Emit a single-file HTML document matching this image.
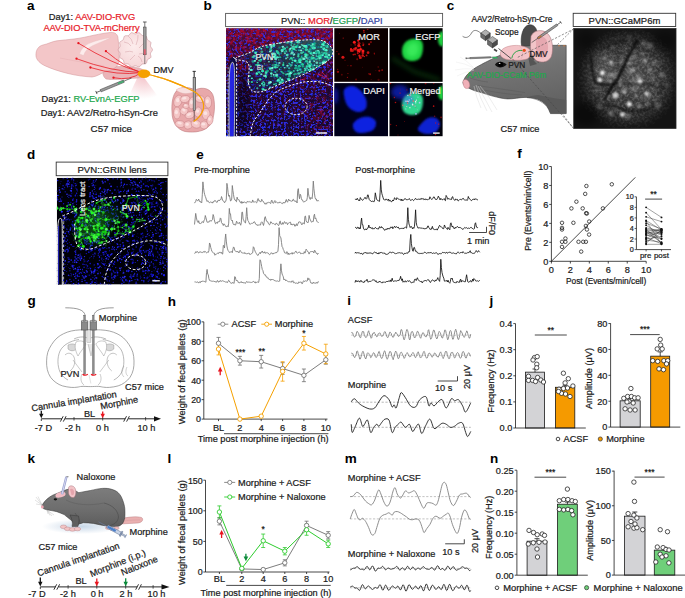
<!DOCTYPE html>
<html><head><meta charset="utf-8"><style>
html,body{margin:0;padding:0;background:#fff;}
svg{display:block;}
text{font-family:"Liberation Sans", sans-serif;}
</style></head><body>
<svg width="685" height="598" viewBox="0 0 685 598">
<defs>
<clipPath id="cb"><rect x="226.0" y="28.2" width="107.0" height="107.99999999999999"/></clipPath>
<filter id="fb_blue" x="226" y="28.2" width="107" height="108" filterUnits="userSpaceOnUse" color-interpolation-filters="sRGB"><feTurbulence type="fractalNoise" baseFrequency="0.45" numOctaves="2" seed="3" result="n"/><feColorMatrix in="n" type="matrix" values="0 0 0 0 0.16 0 0 0 0 0.2 0 0 0 0 1.0 0 7 0 0 -3.5" result="l0"/><feMerge result="m"><feMergeNode in="l0"/></feMerge><feGaussianBlur in="m" stdDeviation="0.35"/></filter>
<filter id="fb_red" x="226" y="28.2" width="107" height="108" filterUnits="userSpaceOnUse" color-interpolation-filters="sRGB"><feTurbulence type="fractalNoise" baseFrequency="0.3" numOctaves="2" seed="9" result="n"/><feColorMatrix in="n" type="matrix" values="0 0 0 0 0.7 0 0 0 0 0.03 0 0 0 0 0.14 3.0 0 0 0 -1.25" result="l0"/><feMerge result="m"><feMergeNode in="l0"/></feMerge><feGaussianBlur in="m" stdDeviation="0.5"/></filter>
<linearGradient id="gb_mask" x1="0" y1="0" x2="0" y2="1"><stop offset="0" stop-color="#fff" stop-opacity="1"/><stop offset="0.25" stop-color="#fff" stop-opacity="0.75"/><stop offset="0.55" stop-color="#fff" stop-opacity="0.25"/><stop offset="1" stop-color="#fff" stop-opacity="0.15"/></linearGradient>
<radialGradient id="gb_mask2" cx="0.5" cy="0.5" r="0.5"><stop offset="0" stop-color="#fff" stop-opacity="0.6"/><stop offset="1" stop-color="#fff" stop-opacity="0"/></radialGradient>
<mask id="mb_red" maskUnits="userSpaceOnUse" x="226.0" y="28.2" width="107.0" height="107.99999999999999"><rect x="226.0" y="28.2" width="107.0" height="107.99999999999999" fill="url(#gb_mask)"/><ellipse cx="322" cy="115" rx="30" ry="30" fill="url(#gb_mask2)"/></mask>
<linearGradient id="gb_red" x1="0" y1="0" x2="0" y2="1"><stop offset="0" stop-color="#a01040" stop-opacity="0.55"/><stop offset="0.3" stop-color="#801040" stop-opacity="0.25"/><stop offset="1" stop-color="#401060" stop-opacity="0.1"/></linearGradient>
<linearGradient id="gpvn" x1="0" y1="0.5" x2="1" y2="0.3"><stop offset="0" stop-color="#0a1850" stop-opacity="0.3"/><stop offset="0.5" stop-color="#0a4a50" stop-opacity="0.6"/><stop offset="1" stop-color="#108070" stop-opacity="0.7"/></linearGradient>
<filter id="bl1" x="-50%" y="-50%" width="200%" height="200%"><feGaussianBlur stdDeviation="1.2"/></filter>
<filter id="bl2" x="-50%" y="-50%" width="200%" height="200%"><feGaussianBlur stdDeviation="2.2"/></filter>
<filter id="bl05" x="-50%" y="-50%" width="200%" height="200%"><feGaussianBlur stdDeviation="0.5"/></filter>
<clipPath id="cmor"><rect x="334.3" y="28.2" width="53.7" height="53.6"/></clipPath>
<clipPath id="cegfp"><rect x="389.5" y="28.2" width="53.1" height="53.6"/></clipPath>
<clipPath id="cdapi"><rect x="334.3" y="83.1" width="53.7" height="53.1"/></clipPath>
<clipPath id="cmrg"><rect x="389.5" y="83.1" width="53.1" height="53.1"/></clipPath>
<clipPath id="cc"><rect x="573.7" y="28.4" width="102.3" height="100.2"/></clipPath>
<radialGradient id="gc1" cx="0.5" cy="0.5" r="0.5"><stop offset="0" stop-color="#3c3c3c"/><stop offset="0.5" stop-color="#333"/><stop offset="0.8" stop-color="#242424"/><stop offset="1" stop-color="#161616" stop-opacity="0"/></radialGradient>
<radialGradient id="gcm" cx="0.5" cy="0.5" r="0.5"><stop offset="0" stop-color="#fff"/><stop offset="0.6" stop-color="#fff"/><stop offset="1" stop-color="#fff" stop-opacity="0.15"/></radialGradient>
<mask id="mc1" maskUnits="userSpaceOnUse" x="573" y="28" width="104" height="101"><ellipse cx="628" cy="79" rx="52" ry="52" fill="url(#gcm)"/></mask>
<filter id="fc1" x="573.7" y="28.4" width="102.3" height="100.2" filterUnits="userSpaceOnUse" color-interpolation-filters="sRGB"><feTurbulence type="fractalNoise" baseFrequency="0.4" numOctaves="2" seed="7" result="n"/><feColorMatrix in="n" type="matrix" values="0 0 0 0 1 0 0 0 0 1 0 0 0 0 1 2.0 0 0 0 -0.75" result="l0"/><feMerge result="m"><feMergeNode in="l0"/></feMerge><feGaussianBlur in="m" stdDeviation="0.3"/></filter>
<filter id="bl15" x="-50%" y="-50%" width="200%" height="200%"><feGaussianBlur stdDeviation="1.5"/></filter>
<filter id="bl4" x="-50%" y="-50%" width="200%" height="200%"><feGaussianBlur stdDeviation="4"/></filter>
<filter id="bl4d" x="-50%" y="-50%" width="200%" height="200%"><feGaussianBlur stdDeviation="4"/></filter>
<clipPath id="cd"><rect x="56.8" y="177.8" width="111" height="106.8"/></clipPath>
<filter id="fd1" x="56.8" y="177.8" width="111" height="106.8" filterUnits="userSpaceOnUse" color-interpolation-filters="sRGB"><feTurbulence type="fractalNoise" baseFrequency="0.42" numOctaves="2" seed="12" result="n"/><feColorMatrix in="n" type="matrix" values="0 0 0 0 0.12 0 0 0 0 0.15 0 0 0 0 1.0 0 0 6 0 -3.2" result="l0"/><feMerge result="m"><feMergeNode in="l0"/></feMerge></filter>
<radialGradient id="gcone" cx="0.5" cy="0.2" r="0.7"><stop offset="0" stop-color="#f0b0b8" stop-opacity="0.7"/><stop offset="1" stop-color="#f0b0b8" stop-opacity="0"/></radialGradient>
<radialGradient id="gcb" cx="0.45" cy="0.4" r="0.6"><stop offset="0" stop-color="#fcecec"/><stop offset="1" stop-color="#f6d6d8"/></radialGradient>
<radialGradient id="gint" cx="0.45" cy="0.45" r="0.6"><stop offset="0" stop-color="#f2c0c0"/><stop offset="1" stop-color="#e09a9c"/></radialGradient>
<linearGradient id="ghead" x1="0" y1="0" x2="0.3" y2="1"><stop offset="0" stop-color="#858585"/><stop offset="0.5" stop-color="#727272"/><stop offset="1" stop-color="#636363"/></linearGradient>
<radialGradient id="gsh" cx="0.5" cy="0.5" r="0.5"><stop offset="0" stop-color="#c8d8e8"/><stop offset="1" stop-color="#c8d8e8" stop-opacity="0"/></radialGradient>
<linearGradient id="gbody" x1="0" y1="0" x2="0" y2="1"><stop offset="0" stop-color="#7c7c7c"/><stop offset="0.6" stop-color="#6c6c6c"/><stop offset="1" stop-color="#5c5c5c"/></linearGradient>
</defs>
<text x="27" y="10" font-size="13.5" fill="#000" font-weight="bold">a</text>
<text x="203.6" y="9.6" font-size="13.5" fill="#000" font-weight="bold">b</text>
<text x="446.8" y="9.6" font-size="13.5" fill="#000" font-weight="bold">c</text>
<text x="27" y="158.5" font-size="13.5" fill="#000" font-weight="bold">d</text>
<text x="196.3" y="158.7" font-size="13.5" fill="#000" font-weight="bold">e</text>
<text x="517.3" y="158.2" font-size="13.5" fill="#000" font-weight="bold">f</text>
<text x="27.5" y="305" font-size="13.5" fill="#000" font-weight="bold">g</text>
<text x="167.8" y="306" font-size="13.5" fill="#000" font-weight="bold">h</text>
<text x="347.3" y="305.2" font-size="13.5" fill="#000" font-weight="bold">i</text>
<text x="489.5" y="305.2" font-size="13.5" fill="#000" font-weight="bold">j</text>
<text x="27.6" y="462.7" font-size="13.5" fill="#000" font-weight="bold">k</text>
<text x="167.5" y="462.5" font-size="13.5" fill="#000" font-weight="bold">l</text>
<text x="344.8" y="462.7" font-size="13.5" fill="#000" font-weight="bold">m</text>
<text x="490" y="462.5" font-size="13.5" fill="#000" font-weight="bold">n</text>
<rect x="225.6" y="13.4" width="217" height="13.2" fill="#fff" stroke="#555" stroke-width="0.9"/>
<text x="331.8" y="23.6" font-size="9.4" text-anchor="middle" fill="#1a1a1a" stroke="#1a1a1a" stroke-width="0.22">PVN:: <tspan fill="#e8202a" stroke="#e8202a">MOR</tspan>/<tspan fill="#20a050" stroke="#20a050">EGFP</tspan>/<tspan fill="#3040a0" stroke="#3040a0">DAPI</tspan></text>
<g clip-path="url(#cb)">
<rect x="226" y="28.2" width="107" height="108" fill="#0e0626" stroke="none" stroke-width="0.8"/>
<rect x="226" y="28.2" width="107" height="108" fill="url(#gb_red)" stroke="none" stroke-width="0.8"/>
<rect x="226" y="28.2" width="107" height="108" fill="#000" stroke="none" stroke-width="0.8" filter="url(#fb_blue)" opacity="0.9"/>
<rect x="226" y="28.2" width="107" height="108" fill="#000" stroke="none" stroke-width="0.8" filter="url(#fb_red)" mask="url(#mb_red)"/>
<path d="M228.5,137 C228.45,130.83 228.15,111.17 228.2,100 C228.25,88.83 228.33,76.92 228.8,70 C229.27,63.08 230.05,60.58 231,58.5 C231.95,56.42 233.58,56.92 234.5,57.5 C235.42,58.08 236.08,56.58 236.5,62 C236.92,67.42 236.95,77.5 237,90 C237.05,102.5 236.83,129.17 236.8,137" fill="#0a0a40" stroke="none" stroke-width="0.8" opacity="0.9"/>
<path d="M229.6,137 C229.57,130.83 229.37,110.83 229.4,100 C229.43,89.17 229.47,78 229.8,72 C230.13,66 230.83,65.25 231.4,64 C231.97,62.75 232.77,62.67 233.2,64.5 C233.63,66.33 233.87,67.42 234,75 C234.13,82.58 234.03,99.67 234,110 C233.97,120.33 233.83,132.5 233.8,137" fill="#2a2aff" stroke="none" stroke-width="0.8" opacity="0.85"/>
<ellipse cx="243" cy="100" rx="7" ry="30" fill="#000010" opacity="0.45" filter="url(#bl2)"/>
<path d="M235.2,58.8 C235.2,57.08 243.92,55.23 248.3,53.2 C252.68,51.17 256.18,48.32 261.5,46.6 C266.82,44.88 273.03,44 280.2,42.9 C287.37,41.8 297.32,40.32 304.5,40 C311.68,39.68 318.62,39.28 323.3,41 C327.98,42.72 331.67,47.18 332.6,50.3 C333.53,53.42 332.02,56.57 328.9,59.7 C325.78,62.83 318.9,66.28 313.9,69.1 C308.9,71.92 304.52,74.1 298.9,76.6 C293.28,79.1 286.43,81.6 280.2,84.1 C273.97,86.6 266.18,90.52 261.5,91.6 C256.82,92.68 254.3,92.17 252.1,90.6 C249.9,89.03 248.93,86.72 248.3,82.2 C247.67,77.68 250.48,67.4 248.3,63.5 C246.12,59.6 235.2,60.52 235.2,58.8Z" fill="url(#gpvn)" stroke="none" stroke-width="0.8"/>
<ellipse cx="265.18" cy="90" rx="1.31" ry="1.09" fill="#30e8b0" opacity="0.65"/>
<ellipse cx="317.2" cy="65.84" rx="0.75" ry="0.62" fill="#10b090" opacity="0.78"/>
<ellipse cx="252.97" cy="51.41" rx="0.94" ry="0.79" fill="#10b090" opacity="0.79"/>
<ellipse cx="279.39" cy="82.97" rx="0.77" ry="0.64" fill="#20d0a0" opacity="0.88"/>
<ellipse cx="296.76" cy="46.53" rx="1.51" ry="1.26" fill="#10b090" opacity="0.88"/>
<ellipse cx="297.01" cy="62.59" rx="1.44" ry="1.2" fill="#10b090" opacity="0.65"/>
<ellipse cx="313.02" cy="44.17" rx="1.31" ry="1.09" fill="#80ffe0" opacity="0.94"/>
<ellipse cx="289.82" cy="49.48" rx="1.16" ry="0.97" fill="#40f0c0" opacity="0.86"/>
<ellipse cx="271.32" cy="50.65" rx="0.93" ry="0.78" fill="#50ffd0" opacity="0.93"/>
<ellipse cx="324.34" cy="48.29" rx="0.86" ry="0.72" fill="#80ffe0" opacity="0.94"/>
<ellipse cx="315.88" cy="59.16" rx="1.2" ry="1" fill="#20d0a0" opacity="0.66"/>
<ellipse cx="295.2" cy="60.58" rx="0.78" ry="0.65" fill="#80ffe0" opacity="0.64"/>
<ellipse cx="263.7" cy="85.38" rx="1.53" ry="1.28" fill="#40f0c0" opacity="0.67"/>
<ellipse cx="275.04" cy="61.84" rx="0.89" ry="0.74" fill="#20d0a0" opacity="0.8"/>
<ellipse cx="287.11" cy="47.19" rx="1.21" ry="1.01" fill="#10b090" opacity="0.86"/>
<ellipse cx="309.02" cy="66.27" rx="1.5" ry="1.25" fill="#40f0c0" opacity="0.76"/>
<ellipse cx="277.11" cy="50.95" rx="1.09" ry="0.91" fill="#30e8b0" opacity="0.68"/>
<ellipse cx="295.64" cy="65.58" rx="1.04" ry="0.87" fill="#40f0c0" opacity="0.86"/>
<ellipse cx="320.39" cy="55.54" rx="1.23" ry="1.03" fill="#80ffe0" opacity="0.81"/>
<ellipse cx="306.47" cy="57.86" rx="1.21" ry="1.01" fill="#80ffe0" opacity="0.77"/>
<ellipse cx="310.25" cy="53.36" rx="0.82" ry="0.68" fill="#50ffd0" opacity="0.99"/>
<ellipse cx="269.39" cy="82.74" rx="1.56" ry="1.3" fill="#80ffe0" opacity="0.76"/>
<ellipse cx="318.85" cy="58.5" rx="1.39" ry="1.16" fill="#10b090" opacity="0.63"/>
<ellipse cx="285.92" cy="74.47" rx="1.2" ry="1" fill="#20d0a0" opacity="0.84"/>
<ellipse cx="298.38" cy="55.92" rx="1.02" ry="0.85" fill="#50ffd0" opacity="0.63"/>
<ellipse cx="299.25" cy="62.03" rx="1.47" ry="1.23" fill="#20d0a0" opacity="0.77"/>
<ellipse cx="314.62" cy="44.29" rx="0.97" ry="0.81" fill="#20d0a0" opacity="0.73"/>
<ellipse cx="262.7" cy="89.11" rx="1.38" ry="1.15" fill="#20d0a0" opacity="0.93"/>
<ellipse cx="310.52" cy="64.38" rx="1.51" ry="1.26" fill="#20d0a0" opacity="0.97"/>
<ellipse cx="260.04" cy="79.39" rx="1.47" ry="1.22" fill="#40f0c0" opacity="0.87"/>
<ellipse cx="270.57" cy="82.16" rx="1.3" ry="1.08" fill="#80ffe0" opacity="0.97"/>
<ellipse cx="302.62" cy="45.59" rx="0.75" ry="0.62" fill="#50ffd0" opacity="0.8"/>
<ellipse cx="271.35" cy="58.88" rx="1.55" ry="1.29" fill="#80ffe0" opacity="0.61"/>
<ellipse cx="254.46" cy="55.95" rx="1.43" ry="1.19" fill="#80ffe0" opacity="0.69"/>
<ellipse cx="277.5" cy="57.35" rx="1.4" ry="1.17" fill="#50ffd0" opacity="0.9"/>
<ellipse cx="290.38" cy="64.63" rx="0.87" ry="0.72" fill="#20d0a0" opacity="0.86"/>
<ellipse cx="310.99" cy="69.95" rx="1.43" ry="1.19" fill="#50ffd0" opacity="0.76"/>
<ellipse cx="289.25" cy="73.8" rx="1.47" ry="1.23" fill="#10b090" opacity="0.74"/>
<ellipse cx="277.16" cy="70.82" rx="1.11" ry="0.93" fill="#10b090" opacity="0.68"/>
<ellipse cx="293.79" cy="74.26" rx="0.84" ry="0.7" fill="#10b090" opacity="0.7"/>
<ellipse cx="323.47" cy="49.46" rx="0.75" ry="0.63" fill="#80ffe0" opacity="0.93"/>
<ellipse cx="256.41" cy="55.03" rx="0.76" ry="0.63" fill="#20d0a0" opacity="0.73"/>
<ellipse cx="282.84" cy="46.83" rx="1.32" ry="1.1" fill="#80ffe0" opacity="0.88"/>
<ellipse cx="313.5" cy="55.7" rx="0.77" ry="0.64" fill="#80ffe0" opacity="0.72"/>
<ellipse cx="272.39" cy="53.67" rx="1.39" ry="1.16" fill="#80ffe0" opacity="0.88"/>
<ellipse cx="314.44" cy="65.2" rx="0.98" ry="0.82" fill="#80ffe0" opacity="0.96"/>
<ellipse cx="289.35" cy="63.54" rx="1.03" ry="0.86" fill="#20d0a0" opacity="0.85"/>
<ellipse cx="299.32" cy="47.57" rx="0.91" ry="0.75" fill="#80ffe0" opacity="0.87"/>
<ellipse cx="326.83" cy="56.9" rx="1.37" ry="1.14" fill="#30e8b0" opacity="0.78"/>
<ellipse cx="327.03" cy="60.16" rx="0.82" ry="0.68" fill="#10b090" opacity="0.87"/>
<ellipse cx="306.19" cy="55.9" rx="1.46" ry="1.21" fill="#30e8b0" opacity="0.84"/>
<ellipse cx="269.56" cy="68.02" rx="1.25" ry="1.04" fill="#30e8b0" opacity="0.62"/>
<ellipse cx="324.37" cy="42.13" rx="1.21" ry="1.01" fill="#20d0a0" opacity="0.95"/>
<ellipse cx="290.74" cy="65.94" rx="1.1" ry="0.91" fill="#10b090" opacity="0.95"/>
<ellipse cx="260.24" cy="56.47" rx="1.18" ry="0.98" fill="#10b090" opacity="0.85"/>
<ellipse cx="284.75" cy="48.68" rx="1.39" ry="1.15" fill="#50ffd0" opacity="0.74"/>
<ellipse cx="287.45" cy="42.5" rx="1.43" ry="1.19" fill="#30e8b0" opacity="0.67"/>
<ellipse cx="307.84" cy="62.21" rx="0.74" ry="0.62" fill="#50ffd0" opacity="0.72"/>
<ellipse cx="291.91" cy="65.03" rx="0.8" ry="0.67" fill="#80ffe0" opacity="0.75"/>
<ellipse cx="274.24" cy="44.63" rx="1.13" ry="0.94" fill="#40f0c0" opacity="0.78"/>
<ellipse cx="306.49" cy="45.9" rx="1.05" ry="0.87" fill="#50ffd0" opacity="0.87"/>
<ellipse cx="326.19" cy="50.23" rx="1.4" ry="1.17" fill="#50ffd0" opacity="0.99"/>
<ellipse cx="277.5" cy="81.32" rx="1.19" ry="0.99" fill="#10b090" opacity="0.98"/>
<ellipse cx="264.68" cy="84.01" rx="0.84" ry="0.7" fill="#50ffd0" opacity="0.95"/>
<ellipse cx="277.23" cy="76.3" rx="0.94" ry="0.78" fill="#80ffe0" opacity="0.75"/>
<ellipse cx="302.89" cy="48.35" rx="1.13" ry="0.94" fill="#30e8b0" opacity="0.8"/>
<ellipse cx="320.17" cy="57.81" rx="1.17" ry="0.98" fill="#30e8b0" opacity="0.7"/>
<ellipse cx="261.81" cy="51.66" rx="1.49" ry="1.24" fill="#30e8b0" opacity="0.68"/>
<ellipse cx="255.03" cy="60.62" rx="0.95" ry="0.79" fill="#30e8b0" opacity="0.97"/>
<ellipse cx="312.89" cy="47.68" rx="1.54" ry="1.28" fill="#80ffe0" opacity="0.85"/>
<ellipse cx="312.76" cy="45.96" rx="1.33" ry="1.11" fill="#80ffe0" opacity="0.7"/>
<ellipse cx="316.43" cy="55.94" rx="0.94" ry="0.78" fill="#40f0c0" opacity="0.9"/>
<ellipse cx="323.76" cy="45.21" rx="1.21" ry="1.01" fill="#80ffe0" opacity="0.76"/>
<ellipse cx="288.57" cy="79.02" rx="1.51" ry="1.26" fill="#40f0c0" opacity="0.83"/>
<ellipse cx="311.48" cy="44.02" rx="0.99" ry="0.83" fill="#10b090" opacity="0.82"/>
<ellipse cx="298.59" cy="42.29" rx="1.46" ry="1.22" fill="#80ffe0" opacity="0.68"/>
<ellipse cx="274.66" cy="64.68" rx="1.2" ry="1" fill="#20d0a0" opacity="0.74"/>
<ellipse cx="304.62" cy="59.12" rx="1.19" ry="1" fill="#30e8b0" opacity="0.65"/>
<ellipse cx="299.28" cy="66.14" rx="1.45" ry="1.21" fill="#30e8b0" opacity="0.9"/>
<ellipse cx="304.12" cy="45.91" rx="1.26" ry="1.05" fill="#50ffd0" opacity="0.71"/>
<ellipse cx="259.25" cy="60.43" rx="1.09" ry="0.91" fill="#50ffd0" opacity="0.76"/>
<ellipse cx="304.11" cy="58.07" rx="1" ry="0.83" fill="#40f0c0" opacity="0.76"/>
<ellipse cx="268.95" cy="61.76" rx="1" ry="0.83" fill="#80ffe0" opacity="0.81"/>
<ellipse cx="273.79" cy="53.62" rx="0.73" ry="0.61" fill="#30e8b0" opacity="0.86"/>
<ellipse cx="323.9" cy="43.2" rx="1.22" ry="1.02" fill="#20d0a0" opacity="0.98"/>
<ellipse cx="270.57" cy="68.28" rx="0.95" ry="0.79" fill="#40f0c0" opacity="0.94"/>
<ellipse cx="286.3" cy="51.38" rx="0.91" ry="0.76" fill="#50ffd0" opacity="0.62"/>
<ellipse cx="305.16" cy="46.31" rx="1.43" ry="1.19" fill="#80ffe0" opacity="0.89"/>
<ellipse cx="276.07" cy="64.91" rx="1.13" ry="0.94" fill="#30e8b0" opacity="0.93"/>
<ellipse cx="275.37" cy="56.26" rx="1.12" ry="0.93" fill="#30e8b0" opacity="0.9"/>
<ellipse cx="299.07" cy="50.42" rx="0.97" ry="0.81" fill="#30e8b0" opacity="0.72"/>
<ellipse cx="322.65" cy="55.1" rx="1.24" ry="1.03" fill="#50ffd0" opacity="0.94"/>
<ellipse cx="271.05" cy="48.63" rx="0.97" ry="0.81" fill="#80ffe0" opacity="0.88"/>
<ellipse cx="306.54" cy="68.19" rx="1.41" ry="1.18" fill="#40f0c0" opacity="0.64"/>
<ellipse cx="323.51" cy="48.5" rx="1.29" ry="1.08" fill="#50ffd0" opacity="0.76"/>
<ellipse cx="306.3" cy="47.35" rx="1.3" ry="1.08" fill="#30e8b0" opacity="0.94"/>
<ellipse cx="276.63" cy="62.93" rx="0.8" ry="0.67" fill="#30e8b0" opacity="0.71"/>
<ellipse cx="313.79" cy="60.9" rx="1" ry="0.83" fill="#40f0c0" opacity="0.6"/>
<ellipse cx="301.6" cy="45.88" rx="0.83" ry="0.69" fill="#10b090" opacity="0.81"/>
<ellipse cx="326.6" cy="53.27" rx="1.21" ry="1.01" fill="#50ffd0" opacity="0.61"/>
<ellipse cx="309.69" cy="59.76" rx="0.98" ry="0.82" fill="#30e8b0" opacity="0.67"/>
<ellipse cx="321.23" cy="55.68" rx="0.95" ry="0.8" fill="#20d0a0" opacity="0.83"/>
<ellipse cx="306.57" cy="61.33" rx="1.55" ry="1.29" fill="#20d0a0" opacity="0.91"/>
<ellipse cx="275.71" cy="55.03" rx="1.05" ry="0.88" fill="#10b090" opacity="0.81"/>
<ellipse cx="278.15" cy="52.91" rx="1.51" ry="1.25" fill="#30e8b0" opacity="0.85"/>
<ellipse cx="256.29" cy="58.41" rx="1.28" ry="1.06" fill="#20d0a0" opacity="0.63"/>
<ellipse cx="325.12" cy="56.81" rx="1.13" ry="0.94" fill="#50ffd0" opacity="0.81"/>
<ellipse cx="311.69" cy="46.64" rx="1.37" ry="1.14" fill="#10b090" opacity="0.8"/>
<ellipse cx="294.37" cy="74.81" rx="0.72" ry="0.6" fill="#40f0c0" opacity="0.73"/>
<ellipse cx="327.06" cy="47.06" rx="1.44" ry="1.2" fill="#40f0c0" opacity="0.65"/>
<ellipse cx="261.04" cy="59.65" rx="1.2" ry="1" fill="#30e8b0" opacity="0.97"/>
<ellipse cx="325.93" cy="54.07" rx="1.28" ry="1.07" fill="#30e8b0" opacity="0.78"/>
<ellipse cx="260.52" cy="60.98" rx="1.13" ry="0.94" fill="#10b090" opacity="0.93"/>
<ellipse cx="280.82" cy="67.47" rx="0.79" ry="0.65" fill="#10b090" opacity="0.76"/>
<ellipse cx="292.85" cy="54.34" rx="0.78" ry="0.65" fill="#20d0a0" opacity="0.82"/>
<ellipse cx="276.54" cy="76.21" rx="1.01" ry="0.84" fill="#40f0c0" opacity="0.96"/>
<ellipse cx="276.13" cy="75.44" rx="1.23" ry="1.02" fill="#30e8b0" opacity="0.69"/>
<ellipse cx="323.78" cy="53.14" rx="0.83" ry="0.7" fill="#40f0c0" opacity="0.9"/>
<ellipse cx="316.55" cy="51.53" rx="1.51" ry="1.26" fill="#50ffd0" opacity="0.66"/>
<ellipse cx="325.07" cy="53.17" rx="1.12" ry="0.93" fill="#10b090" opacity="0.64"/>
<ellipse cx="321.97" cy="52.29" rx="0.84" ry="0.7" fill="#40f0c0" opacity="0.67"/>
<ellipse cx="280.58" cy="82.43" rx="0.91" ry="0.76" fill="#40f0c0" opacity="0.72"/>
<ellipse cx="310.7" cy="68.67" rx="0.96" ry="0.8" fill="#40f0c0" opacity="0.99"/>
<ellipse cx="301.12" cy="50.31" rx="1.12" ry="0.93" fill="#80ffe0" opacity="0.97"/>
<ellipse cx="310.93" cy="52.71" rx="1.24" ry="1.03" fill="#40f0c0" opacity="0.66"/>
<ellipse cx="265.71" cy="75.04" rx="1.06" ry="0.89" fill="#40f0c0" opacity="0.96"/>
<ellipse cx="299.48" cy="60.33" rx="1.54" ry="1.28" fill="#30e8b0" opacity="0.84"/>
<ellipse cx="292.09" cy="47.38" rx="1.37" ry="1.14" fill="#50ffd0" opacity="0.61"/>
<ellipse cx="269.98" cy="87.38" rx="1.12" ry="0.93" fill="#40f0c0" opacity="0.86"/>
<ellipse cx="264.04" cy="75.75" rx="1.31" ry="1.09" fill="#80ffe0" opacity="0.61"/>
<ellipse cx="297.55" cy="42.69" rx="0.9" ry="0.75" fill="#20d0a0" opacity="0.65"/>
<ellipse cx="320.98" cy="57.18" rx="0.74" ry="0.61" fill="#40f0c0" opacity="0.88"/>
<ellipse cx="270.96" cy="45.31" rx="1.45" ry="1.21" fill="#80ffe0" opacity="0.79"/>
<ellipse cx="309.02" cy="44.75" rx="0.98" ry="0.81" fill="#20d0a0" opacity="0.91"/>
<ellipse cx="283.16" cy="80.5" rx="0.84" ry="0.7" fill="#30e8b0" opacity="0.7"/>
<ellipse cx="271.98" cy="68.57" rx="1.23" ry="1.03" fill="#80ffe0" opacity="0.75"/>
<ellipse cx="310.03" cy="61.01" rx="0.95" ry="0.79" fill="#80ffe0" opacity="0.64"/>
<ellipse cx="303.35" cy="51.8" rx="0.85" ry="0.71" fill="#10b090" opacity="0.76"/>
<ellipse cx="294.41" cy="44.46" rx="1.08" ry="0.9" fill="#20d0a0" opacity="0.8"/>
<ellipse cx="280.19" cy="77.98" rx="1.14" ry="0.95" fill="#30e8b0" opacity="0.94"/>
<ellipse cx="298.44" cy="40.81" rx="1.55" ry="1.29" fill="#40f0c0" opacity="0.69"/>
<ellipse cx="263.11" cy="82.12" rx="0.93" ry="0.78" fill="#40f0c0" opacity="0.98"/>
<ellipse cx="281.3" cy="52.97" rx="0.87" ry="0.73" fill="#30e8b0" opacity="0.64"/>
<ellipse cx="298.28" cy="56.34" rx="1.23" ry="1.02" fill="#30e8b0" opacity="0.64"/>
<ellipse cx="311.26" cy="52.47" rx="1.2" ry="1" fill="#20d0a0" opacity="0.6"/>
<ellipse cx="313.33" cy="43.48" rx="0.92" ry="0.77" fill="#10b090" opacity="0.62"/>
<ellipse cx="314.21" cy="45.76" rx="1.45" ry="1.21" fill="#10b090" opacity="0.9"/>
<ellipse cx="307.96" cy="54.88" rx="0.8" ry="0.67" fill="#40f0c0" opacity="0.77"/>
<ellipse cx="272.91" cy="54.79" rx="0.91" ry="0.75" fill="#30e8b0" opacity="0.73"/>
<ellipse cx="286.13" cy="58.46" rx="1.03" ry="0.86" fill="#80ffe0" opacity="0.73"/>
<ellipse cx="272.58" cy="65.27" rx="1.13" ry="0.94" fill="#20d0a0" opacity="0.65"/>
<ellipse cx="282.2" cy="50.85" rx="1.54" ry="1.28" fill="#80ffe0" opacity="0.84"/>
<ellipse cx="293.51" cy="57.57" rx="0.92" ry="0.77" fill="#40f0c0" opacity="0.8"/>
<ellipse cx="296.42" cy="65.78" rx="0.78" ry="0.65" fill="#50ffd0" opacity="0.75"/>
<ellipse cx="270.71" cy="49.21" rx="1.5" ry="1.25" fill="#10b090" opacity="0.84"/>
<ellipse cx="271.36" cy="73.49" rx="1.39" ry="1.16" fill="#40f0c0" opacity="0.99"/>
<ellipse cx="291.2" cy="45.11" rx="0.94" ry="0.79" fill="#40f0c0" opacity="0.92"/>
<ellipse cx="293.49" cy="48.8" rx="1.46" ry="1.22" fill="#30e8b0" opacity="0.99"/>
<ellipse cx="292.11" cy="62.5" rx="0.88" ry="0.74" fill="#40f0c0" opacity="0.86"/>
<ellipse cx="265.43" cy="76.15" rx="1.15" ry="0.95" fill="#80ffe0" opacity="0.99"/>
<ellipse cx="290.9" cy="53.69" rx="1.13" ry="0.94" fill="#30e8b0" opacity="0.61"/>
<ellipse cx="259.23" cy="72.3" rx="1.22" ry="1.02" fill="#30e8b0" opacity="0.98"/>
<ellipse cx="295.2" cy="73.8" rx="1.3" ry="1.08" fill="#10b090" opacity="0.81"/>
<ellipse cx="327.41" cy="45.59" rx="1.02" ry="0.85" fill="#40f0c0" opacity="0.71"/>
<ellipse cx="302.76" cy="66.46" rx="1.28" ry="1.07" fill="#10b090" opacity="0.95"/>
<ellipse cx="271.06" cy="73.79" rx="0.73" ry="0.61" fill="#80ffe0" opacity="0.93"/>
<ellipse cx="284.77" cy="48.36" rx="0.92" ry="0.77" fill="#40f0c0" opacity="0.83"/>
<ellipse cx="268.55" cy="83.98" rx="0.73" ry="0.61" fill="#30e8b0" opacity="0.92"/>
<ellipse cx="309.45" cy="52.69" rx="0.74" ry="0.61" fill="#10b090" opacity="0.6"/>
<ellipse cx="278.27" cy="65.49" rx="1.38" ry="1.15" fill="#30e8b0" opacity="0.65"/>
<ellipse cx="283.26" cy="65" rx="1.21" ry="1.01" fill="#30e8b0" opacity="0.96"/>
<ellipse cx="278.75" cy="59.97" rx="0.74" ry="0.61" fill="#50ffd0" opacity="0.68"/>
<ellipse cx="322.42" cy="63.22" rx="0.83" ry="0.69" fill="#40f0c0" opacity="0.68"/>
<ellipse cx="250.72" cy="66.45" rx="1.1" ry="0.92" fill="#50ffd0" opacity="0.8"/>
<ellipse cx="303.03" cy="64.73" rx="0.88" ry="0.73" fill="#50ffd0" opacity="0.82"/>
<ellipse cx="311.94" cy="53.82" rx="1.18" ry="0.98" fill="#10b090" opacity="0.61"/>
<ellipse cx="257.13" cy="82.32" rx="0.82" ry="0.68" fill="#50ffd0" opacity="0.97"/>
<ellipse cx="297.61" cy="70.4" rx="1.11" ry="0.93" fill="#50ffd0" opacity="0.88"/>
<ellipse cx="298.5" cy="54.16" rx="1.13" ry="0.94" fill="#30e8b0" opacity="0.76"/>
<ellipse cx="264.8" cy="58.1" rx="1.49" ry="1.24" fill="#50ffd0" opacity="0.67"/>
<ellipse cx="324.72" cy="49.74" rx="1.47" ry="1.22" fill="#40f0c0" opacity="0.66"/>
<ellipse cx="301.7" cy="71.74" rx="1.1" ry="0.92" fill="#40f0c0" opacity="0.62"/>
<ellipse cx="283.45" cy="63.07" rx="0.87" ry="0.72" fill="#30e8b0" opacity="0.96"/>
<ellipse cx="325.74" cy="46.09" rx="1.19" ry="1" fill="#10b090" opacity="0.96"/>
<ellipse cx="270.05" cy="68.92" rx="1.07" ry="0.89" fill="#50ffd0" opacity="0.84"/>
<ellipse cx="294.63" cy="76.89" rx="0.79" ry="0.66" fill="#10b090" opacity="0.68"/>
<ellipse cx="266.45" cy="71.62" rx="1.43" ry="1.19" fill="#20d0a0" opacity="0.9"/>
<ellipse cx="304.19" cy="72.17" rx="1.03" ry="0.86" fill="#10b090" opacity="0.95"/>
<ellipse cx="310.39" cy="64.54" rx="0.93" ry="0.78" fill="#10b090" opacity="0.65"/>
<ellipse cx="314.81" cy="43.28" rx="1.17" ry="0.98" fill="#10b090" opacity="0.88"/>
<ellipse cx="257.01" cy="74.03" rx="1.45" ry="1.2" fill="#20d0a0" opacity="0.89"/>
<ellipse cx="289.65" cy="51.06" rx="0.91" ry="0.76" fill="#40f0c0" opacity="0.82"/>
<ellipse cx="262.23" cy="83.41" rx="1.18" ry="0.99" fill="#20d0a0" opacity="0.73"/>
<ellipse cx="275.62" cy="58.99" rx="1.46" ry="1.21" fill="#80ffe0" opacity="0.79"/>
<ellipse cx="309.75" cy="67.59" rx="0.93" ry="0.78" fill="#80ffe0" opacity="0.61"/>
<ellipse cx="301.6" cy="52.86" rx="1.52" ry="1.27" fill="#40f0c0" opacity="0.69"/>
<ellipse cx="289.51" cy="76.1" rx="1.55" ry="1.29" fill="#20d0a0" opacity="0.81"/>
<ellipse cx="275.15" cy="55.09" rx="1.09" ry="0.91" fill="#50ffd0" opacity="0.97"/>
<ellipse cx="318.96" cy="56.57" rx="1.49" ry="1.24" fill="#20d0a0" opacity="0.75"/>
<ellipse cx="264.5" cy="63.93" rx="0.83" ry="0.69" fill="#30e8b0" opacity="0.64"/>
<ellipse cx="260.72" cy="53.96" rx="0.77" ry="0.64" fill="#80ffe0" opacity="0.74"/>
<ellipse cx="266.06" cy="72.85" rx="1.43" ry="1.19" fill="#40f0c0" opacity="0.89"/>
<ellipse cx="287.57" cy="57.33" rx="0.99" ry="0.83" fill="#50ffd0" opacity="0.66"/>
<ellipse cx="295.15" cy="60.69" rx="1.52" ry="1.27" fill="#50ffd0" opacity="0.93"/>
<ellipse cx="248.58" cy="81.77" rx="1.12" ry="0.93" fill="#80ffe0" opacity="0.76"/>
<ellipse cx="259.64" cy="65.47" rx="1.06" ry="0.88" fill="#80ffe0" opacity="0.77"/>
<ellipse cx="262.02" cy="83.68" rx="1.09" ry="0.9" fill="#40f0c0" opacity="0.81"/>
<ellipse cx="283.57" cy="49.18" rx="1.31" ry="1.09" fill="#20d0a0" opacity="0.96"/>
<ellipse cx="293.8" cy="70.98" rx="1.06" ry="0.88" fill="#40f0c0" opacity="0.75"/>
<ellipse cx="313.63" cy="48.39" rx="1.34" ry="1.12" fill="#50ffd0" opacity="0.68"/>
<ellipse cx="309.78" cy="61.99" rx="1.12" ry="0.93" fill="#80ffe0" opacity="0.89"/>
<ellipse cx="291.76" cy="43.01" rx="0.89" ry="0.74" fill="#50ffd0" opacity="0.83"/>
<ellipse cx="319.51" cy="57.97" rx="1.2" ry="1" fill="#80ffe0" opacity="0.75"/>
<ellipse cx="257.91" cy="71.98" rx="0.78" ry="0.65" fill="#20d0a0" opacity="0.67"/>
<ellipse cx="299.67" cy="69.88" rx="0.91" ry="0.76" fill="#10b090" opacity="0.61"/>
<ellipse cx="291.87" cy="50.71" rx="1.24" ry="1.04" fill="#10b090" opacity="0.94"/>
<ellipse cx="260.81" cy="68.9" rx="0.89" ry="0.74" fill="#20d0a0" opacity="0.7"/>
<ellipse cx="319.01" cy="51.8" rx="1.01" ry="0.84" fill="#50ffd0" opacity="0.98"/>
<ellipse cx="275.21" cy="57.89" rx="0.93" ry="0.78" fill="#50ffd0" opacity="0.86"/>
<ellipse cx="298.33" cy="68.56" rx="1.5" ry="1.25" fill="#10b090" opacity="0.74"/>
<ellipse cx="276.17" cy="85.55" rx="0.99" ry="0.83" fill="#10b090" opacity="0.63"/>
<ellipse cx="320.85" cy="58.22" rx="0.84" ry="0.7" fill="#50ffd0" opacity="0.75"/>
<ellipse cx="289.62" cy="74.14" rx="1.27" ry="1.06" fill="#40f0c0" opacity="0.84"/>
<ellipse cx="293.78" cy="55.1" rx="0.86" ry="0.71" fill="#80ffe0" opacity="0.98"/>
<ellipse cx="279.3" cy="54.82" rx="0.73" ry="0.61" fill="#30e8b0" opacity="1"/>
<ellipse cx="311.08" cy="70.28" rx="0.87" ry="0.73" fill="#10b090" opacity="0.84"/>
<ellipse cx="313.94" cy="52.93" rx="1.32" ry="1.1" fill="#50ffd0" opacity="0.99"/>
<ellipse cx="263.03" cy="54.62" rx="1.02" ry="0.85" fill="#30e8b0" opacity="0.89"/>
<ellipse cx="318.08" cy="51.01" rx="1.18" ry="0.98" fill="#80ffe0" opacity="0.95"/>
<ellipse cx="300.12" cy="58.88" rx="1.39" ry="1.16" fill="#20d0a0" opacity="0.67"/>
<ellipse cx="299.29" cy="66.54" rx="1.2" ry="1" fill="#10b090" opacity="0.78"/>
<ellipse cx="279.6" cy="69.27" rx="0.83" ry="0.69" fill="#30e8b0" opacity="0.97"/>
<ellipse cx="280.02" cy="57.33" rx="1.24" ry="1.03" fill="#30e8b0" opacity="0.69"/>
<ellipse cx="300.29" cy="62.31" rx="1.26" ry="1.05" fill="#50ffd0" opacity="0.96"/>
<ellipse cx="312.17" cy="57.91" rx="1.28" ry="1.06" fill="#30e8b0" opacity="0.68"/>
<ellipse cx="279.54" cy="47.67" rx="1.28" ry="1.06" fill="#10b090" opacity="0.63"/>
<ellipse cx="320.06" cy="63.25" rx="1.16" ry="0.96" fill="#20d0a0" opacity="0.74"/>
<ellipse cx="305.28" cy="54.44" rx="1.45" ry="1.21" fill="#20d0a0" opacity="0.83"/>
<ellipse cx="288.74" cy="80.04" rx="1.34" ry="1.12" fill="#40f0c0" opacity="0.91"/>
<ellipse cx="274.41" cy="53.67" rx="1.51" ry="1.26" fill="#80ffe0" opacity="0.77"/>
<ellipse cx="314.88" cy="47.9" rx="1.16" ry="0.96" fill="#50ffd0" opacity="0.9"/>
<ellipse cx="279.61" cy="43.09" rx="1.01" ry="0.84" fill="#50ffd0" opacity="0.97"/>
<ellipse cx="271.4" cy="76.14" rx="1.09" ry="0.91" fill="#40f0c0" opacity="0.63"/>
<ellipse cx="267.71" cy="70.97" rx="1.39" ry="1.16" fill="#10b090" opacity="0.83"/>
<ellipse cx="295.65" cy="47.16" rx="1.41" ry="1.18" fill="#40f0c0" opacity="0.7"/>
<ellipse cx="300.2" cy="69.46" rx="1.16" ry="0.97" fill="#40f0c0" opacity="0.66"/>
<ellipse cx="266.07" cy="76.89" rx="1.06" ry="0.88" fill="#30e8b0" opacity="0.89"/>
<ellipse cx="306.47" cy="49.66" rx="1.4" ry="1.17" fill="#50ffd0" opacity="0.87"/>
<ellipse cx="277.27" cy="76.78" rx="1.07" ry="0.89" fill="#10b090" opacity="0.98"/>
<ellipse cx="256.66" cy="73.28" rx="1.19" ry="0.99" fill="#50ffd0" opacity="0.89"/>
<ellipse cx="289.16" cy="68.34" rx="1.21" ry="1.01" fill="#40f0c0" opacity="0.62"/>
<ellipse cx="288.85" cy="71.4" rx="0.83" ry="0.69" fill="#30e8b0" opacity="0.71"/>
<ellipse cx="308.93" cy="51.39" rx="1.27" ry="1.06" fill="#40f0c0" opacity="0.89"/>
<ellipse cx="300.34" cy="47.16" rx="0.75" ry="0.62" fill="#80ffe0" opacity="0.69"/>
<ellipse cx="284.67" cy="67.74" rx="0.86" ry="0.72" fill="#50ffd0" opacity="0.93"/>
<ellipse cx="274.52" cy="76.2" rx="1.28" ry="1.06" fill="#10b090" opacity="0.74"/>
<ellipse cx="287.17" cy="54.92" rx="1.45" ry="1.21" fill="#50ffd0" opacity="0.82"/>
<ellipse cx="308.2" cy="44.37" rx="0.79" ry="0.66" fill="#10b090" opacity="1"/>
<ellipse cx="263.61" cy="89.61" rx="1.2" ry="1" fill="#50ffd0" opacity="0.81"/>
<ellipse cx="264.57" cy="68.58" rx="0.85" ry="0.71" fill="#20d0a0" opacity="0.68"/>
<ellipse cx="276.67" cy="74.63" rx="1.48" ry="1.23" fill="#80ffe0" opacity="0.79"/>
<ellipse cx="313.7" cy="69.03" rx="1.44" ry="1.2" fill="#50ffd0" opacity="0.75"/>
<ellipse cx="289.76" cy="59.34" rx="0.82" ry="0.68" fill="#20d0a0" opacity="0.69"/>
<ellipse cx="253.12" cy="61.55" rx="1.56" ry="1.3" fill="#10b090" opacity="0.83"/>
<ellipse cx="251.84" cy="82.07" rx="1.2" ry="1" fill="#20d0a0" opacity="0.99"/>
<ellipse cx="319.63" cy="56.13" rx="1.46" ry="1.21" fill="#20d0a0" opacity="0.92"/>
<ellipse cx="300.59" cy="72.48" rx="0.94" ry="0.78" fill="#20d0a0" opacity="0.87"/>
<ellipse cx="298.49" cy="57.79" rx="0.75" ry="0.63" fill="#10b090" opacity="0.66"/>
<ellipse cx="300.62" cy="60.08" rx="1.45" ry="1.21" fill="#30e8b0" opacity="0.81"/>
<ellipse cx="257.24" cy="88.24" rx="1.13" ry="0.94" fill="#40f0c0" opacity="0.64"/>
<ellipse cx="296.29" cy="74.07" rx="0.81" ry="0.68" fill="#30e8b0" opacity="0.67"/>
<ellipse cx="319.53" cy="59.95" rx="0.75" ry="0.63" fill="#20d0a0" opacity="0.82"/>
<ellipse cx="283.79" cy="49.09" rx="1.09" ry="0.9" fill="#10b090" opacity="0.64"/>
<ellipse cx="257.98" cy="62.68" rx="1.01" ry="0.84" fill="#30e8b0" opacity="0.87"/>
<ellipse cx="297.07" cy="42.12" rx="1.16" ry="0.96" fill="#50ffd0" opacity="0.71"/>
<ellipse cx="287.57" cy="73.94" rx="1.23" ry="1.02" fill="#80ffe0" opacity="0.64"/>
<ellipse cx="313.27" cy="67.25" rx="1.35" ry="1.12" fill="#10b090" opacity="0.7"/>
<ellipse cx="290.8" cy="42.04" rx="1.4" ry="1.17" fill="#50ffd0" opacity="0.73"/>
<ellipse cx="249.94" cy="52.8" rx="0.81" ry="0.68" fill="#10b090" opacity="0.98"/>
<ellipse cx="313.41" cy="47.96" rx="1.16" ry="0.97" fill="#20d0a0" opacity="0.69"/>
<ellipse cx="273.71" cy="45.84" rx="1.51" ry="1.25" fill="#40f0c0" opacity="0.89"/>
<ellipse cx="322.22" cy="54.18" rx="1.12" ry="0.93" fill="#20d0a0" opacity="0.69"/>
<ellipse cx="291.06" cy="72.08" rx="0.96" ry="0.8" fill="#30e8b0" opacity="0.78"/>
<ellipse cx="317.11" cy="65.9" rx="1.18" ry="0.99" fill="#40f0c0" opacity="0.63"/>
<ellipse cx="305.05" cy="46.4" rx="1.31" ry="1.09" fill="#40f0c0" opacity="0.82"/>
<ellipse cx="328.14" cy="57.67" rx="1.19" ry="0.99" fill="#50ffd0" opacity="0.8"/>
<ellipse cx="260.19" cy="48.11" rx="1.05" ry="0.88" fill="#10b090" opacity="0.84"/>
<ellipse cx="312.13" cy="65.96" rx="0.77" ry="0.64" fill="#20d0a0" opacity="0.83"/>
<ellipse cx="259.95" cy="85.6" rx="0.96" ry="0.8" fill="#50ffd0" opacity="0.93"/>
<ellipse cx="311.41" cy="57.31" rx="0.99" ry="0.83" fill="#20d0a0" opacity="0.69"/>
<ellipse cx="278.37" cy="78.77" rx="0.79" ry="0.66" fill="#10b090" opacity="0.65"/>
<ellipse cx="305.39" cy="70.15" rx="1.26" ry="1.05" fill="#40f0c0" opacity="0.9"/>
<ellipse cx="311.62" cy="58.7" rx="0.92" ry="0.76" fill="#80ffe0" opacity="0.77"/>
<ellipse cx="293.42" cy="46.49" rx="1.28" ry="1.07" fill="#80ffe0" opacity="0.63"/>
<ellipse cx="283.41" cy="73.41" rx="1.11" ry="0.93" fill="#30e8b0" opacity="0.68"/>
<ellipse cx="308.72" cy="69.93" rx="1.13" ry="0.94" fill="#40f0c0" opacity="0.97"/>
<ellipse cx="308.86" cy="57.31" rx="1.09" ry="0.91" fill="#10b090" opacity="0.68"/>
<ellipse cx="329.33" cy="55.18" rx="0.72" ry="0.6" fill="#50ffd0" opacity="0.94"/>
<ellipse cx="324.64" cy="52.67" rx="1.17" ry="0.97" fill="#30e8b0" opacity="0.65"/>
<ellipse cx="262.46" cy="71.28" rx="0.75" ry="0.63" fill="#50ffd0" opacity="0.96"/>
<ellipse cx="266.69" cy="46.83" rx="0.88" ry="0.74" fill="#40f0c0" opacity="0.79"/>
<ellipse cx="319.29" cy="53.13" rx="1.35" ry="1.12" fill="#30e8b0" opacity="0.76"/>
<ellipse cx="278.39" cy="80.31" rx="1.52" ry="1.27" fill="#50ffd0" opacity="0.94"/>
<ellipse cx="277.53" cy="52.02" rx="1.5" ry="1.25" fill="#20d0a0" opacity="0.75"/>
<ellipse cx="295.93" cy="46.79" rx="1.26" ry="1.05" fill="#30e8b0" opacity="0.91"/>
<ellipse cx="266.98" cy="85.45" rx="0.8" ry="0.67" fill="#30e8b0" opacity="0.8"/>
<ellipse cx="291.94" cy="58.86" rx="1.42" ry="1.19" fill="#20d0a0" opacity="0.63"/>
<ellipse cx="254.8" cy="60.93" rx="1.11" ry="0.92" fill="#80ffe0" opacity="0.83"/>
<ellipse cx="294.78" cy="49.54" rx="0.88" ry="0.73" fill="#40f0c0" opacity="0.79"/>
<ellipse cx="316.83" cy="62.78" rx="1.39" ry="1.16" fill="#80ffe0" opacity="0.73"/>
<ellipse cx="282.3" cy="81.4" rx="1.46" ry="1.22" fill="#10b090" opacity="1"/>
<ellipse cx="290.6" cy="72.95" rx="1.42" ry="1.18" fill="#80ffe0" opacity="0.95"/>
<ellipse cx="319.27" cy="51.13" rx="0.77" ry="0.64" fill="#10b090" opacity="0.75"/>
<ellipse cx="303.54" cy="58.92" rx="1.42" ry="1.18" fill="#80ffe0" opacity="0.85"/>
<ellipse cx="279.38" cy="62.88" rx="1.17" ry="0.98" fill="#80ffe0" opacity="0.89"/>
<ellipse cx="318.2" cy="56.63" rx="1.03" ry="0.86" fill="#30e8b0" opacity="0.63"/>
<ellipse cx="307.92" cy="58.94" rx="0.86" ry="0.72" fill="#80ffe0" opacity="0.65"/>
<ellipse cx="322.02" cy="44.59" rx="1.19" ry="0.99" fill="#20d0a0" opacity="0.99"/>
<ellipse cx="273.88" cy="56.55" rx="1.35" ry="1.12" fill="#50ffd0" opacity="0.92"/>
<ellipse cx="321.43" cy="46.98" rx="1.32" ry="1.1" fill="#40f0c0" opacity="0.89"/>
<ellipse cx="287.52" cy="65.7" rx="1.24" ry="1.03" fill="#80ffe0" opacity="0.89"/>
<ellipse cx="281.77" cy="50.07" rx="1.21" ry="1.01" fill="#40f0c0" opacity="0.9"/>
<ellipse cx="272.4" cy="67.72" rx="1.21" ry="1.01" fill="#80ffe0" opacity="0.9"/>
<ellipse cx="308.85" cy="65.21" rx="1.39" ry="1.16" fill="#20d0a0" opacity="0.87"/>
<ellipse cx="274.42" cy="67.55" rx="1.2" ry="1" fill="#10b090" opacity="0.76"/>
<ellipse cx="318.53" cy="46.92" rx="1.06" ry="0.88" fill="#10b090" opacity="0.62"/>
<ellipse cx="292.2" cy="52.83" rx="1.52" ry="1.26" fill="#80ffe0" opacity="0.77"/>
<ellipse cx="328.75" cy="54.88" rx="1.39" ry="1.16" fill="#80ffe0" opacity="0.78"/>
<ellipse cx="325.32" cy="61.77" rx="1.34" ry="1.11" fill="#10b090" opacity="0.89"/>
<ellipse cx="292.23" cy="62.67" rx="0.87" ry="0.72" fill="#30e8b0" opacity="0.68"/>
<ellipse cx="296.04" cy="50.45" rx="0.75" ry="0.63" fill="#40f0c0" opacity="0.76"/>
<ellipse cx="259.95" cy="73.04" rx="0.99" ry="0.83" fill="#10b090" opacity="0.85"/>
<ellipse cx="284.72" cy="51.79" rx="1.31" ry="1.1" fill="#10b090" opacity="0.88"/>
<ellipse cx="301.61" cy="44.75" rx="0.92" ry="0.76" fill="#80ffe0" opacity="0.65"/>
<ellipse cx="310.13" cy="49.57" rx="1.52" ry="1.27" fill="#10b090" opacity="0.96"/>
<ellipse cx="307.79" cy="63.86" rx="0.96" ry="0.8" fill="#80ffe0" opacity="0.74"/>
<ellipse cx="323.2" cy="62.91" rx="1.1" ry="0.92" fill="#80ffe0" opacity="0.9"/>
<ellipse cx="311.83" cy="57.46" rx="1.35" ry="1.12" fill="#20d0a0" opacity="0.66"/>
<ellipse cx="282.04" cy="79.66" rx="1.25" ry="1.04" fill="#80ffe0" opacity="0.91"/>
<ellipse cx="314.3" cy="61.37" rx="0.81" ry="0.68" fill="#80ffe0" opacity="0.82"/>
<ellipse cx="306.78" cy="66.24" rx="1.18" ry="0.99" fill="#30e8b0" opacity="0.86"/>
<ellipse cx="285.85" cy="50.46" rx="0.75" ry="0.63" fill="#20d0a0" opacity="0.82"/>
<ellipse cx="316.23" cy="53.42" rx="1.2" ry="1" fill="#50ffd0" opacity="0.65"/>
<ellipse cx="323" cy="62.35" rx="1.36" ry="1.13" fill="#80ffe0" opacity="0.82"/>
<ellipse cx="297.49" cy="45.41" rx="1.14" ry="0.95" fill="#10b090" opacity="0.92"/>
<ellipse cx="309.91" cy="65.97" rx="1.21" ry="1.01" fill="#50ffd0" opacity="0.8"/>
<ellipse cx="302.36" cy="64.17" rx="1.51" ry="1.25" fill="#20d0a0" opacity="0.95"/>
<ellipse cx="274.05" cy="84.29" rx="1.07" ry="0.9" fill="#30e8b0" opacity="0.83"/>
<ellipse cx="271.47" cy="46.9" rx="1.21" ry="1.01" fill="#80ffe0" opacity="0.91"/>
<ellipse cx="277.48" cy="67.35" rx="0.83" ry="0.69" fill="#30e8b0" opacity="0.97"/>
<ellipse cx="311.19" cy="59.33" rx="1.38" ry="1.15" fill="#10b090" opacity="0.68"/>
<ellipse cx="284.97" cy="53.4" rx="1.11" ry="0.93" fill="#80ffe0" opacity="0.67"/>
<ellipse cx="292.73" cy="60.35" rx="1.05" ry="0.87" fill="#40f0c0" opacity="0.75"/>
<ellipse cx="299.73" cy="46.99" rx="1.17" ry="0.97" fill="#80ffe0" opacity="0.83"/>
<ellipse cx="276.35" cy="51.08" rx="0.99" ry="0.83" fill="#40f0c0" opacity="0.66"/>
<ellipse cx="264.29" cy="82.42" rx="0.85" ry="0.71" fill="#20d0a0" opacity="0.86"/>
<ellipse cx="251.31" cy="69.91" rx="1.44" ry="1.2" fill="#50ffd0" opacity="0.94"/>
<ellipse cx="270.02" cy="51.52" rx="1.19" ry="0.99" fill="#80ffe0" opacity="0.87"/>
<ellipse cx="258.19" cy="64.87" rx="1.42" ry="1.19" fill="#20d0a0" opacity="0.99"/>
<ellipse cx="295.22" cy="68.34" rx="1.29" ry="1.07" fill="#30e8b0" opacity="0.62"/>
<ellipse cx="301.55" cy="56.3" rx="0.8" ry="0.67" fill="#20d0a0" opacity="0.63"/>
<ellipse cx="260.31" cy="68.7" rx="1.2" ry="1" fill="#40f0c0" opacity="0.62"/>
<ellipse cx="305.5" cy="56.53" rx="0.83" ry="0.69" fill="#30e8b0" opacity="0.63"/>
<ellipse cx="296.13" cy="68.05" rx="1.42" ry="1.18" fill="#10b090" opacity="0.76"/>
<ellipse cx="257.85" cy="49.41" rx="0.83" ry="0.7" fill="#20d0a0" opacity="0.65"/>
<ellipse cx="292.01" cy="72.28" rx="0.94" ry="0.79" fill="#20d0a0" opacity="0.97"/>
<ellipse cx="271.68" cy="70.48" rx="1.3" ry="1.08" fill="#20d0a0" opacity="0.74"/>
<ellipse cx="273.87" cy="57" rx="1.31" ry="1.09" fill="#80ffe0" opacity="0.86"/>
<ellipse cx="255.69" cy="52.76" rx="1.39" ry="1.16" fill="#50ffd0" opacity="0.75"/>
<ellipse cx="301.9" cy="57.48" rx="1.26" ry="1.05" fill="#30e8b0" opacity="0.63"/>
<ellipse cx="283.01" cy="49.43" rx="0.78" ry="0.65" fill="#40f0c0" opacity="0.74"/>
<ellipse cx="253.03" cy="56.98" rx="1.44" ry="1.2" fill="#30e8b0" opacity="0.72"/>
<ellipse cx="274.1" cy="66.97" rx="0.86" ry="0.72" fill="#40f0c0" opacity="0.75"/>
<ellipse cx="294.28" cy="54.17" rx="1.04" ry="0.86" fill="#80ffe0" opacity="0.85"/>
<ellipse cx="317.49" cy="66.64" rx="1.24" ry="1.04" fill="#10b090" opacity="0.86"/>
<ellipse cx="251.87" cy="78.3" rx="1.06" ry="0.89" fill="#40f0c0" opacity="1"/>
<ellipse cx="290.56" cy="48.6" rx="1.11" ry="0.93" fill="#80ffe0" opacity="0.98"/>
<ellipse cx="329.59" cy="57.7" rx="1.5" ry="1.25" fill="#10b090" opacity="0.99"/>
<ellipse cx="313.41" cy="58.44" rx="1.42" ry="1.18" fill="#30e8b0" opacity="0.73"/>
<ellipse cx="273.71" cy="74.83" rx="0.99" ry="0.82" fill="#80ffe0" opacity="0.98"/>
<ellipse cx="316.1" cy="59.08" rx="0.82" ry="0.68" fill="#40f0c0" opacity="0.65"/>
<ellipse cx="317.54" cy="58.82" rx="0.83" ry="0.69" fill="#40f0c0" opacity="0.9"/>
<ellipse cx="313.9" cy="57.82" rx="0.92" ry="0.76" fill="#50ffd0" opacity="0.7"/>
<ellipse cx="326.19" cy="56.35" rx="1.46" ry="1.21" fill="#40f0c0" opacity="0.67"/>
<ellipse cx="323.87" cy="47.53" rx="0.99" ry="0.83" fill="#10b090" opacity="0.9"/>
<ellipse cx="262.58" cy="70.98" rx="1.53" ry="1.28" fill="#30e8b0" opacity="0.99"/>
<ellipse cx="275.9" cy="83.7" rx="1.15" ry="0.96" fill="#30e8b0" opacity="0.61"/>
<ellipse cx="305.92" cy="49.67" rx="1.36" ry="1.13" fill="#20d0a0" opacity="0.82"/>
<ellipse cx="303.3" cy="52.36" rx="0.9" ry="0.75" fill="#30e8b0" opacity="0.77"/>
<ellipse cx="261.39" cy="74.13" rx="1.16" ry="0.97" fill="#80ffe0" opacity="0.86"/>
<ellipse cx="324.03" cy="60.89" rx="1.54" ry="1.28" fill="#10b090" opacity="0.77"/>
<ellipse cx="317.29" cy="52.05" rx="1.55" ry="1.29" fill="#10b090" opacity="0.86"/>
<ellipse cx="322.86" cy="44.33" rx="1.26" ry="1.05" fill="#50ffd0" opacity="0.86"/>
<ellipse cx="287.01" cy="67.08" rx="0.74" ry="0.61" fill="#10b090" opacity="0.89"/>
<ellipse cx="324.32" cy="62.57" rx="1.54" ry="1.28" fill="#80ffe0" opacity="0.9"/>
<ellipse cx="256.53" cy="64.76" rx="1.33" ry="1.11" fill="#20d0a0" opacity="0.67"/>
<ellipse cx="288.95" cy="71.35" rx="1.52" ry="1.27" fill="#10b090" opacity="0.68"/>
<ellipse cx="298.67" cy="73.39" rx="1.49" ry="1.24" fill="#50ffd0" opacity="0.72"/>
<ellipse cx="282.38" cy="72.33" rx="1.02" ry="0.85" fill="#20d0a0" opacity="0.66"/>
<ellipse cx="256.12" cy="64.94" rx="0.92" ry="0.77" fill="#20d0a0" opacity="0.96"/>
<ellipse cx="318.8" cy="54.13" rx="0.77" ry="0.64" fill="#10b090" opacity="0.96"/>
<ellipse cx="305.11" cy="56.53" rx="0.91" ry="0.75" fill="#80ffe0" opacity="0.74"/>
<ellipse cx="275.57" cy="67.27" rx="1.39" ry="1.16" fill="#40f0c0" opacity="0.91"/>
<ellipse cx="261.43" cy="48.84" rx="0.94" ry="0.78" fill="#80ffe0" opacity="0.92"/>
<ellipse cx="275.27" cy="72.18" rx="1.01" ry="0.84" fill="#20d0a0" opacity="0.85"/>
<ellipse cx="281.36" cy="71.49" rx="1.02" ry="0.85" fill="#30e8b0" opacity="0.74"/>
<ellipse cx="304.64" cy="68.42" rx="0.81" ry="0.67" fill="#40f0c0" opacity="0.91"/>
<ellipse cx="311.12" cy="53.98" rx="0.99" ry="0.83" fill="#50ffd0" opacity="0.72"/>
<ellipse cx="302.91" cy="45.01" rx="0.74" ry="0.62" fill="#80ffe0" opacity="0.99"/>
<ellipse cx="279.7" cy="80.08" rx="1.36" ry="1.14" fill="#20d0a0" opacity="0.63"/>
<ellipse cx="310.94" cy="45.72" rx="0.82" ry="0.69" fill="#40f0c0" opacity="1"/>
<ellipse cx="312.58" cy="55.27" rx="0.84" ry="0.7" fill="#80ffe0" opacity="0.65"/>
<ellipse cx="257.35" cy="80.29" rx="0.81" ry="0.67" fill="#20d0a0" opacity="0.76"/>
<ellipse cx="249.6" cy="76.02" rx="1.12" ry="0.93" fill="#40f0c0" opacity="0.84"/>
<ellipse cx="267.16" cy="47.23" rx="1.33" ry="1.11" fill="#10b090" opacity="0.99"/>
<ellipse cx="291.11" cy="58.13" rx="1.35" ry="1.12" fill="#30e8b0" opacity="0.81"/>
<ellipse cx="301.81" cy="59.77" rx="0.88" ry="0.73" fill="#10b090" opacity="0.82"/>
<ellipse cx="280.33" cy="82.43" rx="1.52" ry="1.27" fill="#40f0c0" opacity="0.88"/>
<ellipse cx="255.53" cy="53.09" rx="1.21" ry="1.01" fill="#40f0c0" opacity="0.97"/>
<ellipse cx="306.09" cy="54.68" rx="1.53" ry="1.27" fill="#40f0c0" opacity="0.92"/>
<line x1="318" y1="74" x2="326" y2="78" stroke="#ff2050" stroke-width="0.8" opacity="0.8"/>
<line x1="322" y1="72" x2="329" y2="80" stroke="#ff2050" stroke-width="0.8" opacity="0.8"/>
<line x1="300" y1="80" x2="305" y2="79" stroke="#ff2050" stroke-width="0.8" opacity="0.8"/>
</g>
<path d="M235.2,58.8 C235.2,57.08 243.92,55.23 248.3,53.2 C252.68,51.17 256.18,48.32 261.5,46.6 C266.82,44.88 273.03,44 280.2,42.9 C287.37,41.8 297.32,40.32 304.5,40 C311.68,39.68 318.62,39.28 323.3,41 C327.98,42.72 331.67,47.18 332.6,50.3 C333.53,53.42 332.02,56.57 328.9,59.7 C325.78,62.83 318.9,66.28 313.9,69.1 C308.9,71.92 304.52,74.1 298.9,76.6 C293.28,79.1 286.43,81.6 280.2,84.1 C273.97,86.6 266.18,90.52 261.5,91.6 C256.82,92.68 254.3,92.17 252.1,90.6 C249.9,89.03 248.93,86.72 248.3,82.2 C247.67,77.68 250.48,67.4 248.3,63.5 C246.12,59.6 235.2,60.52 235.2,58.8Z" fill="none" stroke="#f4f4f4" stroke-width="1.0" stroke-dasharray="2.2,1.5"/>
<path d="M250.2,136.5 C250.67,134.25 251.12,127.37 253,123 C254.88,118.63 258.67,114.47 261.5,110.3 C264.33,106.13 266.88,101.43 270,98 C273.12,94.57 274.75,92.33 280.2,89.7 C285.65,87.07 295.83,83.45 302.7,82.2 C309.57,80.95 316.35,81.48 321.4,82.2 C326.45,82.92 331.07,85.78 333,86.5" fill="none" stroke="#f4f4f4" stroke-width="1.0" stroke-dasharray="2.2,1.5"/>
<ellipse cx="296.1" cy="106.5" rx="11.0" ry="8.2" fill="none" stroke="#f4f4f4" stroke-width="1.0" stroke-dasharray="2.2,1.5"/>
<path d="M229.2,137 C229.17,130.83 228.93,110.83 229,100 C229.07,89.17 229.17,78.17 229.6,72 C230.03,65.83 230.93,64.33 231.6,63 C232.27,61.67 233.1,62 233.6,64 C234.1,66 234.43,67.33 234.6,75 C234.77,82.67 234.67,99.67 234.6,110 C234.53,120.33 234.27,132.5 234.2,137" fill="none" stroke="#ffffff" stroke-width="0.7"/>
<path d="M236.6,136 L236.6,64 Q236.5,58 232,56.8" fill="none" stroke="#f4f4f4" stroke-width="1.0" stroke-dasharray="2.2,1.5"/>
<path d="M228.2,136 L228.2,66" fill="none" stroke="#f0f0f0" stroke-width="0.6" stroke-dasharray="2.2,1.5"/>
<text x="255.5" y="59.7" font-size="8.6" fill="#e8e8e8" stroke="#e8e8e8" stroke-width="0.22">PVN</text>
<text x="256.8" y="69.6" font-size="6.5" fill="#d0d0d0" stroke="#d0d0d0" stroke-width="0.22">Et</text>
<line x1="315.8" y1="133" x2="327" y2="133" stroke="#fff" stroke-width="1.4"/>
<rect x="334.3" y="28.2" width="53.7" height="53.6" fill="#0c0000" stroke="none" stroke-width="0.8"/>
<g clip-path="url(#cmor)">
<circle cx="362.68" cy="55.58" r="1.23" fill="#ff1a1a" opacity="0.79" filter="url(#bl05)"/>
<circle cx="360.26" cy="57.67" r="1.41" fill="#ff1a1a" opacity="0.8" filter="url(#bl05)"/>
<circle cx="353.6" cy="48.88" r="0.6" fill="#ff1a1a" opacity="0.75" filter="url(#bl05)"/>
<circle cx="356.05" cy="48.03" r="1.39" fill="#ff1a1a" opacity="0.69" filter="url(#bl05)"/>
<circle cx="358.19" cy="50.46" r="1.6" fill="#ff1a1a" opacity="0.9" filter="url(#bl05)"/>
<circle cx="363.87" cy="44.11" r="0.63" fill="#ff1a1a" opacity="0.73" filter="url(#bl05)"/>
<circle cx="355.02" cy="49.04" r="1.55" fill="#ff1a1a" opacity="0.75" filter="url(#bl05)"/>
<circle cx="364.23" cy="56.62" r="0.72" fill="#ff1a1a" opacity="0.97" filter="url(#bl05)"/>
<circle cx="350.72" cy="50.84" r="0.94" fill="#ff1a1a" opacity="0.79" filter="url(#bl05)"/>
<circle cx="358.64" cy="50.27" r="1.47" fill="#ff1a1a" opacity="0.69" filter="url(#bl05)"/>
<circle cx="358.78" cy="45.64" r="1.57" fill="#ff1a1a" opacity="0.96" filter="url(#bl05)"/>
<circle cx="358.31" cy="40.52" r="1.18" fill="#ff1a1a" opacity="0.89" filter="url(#bl05)"/>
<circle cx="362.9" cy="52.96" r="1.43" fill="#ff1a1a" opacity="0.68" filter="url(#bl05)"/>
<circle cx="369.11" cy="44.15" r="1.01" fill="#ff1a1a" opacity="0.75" filter="url(#bl05)"/>
<circle cx="352.35" cy="50.49" r="1.59" fill="#ff1a1a" opacity="0.75" filter="url(#bl05)"/>
<circle cx="360.62" cy="49.37" r="1.32" fill="#ff1a1a" opacity="1" filter="url(#bl05)"/>
<circle cx="351.02" cy="49.15" r="1.15" fill="#ff1a1a" opacity="0.9" filter="url(#bl05)"/>
<circle cx="359.44" cy="55.75" r="1.16" fill="#ff1a1a" opacity="0.85" filter="url(#bl05)"/>
<circle cx="359.55" cy="51.77" r="0.95" fill="#ff1a1a" opacity="0.97" filter="url(#bl05)"/>
<circle cx="353.38" cy="54.54" r="0.91" fill="#ff1a1a" opacity="0.64" filter="url(#bl05)"/>
<circle cx="368.08" cy="52.67" r="1.38" fill="#ff1a1a" opacity="0.75" filter="url(#bl05)"/>
<circle cx="354.34" cy="42.14" r="1.5" fill="#ff1a1a" opacity="0.98" filter="url(#bl05)"/>
<circle cx="342.95" cy="57.29" r="1.56" fill="#ff1a1a" opacity="0.84" filter="url(#bl05)"/>
<circle cx="363.18" cy="45.11" r="0.98" fill="#ff1a1a" opacity="0.7" filter="url(#bl05)"/>
<circle cx="360.54" cy="46.91" r="0.67" fill="#ff1a1a" opacity="0.92" filter="url(#bl05)"/>
<circle cx="359.03" cy="43.32" r="1.44" fill="#ff1a1a" opacity="0.62" filter="url(#bl05)"/>
<circle cx="357.75" cy="53.13" r="1.02" fill="#ff1a1a" opacity="0.67" filter="url(#bl05)"/>
<circle cx="362.94" cy="50.92" r="1.5" fill="#ff1a1a" opacity="0.99" filter="url(#bl05)"/>
<circle cx="374.35" cy="53.87" r="0.58" fill="#e01010" opacity="0.88"/>
<circle cx="362.53" cy="67.25" r="0.42" fill="#e01010" opacity="0.43"/>
<circle cx="379.31" cy="70.82" r="1.02" fill="#e01010" opacity="0.66"/>
<circle cx="357.18" cy="59.35" r="0.99" fill="#e01010" opacity="0.48"/>
<circle cx="362.99" cy="42.99" r="0.94" fill="#e01010" opacity="0.31"/>
<circle cx="371.1" cy="79.33" r="0.42" fill="#e01010" opacity="0.66"/>
<circle cx="368.88" cy="73.85" r="0.81" fill="#e01010" opacity="0.45"/>
<circle cx="356.08" cy="79.59" r="1.03" fill="#e01010" opacity="0.38"/>
<circle cx="339.39" cy="33.24" r="0.42" fill="#e01010" opacity="0.57"/>
<circle cx="341.86" cy="74.69" r="0.86" fill="#e01010" opacity="0.38"/>
<circle cx="363.23" cy="45.58" r="0.75" fill="#e01010" opacity="0.43"/>
<circle cx="343.22" cy="38.06" r="0.66" fill="#e01010" opacity="0.73"/>
<circle cx="363.84" cy="30.68" r="0.9" fill="#e01010" opacity="0.82"/>
<circle cx="375.88" cy="70.58" r="0.41" fill="#e01010" opacity="0.58"/>
<circle cx="337.71" cy="69.15" r="0.52" fill="#e01010" opacity="0.73"/>
<circle cx="347.88" cy="65.54" r="0.62" fill="#e01010" opacity="0.33"/>
<circle cx="355.18" cy="44.78" r="1.03" fill="#e01010" opacity="0.48"/>
<circle cx="361.32" cy="57.64" r="1.06" fill="#e01010" opacity="0.36"/>
<circle cx="366.58" cy="55.44" r="0.91" fill="#e01010" opacity="0.88"/>
<circle cx="350.96" cy="65.69" r="0.77" fill="#e01010" opacity="0.64"/>
<circle cx="337.72" cy="71.87" r="1.08" fill="#e01010" opacity="0.51"/>
<circle cx="351.38" cy="81.44" r="0.48" fill="#e01010" opacity="0.35"/>
<circle cx="338.24" cy="71.85" r="0.93" fill="#e01010" opacity="0.57"/>
<circle cx="367.67" cy="29.26" r="0.85" fill="#e01010" opacity="0.57"/>
<circle cx="362.09" cy="49.07" r="0.68" fill="#e01010" opacity="0.44"/>
<circle cx="336.92" cy="51.46" r="0.57" fill="#e01010" opacity="0.72"/>
<circle cx="378.19" cy="66.99" r="0.72" fill="#e01010" opacity="0.44"/>
<circle cx="355" cy="54.29" r="0.84" fill="#e01010" opacity="0.88"/>
<circle cx="338.89" cy="53.91" r="0.74" fill="#e01010" opacity="0.73"/>
<circle cx="382.12" cy="69.98" r="0.84" fill="#e01010" opacity="0.76"/>
<circle cx="370.17" cy="74.24" r="0.89" fill="#e01010" opacity="0.71"/>
<circle cx="347.47" cy="77.33" r="0.67" fill="#e01010" opacity="0.67"/>
<circle cx="378.59" cy="79.85" r="1.09" fill="#e01010" opacity="0.3"/>
<circle cx="351.09" cy="44.91" r="0.67" fill="#e01010" opacity="0.39"/>
<circle cx="364.01" cy="32.46" r="0.61" fill="#e01010" opacity="0.87"/>
<circle cx="374.16" cy="52.98" r="0.48" fill="#e01010" opacity="0.87"/>
<circle cx="372.1" cy="39.23" r="0.63" fill="#e01010" opacity="0.68"/>
<circle cx="370.9" cy="42.18" r="1.07" fill="#e01010" opacity="0.49"/>
<circle cx="347.95" cy="73.51" r="0.51" fill="#e01010" opacity="0.71"/>
<circle cx="345.03" cy="60.25" r="0.59" fill="#e01010" opacity="0.53"/>
</g>
<text x="379.8" y="39.9" font-size="9.2" fill="#f0f0f0" stroke="#f0f0f0" stroke-width="0.22" text-anchor="end">MOR</text>
<rect x="389.5" y="28.2" width="53.1" height="53.6" fill="#000" stroke="none" stroke-width="0.8"/>
<g clip-path="url(#cegfp)">
<path d="M404,44 C405.33,42.08 407.67,40.33 410,39.5 C412.33,38.67 415.92,38.42 418,39 C420.08,39.58 421.75,40.83 422.5,43 C423.25,45.17 423.08,49.33 422.5,52 C421.92,54.67 420.92,57.5 419,59 C417.08,60.5 413.5,61.17 411,61 C408.5,60.83 405.5,59.67 404,58 C402.5,56.33 402,53.33 402,51 C402,48.67 402.67,45.92 404,44Z" fill="#1fd040" stroke="none" stroke-width="0.8" filter="url(#bl1)"/>
<path d="M408,45 C409.5,43.33 413.17,41.67 415,42 C416.83,42.33 418.67,44.83 419,47 C419.33,49.17 418.5,53.33 417,55 C415.5,56.67 411.83,57.5 410,57 C408.17,56.5 406.33,54 406,52 C405.67,50 406.5,46.67 408,45Z" fill="#40f060" stroke="none" stroke-width="0.8" filter="url(#bl2)" opacity="0.8"/>
<ellipse cx="442" cy="39" rx="4" ry="7.5" fill="#1fd040" filter="url(#bl1)"/>
<path d="M392,58 Q405,66 415,72 Q428,76 440,80" stroke="#0a5a18" stroke-width="5" fill="none" filter="url(#bl2)" opacity="0.35"/>
</g>
<text x="440.3" y="39.9" font-size="9.2" fill="#f0f0f0" stroke="#f0f0f0" stroke-width="0.22" text-anchor="end">EGFP</text>
<rect x="334.3" y="83.1" width="53.7" height="53.1" fill="#00001a" stroke="none" stroke-width="0.8"/>
<g clip-path="url(#cdapi)">
<path d="M344,90 C345,87.17 349.33,86 352,86 C354.67,86 357.67,87.83 360,90 C362.33,92.17 365,96 366,99 C367,102 367,105.83 366,108 C365,110.17 362.33,111.67 360,112 C357.67,112.33 354.33,111.5 352,110 C349.67,108.5 347.33,106.33 346,103 C344.67,99.67 343,92.83 344,90Z" fill="#1020e0" stroke="none" stroke-width="0.8" filter="url(#bl1)"/>
<path d="M353,124 C353.83,121.83 357.17,119.17 360,118 C362.83,116.83 367.33,116.33 370,117 C372.67,117.67 375.5,119.83 376,122 C376.5,124.17 375.33,128.17 373,130 C370.67,131.83 365,132.83 362,133 C359,133.17 356.5,132.5 355,131 C353.5,129.5 352.17,126.17 353,124Z" fill="#1020e0" stroke="none" stroke-width="0.8" filter="url(#bl1)"/>
<ellipse cx="335" cy="96" rx="3" ry="8" fill="#0c18a0" filter="url(#bl2)"/>
</g>
<text x="384.8" y="93.6" font-size="9.2" fill="#f0f0f0" stroke="#f0f0f0" stroke-width="0.22" text-anchor="end">DAPI</text>
<rect x="389.5" y="83.1" width="53.1" height="53.1" fill="#000008" stroke="none" stroke-width="0.8"/>
<g clip-path="url(#cmrg)">
<ellipse cx="400" cy="92" rx="9" ry="7" fill="#1020c0" filter="url(#bl2)" opacity="0.8"/>
<path d="M421,124 C422.67,122 425.5,119 428,118 C430.5,117 434,117 436,118 C438,119 440,121.67 440,124 C440,126.33 438.33,130.33 436,132 C433.67,133.67 429,134.33 426,134 C423,133.67 418.83,131.67 418,130 C417.17,128.33 419.33,126 421,124Z" fill="#1020d0" stroke="none" stroke-width="0.8" filter="url(#bl1)"/>
<path d="M404,98 C405.33,96.08 407.67,94.33 410,93.5 C412.33,92.67 415.92,92.42 418,93 C420.08,93.58 421.75,94.83 422.5,97 C423.25,99.17 423.08,103.33 422.5,106 C421.92,108.67 420.92,111.5 419,113 C417.08,114.5 413.5,115.17 411,115 C408.5,114.83 405.5,113.67 404,112 C402.5,110.33 402,107.33 402,105 C402,102.67 402.67,99.92 404,98Z" fill="#30d890" stroke="none" stroke-width="0.8" filter="url(#bl1)"/>
<ellipse cx="408" cy="100" rx="6" ry="5" fill="#3050ff" opacity="0.45" filter="url(#bl2)"/>
<ellipse cx="442" cy="93" rx="4" ry="7" fill="#1fd040" filter="url(#bl1)"/>
<circle cx="405.89" cy="101.28" r="0.81" fill="#c0c0ff" opacity="0.85"/>
<circle cx="402.83" cy="105.22" r="0.67" fill="#ff6060" opacity="0.85"/>
<circle cx="419.61" cy="102.73" r="0.87" fill="#c0c0ff" opacity="0.85"/>
<circle cx="415.79" cy="102.84" r="0.62" fill="#ffffff" opacity="0.85"/>
<circle cx="409.91" cy="107.67" r="0.65" fill="#ffffff" opacity="0.85"/>
<circle cx="410.66" cy="95.09" r="0.74" fill="#c0c0ff" opacity="0.85"/>
<circle cx="415.58" cy="101.49" r="0.74" fill="#ffffff" opacity="0.85"/>
<circle cx="413.31" cy="101.03" r="0.84" fill="#ff6060" opacity="0.85"/>
<circle cx="412.48" cy="103.9" r="0.58" fill="#c0c0ff" opacity="0.85"/>
<circle cx="411.59" cy="98.64" r="0.56" fill="#c0c0ff" opacity="0.85"/>
<circle cx="407.63" cy="103.41" r="0.6" fill="#ff6060" opacity="0.85"/>
<circle cx="407.85" cy="95.45" r="0.58" fill="#ffffff" opacity="0.85"/>
<circle cx="412.63" cy="104.77" r="0.8" fill="#ffffff" opacity="0.85"/>
<circle cx="414" cy="105.28" r="0.5" fill="#ff6060" opacity="0.85"/>
<circle cx="409.24" cy="100" r="0.7" fill="#c0c0ff" opacity="0.85"/>
<circle cx="407.28" cy="101.36" r="0.83" fill="#ffd0d0" opacity="0.85"/>
<circle cx="415.14" cy="106.2" r="0.59" fill="#c0c0ff" opacity="0.85"/>
<circle cx="417.23" cy="109.87" r="0.41" fill="#ffd0d0" opacity="0.85"/>
<circle cx="409.63" cy="95" r="0.82" fill="#ff6060" opacity="0.85"/>
<circle cx="416.46" cy="100.1" r="0.64" fill="#ffffff" opacity="0.85"/>
<circle cx="417.95" cy="97.16" r="0.54" fill="#c0c0ff" opacity="0.85"/>
<circle cx="406.8" cy="106.52" r="0.53" fill="#ffd0d0" opacity="0.85"/>
<circle cx="405.86" cy="108.92" r="0.56" fill="#c0c0ff" opacity="0.85"/>
<circle cx="415.98" cy="113.85" r="0.86" fill="#c0c0ff" opacity="0.85"/>
<circle cx="408.63" cy="101.44" r="0.71" fill="#c0c0ff" opacity="0.85"/>
<circle cx="433.64" cy="106.14" r="0.8" fill="#e01010" opacity="0.86"/>
<circle cx="435.64" cy="122.95" r="0.69" fill="#e01010" opacity="0.66"/>
<circle cx="434.65" cy="116.29" r="0.76" fill="#e01010" opacity="0.51"/>
<circle cx="394.4" cy="97.46" r="0.69" fill="#e01010" opacity="0.69"/>
<circle cx="400.05" cy="93.11" r="0.88" fill="#e01010" opacity="0.44"/>
<circle cx="438.69" cy="124.09" r="0.69" fill="#e01010" opacity="0.9"/>
<circle cx="425.6" cy="83.46" r="0.87" fill="#e01010" opacity="0.61"/>
<circle cx="438.17" cy="126.31" r="0.47" fill="#e01010" opacity="0.42"/>
<circle cx="390.61" cy="124.55" r="0.8" fill="#e01010" opacity="0.51"/>
<circle cx="395.49" cy="102.56" r="0.8" fill="#e01010" opacity="0.77"/>
<circle cx="435.54" cy="134.5" r="0.78" fill="#e01010" opacity="0.82"/>
<circle cx="390.37" cy="83.44" r="0.83" fill="#e01010" opacity="0.71"/>
<circle cx="406.85" cy="89.91" r="0.57" fill="#e01010" opacity="0.57"/>
<circle cx="415.82" cy="106.99" r="0.5" fill="#e01010" opacity="0.44"/>
<circle cx="400.28" cy="89.91" r="0.45" fill="#e01010" opacity="0.61"/>
<circle cx="396.41" cy="125.58" r="0.67" fill="#e01010" opacity="0.63"/>
<circle cx="423.44" cy="95.57" r="0.41" fill="#e01010" opacity="0.44"/>
<circle cx="407.4" cy="102.28" r="0.53" fill="#e01010" opacity="0.55"/>
<circle cx="433.77" cy="83.56" r="0.62" fill="#e01010" opacity="0.59"/>
<circle cx="404.48" cy="121.59" r="0.51" fill="#e01010" opacity="0.42"/>
<circle cx="397.97" cy="135.05" r="0.57" fill="#e01010" opacity="0.46"/>
<circle cx="441.05" cy="117.35" r="0.88" fill="#e01010" opacity="0.57"/>
</g>
<text x="440.6" y="93.6" font-size="9.2" fill="#f0f0f0" stroke="#f0f0f0" stroke-width="0.22" text-anchor="end">Merged</text>
<line x1="433.1" y1="133.1" x2="439.7" y2="133.1" stroke="#fff" stroke-width="1.3"/>
<rect x="573.2" y="13.3" width="102.5" height="13.2" fill="#fff" stroke="#333" stroke-width="0.9"/>
<text x="624.5" y="23.7" font-size="9.5" fill="#1a1a1a" stroke="#1a1a1a" stroke-width="0.22" text-anchor="middle">PVN::GCaMP6m</text>
<g clip-path="url(#cc)">
<rect x="573.7" y="28.4" width="102.3" height="100.2" fill="#141414" stroke="none" stroke-width="0.8"/>
<ellipse cx="628" cy="79" rx="52" ry="52" fill="url(#gc1)"/>
<rect x="573.7" y="28.4" width="102.3" height="100.2" fill="#000" stroke="none" stroke-width="0.8" filter="url(#fc1)" opacity="0.24" mask="url(#mc1)"/>
<ellipse cx="603" cy="68" rx="12" ry="17" fill="#fff" opacity="0.10" filter="url(#bl4)"/>
<ellipse cx="640" cy="75" rx="18" ry="22" fill="#fff" opacity="0.05" filter="url(#bl4)"/>
<ellipse cx="586" cy="114" rx="14" ry="12" fill="#000" opacity="0.45" filter="url(#bl4)"/>
<ellipse cx="665" cy="40" rx="12" ry="10" fill="#000" opacity="0.35" filter="url(#bl4)"/>
<ellipse cx="586" cy="40" rx="10" ry="10" fill="#000" opacity="0.35" filter="url(#bl4)"/>
<g filter="url(#bl1)"><circle cx="634.94" cy="57.24" r="1.98" fill="#fff" opacity="0.2"/><circle cx="648.7" cy="97.26" r="2.62" fill="#fff" opacity="0.17"/><circle cx="647.39" cy="104.16" r="2.5" fill="#fff" opacity="0.2"/><circle cx="666.51" cy="85.93" r="1.85" fill="#fff" opacity="0.19"/><circle cx="591.47" cy="77.32" r="1.87" fill="#fff" opacity="0.13"/><circle cx="658.13" cy="97.38" r="2.57" fill="#fff" opacity="0.11"/><circle cx="632.08" cy="89.63" r="1.9" fill="#fff" opacity="0.16"/><circle cx="596.98" cy="91.82" r="1.65" fill="#fff" opacity="0.2"/><circle cx="662.18" cy="75.14" r="2.99" fill="#fff" opacity="0.2"/><circle cx="650.48" cy="94.26" r="1.66" fill="#fff" opacity="0.19"/><circle cx="615.32" cy="75.92" r="2.39" fill="#fff" opacity="0.19"/><circle cx="614.8" cy="74.52" r="3.37" fill="#fff" opacity="0.09"/><circle cx="649.8" cy="46.09" r="3" fill="#fff" opacity="0.21"/><circle cx="609.63" cy="75.38" r="2.44" fill="#fff" opacity="0.18"/><circle cx="630.88" cy="54.37" r="3.39" fill="#fff" opacity="0.08"/><circle cx="620.06" cy="79.21" r="2.22" fill="#fff" opacity="0.22"/><circle cx="657.3" cy="105.8" r="3.31" fill="#fff" opacity="0.18"/><circle cx="653.79" cy="88.46" r="2.88" fill="#fff" opacity="0.09"/><circle cx="624.38" cy="90.57" r="3.19" fill="#fff" opacity="0.21"/><circle cx="658.75" cy="63.01" r="2.65" fill="#fff" opacity="0.09"/><circle cx="593.35" cy="83.06" r="3.01" fill="#fff" opacity="0.08"/><circle cx="639.86" cy="79.61" r="3.35" fill="#fff" opacity="0.1"/><circle cx="606.71" cy="96.55" r="3.27" fill="#fff" opacity="0.1"/><circle cx="625.46" cy="114.05" r="1.67" fill="#fff" opacity="0.1"/><circle cx="666.67" cy="85.15" r="1.97" fill="#fff" opacity="0.15"/><circle cx="599.25" cy="106.28" r="2.92" fill="#fff" opacity="0.16"/><circle cx="607.34" cy="80.36" r="3.18" fill="#fff" opacity="0.09"/><circle cx="612.33" cy="63.95" r="2.05" fill="#fff" opacity="0.14"/><circle cx="639.49" cy="107.55" r="1.64" fill="#fff" opacity="0.08"/><circle cx="635.57" cy="88.31" r="3.26" fill="#fff" opacity="0.15"/><circle cx="612.71" cy="47.18" r="1.83" fill="#fff" opacity="0.21"/><circle cx="607.72" cy="97.03" r="2.48" fill="#fff" opacity="0.18"/><circle cx="630.03" cy="61.5" r="3.16" fill="#fff" opacity="0.14"/><circle cx="627.76" cy="116.19" r="3.24" fill="#fff" opacity="0.2"/><circle cx="610.97" cy="113.24" r="3.05" fill="#fff" opacity="0.22"/><circle cx="629.22" cy="39.02" r="2.46" fill="#fff" opacity="0.18"/><circle cx="633.64" cy="50.59" r="2.51" fill="#fff" opacity="0.14"/><circle cx="644.68" cy="60.9" r="2.99" fill="#fff" opacity="0.16"/><circle cx="622.05" cy="57.57" r="1.66" fill="#fff" opacity="0.17"/><circle cx="642.7" cy="97.96" r="3.06" fill="#fff" opacity="0.09"/><circle cx="654.02" cy="62.72" r="2.62" fill="#fff" opacity="0.17"/><circle cx="633.57" cy="81.08" r="2.94" fill="#fff" opacity="0.16"/><circle cx="604.77" cy="51.12" r="2.04" fill="#fff" opacity="0.1"/><circle cx="637.65" cy="77.09" r="2.53" fill="#fff" opacity="0.17"/><circle cx="639.31" cy="75.72" r="2.9" fill="#fff" opacity="0.09"/><circle cx="597.82" cy="88.02" r="3.2" fill="#fff" opacity="0.09"/><circle cx="627.85" cy="63.57" r="2.31" fill="#fff" opacity="0.22"/><circle cx="634.54" cy="70.06" r="1.51" fill="#fff" opacity="0.08"/><circle cx="629.51" cy="71.31" r="3.07" fill="#fff" opacity="0.19"/><circle cx="643.95" cy="43.73" r="2.77" fill="#fff" opacity="0.2"/><circle cx="596.47" cy="70.3" r="1.64" fill="#fff" opacity="0.16"/><circle cx="652.87" cy="77.49" r="2.93" fill="#fff" opacity="0.1"/><circle cx="598.76" cy="82.39" r="3.04" fill="#fff" opacity="0.13"/><circle cx="610.9" cy="82.4" r="2.65" fill="#fff" opacity="0.21"/><circle cx="603.42" cy="100.23" r="2.61" fill="#fff" opacity="0.11"/><circle cx="621.92" cy="61.63" r="2.73" fill="#fff" opacity="0.22"/><circle cx="616.59" cy="109.65" r="2.18" fill="#fff" opacity="0.17"/><circle cx="638.2" cy="105.4" r="3.07" fill="#fff" opacity="0.11"/><circle cx="616.39" cy="94.04" r="1.82" fill="#fff" opacity="0.17"/><circle cx="642.19" cy="53.67" r="2.39" fill="#fff" opacity="0.12"/></g>
<circle cx="602.4" cy="72.9" r="2.4" fill="#ffffff" opacity="0.95" filter="url(#bl1)"/>
<circle cx="599.8" cy="79.9" r="2.2" fill="#ffffff" opacity="0.9" filter="url(#bl1)"/>
<circle cx="611.1" cy="62.5" r="2" fill="#ffffff" opacity="0.6" filter="url(#bl1)"/>
<circle cx="639.8" cy="81.6" r="2.6" fill="#ffffff" opacity="0.75" filter="url(#bl1)"/>
<circle cx="646.7" cy="93.8" r="2.2" fill="#ffffff" opacity="0.75" filter="url(#bl1)"/>
<circle cx="629.3" cy="104.2" r="2.4" fill="#ffffff" opacity="0.95" filter="url(#bl1)"/>
<circle cx="622.4" cy="114.6" r="2.4" fill="#ffffff" opacity="0.85" filter="url(#bl1)"/>
<circle cx="615.4" cy="95.5" r="3" fill="#ffffff" opacity="0.75" filter="url(#bl1)"/>
<circle cx="620" cy="84" r="2" fill="#ffffff" opacity="0.55" filter="url(#bl1)"/>
<circle cx="650" cy="70" r="1.8" fill="#ffffff" opacity="0.45" filter="url(#bl1)"/>
<circle cx="633" cy="70" r="2" fill="#ffffff" opacity="0.45" filter="url(#bl1)"/>
<circle cx="645" cy="60" r="1.6" fill="#ffffff" opacity="0.4" filter="url(#bl1)"/>
<circle cx="605" cy="58" r="1.6" fill="#ffffff" opacity="0.45" filter="url(#bl1)"/>
<circle cx="657" cy="85" r="1.6" fill="#ffffff" opacity="0.35" filter="url(#bl1)"/>
<circle cx="624" cy="92" r="1.8" fill="#ffffff" opacity="0.55" filter="url(#bl1)"/>
<circle cx="636" cy="96" r="1.6" fill="#ffffff" opacity="0.45" filter="url(#bl1)"/>
<circle cx="612" cy="75" r="1.6" fill="#ffffff" opacity="0.4" filter="url(#bl1)"/>
<circle cx="640" cy="106" r="1.6" fill="#ffffff" opacity="0.35" filter="url(#bl1)"/>
<circle cx="655" cy="100" r="1.5" fill="#ffffff" opacity="0.3" filter="url(#bl1)"/>
<circle cx="630" cy="58" r="1.5" fill="#ffffff" opacity="0.35" filter="url(#bl1)"/>
<path d="M638,40 Q630,52 623,68 Q618,80 614,84 Q608,92 604,101" stroke="#000" stroke-width="2.4" fill="none" filter="url(#bl1)" opacity="0.9"/>
<path d="M591,57 Q592,72 595,83 Q605,86 614,84" stroke="#000" stroke-width="2.0" fill="none" filter="url(#bl1)" opacity="0.85"/>
<path d="M615,84 Q630,83 650,85 Q660,88 668,86" stroke="#080808" stroke-width="1.4" fill="none" filter="url(#bl1)" opacity="0.6"/>
<path d="M605,104 Q618,108 630,111 Q645,112 655,106" stroke="#050505" stroke-width="1.8" fill="none" filter="url(#bl1)" opacity="0.6"/>
<path d="M600,50 Q615,42 635,38" stroke="#050505" stroke-width="2" fill="none" filter="url(#bl15)" opacity="0.5"/>
</g>
<rect x="573.7" y="28.4" width="102.3" height="100.2" fill="none" stroke="#222" stroke-width="0.8"/>
<line x1="555" y1="47" x2="573.7" y2="28.8" stroke="#555" stroke-width="0.6" stroke-dasharray="2,1.5"/>
<line x1="523" y1="63" x2="573.7" y2="128.5" stroke="#555" stroke-width="0.6" stroke-dasharray="2,1.5"/>
<rect x="56.2" y="162.1" width="111.7" height="13.6" fill="#fff" stroke="#333" stroke-width="0.9"/>
<text x="112.1" y="172.6" font-size="9.6" fill="#1a1a1a" stroke="#1a1a1a" stroke-width="0.22" text-anchor="middle">PVN::GRIN lens</text>
<g clip-path="url(#cd)">
<rect x="56.8" y="177.8" width="111" height="106.8" fill="#000008" stroke="none" stroke-width="0.8"/>
<g><circle cx="101.64" cy="199.17" r="0.48" fill="#2828e8"/><circle cx="71.59" cy="187.05" r="0.73" fill="#2020d0"/><circle cx="132.76" cy="235.33" r="0.82" fill="#3030ff"/><circle cx="78.94" cy="254.93" r="0.66" fill="#1818e0"/><circle cx="156.92" cy="217.74" r="0.57" fill="#0c0ca0"/><circle cx="80.4" cy="227.09" r="0.48" fill="#2020d0"/><circle cx="94.41" cy="278.92" r="0.64" fill="#1818e0"/><circle cx="66.55" cy="211.59" r="0.42" fill="#2020d0"/><circle cx="57.65" cy="199.56" r="0.85" fill="#2020d0"/><circle cx="65.77" cy="233.19" r="0.49" fill="#3030ff"/><circle cx="165.22" cy="215.98" r="0.5" fill="#0c0ca0"/><circle cx="74.65" cy="262.37" r="0.67" fill="#2828e8"/><circle cx="161.57" cy="248.32" r="0.42" fill="#1a1aff"/><circle cx="75.8" cy="250.84" r="0.59" fill="#3030ff"/><circle cx="126.95" cy="193.06" r="0.68" fill="#3030ff"/><circle cx="93.4" cy="233.7" r="0.49" fill="#1818e0"/><circle cx="164.9" cy="246.2" r="0.6" fill="#2020d0"/><circle cx="101.65" cy="259.37" r="0.56" fill="#0c0ca0"/><circle cx="109.65" cy="183.76" r="0.73" fill="#0c0ca0"/><circle cx="123.36" cy="257.6" r="0.67" fill="#3030ff"/><circle cx="70.6" cy="190.48" r="0.53" fill="#2828e8"/><circle cx="102.3" cy="276.5" r="0.8" fill="#1010c0"/><circle cx="142.33" cy="263.02" r="0.78" fill="#1a1aff"/><circle cx="152.02" cy="216.43" r="0.71" fill="#2020d0"/><circle cx="88.74" cy="240.35" r="0.42" fill="#2828e8"/><circle cx="98.64" cy="213.77" r="0.77" fill="#3030ff"/><circle cx="102.76" cy="217.42" r="0.44" fill="#1a1aff"/><circle cx="159.26" cy="254.87" r="0.58" fill="#3030ff"/><circle cx="82.35" cy="268.96" r="0.5" fill="#0c0ca0"/><circle cx="91.28" cy="271.17" r="0.72" fill="#2828e8"/><circle cx="141.6" cy="253.79" r="0.72" fill="#3030ff"/><circle cx="89.7" cy="258.06" r="0.44" fill="#3030ff"/><circle cx="103.54" cy="274.74" r="0.43" fill="#1010c0"/><circle cx="157.5" cy="271.21" r="0.75" fill="#2020d0"/><circle cx="70.93" cy="273.49" r="0.59" fill="#1010c0"/><circle cx="102.24" cy="248.1" r="0.67" fill="#1010c0"/><circle cx="98.86" cy="250.25" r="0.79" fill="#2020d0"/><circle cx="130.81" cy="224.8" r="0.57" fill="#2828e8"/><circle cx="95.14" cy="249.04" r="0.71" fill="#1818e0"/><circle cx="78.25" cy="248.82" r="0.48" fill="#0c0ca0"/><circle cx="85.77" cy="222.3" r="0.74" fill="#0c0ca0"/><circle cx="82.47" cy="269.7" r="0.56" fill="#3030ff"/><circle cx="57.2" cy="231.38" r="0.49" fill="#2020d0"/><circle cx="91.27" cy="249.6" r="0.74" fill="#2828e8"/><circle cx="113.53" cy="263.86" r="0.82" fill="#1010c0"/><circle cx="139.89" cy="256.72" r="0.61" fill="#2020d0"/><circle cx="126.28" cy="259.81" r="0.77" fill="#2020d0"/><circle cx="142.15" cy="199.19" r="0.41" fill="#1a1aff"/><circle cx="146.31" cy="185.87" r="0.41" fill="#1a1aff"/><circle cx="103.06" cy="217.23" r="0.65" fill="#0c0ca0"/><circle cx="122.07" cy="209.32" r="0.74" fill="#1818e0"/><circle cx="144.89" cy="220.35" r="0.48" fill="#3030ff"/><circle cx="93.33" cy="271.56" r="0.81" fill="#1818e0"/><circle cx="151.17" cy="252.76" r="0.59" fill="#0c0ca0"/><circle cx="76.65" cy="204.52" r="0.52" fill="#2020d0"/><circle cx="150.52" cy="252.53" r="0.48" fill="#3030ff"/><circle cx="120.38" cy="244.64" r="0.81" fill="#0c0ca0"/><circle cx="75.61" cy="185.78" r="0.51" fill="#3030ff"/><circle cx="114.87" cy="190.07" r="0.76" fill="#1a1aff"/><circle cx="94.07" cy="256.16" r="0.66" fill="#2020d0"/><circle cx="87.36" cy="179.08" r="0.54" fill="#1010c0"/><circle cx="75.22" cy="240.61" r="0.42" fill="#1a1aff"/><circle cx="62.1" cy="232.41" r="0.65" fill="#1010c0"/><circle cx="74.4" cy="224.69" r="0.71" fill="#3030ff"/><circle cx="82.29" cy="197.93" r="0.62" fill="#1010c0"/><circle cx="87.38" cy="216.8" r="0.65" fill="#2828e8"/><circle cx="142.89" cy="196.34" r="0.56" fill="#1818e0"/><circle cx="116.18" cy="257.2" r="0.45" fill="#2828e8"/><circle cx="148.38" cy="193.84" r="0.44" fill="#1818e0"/><circle cx="113.71" cy="218.3" r="0.56" fill="#1818e0"/><circle cx="136.38" cy="243.48" r="0.74" fill="#2020d0"/><circle cx="74.68" cy="260.38" r="0.8" fill="#1818e0"/><circle cx="126.18" cy="197.88" r="0.48" fill="#1a1aff"/><circle cx="73.07" cy="246.46" r="0.63" fill="#1a1aff"/><circle cx="82.45" cy="275.72" r="0.76" fill="#1818e0"/><circle cx="145.03" cy="202.94" r="0.6" fill="#1818e0"/><circle cx="123.67" cy="272.89" r="0.79" fill="#2828e8"/><circle cx="153.97" cy="267.36" r="0.75" fill="#1010c0"/><circle cx="84.88" cy="240.74" r="0.66" fill="#1a1aff"/><circle cx="90.17" cy="194.76" r="0.82" fill="#1010c0"/><circle cx="146.67" cy="209.38" r="0.46" fill="#3030ff"/><circle cx="145.78" cy="182.1" r="0.47" fill="#0c0ca0"/><circle cx="92.02" cy="213.53" r="0.55" fill="#1818e0"/><circle cx="164.33" cy="218.03" r="0.52" fill="#2828e8"/><circle cx="117.63" cy="251.88" r="0.41" fill="#1818e0"/><circle cx="161.01" cy="256.72" r="0.59" fill="#0c0ca0"/><circle cx="156.84" cy="202.13" r="0.64" fill="#1a1aff"/><circle cx="80.35" cy="246.99" r="0.47" fill="#2020d0"/><circle cx="67.23" cy="178.26" r="0.82" fill="#1818e0"/><circle cx="79.23" cy="273.98" r="0.48" fill="#1010c0"/><circle cx="63.6" cy="271.8" r="0.48" fill="#1818e0"/><circle cx="104.6" cy="178.14" r="0.69" fill="#2020d0"/><circle cx="100.74" cy="283.72" r="0.6" fill="#2828e8"/><circle cx="122.09" cy="214.25" r="0.46" fill="#2020d0"/><circle cx="66.9" cy="231.41" r="0.5" fill="#2020d0"/><circle cx="110.6" cy="254.21" r="0.45" fill="#2020d0"/><circle cx="79.19" cy="263.31" r="0.46" fill="#0c0ca0"/><circle cx="156.41" cy="196.21" r="0.71" fill="#2828e8"/><circle cx="129.11" cy="249.6" r="0.63" fill="#1818e0"/><circle cx="151.21" cy="186.05" r="0.51" fill="#2828e8"/><circle cx="133.07" cy="222.76" r="0.64" fill="#1a1aff"/><circle cx="83.62" cy="212.41" r="0.65" fill="#3030ff"/><circle cx="77.79" cy="262.54" r="0.41" fill="#1a1aff"/><circle cx="105.28" cy="211.46" r="0.82" fill="#0c0ca0"/><circle cx="89.31" cy="206.45" r="0.82" fill="#1010c0"/><circle cx="57.93" cy="234.44" r="0.49" fill="#1010c0"/><circle cx="69.46" cy="214.6" r="0.46" fill="#1010c0"/><circle cx="115.73" cy="198.96" r="0.43" fill="#1a1aff"/><circle cx="96.2" cy="192.87" r="0.44" fill="#1818e0"/><circle cx="98.93" cy="216.12" r="0.54" fill="#3030ff"/><circle cx="83.99" cy="194.19" r="0.43" fill="#1a1aff"/><circle cx="76.33" cy="201.52" r="0.68" fill="#1818e0"/><circle cx="161.3" cy="246.69" r="0.6" fill="#0c0ca0"/><circle cx="105.18" cy="251.69" r="0.84" fill="#1010c0"/><circle cx="111.99" cy="237.43" r="0.57" fill="#2020d0"/><circle cx="157.18" cy="205.87" r="0.72" fill="#1818e0"/><circle cx="69.75" cy="234.53" r="0.43" fill="#1a1aff"/><circle cx="81.19" cy="212.62" r="0.45" fill="#1010c0"/><circle cx="125.77" cy="203.76" r="0.6" fill="#3030ff"/><circle cx="114.74" cy="242.09" r="0.52" fill="#1818e0"/><circle cx="99.36" cy="256.59" r="0.53" fill="#1818e0"/><circle cx="161.35" cy="263.99" r="0.6" fill="#1818e0"/><circle cx="159.97" cy="212.07" r="0.85" fill="#2020d0"/><circle cx="133.8" cy="276.33" r="0.79" fill="#1010c0"/><circle cx="101.02" cy="200.06" r="0.67" fill="#1010c0"/><circle cx="107.17" cy="230.14" r="0.85" fill="#1a1aff"/><circle cx="134.11" cy="182.88" r="0.44" fill="#2828e8"/><circle cx="152.53" cy="198.35" r="0.8" fill="#0c0ca0"/><circle cx="121.88" cy="179.69" r="0.45" fill="#1010c0"/><circle cx="81.01" cy="249.12" r="0.85" fill="#1a1aff"/><circle cx="167.5" cy="266.48" r="0.8" fill="#2828e8"/><circle cx="149.81" cy="265.26" r="0.71" fill="#2828e8"/><circle cx="135.13" cy="188.98" r="0.78" fill="#1818e0"/><circle cx="103.27" cy="245.28" r="0.43" fill="#2020d0"/><circle cx="90.53" cy="268.46" r="0.73" fill="#1818e0"/><circle cx="87.23" cy="191" r="0.74" fill="#1818e0"/><circle cx="64.55" cy="228.37" r="0.46" fill="#1010c0"/><circle cx="123.15" cy="201.03" r="0.85" fill="#1818e0"/><circle cx="112.48" cy="266.28" r="0.51" fill="#1010c0"/><circle cx="127.23" cy="226.87" r="0.47" fill="#1010c0"/><circle cx="113.45" cy="263.45" r="0.5" fill="#1010c0"/><circle cx="123.61" cy="185.34" r="0.65" fill="#1818e0"/><circle cx="72.85" cy="177.84" r="0.73" fill="#0c0ca0"/><circle cx="101.15" cy="262.54" r="0.4" fill="#1a1aff"/><circle cx="104.06" cy="189.19" r="0.4" fill="#1818e0"/><circle cx="160.39" cy="260.75" r="0.53" fill="#1a1aff"/><circle cx="73.07" cy="205.33" r="0.54" fill="#1818e0"/><circle cx="118.4" cy="246.28" r="0.44" fill="#1a1aff"/><circle cx="92.72" cy="280.94" r="0.5" fill="#3030ff"/><circle cx="93.96" cy="182.37" r="0.69" fill="#1010c0"/><circle cx="110.03" cy="243.65" r="0.5" fill="#2828e8"/><circle cx="61.57" cy="212.52" r="0.81" fill="#0c0ca0"/><circle cx="158.25" cy="268.67" r="0.76" fill="#0c0ca0"/><circle cx="114.87" cy="223.15" r="0.61" fill="#2828e8"/><circle cx="123.81" cy="237.33" r="0.73" fill="#1818e0"/><circle cx="145.47" cy="210.56" r="0.41" fill="#2020d0"/><circle cx="94.99" cy="191.5" r="0.42" fill="#2020d0"/><circle cx="92.27" cy="249.74" r="0.53" fill="#1010c0"/><circle cx="76" cy="212.93" r="0.83" fill="#0c0ca0"/><circle cx="67.96" cy="236.45" r="0.41" fill="#1010c0"/><circle cx="103.82" cy="245.69" r="0.42" fill="#0c0ca0"/><circle cx="67.06" cy="219.56" r="0.79" fill="#2020d0"/><circle cx="98.92" cy="241.04" r="0.77" fill="#3030ff"/><circle cx="85.55" cy="275.89" r="0.84" fill="#1010c0"/><circle cx="71.74" cy="205.75" r="0.44" fill="#1a1aff"/><circle cx="97.62" cy="211.27" r="0.51" fill="#1a1aff"/><circle cx="123.89" cy="282.11" r="0.85" fill="#1010c0"/><circle cx="102.07" cy="191.57" r="0.7" fill="#1818e0"/><circle cx="71.19" cy="281.4" r="0.7" fill="#1818e0"/><circle cx="151.95" cy="180.69" r="0.63" fill="#1010c0"/><circle cx="72.61" cy="221.73" r="0.65" fill="#1010c0"/><circle cx="90.47" cy="257.11" r="0.44" fill="#1010c0"/><circle cx="60.06" cy="230.34" r="0.62" fill="#1a1aff"/><circle cx="112.28" cy="210" r="0.75" fill="#1a1aff"/><circle cx="70.88" cy="264.44" r="0.43" fill="#1010c0"/><circle cx="119.13" cy="191.57" r="0.69" fill="#1010c0"/><circle cx="142.91" cy="235" r="0.42" fill="#1a1aff"/><circle cx="148.73" cy="255.16" r="0.82" fill="#3030ff"/><circle cx="79.28" cy="233.83" r="0.61" fill="#0c0ca0"/><circle cx="136.52" cy="200.94" r="0.42" fill="#2828e8"/><circle cx="74.08" cy="246.19" r="0.48" fill="#2828e8"/><circle cx="164.5" cy="275.71" r="0.65" fill="#1010c0"/><circle cx="149.41" cy="180.03" r="0.77" fill="#1818e0"/><circle cx="60.42" cy="183.84" r="0.41" fill="#2828e8"/><circle cx="120.02" cy="268.42" r="0.82" fill="#3030ff"/><circle cx="141.64" cy="208.16" r="0.56" fill="#2828e8"/><circle cx="133.54" cy="181.21" r="0.55" fill="#1818e0"/><circle cx="98.19" cy="267.66" r="0.7" fill="#0c0ca0"/><circle cx="86.1" cy="232.53" r="0.62" fill="#1a1aff"/><circle cx="100" cy="221.85" r="0.85" fill="#2020d0"/><circle cx="90.47" cy="177.81" r="0.48" fill="#1a1aff"/><circle cx="134.76" cy="202.56" r="0.81" fill="#0c0ca0"/><circle cx="150.17" cy="194.83" r="0.79" fill="#1010c0"/><circle cx="85.19" cy="219.82" r="0.58" fill="#1010c0"/><circle cx="98.37" cy="195.52" r="0.47" fill="#3030ff"/><circle cx="108.38" cy="256.39" r="0.62" fill="#1010c0"/><circle cx="138" cy="196.74" r="0.66" fill="#0c0ca0"/><circle cx="125.3" cy="231.56" r="0.65" fill="#2020d0"/><circle cx="73.82" cy="280.02" r="0.5" fill="#1a1aff"/><circle cx="144.86" cy="220.17" r="0.55" fill="#3030ff"/><circle cx="115.85" cy="212.88" r="0.5" fill="#1a1aff"/><circle cx="66.73" cy="281.85" r="0.74" fill="#1818e0"/><circle cx="166.52" cy="194.54" r="0.51" fill="#3030ff"/><circle cx="163.29" cy="202.37" r="0.44" fill="#1a1aff"/><circle cx="137.25" cy="187" r="0.61" fill="#2828e8"/><circle cx="137.73" cy="205.76" r="0.55" fill="#1a1aff"/><circle cx="162.93" cy="247.48" r="0.85" fill="#3030ff"/><circle cx="123.01" cy="246.59" r="0.54" fill="#0c0ca0"/><circle cx="163.45" cy="244.33" r="0.46" fill="#2020d0"/><circle cx="98.36" cy="267.75" r="0.83" fill="#3030ff"/><circle cx="108.31" cy="226.36" r="0.63" fill="#2020d0"/><circle cx="122.93" cy="235.02" r="0.68" fill="#1818e0"/><circle cx="67.69" cy="181.37" r="0.81" fill="#0c0ca0"/><circle cx="107.25" cy="190.76" r="0.62" fill="#3030ff"/><circle cx="105.19" cy="278.9" r="0.77" fill="#0c0ca0"/><circle cx="78.48" cy="271.55" r="0.45" fill="#2020d0"/><circle cx="104.49" cy="235.58" r="0.74" fill="#1818e0"/><circle cx="56.84" cy="191.29" r="0.74" fill="#2828e8"/><circle cx="162.77" cy="260.19" r="0.51" fill="#1010c0"/><circle cx="135.08" cy="184.23" r="0.42" fill="#2828e8"/><circle cx="61.13" cy="201.27" r="0.67" fill="#2828e8"/><circle cx="80.48" cy="258.26" r="0.48" fill="#1010c0"/><circle cx="109.67" cy="266.3" r="0.56" fill="#1010c0"/><circle cx="83.87" cy="179.66" r="0.6" fill="#2828e8"/><circle cx="121.37" cy="182.19" r="0.79" fill="#2828e8"/><circle cx="145.43" cy="220.51" r="0.76" fill="#1818e0"/><circle cx="147.26" cy="217.19" r="0.48" fill="#0c0ca0"/><circle cx="109.06" cy="247.64" r="0.75" fill="#3030ff"/><circle cx="128.76" cy="179.36" r="0.41" fill="#2020d0"/><circle cx="123.94" cy="213.25" r="0.84" fill="#1a1aff"/><circle cx="162.47" cy="253.81" r="0.82" fill="#0c0ca0"/><circle cx="158.15" cy="253.07" r="0.48" fill="#1010c0"/><circle cx="97.36" cy="214.01" r="0.52" fill="#1010c0"/><circle cx="158.67" cy="273.28" r="0.82" fill="#1010c0"/><circle cx="100.1" cy="242.21" r="0.5" fill="#1010c0"/><circle cx="149.5" cy="280.48" r="0.44" fill="#0c0ca0"/><circle cx="110.28" cy="262.07" r="0.71" fill="#1a1aff"/><circle cx="94.99" cy="269.87" r="0.84" fill="#1818e0"/><circle cx="84.06" cy="267.27" r="0.65" fill="#1818e0"/><circle cx="119.2" cy="195.73" r="0.69" fill="#1818e0"/><circle cx="94.67" cy="198.16" r="0.52" fill="#0c0ca0"/><circle cx="144.86" cy="195.9" r="0.72" fill="#1818e0"/><circle cx="154" cy="180.25" r="0.43" fill="#1a1aff"/><circle cx="90.68" cy="215.56" r="0.47" fill="#2828e8"/><circle cx="88.72" cy="215.6" r="0.52" fill="#1010c0"/><circle cx="159.56" cy="184.46" r="0.51" fill="#1a1aff"/><circle cx="148.36" cy="186.76" r="0.65" fill="#1a1aff"/><circle cx="127.52" cy="251.05" r="0.54" fill="#3030ff"/><circle cx="96.74" cy="284.21" r="0.78" fill="#1818e0"/><circle cx="143.01" cy="200.73" r="0.59" fill="#2020d0"/><circle cx="107.15" cy="222.26" r="0.79" fill="#2828e8"/><circle cx="106.34" cy="202.01" r="0.74" fill="#2020d0"/><circle cx="60.95" cy="201.15" r="0.55" fill="#3030ff"/><circle cx="143.92" cy="199.72" r="0.65" fill="#0c0ca0"/><circle cx="61.03" cy="181.14" r="0.49" fill="#1818e0"/><circle cx="150.97" cy="179.38" r="0.44" fill="#1a1aff"/><circle cx="84.42" cy="190.97" r="0.43" fill="#1a1aff"/><circle cx="137.08" cy="276.11" r="0.76" fill="#1818e0"/><circle cx="98.03" cy="217.81" r="0.6" fill="#2020d0"/><circle cx="62.01" cy="196.99" r="0.49" fill="#3030ff"/><circle cx="92.39" cy="185.94" r="0.48" fill="#1010c0"/><circle cx="129.99" cy="210.62" r="0.42" fill="#2828e8"/><circle cx="131.36" cy="182.56" r="0.65" fill="#0c0ca0"/><circle cx="129.15" cy="243.19" r="0.45" fill="#1818e0"/><circle cx="118.25" cy="257.37" r="0.46" fill="#2828e8"/><circle cx="110.13" cy="190.53" r="0.74" fill="#2828e8"/><circle cx="71.27" cy="244.68" r="0.78" fill="#2020d0"/><circle cx="157.79" cy="269.2" r="0.44" fill="#2828e8"/><circle cx="79.98" cy="233.07" r="0.82" fill="#1a1aff"/><circle cx="131.94" cy="224.86" r="0.67" fill="#2020d0"/><circle cx="86.87" cy="239.46" r="0.51" fill="#3030ff"/><circle cx="71.22" cy="260.09" r="0.84" fill="#2020d0"/><circle cx="95.01" cy="282.3" r="0.62" fill="#2828e8"/><circle cx="144.81" cy="242.72" r="0.45" fill="#2828e8"/><circle cx="64.39" cy="274.21" r="0.43" fill="#2020d0"/><circle cx="82.94" cy="271.21" r="0.46" fill="#2020d0"/><circle cx="103.33" cy="248.24" r="0.76" fill="#1010c0"/><circle cx="99.55" cy="249.47" r="0.8" fill="#2020d0"/><circle cx="62.6" cy="241.91" r="0.74" fill="#0c0ca0"/><circle cx="84.78" cy="191.97" r="0.47" fill="#1818e0"/><circle cx="110.34" cy="238.55" r="0.61" fill="#2828e8"/><circle cx="94.91" cy="249.72" r="0.49" fill="#1010c0"/><circle cx="87.66" cy="243.07" r="0.67" fill="#0c0ca0"/><circle cx="146.32" cy="252.37" r="0.46" fill="#1010c0"/><circle cx="128.73" cy="226.86" r="0.79" fill="#2828e8"/><circle cx="80.67" cy="244.28" r="0.74" fill="#2020d0"/><circle cx="107.78" cy="179.68" r="0.56" fill="#1818e0"/><circle cx="160.77" cy="258.26" r="0.68" fill="#1010c0"/><circle cx="119.13" cy="192.65" r="0.74" fill="#1818e0"/><circle cx="120.4" cy="197.2" r="0.57" fill="#2828e8"/><circle cx="148.67" cy="262.6" r="0.45" fill="#1a1aff"/><circle cx="124.07" cy="224.14" r="0.7" fill="#3030ff"/><circle cx="143.03" cy="271.5" r="0.73" fill="#1a1aff"/><circle cx="124.77" cy="226.4" r="0.79" fill="#2020d0"/><circle cx="97.73" cy="214.62" r="0.45" fill="#0c0ca0"/><circle cx="59.55" cy="279.44" r="0.76" fill="#0c0ca0"/><circle cx="83.89" cy="208.18" r="0.65" fill="#1818e0"/><circle cx="82.2" cy="228.75" r="0.42" fill="#2828e8"/><circle cx="99.29" cy="249.26" r="0.78" fill="#1818e0"/><circle cx="136.76" cy="196.65" r="0.67" fill="#1a1aff"/><circle cx="99.15" cy="234.71" r="0.71" fill="#2828e8"/><circle cx="80.03" cy="223.45" r="0.53" fill="#1a1aff"/><circle cx="66.06" cy="185.12" r="0.55" fill="#3030ff"/><circle cx="72.81" cy="266.15" r="0.82" fill="#1a1aff"/><circle cx="101.13" cy="232.54" r="0.61" fill="#1818e0"/><circle cx="118.97" cy="255.94" r="0.66" fill="#2020d0"/><circle cx="123.85" cy="256.01" r="0.6" fill="#0c0ca0"/><circle cx="82.41" cy="221.38" r="0.62" fill="#1010c0"/><circle cx="133.87" cy="215.25" r="0.68" fill="#1a1aff"/><circle cx="80.53" cy="233.32" r="0.64" fill="#3030ff"/><circle cx="132.06" cy="223.38" r="0.43" fill="#2828e8"/><circle cx="160.7" cy="224.97" r="0.79" fill="#3030ff"/><circle cx="110.07" cy="197.83" r="0.43" fill="#2020d0"/><circle cx="128.74" cy="196.11" r="0.69" fill="#1010c0"/><circle cx="99.3" cy="267.43" r="0.74" fill="#1010c0"/><circle cx="134.15" cy="240.26" r="0.66" fill="#3030ff"/><circle cx="60.34" cy="198.94" r="0.65" fill="#1818e0"/><circle cx="154.25" cy="192.13" r="0.8" fill="#2020d0"/><circle cx="92.44" cy="206.59" r="0.45" fill="#3030ff"/><circle cx="89.63" cy="217.25" r="0.75" fill="#1818e0"/><circle cx="131.83" cy="194.6" r="0.85" fill="#1a1aff"/><circle cx="148.24" cy="281.16" r="0.63" fill="#2020d0"/><circle cx="157.51" cy="257.19" r="0.63" fill="#1010c0"/><circle cx="108.21" cy="268.89" r="0.73" fill="#3030ff"/><circle cx="77.46" cy="269.75" r="0.81" fill="#3030ff"/><circle cx="93.27" cy="198.43" r="0.52" fill="#3030ff"/><circle cx="119.99" cy="240.85" r="0.58" fill="#2828e8"/><circle cx="123.17" cy="187.12" r="0.64" fill="#2828e8"/><circle cx="74.96" cy="261.06" r="0.55" fill="#3030ff"/><circle cx="112.31" cy="226.06" r="0.72" fill="#0c0ca0"/><circle cx="167.67" cy="281.37" r="0.43" fill="#2020d0"/><circle cx="73.93" cy="202.27" r="0.5" fill="#0c0ca0"/><circle cx="71.94" cy="193.05" r="0.52" fill="#1010c0"/><circle cx="108.88" cy="199.02" r="0.6" fill="#1818e0"/><circle cx="151.72" cy="188.08" r="0.62" fill="#0c0ca0"/><circle cx="159.99" cy="264.34" r="0.7" fill="#2828e8"/><circle cx="128.48" cy="191.46" r="0.4" fill="#1818e0"/><circle cx="133.3" cy="223.91" r="0.4" fill="#2020d0"/><circle cx="105.09" cy="267.97" r="0.75" fill="#0c0ca0"/><circle cx="155.66" cy="217.44" r="0.5" fill="#0c0ca0"/><circle cx="64.26" cy="239.5" r="0.47" fill="#2828e8"/><circle cx="141.42" cy="264.25" r="0.65" fill="#3030ff"/><circle cx="60.87" cy="251.25" r="0.53" fill="#1010c0"/><circle cx="73.25" cy="186.12" r="0.7" fill="#1010c0"/><circle cx="67.58" cy="186.79" r="0.79" fill="#2020d0"/><circle cx="68.52" cy="231.7" r="0.81" fill="#3030ff"/><circle cx="81.54" cy="257.12" r="0.77" fill="#1010c0"/><circle cx="133.05" cy="212.6" r="0.63" fill="#1818e0"/><circle cx="104.52" cy="200.56" r="0.77" fill="#2020d0"/><circle cx="141.53" cy="251.7" r="0.55" fill="#0c0ca0"/><circle cx="116.99" cy="206.57" r="0.85" fill="#3030ff"/><circle cx="152.57" cy="190.74" r="0.41" fill="#2020d0"/><circle cx="61.22" cy="271.36" r="0.55" fill="#3030ff"/><circle cx="115.13" cy="272.67" r="0.69" fill="#1818e0"/><circle cx="99.39" cy="225.4" r="0.49" fill="#2020d0"/><circle cx="94.18" cy="264.96" r="0.6" fill="#1a1aff"/><circle cx="56.9" cy="240.69" r="0.55" fill="#1010c0"/><circle cx="154.99" cy="209.85" r="0.73" fill="#2828e8"/><circle cx="121.32" cy="185.34" r="0.76" fill="#2020d0"/><circle cx="94.46" cy="268.06" r="0.48" fill="#0c0ca0"/><circle cx="104.52" cy="196.18" r="0.42" fill="#1a1aff"/><circle cx="137.39" cy="178.14" r="0.41" fill="#3030ff"/><circle cx="106.47" cy="253.65" r="0.49" fill="#2828e8"/><circle cx="143.17" cy="204.28" r="0.78" fill="#1010c0"/><circle cx="156.5" cy="202.77" r="0.77" fill="#1010c0"/><circle cx="162.18" cy="177.99" r="0.44" fill="#2020d0"/><circle cx="132.1" cy="182.94" r="0.78" fill="#3030ff"/><circle cx="77.03" cy="235.52" r="0.84" fill="#1818e0"/><circle cx="122.88" cy="273.12" r="0.56" fill="#2020d0"/><circle cx="102.06" cy="205.13" r="0.49" fill="#1010c0"/><circle cx="99.31" cy="260.34" r="0.52" fill="#3030ff"/><circle cx="151.46" cy="261.97" r="0.67" fill="#2828e8"/><circle cx="137.95" cy="252.4" r="0.65" fill="#1010c0"/><circle cx="80.74" cy="255.78" r="0.65" fill="#1818e0"/><circle cx="130.47" cy="206.03" r="0.63" fill="#1010c0"/><circle cx="151.57" cy="216.05" r="0.52" fill="#1010c0"/><circle cx="67.53" cy="183.15" r="0.83" fill="#0c0ca0"/><circle cx="121.7" cy="259.59" r="0.79" fill="#1818e0"/><circle cx="70.39" cy="196.61" r="0.44" fill="#3030ff"/><circle cx="122.74" cy="202.53" r="0.41" fill="#3030ff"/><circle cx="121.59" cy="250.92" r="0.67" fill="#1a1aff"/><circle cx="68.69" cy="211.55" r="0.64" fill="#2020d0"/><circle cx="90.92" cy="251.04" r="0.72" fill="#1010c0"/><circle cx="121.35" cy="219.82" r="0.44" fill="#3030ff"/><circle cx="75.94" cy="272.81" r="0.65" fill="#0c0ca0"/><circle cx="126.59" cy="193.35" r="0.64" fill="#2020d0"/><circle cx="80.74" cy="284.39" r="0.47" fill="#2828e8"/><circle cx="148.62" cy="259.5" r="0.41" fill="#1010c0"/><circle cx="86.25" cy="184.72" r="0.64" fill="#0c0ca0"/><circle cx="89.41" cy="275.29" r="0.8" fill="#0c0ca0"/><circle cx="77.81" cy="208.65" r="0.52" fill="#2020d0"/><circle cx="66.4" cy="220.88" r="0.44" fill="#2020d0"/><circle cx="56.98" cy="268.2" r="0.79" fill="#1818e0"/><circle cx="96.17" cy="197.52" r="0.82" fill="#3030ff"/><circle cx="95.46" cy="220.43" r="0.62" fill="#3030ff"/><circle cx="92.4" cy="242.89" r="0.82" fill="#3030ff"/><circle cx="77.69" cy="229.36" r="0.45" fill="#1a1aff"/><circle cx="121.58" cy="283.43" r="0.62" fill="#1010c0"/><circle cx="75.59" cy="273.76" r="0.64" fill="#1a1aff"/><circle cx="58.39" cy="276.3" r="0.42" fill="#1a1aff"/><circle cx="121.14" cy="183.38" r="0.57" fill="#1010c0"/><circle cx="122.94" cy="248.09" r="0.46" fill="#0c0ca0"/><circle cx="72.93" cy="262.05" r="0.59" fill="#2828e8"/><circle cx="149.63" cy="249.37" r="0.75" fill="#1a1aff"/><circle cx="154.15" cy="181.86" r="0.43" fill="#3030ff"/><circle cx="76.21" cy="220.39" r="0.43" fill="#2828e8"/><circle cx="133.6" cy="201.95" r="0.56" fill="#2020d0"/><circle cx="139.79" cy="270.95" r="0.45" fill="#1010c0"/><circle cx="135.66" cy="184.29" r="0.84" fill="#2828e8"/><circle cx="96.58" cy="242.44" r="0.85" fill="#3030ff"/><circle cx="109.5" cy="250.15" r="0.48" fill="#1a1aff"/><circle cx="69.2" cy="219.72" r="0.76" fill="#0c0ca0"/><circle cx="65.31" cy="260.63" r="0.75" fill="#3030ff"/><circle cx="100.28" cy="282.95" r="0.56" fill="#1010c0"/><circle cx="59.81" cy="210.07" r="0.66" fill="#3030ff"/><circle cx="143.54" cy="183.91" r="0.76" fill="#1818e0"/><circle cx="118.13" cy="190.07" r="0.64" fill="#1010c0"/><circle cx="127.37" cy="240.98" r="0.82" fill="#2828e8"/><circle cx="98.4" cy="208.35" r="0.74" fill="#1a1aff"/><circle cx="68.02" cy="251.68" r="0.57" fill="#1010c0"/><circle cx="161.95" cy="250.71" r="0.49" fill="#1010c0"/><circle cx="110.6" cy="255.01" r="0.82" fill="#2828e8"/><circle cx="118.82" cy="222.03" r="0.72" fill="#1a1aff"/><circle cx="100.52" cy="250.12" r="0.48" fill="#3030ff"/><circle cx="100.61" cy="197.97" r="0.46" fill="#3030ff"/><circle cx="115.34" cy="233.12" r="0.71" fill="#2828e8"/><circle cx="95.66" cy="267.36" r="0.45" fill="#2828e8"/><circle cx="139.51" cy="250.03" r="0.67" fill="#2020d0"/><circle cx="124.53" cy="276.51" r="0.81" fill="#3030ff"/><circle cx="58.91" cy="263.06" r="0.76" fill="#2828e8"/><circle cx="134.78" cy="182.16" r="0.69" fill="#1a1aff"/><circle cx="113.13" cy="178.64" r="0.81" fill="#0c0ca0"/><circle cx="79.7" cy="221.39" r="0.61" fill="#1a1aff"/><circle cx="142.58" cy="257.02" r="0.59" fill="#0c0ca0"/><circle cx="159.7" cy="229.63" r="0.51" fill="#3030ff"/><circle cx="97.32" cy="222.33" r="0.77" fill="#0c0ca0"/><circle cx="73.55" cy="274.54" r="0.79" fill="#1818e0"/><circle cx="59.31" cy="208.16" r="0.7" fill="#0c0ca0"/><circle cx="154.09" cy="270.86" r="0.44" fill="#2828e8"/><circle cx="130.71" cy="277.06" r="0.74" fill="#2020d0"/><circle cx="147.95" cy="271.19" r="0.51" fill="#2828e8"/><circle cx="139.05" cy="186.6" r="0.78" fill="#2020d0"/><circle cx="108.39" cy="189.58" r="0.72" fill="#2020d0"/><circle cx="147.45" cy="278.27" r="0.43" fill="#3030ff"/><circle cx="79.66" cy="217.53" r="0.6" fill="#1a1aff"/><circle cx="152.09" cy="212.9" r="0.41" fill="#3030ff"/><circle cx="106.41" cy="202.59" r="0.71" fill="#1818e0"/><circle cx="84.54" cy="222.57" r="0.45" fill="#1818e0"/><circle cx="116.22" cy="191.97" r="0.43" fill="#0c0ca0"/><circle cx="123.27" cy="212.35" r="0.54" fill="#1818e0"/><circle cx="128.3" cy="269.97" r="0.81" fill="#1010c0"/><circle cx="65.27" cy="233.08" r="0.51" fill="#1a1aff"/><circle cx="86.6" cy="241.86" r="0.7" fill="#2828e8"/><circle cx="103.77" cy="264.2" r="0.79" fill="#2828e8"/><circle cx="90.3" cy="246.69" r="0.69" fill="#1818e0"/><circle cx="65" cy="264.24" r="0.5" fill="#3030ff"/><circle cx="145.77" cy="270.65" r="0.82" fill="#1818e0"/><circle cx="137.86" cy="280.05" r="0.69" fill="#1a1aff"/><circle cx="127.97" cy="254.66" r="0.77" fill="#1a1aff"/><circle cx="90.37" cy="268.78" r="0.57" fill="#1a1aff"/><circle cx="141.26" cy="226.88" r="0.52" fill="#1010c0"/><circle cx="58.43" cy="263.52" r="0.81" fill="#2020d0"/><circle cx="156.96" cy="219.6" r="0.78" fill="#3030ff"/><circle cx="126.97" cy="184.61" r="0.6" fill="#3030ff"/><circle cx="149.21" cy="235.29" r="0.56" fill="#3030ff"/><circle cx="77.45" cy="181.65" r="0.42" fill="#0c0ca0"/><circle cx="139.68" cy="212.43" r="0.79" fill="#2828e8"/><circle cx="101.61" cy="263.1" r="0.43" fill="#1010c0"/><circle cx="64.19" cy="267.43" r="0.8" fill="#1818e0"/><circle cx="86.6" cy="244.48" r="0.6" fill="#3030ff"/><circle cx="121.31" cy="267.67" r="0.53" fill="#3030ff"/><circle cx="117.02" cy="271.05" r="0.71" fill="#0c0ca0"/><circle cx="62.3" cy="214.8" r="0.47" fill="#2828e8"/><circle cx="62.78" cy="178.73" r="0.48" fill="#0c0ca0"/><circle cx="163.43" cy="246.4" r="0.65" fill="#1a1aff"/><circle cx="67.53" cy="211.37" r="0.77" fill="#2828e8"/><circle cx="155.58" cy="268.68" r="0.53" fill="#2828e8"/><circle cx="143.78" cy="240.93" r="0.52" fill="#1818e0"/><circle cx="120.73" cy="255.65" r="0.49" fill="#2020d0"/><circle cx="143.55" cy="263.44" r="0.64" fill="#2828e8"/><circle cx="66.02" cy="266.24" r="0.42" fill="#2828e8"/><circle cx="67.12" cy="180.9" r="0.45" fill="#1818e0"/><circle cx="99.78" cy="229.05" r="0.53" fill="#1818e0"/><circle cx="62.26" cy="188.86" r="0.76" fill="#2828e8"/><circle cx="147.21" cy="201.39" r="0.56" fill="#2828e8"/><circle cx="117.39" cy="178.94" r="0.63" fill="#2828e8"/><circle cx="163.54" cy="270.56" r="0.62" fill="#1818e0"/><circle cx="125.67" cy="231.86" r="0.81" fill="#0c0ca0"/><circle cx="147.25" cy="190.67" r="0.77" fill="#2020d0"/><circle cx="79.53" cy="258.73" r="0.49" fill="#3030ff"/><circle cx="104.75" cy="254" r="0.48" fill="#1a1aff"/><circle cx="114.01" cy="217.37" r="0.55" fill="#1818e0"/><circle cx="76.61" cy="233.69" r="0.7" fill="#1010c0"/><circle cx="140.47" cy="247.75" r="0.67" fill="#1a1aff"/><circle cx="74.18" cy="183.54" r="0.49" fill="#0c0ca0"/><circle cx="131.8" cy="202.88" r="0.82" fill="#2020d0"/><circle cx="117.85" cy="246.68" r="0.58" fill="#1818e0"/><circle cx="109.64" cy="231.73" r="0.55" fill="#3030ff"/><circle cx="150.84" cy="222.33" r="0.6" fill="#1010c0"/><circle cx="131.92" cy="205.06" r="0.5" fill="#2828e8"/><circle cx="84.98" cy="242.95" r="0.59" fill="#3030ff"/><circle cx="87.03" cy="268.01" r="0.6" fill="#1818e0"/><circle cx="70.82" cy="202.44" r="0.65" fill="#0c0ca0"/><circle cx="110.72" cy="269.63" r="0.57" fill="#3030ff"/><circle cx="154.76" cy="279.91" r="0.82" fill="#1818e0"/><circle cx="160.61" cy="215.94" r="0.46" fill="#2828e8"/><circle cx="162.99" cy="263.16" r="0.78" fill="#3030ff"/><circle cx="117.6" cy="244.28" r="0.71" fill="#3030ff"/><circle cx="153.27" cy="263.69" r="0.65" fill="#1010c0"/><circle cx="68.71" cy="184.31" r="0.67" fill="#3030ff"/><circle cx="128.76" cy="257.42" r="0.72" fill="#2020d0"/><circle cx="120.53" cy="284.36" r="0.45" fill="#2020d0"/><circle cx="76.22" cy="185.26" r="0.65" fill="#2828e8"/><circle cx="93.06" cy="204.91" r="0.56" fill="#1a1aff"/><circle cx="160.9" cy="283.82" r="0.72" fill="#3030ff"/><circle cx="84.13" cy="239.53" r="0.8" fill="#1818e0"/><circle cx="95.32" cy="211.95" r="0.83" fill="#2020d0"/><circle cx="77.55" cy="191.1" r="0.58" fill="#1818e0"/><circle cx="153.56" cy="211.64" r="0.46" fill="#3030ff"/><circle cx="93.53" cy="184.29" r="0.54" fill="#1a1aff"/><circle cx="89.53" cy="234.07" r="0.67" fill="#2828e8"/><circle cx="156.79" cy="231.04" r="0.48" fill="#2828e8"/><circle cx="69.43" cy="220.8" r="0.44" fill="#0c0ca0"/><circle cx="160.45" cy="230.62" r="0.47" fill="#2020d0"/><circle cx="141.44" cy="234.04" r="0.79" fill="#0c0ca0"/><circle cx="153.24" cy="234.63" r="0.77" fill="#3030ff"/><circle cx="105.07" cy="278.24" r="0.49" fill="#2828e8"/><circle cx="107.99" cy="234.41" r="0.76" fill="#2828e8"/><circle cx="113.5" cy="202.8" r="0.53" fill="#3030ff"/><circle cx="164.67" cy="254.64" r="0.48" fill="#2828e8"/><circle cx="155.36" cy="260.16" r="0.62" fill="#1010c0"/><circle cx="60.73" cy="206.42" r="0.45" fill="#1818e0"/><circle cx="68.48" cy="275.2" r="0.7" fill="#2828e8"/><circle cx="99.74" cy="188.83" r="0.49" fill="#3030ff"/><circle cx="133.17" cy="236.16" r="0.76" fill="#0c0ca0"/><circle cx="60.76" cy="199.95" r="0.44" fill="#2828e8"/><circle cx="74.23" cy="233.56" r="0.49" fill="#1010c0"/><circle cx="161.81" cy="210.13" r="0.68" fill="#1a1aff"/><circle cx="110.49" cy="206.35" r="0.6" fill="#2828e8"/><circle cx="129.24" cy="247.48" r="0.47" fill="#2828e8"/><circle cx="152.87" cy="206.65" r="0.6" fill="#1a1aff"/><circle cx="155.43" cy="229.92" r="0.64" fill="#1a1aff"/><circle cx="132.38" cy="203.1" r="0.53" fill="#2020d0"/><circle cx="117.42" cy="209.14" r="0.84" fill="#2020d0"/><circle cx="161.45" cy="182.68" r="0.71" fill="#1818e0"/><circle cx="138.47" cy="237.68" r="0.42" fill="#1a1aff"/><circle cx="149.4" cy="266.2" r="0.6" fill="#2828e8"/><circle cx="102.45" cy="242.75" r="0.69" fill="#1a1aff"/><circle cx="63.81" cy="189.05" r="0.6" fill="#1818e0"/><circle cx="125.07" cy="207.8" r="0.8" fill="#1818e0"/><circle cx="90.8" cy="279" r="0.58" fill="#1010c0"/><circle cx="131.69" cy="222.36" r="0.54" fill="#1a1aff"/><circle cx="63.52" cy="273.94" r="0.53" fill="#3030ff"/><circle cx="120.41" cy="277.47" r="0.72" fill="#0c0ca0"/><circle cx="121.33" cy="235.98" r="0.46" fill="#0c0ca0"/><circle cx="57.86" cy="254.15" r="0.68" fill="#2828e8"/><circle cx="134.09" cy="234.58" r="0.65" fill="#1010c0"/><circle cx="159.9" cy="214.79" r="0.45" fill="#0c0ca0"/><circle cx="71.9" cy="178.86" r="0.77" fill="#1818e0"/><circle cx="97.43" cy="263.71" r="0.66" fill="#0c0ca0"/><circle cx="98.34" cy="253.28" r="0.64" fill="#1010c0"/><circle cx="96.48" cy="234.32" r="0.67" fill="#3030ff"/><circle cx="130.89" cy="182.28" r="0.58" fill="#2828e8"/><circle cx="166.53" cy="251.25" r="0.46" fill="#0c0ca0"/><circle cx="76.94" cy="258.21" r="0.58" fill="#0c0ca0"/><circle cx="117.46" cy="208.92" r="0.62" fill="#1818e0"/><circle cx="68.27" cy="202.65" r="0.73" fill="#1818e0"/><circle cx="67.42" cy="185.12" r="0.64" fill="#2020d0"/><circle cx="148.28" cy="216.17" r="0.56" fill="#2828e8"/><circle cx="69.9" cy="279.44" r="0.7" fill="#1818e0"/><circle cx="136.53" cy="271.26" r="0.53" fill="#2828e8"/><circle cx="144.49" cy="223.7" r="0.65" fill="#1818e0"/><circle cx="72.03" cy="224.29" r="0.85" fill="#0c0ca0"/><circle cx="160.42" cy="183.17" r="0.72" fill="#1818e0"/><circle cx="128.24" cy="271.41" r="0.76" fill="#1a1aff"/><circle cx="145.81" cy="211.05" r="0.77" fill="#1a1aff"/><circle cx="81.13" cy="247.51" r="0.52" fill="#1a1aff"/><circle cx="105.17" cy="181.84" r="0.79" fill="#2020d0"/><circle cx="121.08" cy="179.65" r="0.82" fill="#1a1aff"/><circle cx="64" cy="216.93" r="0.82" fill="#1a1aff"/><circle cx="166.01" cy="247.96" r="0.68" fill="#3030ff"/><circle cx="76.14" cy="202.45" r="0.44" fill="#1a1aff"/><circle cx="156.81" cy="245.4" r="0.68" fill="#1a1aff"/><circle cx="164.07" cy="274.84" r="0.81" fill="#3030ff"/><circle cx="83.02" cy="264.35" r="0.77" fill="#1818e0"/><circle cx="132.46" cy="226.21" r="0.43" fill="#0c0ca0"/><circle cx="146.2" cy="251.08" r="0.71" fill="#1818e0"/><circle cx="89.85" cy="196.43" r="0.84" fill="#2020d0"/><circle cx="81.4" cy="185.01" r="0.64" fill="#2020d0"/><circle cx="151.95" cy="245.63" r="0.65" fill="#2828e8"/><circle cx="89.15" cy="247.82" r="0.42" fill="#3030ff"/><circle cx="133.79" cy="249.63" r="0.6" fill="#0c0ca0"/><circle cx="57.6" cy="180.49" r="0.82" fill="#1818e0"/><circle cx="123.88" cy="207.08" r="0.6" fill="#1818e0"/><circle cx="120.86" cy="279.75" r="0.43" fill="#2020d0"/><circle cx="87.97" cy="179.91" r="0.69" fill="#2020d0"/><circle cx="122.44" cy="225.15" r="0.66" fill="#1818e0"/><circle cx="107.08" cy="224.93" r="0.54" fill="#2020d0"/><circle cx="86.11" cy="264.83" r="0.7" fill="#1818e0"/><circle cx="165.39" cy="248" r="0.72" fill="#1818e0"/><circle cx="144.08" cy="258.49" r="0.55" fill="#2828e8"/><circle cx="157.38" cy="271.88" r="0.6" fill="#3030ff"/><circle cx="120.35" cy="186.78" r="0.55" fill="#1818e0"/><circle cx="100.11" cy="200.67" r="0.7" fill="#3030ff"/><circle cx="141.01" cy="201.82" r="0.68" fill="#2020d0"/><circle cx="122.46" cy="283.94" r="0.6" fill="#2020d0"/><circle cx="78.39" cy="280.22" r="0.68" fill="#2828e8"/><circle cx="86.61" cy="236.31" r="0.84" fill="#0c0ca0"/><circle cx="63.84" cy="245.92" r="0.57" fill="#3030ff"/><circle cx="156.08" cy="276.98" r="0.64" fill="#1818e0"/><circle cx="113.04" cy="213.43" r="0.64" fill="#2020d0"/><circle cx="89.89" cy="267.56" r="0.44" fill="#0c0ca0"/><circle cx="91.63" cy="250.43" r="0.72" fill="#1010c0"/><circle cx="127.14" cy="280.89" r="0.69" fill="#1010c0"/><circle cx="150.59" cy="255.46" r="0.77" fill="#1010c0"/><circle cx="88.25" cy="268.5" r="0.41" fill="#2020d0"/><circle cx="80.93" cy="272.48" r="0.73" fill="#2020d0"/><circle cx="159.99" cy="238.63" r="0.43" fill="#1a1aff"/><circle cx="152.22" cy="255.07" r="0.4" fill="#1818e0"/><circle cx="63.73" cy="242.76" r="0.6" fill="#1a1aff"/><circle cx="128.6" cy="211.08" r="0.85" fill="#0c0ca0"/><circle cx="111.96" cy="277.72" r="0.59" fill="#1a1aff"/><circle cx="58.77" cy="221.05" r="0.73" fill="#2828e8"/><circle cx="142.29" cy="262.98" r="0.55" fill="#1010c0"/><circle cx="73.64" cy="179.98" r="0.78" fill="#2020d0"/><circle cx="136.17" cy="246.92" r="0.71" fill="#2020d0"/><circle cx="86.34" cy="276.48" r="0.76" fill="#2020d0"/><circle cx="103.96" cy="228.74" r="0.63" fill="#2828e8"/><circle cx="162.69" cy="250.85" r="0.63" fill="#1010c0"/><circle cx="160.91" cy="242.65" r="0.62" fill="#1818e0"/><circle cx="93.27" cy="234.08" r="0.73" fill="#2828e8"/><circle cx="107.54" cy="189.77" r="0.84" fill="#2020d0"/><circle cx="63.47" cy="253.95" r="0.72" fill="#2828e8"/><circle cx="132.9" cy="220.77" r="0.42" fill="#2020d0"/><circle cx="146.99" cy="270.41" r="0.5" fill="#1818e0"/><circle cx="151.87" cy="271.59" r="0.56" fill="#1818e0"/><circle cx="94.5" cy="218.12" r="0.53" fill="#1818e0"/><circle cx="91.15" cy="204.21" r="0.76" fill="#1818e0"/><circle cx="114.8" cy="272.89" r="0.41" fill="#3030ff"/><circle cx="111.89" cy="220.41" r="0.71" fill="#0c0ca0"/><circle cx="75.86" cy="278.16" r="0.75" fill="#3030ff"/><circle cx="87.74" cy="215.26" r="0.73" fill="#2020d0"/><circle cx="102.64" cy="211.86" r="0.8" fill="#0c0ca0"/><circle cx="90.45" cy="226.17" r="0.5" fill="#1010c0"/><circle cx="70.25" cy="190.36" r="0.51" fill="#1818e0"/><circle cx="63.22" cy="220.25" r="0.81" fill="#3030ff"/><circle cx="104.88" cy="226.94" r="0.57" fill="#2020d0"/><circle cx="157.27" cy="228.82" r="0.47" fill="#1a1aff"/><circle cx="124.88" cy="260.82" r="0.8" fill="#1818e0"/><circle cx="102.02" cy="196.87" r="0.63" fill="#2020d0"/><circle cx="79.2" cy="267.1" r="0.75" fill="#2020d0"/><circle cx="90.18" cy="210.72" r="0.59" fill="#1a1aff"/><circle cx="153.07" cy="274.78" r="0.7" fill="#2020d0"/><circle cx="137.97" cy="241.79" r="0.77" fill="#0c0ca0"/><circle cx="105.41" cy="260.94" r="0.49" fill="#2828e8"/><circle cx="93.62" cy="214.45" r="0.79" fill="#2020d0"/><circle cx="65" cy="250.7" r="0.68" fill="#3030ff"/><circle cx="152.98" cy="283.49" r="0.47" fill="#1818e0"/><circle cx="98.73" cy="206.7" r="0.52" fill="#1818e0"/><circle cx="153.83" cy="189.34" r="0.45" fill="#1818e0"/><circle cx="136.91" cy="236.17" r="0.48" fill="#1010c0"/><circle cx="74.79" cy="276.6" r="0.71" fill="#3030ff"/><circle cx="125.36" cy="276.65" r="0.65" fill="#2020d0"/><circle cx="102.17" cy="260.37" r="0.45" fill="#2020d0"/><circle cx="161.99" cy="241.66" r="0.63" fill="#2828e8"/><circle cx="166.84" cy="239.7" r="0.76" fill="#3030ff"/><circle cx="108.75" cy="224.82" r="0.85" fill="#1010c0"/><circle cx="139.62" cy="182.67" r="0.65" fill="#3030ff"/><circle cx="121.58" cy="203.41" r="0.55" fill="#0c0ca0"/><circle cx="111.77" cy="274.01" r="0.63" fill="#2828e8"/><circle cx="75.88" cy="194.56" r="0.45" fill="#1a1aff"/><circle cx="94.76" cy="219.71" r="0.47" fill="#1818e0"/><circle cx="138.29" cy="185.45" r="0.63" fill="#2020d0"/><circle cx="141.88" cy="280.45" r="0.69" fill="#2828e8"/><circle cx="114.47" cy="249.83" r="0.66" fill="#3030ff"/><circle cx="67.31" cy="246.66" r="0.51" fill="#2020d0"/><circle cx="131.35" cy="278.5" r="0.6" fill="#1818e0"/><circle cx="90.15" cy="208.07" r="0.63" fill="#1a1aff"/><circle cx="87.95" cy="274.96" r="0.47" fill="#1010c0"/><circle cx="59.15" cy="267.47" r="0.57" fill="#2828e8"/><circle cx="142.55" cy="260.32" r="0.75" fill="#1818e0"/><circle cx="154.84" cy="181.44" r="0.49" fill="#0c0ca0"/><circle cx="89.09" cy="213.15" r="0.44" fill="#1818e0"/><circle cx="92.2" cy="207.01" r="0.43" fill="#0c0ca0"/><circle cx="127.99" cy="231.93" r="0.55" fill="#2828e8"/><circle cx="151.44" cy="251.24" r="0.81" fill="#3030ff"/><circle cx="104.05" cy="189.11" r="0.64" fill="#2020d0"/><circle cx="96.09" cy="280.66" r="0.48" fill="#0c0ca0"/><circle cx="98.58" cy="238.58" r="0.72" fill="#3030ff"/><circle cx="117.49" cy="247" r="0.5" fill="#0c0ca0"/><circle cx="63.83" cy="246.45" r="0.56" fill="#2020d0"/><circle cx="66.52" cy="184.04" r="0.73" fill="#2828e8"/><circle cx="122.12" cy="211.3" r="0.41" fill="#1a1aff"/><circle cx="134.16" cy="221.63" r="0.63" fill="#1818e0"/><circle cx="105.46" cy="215.86" r="0.79" fill="#3030ff"/><circle cx="146.28" cy="277.98" r="0.73" fill="#0c0ca0"/><circle cx="155.77" cy="266.78" r="0.64" fill="#1010c0"/><circle cx="91.79" cy="272.43" r="0.69" fill="#3030ff"/><circle cx="69.27" cy="242.43" r="0.42" fill="#3030ff"/><circle cx="106.87" cy="210.44" r="0.72" fill="#1010c0"/><circle cx="133.07" cy="185.33" r="0.72" fill="#2828e8"/><circle cx="60.3" cy="281.34" r="0.76" fill="#1818e0"/><circle cx="97.29" cy="216.22" r="0.73" fill="#1010c0"/><circle cx="148.99" cy="221.66" r="0.52" fill="#3030ff"/><circle cx="149.24" cy="279.87" r="0.64" fill="#0c0ca0"/><circle cx="101.62" cy="233.6" r="0.76" fill="#1a1aff"/><circle cx="74.62" cy="227.73" r="0.84" fill="#1a1aff"/><circle cx="85.71" cy="200.05" r="0.69" fill="#0c0ca0"/><circle cx="110.11" cy="268.49" r="0.64" fill="#0c0ca0"/><circle cx="60.15" cy="221.62" r="0.42" fill="#2828e8"/><circle cx="127.39" cy="224.01" r="0.63" fill="#0c0ca0"/><circle cx="104.5" cy="264.94" r="0.81" fill="#1818e0"/><circle cx="146.93" cy="229.87" r="0.58" fill="#1818e0"/><circle cx="150.98" cy="225.49" r="0.8" fill="#3030ff"/><circle cx="60.11" cy="192.2" r="0.84" fill="#2020d0"/><circle cx="62.42" cy="260.07" r="0.66" fill="#2828e8"/><circle cx="62.9" cy="219.13" r="0.5" fill="#2020d0"/><circle cx="85.44" cy="193.65" r="0.78" fill="#0c0ca0"/><circle cx="83.94" cy="188.71" r="0.46" fill="#1010c0"/><circle cx="137.67" cy="241.11" r="0.46" fill="#0c0ca0"/><circle cx="66.25" cy="249.5" r="0.63" fill="#1a1aff"/><circle cx="69.63" cy="257.96" r="0.41" fill="#0c0ca0"/><circle cx="91.45" cy="232.14" r="0.51" fill="#1010c0"/><circle cx="65.12" cy="233.47" r="0.69" fill="#1a1aff"/><circle cx="68.77" cy="184" r="0.77" fill="#2828e8"/><circle cx="85.84" cy="240.54" r="0.64" fill="#2020d0"/><circle cx="163.35" cy="241.78" r="0.81" fill="#1010c0"/><circle cx="92.58" cy="183.1" r="0.42" fill="#3030ff"/><circle cx="109.03" cy="221.09" r="0.53" fill="#2020d0"/><circle cx="143.91" cy="189.69" r="0.68" fill="#2020d0"/><circle cx="86.95" cy="220.93" r="0.56" fill="#1818e0"/><circle cx="63.76" cy="225.35" r="0.67" fill="#2828e8"/><circle cx="134.83" cy="225.68" r="0.47" fill="#1818e0"/><circle cx="117.29" cy="216.4" r="0.65" fill="#2828e8"/><circle cx="113.79" cy="249.39" r="0.52" fill="#0c0ca0"/><circle cx="102.99" cy="239.38" r="0.7" fill="#1010c0"/><circle cx="125.75" cy="232.69" r="0.62" fill="#2828e8"/><circle cx="162.85" cy="281.51" r="0.59" fill="#3030ff"/><circle cx="138.56" cy="270.01" r="0.67" fill="#2828e8"/><circle cx="111.59" cy="241.43" r="0.52" fill="#2828e8"/><circle cx="112" cy="249.19" r="0.72" fill="#2020d0"/><circle cx="65.05" cy="220.35" r="0.69" fill="#0c0ca0"/><circle cx="125.2" cy="266" r="0.66" fill="#1818e0"/><circle cx="82.74" cy="220.42" r="0.83" fill="#0c0ca0"/><circle cx="82.08" cy="281.5" r="0.73" fill="#2828e8"/><circle cx="91.54" cy="256.3" r="0.52" fill="#1818e0"/><circle cx="76.37" cy="226.6" r="0.63" fill="#1818e0"/><circle cx="98.82" cy="212.95" r="0.67" fill="#3030ff"/><circle cx="105.43" cy="206.07" r="0.67" fill="#1a1aff"/><circle cx="77.68" cy="257.07" r="0.42" fill="#2020d0"/><circle cx="92.99" cy="254.42" r="0.57" fill="#1010c0"/><circle cx="84.88" cy="277.08" r="0.56" fill="#2828e8"/><circle cx="67.44" cy="196.19" r="0.52" fill="#2020d0"/><circle cx="97.77" cy="238.22" r="0.5" fill="#1010c0"/><circle cx="142.59" cy="233.29" r="0.72" fill="#1010c0"/><circle cx="95.04" cy="275.72" r="0.62" fill="#2828e8"/><circle cx="126.22" cy="240.23" r="0.53" fill="#1818e0"/><circle cx="89.09" cy="186.59" r="0.61" fill="#3030ff"/><circle cx="60.62" cy="271.57" r="0.65" fill="#2828e8"/><circle cx="103.86" cy="209.63" r="0.62" fill="#2020d0"/><circle cx="78.52" cy="269.6" r="0.84" fill="#1a1aff"/><circle cx="113.86" cy="214.62" r="0.42" fill="#3030ff"/><circle cx="161.69" cy="192.56" r="0.43" fill="#1010c0"/><circle cx="157.18" cy="192.93" r="0.71" fill="#2828e8"/><circle cx="137.88" cy="233.76" r="0.4" fill="#0c0ca0"/><circle cx="69.44" cy="182.24" r="0.56" fill="#2020d0"/><circle cx="132.09" cy="232.88" r="0.6" fill="#1010c0"/><circle cx="105.5" cy="256.4" r="0.5" fill="#3030ff"/><circle cx="124.49" cy="190.34" r="0.72" fill="#0c0ca0"/><circle cx="69.28" cy="247.96" r="0.73" fill="#2020d0"/><circle cx="105.68" cy="221.06" r="0.61" fill="#3030ff"/><circle cx="85.87" cy="200.5" r="0.51" fill="#2828e8"/><circle cx="76.45" cy="262.33" r="0.81" fill="#3030ff"/><circle cx="82.13" cy="236.19" r="0.67" fill="#1a1aff"/><circle cx="109.99" cy="269.97" r="0.8" fill="#1a1aff"/><circle cx="156.54" cy="260" r="0.5" fill="#2020d0"/><circle cx="127.82" cy="209" r="0.7" fill="#1818e0"/><circle cx="85.66" cy="276.77" r="0.76" fill="#2828e8"/><circle cx="94.91" cy="269.78" r="0.73" fill="#0c0ca0"/><circle cx="58.41" cy="242.75" r="0.65" fill="#1010c0"/><circle cx="103.38" cy="252.62" r="0.85" fill="#1818e0"/><circle cx="86.44" cy="233.33" r="0.43" fill="#2828e8"/><circle cx="100.17" cy="234.36" r="0.74" fill="#1a1aff"/><circle cx="61.68" cy="256" r="0.7" fill="#2020d0"/><circle cx="156.37" cy="242.49" r="0.5" fill="#1818e0"/><circle cx="130.54" cy="268.47" r="0.46" fill="#3030ff"/><circle cx="87.32" cy="261.72" r="0.63" fill="#1010c0"/><circle cx="92.35" cy="195.95" r="0.59" fill="#3030ff"/><circle cx="147.27" cy="211.94" r="0.51" fill="#1818e0"/><circle cx="79.88" cy="249.12" r="0.73" fill="#1010c0"/><circle cx="63.44" cy="280.26" r="0.77" fill="#2020d0"/><circle cx="134.09" cy="274.7" r="0.62" fill="#3030ff"/><circle cx="97.06" cy="270.3" r="0.5" fill="#2020d0"/><circle cx="98.08" cy="273.18" r="0.78" fill="#0c0ca0"/><circle cx="119.85" cy="258.61" r="0.85" fill="#3030ff"/><circle cx="111.8" cy="262.8" r="0.81" fill="#0c0ca0"/><circle cx="106.26" cy="258.68" r="0.83" fill="#2828e8"/><circle cx="117.71" cy="252.78" r="0.47" fill="#2020d0"/><circle cx="59.31" cy="201.36" r="0.68" fill="#3030ff"/><circle cx="86.27" cy="197.56" r="0.43" fill="#2020d0"/><circle cx="110.51" cy="263.86" r="0.7" fill="#0c0ca0"/><circle cx="76.09" cy="215.21" r="0.47" fill="#1818e0"/><circle cx="101.43" cy="255.34" r="0.46" fill="#0c0ca0"/><circle cx="165.37" cy="196.1" r="0.52" fill="#1010c0"/><circle cx="131.88" cy="271.54" r="0.68" fill="#2828e8"/><circle cx="126.49" cy="229.66" r="0.65" fill="#1010c0"/><circle cx="146.24" cy="210.57" r="0.81" fill="#2828e8"/><circle cx="153" cy="274.27" r="0.57" fill="#1818e0"/><circle cx="58.23" cy="277.24" r="0.79" fill="#3030ff"/><circle cx="144.22" cy="212.12" r="0.79" fill="#0c0ca0"/><circle cx="137.18" cy="279.08" r="0.54" fill="#2828e8"/><circle cx="128.07" cy="261.6" r="0.67" fill="#2828e8"/><circle cx="111.26" cy="208.41" r="0.8" fill="#1010c0"/><circle cx="100.22" cy="255.25" r="0.49" fill="#1010c0"/><circle cx="106.59" cy="178.44" r="0.67" fill="#1818e0"/><circle cx="68.23" cy="209.82" r="0.43" fill="#2828e8"/><circle cx="77.81" cy="284.43" r="0.61" fill="#1818e0"/><circle cx="67.73" cy="184.06" r="0.73" fill="#2828e8"/><circle cx="103.58" cy="254.63" r="0.82" fill="#0c0ca0"/><circle cx="95.81" cy="185.24" r="0.49" fill="#1010c0"/><circle cx="118.11" cy="238.6" r="0.55" fill="#3030ff"/><circle cx="142.86" cy="266.99" r="0.41" fill="#1818e0"/><circle cx="136.01" cy="245.33" r="0.46" fill="#1010c0"/><circle cx="121.15" cy="234.01" r="0.58" fill="#2828e8"/><circle cx="152.79" cy="228.2" r="0.49" fill="#0c0ca0"/><circle cx="61.72" cy="219.9" r="0.77" fill="#1010c0"/><circle cx="73.51" cy="182.11" r="0.52" fill="#0c0ca0"/><circle cx="162.88" cy="261.91" r="0.68" fill="#2828e8"/><circle cx="91.1" cy="220.68" r="0.74" fill="#2020d0"/><circle cx="68.6" cy="283.35" r="0.4" fill="#2020d0"/><circle cx="167.58" cy="240.56" r="0.56" fill="#1a1aff"/><circle cx="64.65" cy="240.85" r="0.78" fill="#1818e0"/><circle cx="112.17" cy="227.56" r="0.62" fill="#2828e8"/><circle cx="162.57" cy="219.64" r="0.75" fill="#1a1aff"/><circle cx="74.98" cy="251.47" r="0.7" fill="#2020d0"/><circle cx="140.53" cy="252.39" r="0.43" fill="#1818e0"/><circle cx="141.24" cy="239.64" r="0.85" fill="#0c0ca0"/><circle cx="100.26" cy="234.63" r="0.74" fill="#2828e8"/><circle cx="64.35" cy="216.46" r="0.69" fill="#1a1aff"/><circle cx="139.13" cy="202.96" r="0.46" fill="#3030ff"/><circle cx="137.29" cy="279.47" r="0.55" fill="#2020d0"/><circle cx="146.9" cy="226.86" r="0.64" fill="#1a1aff"/><circle cx="100.76" cy="196.8" r="0.66" fill="#3030ff"/><circle cx="92.87" cy="277.53" r="0.58" fill="#1010c0"/><circle cx="155.19" cy="219.98" r="0.52" fill="#2828e8"/><circle cx="77.04" cy="183.75" r="0.47" fill="#0c0ca0"/><circle cx="123.17" cy="271.06" r="0.44" fill="#2828e8"/><circle cx="156.28" cy="178.72" r="0.78" fill="#0c0ca0"/><circle cx="95.88" cy="199.71" r="0.63" fill="#3030ff"/><circle cx="72.16" cy="265.48" r="0.71" fill="#1818e0"/><circle cx="134.66" cy="273.36" r="0.67" fill="#2020d0"/><circle cx="152.45" cy="248.21" r="0.75" fill="#1010c0"/><circle cx="117.32" cy="201.08" r="0.51" fill="#1010c0"/><circle cx="76.33" cy="185.59" r="0.51" fill="#0c0ca0"/><circle cx="89.78" cy="248.38" r="0.53" fill="#3030ff"/><circle cx="74.57" cy="213.53" r="0.81" fill="#0c0ca0"/><circle cx="145.31" cy="227.86" r="0.84" fill="#2020d0"/><circle cx="136.43" cy="253.75" r="0.5" fill="#1a1aff"/><circle cx="104.47" cy="192.72" r="0.53" fill="#2828e8"/><circle cx="103.04" cy="182.19" r="0.5" fill="#1a1aff"/><circle cx="87.55" cy="208.34" r="0.62" fill="#0c0ca0"/><circle cx="128.2" cy="191.3" r="0.69" fill="#3030ff"/><circle cx="165.23" cy="282.49" r="0.45" fill="#2020d0"/><circle cx="141.51" cy="209.4" r="0.85" fill="#3030ff"/><circle cx="81.69" cy="229.06" r="0.81" fill="#0c0ca0"/><circle cx="152.7" cy="234.71" r="0.8" fill="#1010c0"/><circle cx="126.64" cy="216.44" r="0.51" fill="#2020d0"/><circle cx="71.87" cy="284.17" r="0.63" fill="#0c0ca0"/><circle cx="76.34" cy="214.59" r="0.82" fill="#1a1aff"/><circle cx="66.59" cy="280.37" r="0.61" fill="#1a1aff"/><circle cx="102.33" cy="181.24" r="0.83" fill="#2828e8"/><circle cx="57.85" cy="268.58" r="0.84" fill="#1010c0"/><circle cx="163.15" cy="194.52" r="0.74" fill="#2828e8"/><circle cx="160.99" cy="250.11" r="0.41" fill="#3030ff"/><circle cx="92.28" cy="185.03" r="0.56" fill="#1818e0"/><circle cx="126.96" cy="196.33" r="0.54" fill="#1010c0"/><circle cx="167.3" cy="217.05" r="0.79" fill="#1a1aff"/><circle cx="155.69" cy="188.12" r="0.77" fill="#1818e0"/><circle cx="137" cy="268.49" r="0.55" fill="#2020d0"/><circle cx="93.03" cy="225.68" r="0.6" fill="#1a1aff"/><circle cx="158.07" cy="274.36" r="0.63" fill="#1010c0"/><circle cx="153.95" cy="225.4" r="0.62" fill="#3030ff"/><circle cx="97.12" cy="248.2" r="0.54" fill="#2828e8"/><circle cx="137.77" cy="267.69" r="0.51" fill="#1818e0"/><circle cx="108.13" cy="210.67" r="0.51" fill="#2020d0"/><circle cx="120.98" cy="207.89" r="0.53" fill="#1a1aff"/><circle cx="68.16" cy="250.79" r="0.7" fill="#1a1aff"/><circle cx="79.41" cy="240.76" r="0.6" fill="#1a1aff"/><circle cx="113.49" cy="202.28" r="0.74" fill="#2828e8"/><circle cx="82.18" cy="185.57" r="0.57" fill="#0c0ca0"/><circle cx="63.97" cy="267.83" r="0.62" fill="#1010c0"/><circle cx="140.63" cy="276.12" r="0.49" fill="#3030ff"/><circle cx="159.48" cy="180.68" r="0.42" fill="#2828e8"/><circle cx="85.52" cy="224.43" r="0.84" fill="#2020d0"/><circle cx="64.22" cy="257.16" r="0.66" fill="#3030ff"/><circle cx="131.86" cy="280.59" r="0.7" fill="#3030ff"/><circle cx="163.75" cy="267.26" r="0.79" fill="#2828e8"/><circle cx="87.13" cy="271.63" r="0.51" fill="#2828e8"/><circle cx="114.21" cy="264.49" r="0.57" fill="#1818e0"/><circle cx="100.28" cy="195.75" r="0.83" fill="#2020d0"/><circle cx="167.6" cy="207.97" r="0.5" fill="#3030ff"/><circle cx="84.51" cy="256.61" r="0.69" fill="#2828e8"/><circle cx="79.28" cy="273.16" r="0.72" fill="#1818e0"/><circle cx="65.39" cy="283.17" r="0.8" fill="#2020d0"/><circle cx="81.79" cy="179" r="0.49" fill="#3030ff"/><circle cx="128.03" cy="246.95" r="0.76" fill="#1010c0"/><circle cx="78.84" cy="208.06" r="0.53" fill="#1818e0"/><circle cx="129.99" cy="202.84" r="0.53" fill="#0c0ca0"/><circle cx="161.37" cy="253.74" r="0.49" fill="#1010c0"/><circle cx="107.45" cy="236.02" r="0.44" fill="#1010c0"/><circle cx="64.86" cy="218.28" r="0.8" fill="#0c0ca0"/><circle cx="153.68" cy="264.84" r="0.71" fill="#0c0ca0"/><circle cx="135.38" cy="189.17" r="0.57" fill="#0c0ca0"/><circle cx="131.46" cy="214.06" r="0.44" fill="#1010c0"/><circle cx="144.7" cy="205.43" r="0.62" fill="#2828e8"/><circle cx="97.89" cy="273.78" r="0.78" fill="#2828e8"/><circle cx="167.74" cy="225.16" r="0.42" fill="#1010c0"/><circle cx="82.02" cy="279.52" r="0.77" fill="#1010c0"/><circle cx="120.78" cy="191.49" r="0.82" fill="#1a1aff"/><circle cx="80.15" cy="194.2" r="0.52" fill="#1818e0"/><circle cx="64.69" cy="237.57" r="0.59" fill="#1818e0"/><circle cx="136.12" cy="282.05" r="0.6" fill="#3030ff"/><circle cx="127.56" cy="218.12" r="0.41" fill="#0c0ca0"/><circle cx="85.91" cy="226.26" r="0.52" fill="#2828e8"/><circle cx="71.49" cy="188.53" r="0.77" fill="#3030ff"/><circle cx="57.22" cy="197.96" r="0.83" fill="#1818e0"/><circle cx="115.06" cy="194.59" r="0.46" fill="#1a1aff"/><circle cx="136.08" cy="283.12" r="0.71" fill="#1010c0"/><circle cx="92.1" cy="235.23" r="0.55" fill="#1818e0"/><circle cx="69.39" cy="210.15" r="0.84" fill="#1a1aff"/><circle cx="69.03" cy="261.77" r="0.69" fill="#2828e8"/><circle cx="86.33" cy="216.79" r="0.56" fill="#1a1aff"/><circle cx="96.84" cy="216.59" r="0.48" fill="#0c0ca0"/><circle cx="160.31" cy="220.97" r="0.42" fill="#2828e8"/><circle cx="78.59" cy="205.87" r="0.41" fill="#2828e8"/><circle cx="161.9" cy="213.78" r="0.51" fill="#2020d0"/><circle cx="94.19" cy="198.55" r="0.68" fill="#1a1aff"/><circle cx="128.91" cy="283.1" r="0.65" fill="#1818e0"/><circle cx="152.43" cy="232.55" r="0.62" fill="#2020d0"/><circle cx="120.96" cy="225.95" r="0.56" fill="#2020d0"/><circle cx="90.48" cy="212.64" r="0.78" fill="#1818e0"/><circle cx="57.04" cy="270.73" r="0.65" fill="#3030ff"/><circle cx="140.89" cy="277.34" r="0.64" fill="#0c0ca0"/><circle cx="63.69" cy="178.81" r="0.47" fill="#3030ff"/><circle cx="88.89" cy="208.66" r="0.84" fill="#1010c0"/><circle cx="60.57" cy="217.19" r="0.6" fill="#0c0ca0"/><circle cx="81.94" cy="213.76" r="0.72" fill="#2828e8"/><circle cx="84.04" cy="207.78" r="0.66" fill="#2828e8"/><circle cx="137.41" cy="196.87" r="0.71" fill="#3030ff"/><circle cx="105.99" cy="278.31" r="0.82" fill="#0c0ca0"/><circle cx="132.94" cy="240.83" r="0.82" fill="#2828e8"/><circle cx="71.6" cy="207.07" r="0.76" fill="#2828e8"/><circle cx="148.12" cy="199.68" r="0.7" fill="#2020d0"/><circle cx="106.48" cy="265.48" r="0.54" fill="#1818e0"/><circle cx="142.92" cy="270.02" r="0.54" fill="#3030ff"/><circle cx="133.48" cy="251.78" r="0.42" fill="#2020d0"/><circle cx="147.3" cy="261.59" r="0.76" fill="#2020d0"/><circle cx="135.43" cy="203.02" r="0.41" fill="#1818e0"/><circle cx="165.45" cy="227.51" r="0.49" fill="#3030ff"/><circle cx="117.24" cy="187.03" r="0.57" fill="#0c0ca0"/><circle cx="116.33" cy="249.32" r="0.59" fill="#2828e8"/><circle cx="160.79" cy="185.82" r="0.76" fill="#1010c0"/><circle cx="148.24" cy="207.11" r="0.59" fill="#2828e8"/><circle cx="65.63" cy="219" r="0.59" fill="#2828e8"/><circle cx="59.58" cy="189.99" r="0.69" fill="#3030ff"/><circle cx="140.31" cy="196.09" r="0.7" fill="#1010c0"/><circle cx="148.37" cy="255.64" r="0.46" fill="#2828e8"/><circle cx="120.01" cy="252.95" r="0.65" fill="#3030ff"/><circle cx="86.25" cy="253.62" r="0.59" fill="#1818e0"/><circle cx="85.19" cy="184.5" r="0.53" fill="#1010c0"/><circle cx="121.03" cy="215.91" r="0.52" fill="#2828e8"/><circle cx="94.82" cy="270.44" r="0.51" fill="#1010c0"/><circle cx="150" cy="262.89" r="0.58" fill="#0c0ca0"/><circle cx="95.44" cy="277.68" r="0.55" fill="#2020d0"/><circle cx="99.59" cy="189.04" r="0.81" fill="#0c0ca0"/><circle cx="79.8" cy="211.38" r="0.67" fill="#1010c0"/><circle cx="129.49" cy="198.95" r="0.4" fill="#1010c0"/><circle cx="106.78" cy="279.69" r="0.81" fill="#1010c0"/><circle cx="105.05" cy="263.42" r="0.53" fill="#2020d0"/><circle cx="68.2" cy="204.96" r="0.73" fill="#2828e8"/><circle cx="101.43" cy="267.65" r="0.46" fill="#2828e8"/><circle cx="73.74" cy="269.39" r="0.57" fill="#2828e8"/><circle cx="141.44" cy="190.18" r="0.56" fill="#3030ff"/><circle cx="138.07" cy="185.18" r="0.53" fill="#1010c0"/><circle cx="96.15" cy="236.46" r="0.61" fill="#2828e8"/><circle cx="157.31" cy="277.56" r="0.77" fill="#1010c0"/><circle cx="84.72" cy="242.09" r="0.5" fill="#0c0ca0"/><circle cx="93.44" cy="194.67" r="0.42" fill="#1a1aff"/><circle cx="87.49" cy="238.75" r="0.78" fill="#3030ff"/><circle cx="160.45" cy="263" r="0.83" fill="#2828e8"/><circle cx="144.87" cy="251.96" r="0.69" fill="#1818e0"/><circle cx="136.64" cy="191.16" r="0.6" fill="#1818e0"/><circle cx="115.08" cy="252.04" r="0.44" fill="#1010c0"/><circle cx="85.57" cy="215.34" r="0.8" fill="#2020d0"/><circle cx="81.78" cy="187.38" r="0.47" fill="#1010c0"/><circle cx="74.17" cy="226.6" r="0.8" fill="#2828e8"/><circle cx="72.67" cy="225.2" r="0.82" fill="#1818e0"/><circle cx="117.69" cy="199.72" r="0.84" fill="#3030ff"/><circle cx="137.05" cy="240.29" r="0.52" fill="#1818e0"/><circle cx="62.82" cy="284.54" r="0.49" fill="#0c0ca0"/><circle cx="115.6" cy="200.66" r="0.7" fill="#3030ff"/><circle cx="76.76" cy="189.03" r="0.83" fill="#0c0ca0"/><circle cx="125.58" cy="257.88" r="0.66" fill="#0c0ca0"/><circle cx="91.46" cy="201.19" r="0.7" fill="#2828e8"/><circle cx="78.09" cy="242.6" r="0.44" fill="#2020d0"/><circle cx="110.61" cy="284.54" r="0.72" fill="#2828e8"/><circle cx="79.86" cy="257.07" r="0.7" fill="#2020d0"/><circle cx="69.53" cy="275.87" r="0.44" fill="#1818e0"/><circle cx="160.47" cy="227.3" r="0.45" fill="#3030ff"/><circle cx="115.65" cy="220.88" r="0.48" fill="#1a1aff"/><circle cx="165.88" cy="181.54" r="0.55" fill="#2828e8"/><circle cx="71.24" cy="193.69" r="0.44" fill="#1010c0"/><circle cx="161.28" cy="235.24" r="0.67" fill="#2020d0"/><circle cx="66.52" cy="216.89" r="0.55" fill="#1010c0"/><circle cx="69.03" cy="195.18" r="0.59" fill="#3030ff"/><circle cx="163.42" cy="256.48" r="0.45" fill="#1a1aff"/><circle cx="106.92" cy="257.86" r="0.64" fill="#1818e0"/><circle cx="102.52" cy="207.23" r="0.78" fill="#1818e0"/><circle cx="100.24" cy="201.07" r="0.41" fill="#2828e8"/><circle cx="161.36" cy="241.84" r="0.71" fill="#2020d0"/><circle cx="67.32" cy="243.46" r="0.4" fill="#1a1aff"/><circle cx="146.82" cy="236.28" r="0.54" fill="#2020d0"/><circle cx="157.56" cy="252" r="0.74" fill="#0c0ca0"/><circle cx="118.72" cy="200.61" r="0.43" fill="#2828e8"/><circle cx="100.51" cy="272.98" r="0.67" fill="#2020d0"/><circle cx="59.46" cy="245.17" r="0.69" fill="#0c0ca0"/><circle cx="123.37" cy="216.67" r="0.62" fill="#2020d0"/><circle cx="159.1" cy="278.32" r="0.55" fill="#2828e8"/><circle cx="139.41" cy="219.12" r="0.74" fill="#1a1aff"/><circle cx="111.57" cy="275.77" r="0.55" fill="#2020d0"/><circle cx="161.29" cy="200.34" r="0.78" fill="#0c0ca0"/><circle cx="130.57" cy="259.58" r="0.46" fill="#2828e8"/><circle cx="58.62" cy="267.77" r="0.53" fill="#1010c0"/><circle cx="133.02" cy="178.4" r="0.61" fill="#2020d0"/><circle cx="68.74" cy="232.86" r="0.65" fill="#1010c0"/><circle cx="83.57" cy="195.45" r="0.74" fill="#2020d0"/><circle cx="86.27" cy="225.23" r="0.65" fill="#2020d0"/><circle cx="88.67" cy="216.27" r="0.83" fill="#2828e8"/><circle cx="133.21" cy="260.02" r="0.54" fill="#2828e8"/><circle cx="72.39" cy="266.76" r="0.61" fill="#2828e8"/><circle cx="68.17" cy="218.75" r="0.55" fill="#1818e0"/><circle cx="159.98" cy="262.44" r="0.59" fill="#3030ff"/><circle cx="75.69" cy="215.55" r="0.74" fill="#2828e8"/><circle cx="82.19" cy="223.38" r="0.53" fill="#1010c0"/><circle cx="77.43" cy="201.62" r="0.47" fill="#1010c0"/><circle cx="81.98" cy="190.3" r="0.56" fill="#1a1aff"/><circle cx="118.38" cy="233.69" r="0.54" fill="#0c0ca0"/><circle cx="96.94" cy="231.77" r="0.47" fill="#1a1aff"/><circle cx="81.83" cy="215.1" r="0.66" fill="#0c0ca0"/><circle cx="136.96" cy="283.53" r="0.49" fill="#0c0ca0"/><circle cx="121.61" cy="214.15" r="0.59" fill="#1010c0"/><circle cx="148.95" cy="252.84" r="0.67" fill="#3030ff"/><circle cx="56.95" cy="283.82" r="0.6" fill="#0c0ca0"/><circle cx="67.97" cy="211.31" r="0.55" fill="#2828e8"/><circle cx="115.78" cy="267.57" r="0.56" fill="#1a1aff"/><circle cx="94.54" cy="212.9" r="0.72" fill="#2020d0"/><circle cx="160.72" cy="208.82" r="0.79" fill="#3030ff"/><circle cx="79.51" cy="221.37" r="0.75" fill="#3030ff"/><circle cx="72.48" cy="226.89" r="0.52" fill="#0c0ca0"/><circle cx="165.39" cy="281.46" r="0.8" fill="#1010c0"/><circle cx="129.69" cy="280.67" r="0.79" fill="#3030ff"/><circle cx="74.75" cy="216.69" r="0.85" fill="#1818e0"/><circle cx="158.93" cy="258.68" r="0.51" fill="#0c0ca0"/><circle cx="92.25" cy="282.72" r="0.65" fill="#2020d0"/><circle cx="119.57" cy="268.12" r="0.49" fill="#3030ff"/><circle cx="114.98" cy="278.09" r="0.45" fill="#3030ff"/><circle cx="91.02" cy="245.46" r="0.82" fill="#3030ff"/><circle cx="141.22" cy="233.99" r="0.82" fill="#1010c0"/><circle cx="97.09" cy="232.63" r="0.6" fill="#1010c0"/><circle cx="68.81" cy="207.46" r="0.55" fill="#1010c0"/><circle cx="167.5" cy="213.58" r="0.67" fill="#0c0ca0"/><circle cx="118.82" cy="246.84" r="0.52" fill="#1818e0"/><circle cx="155.76" cy="275.25" r="0.44" fill="#1818e0"/><circle cx="152.89" cy="253.17" r="0.7" fill="#0c0ca0"/><circle cx="112.22" cy="193.2" r="0.81" fill="#2828e8"/><circle cx="159.84" cy="207.12" r="0.63" fill="#1818e0"/><circle cx="158.7" cy="214.05" r="0.46" fill="#1010c0"/><circle cx="58.52" cy="252.18" r="0.56" fill="#1818e0"/><circle cx="113.19" cy="270.78" r="0.77" fill="#0c0ca0"/><circle cx="160.23" cy="210.42" r="0.46" fill="#2828e8"/><circle cx="94.57" cy="272.83" r="0.69" fill="#0c0ca0"/><circle cx="127.52" cy="270.66" r="0.41" fill="#1010c0"/><circle cx="67.34" cy="264.47" r="0.48" fill="#2020d0"/><circle cx="128.14" cy="252.96" r="0.61" fill="#3030ff"/><circle cx="92.3" cy="205.37" r="0.83" fill="#3030ff"/><circle cx="86.49" cy="282.72" r="0.68" fill="#2020d0"/><circle cx="104.85" cy="283.08" r="0.57" fill="#2020d0"/><circle cx="143.66" cy="217.77" r="0.42" fill="#1a1aff"/><circle cx="122.6" cy="277.22" r="0.74" fill="#2828e8"/><circle cx="88.41" cy="210.11" r="0.72" fill="#1a1aff"/><circle cx="151.93" cy="249.94" r="0.62" fill="#1010c0"/><circle cx="95.73" cy="218.56" r="0.71" fill="#1010c0"/><circle cx="151.93" cy="204.76" r="0.75" fill="#1010c0"/><circle cx="64.13" cy="226.1" r="0.69" fill="#3030ff"/><circle cx="153.01" cy="236.28" r="0.73" fill="#1818e0"/><circle cx="147.79" cy="277.2" r="0.79" fill="#1010c0"/><circle cx="132.74" cy="248.98" r="0.66" fill="#1818e0"/><circle cx="137.21" cy="254.75" r="0.41" fill="#2828e8"/><circle cx="132.98" cy="212.37" r="0.57" fill="#1818e0"/><circle cx="85.19" cy="273.31" r="0.5" fill="#1010c0"/><circle cx="78.14" cy="255.17" r="0.76" fill="#3030ff"/><circle cx="126.84" cy="191.33" r="0.6" fill="#3030ff"/><circle cx="102.87" cy="284.06" r="0.47" fill="#1818e0"/><circle cx="73.12" cy="267.76" r="0.67" fill="#2020d0"/><circle cx="142.92" cy="202.05" r="0.47" fill="#1818e0"/><circle cx="141.27" cy="181.87" r="0.6" fill="#1a1aff"/><circle cx="149.33" cy="253.46" r="0.76" fill="#1818e0"/><circle cx="103.21" cy="195.49" r="0.56" fill="#0c0ca0"/><circle cx="147.33" cy="234.5" r="0.55" fill="#3030ff"/><circle cx="132.05" cy="227.5" r="0.67" fill="#2020d0"/><circle cx="58.22" cy="246.48" r="0.7" fill="#1010c0"/><circle cx="146.29" cy="263.51" r="0.67" fill="#1a1aff"/><circle cx="114.8" cy="278.59" r="0.42" fill="#1818e0"/><circle cx="126.87" cy="216.82" r="0.5" fill="#2828e8"/><circle cx="129.94" cy="276.75" r="0.69" fill="#1818e0"/><circle cx="144.06" cy="223.34" r="0.72" fill="#2020d0"/><circle cx="128.32" cy="190.69" r="0.82" fill="#3030ff"/><circle cx="135.67" cy="191.7" r="0.47" fill="#0c0ca0"/><circle cx="99.46" cy="251.95" r="0.81" fill="#1818e0"/><circle cx="123.29" cy="199.95" r="0.76" fill="#3030ff"/><circle cx="167" cy="188.01" r="0.44" fill="#1818e0"/><circle cx="60.76" cy="273.31" r="0.46" fill="#0c0ca0"/><circle cx="101.87" cy="202.46" r="0.45" fill="#2020d0"/><circle cx="73.26" cy="198.82" r="0.62" fill="#1010c0"/><circle cx="66.83" cy="214.22" r="0.46" fill="#1818e0"/><circle cx="153.11" cy="201.34" r="0.42" fill="#2828e8"/><circle cx="137.74" cy="195" r="0.8" fill="#2828e8"/><circle cx="122.91" cy="207.48" r="0.61" fill="#0c0ca0"/><circle cx="97.19" cy="241.13" r="0.52" fill="#3030ff"/><circle cx="108.65" cy="254.8" r="0.51" fill="#0c0ca0"/><circle cx="114.89" cy="208.19" r="0.51" fill="#3030ff"/><circle cx="68.51" cy="232.63" r="0.55" fill="#0c0ca0"/><circle cx="84.35" cy="264.51" r="0.45" fill="#2828e8"/><circle cx="77.15" cy="189.59" r="0.52" fill="#2828e8"/><circle cx="80.27" cy="239.07" r="0.56" fill="#2828e8"/><circle cx="136.83" cy="194.76" r="0.77" fill="#3030ff"/><circle cx="86.43" cy="270.73" r="0.82" fill="#2020d0"/><circle cx="98.86" cy="271.82" r="0.42" fill="#1010c0"/><circle cx="142.02" cy="252.13" r="0.44" fill="#1a1aff"/><circle cx="148.35" cy="272.93" r="0.44" fill="#0c0ca0"/><circle cx="93.27" cy="193.41" r="0.59" fill="#2828e8"/><circle cx="89.68" cy="222.78" r="0.59" fill="#3030ff"/><circle cx="76.18" cy="258.91" r="0.83" fill="#2020d0"/><circle cx="146.6" cy="279.07" r="0.4" fill="#0c0ca0"/><circle cx="123.97" cy="228.54" r="0.63" fill="#1a1aff"/><circle cx="86.05" cy="243.79" r="0.71" fill="#0c0ca0"/><circle cx="128.9" cy="213.78" r="0.78" fill="#1818e0"/><circle cx="77.84" cy="191.64" r="0.41" fill="#0c0ca0"/><circle cx="64.65" cy="187.29" r="0.57" fill="#1818e0"/><circle cx="85.8" cy="282.87" r="0.61" fill="#0c0ca0"/><circle cx="130.12" cy="184.56" r="0.57" fill="#1010c0"/><circle cx="99.98" cy="284.12" r="0.47" fill="#3030ff"/><circle cx="77" cy="213.8" r="0.6" fill="#2020d0"/><circle cx="140.86" cy="250.47" r="0.74" fill="#1818e0"/><circle cx="75.84" cy="275.77" r="0.6" fill="#2020d0"/><circle cx="144.04" cy="271.06" r="0.66" fill="#2828e8"/><circle cx="81.45" cy="258.56" r="0.8" fill="#3030ff"/><circle cx="82.71" cy="192.79" r="0.57" fill="#0c0ca0"/><circle cx="61.06" cy="271.25" r="0.7" fill="#3030ff"/><circle cx="82.81" cy="214.61" r="0.6" fill="#2828e8"/><circle cx="120.32" cy="270.2" r="0.68" fill="#2828e8"/><circle cx="150.95" cy="245.36" r="0.52" fill="#2828e8"/><circle cx="150.39" cy="253.97" r="0.64" fill="#1818e0"/><circle cx="79.59" cy="210.76" r="0.79" fill="#2828e8"/><circle cx="137.39" cy="178.93" r="0.53" fill="#1a1aff"/><circle cx="107.92" cy="276.61" r="0.64" fill="#1818e0"/><circle cx="88.35" cy="225.11" r="0.46" fill="#1a1aff"/><circle cx="88.82" cy="252.22" r="0.85" fill="#1010c0"/><circle cx="130.85" cy="275.06" r="0.69" fill="#2020d0"/><circle cx="130.06" cy="184.45" r="0.4" fill="#0c0ca0"/><circle cx="133.03" cy="219.35" r="0.75" fill="#3030ff"/><circle cx="140.04" cy="251.79" r="0.67" fill="#1a1aff"/><circle cx="87.64" cy="191.83" r="0.45" fill="#1818e0"/><circle cx="130.57" cy="212.68" r="0.67" fill="#2828e8"/><circle cx="132.08" cy="216.71" r="0.61" fill="#2020d0"/><circle cx="125.16" cy="255.93" r="0.75" fill="#1818e0"/><circle cx="125.06" cy="256.67" r="0.82" fill="#1a1aff"/><circle cx="93.43" cy="273.08" r="0.77" fill="#2020d0"/><circle cx="139.29" cy="248.25" r="0.49" fill="#1818e0"/><circle cx="109.37" cy="240.92" r="0.41" fill="#1a1aff"/><circle cx="166.65" cy="200.03" r="0.66" fill="#1818e0"/><circle cx="89.08" cy="243.7" r="0.82" fill="#1010c0"/><circle cx="61.86" cy="200.04" r="0.44" fill="#2020d0"/><circle cx="117.72" cy="275.07" r="0.68" fill="#1010c0"/><circle cx="151.29" cy="202.94" r="0.78" fill="#1010c0"/><circle cx="147.45" cy="231" r="0.46" fill="#2020d0"/><circle cx="159.6" cy="248.96" r="0.7" fill="#2020d0"/><circle cx="153.79" cy="216.84" r="0.42" fill="#3030ff"/><circle cx="67.01" cy="194.32" r="0.76" fill="#3030ff"/><circle cx="61.68" cy="243.06" r="0.77" fill="#2828e8"/><circle cx="71.75" cy="184.91" r="0.75" fill="#1a1aff"/><circle cx="100.93" cy="207.17" r="0.63" fill="#1010c0"/><circle cx="63.57" cy="203.76" r="0.7" fill="#1010c0"/><circle cx="144.17" cy="203.6" r="0.7" fill="#1a1aff"/><circle cx="160.99" cy="215.14" r="0.49" fill="#1a1aff"/><circle cx="98.14" cy="219.13" r="0.76" fill="#0c0ca0"/><circle cx="87.26" cy="216.03" r="0.51" fill="#3030ff"/><circle cx="70.22" cy="229.95" r="0.62" fill="#0c0ca0"/><circle cx="151.43" cy="207.15" r="0.84" fill="#0c0ca0"/><circle cx="90.53" cy="248.34" r="0.66" fill="#1010c0"/><circle cx="80.48" cy="260.06" r="0.82" fill="#1a1aff"/><circle cx="85.72" cy="225.22" r="0.44" fill="#2828e8"/><circle cx="98.05" cy="241.06" r="0.54" fill="#2828e8"/><circle cx="71.51" cy="179.7" r="0.62" fill="#0c0ca0"/><circle cx="83.46" cy="272.37" r="0.43" fill="#2828e8"/><circle cx="94.91" cy="253.24" r="0.69" fill="#2828e8"/><circle cx="152.93" cy="194.48" r="0.64" fill="#3030ff"/><circle cx="78.71" cy="233.94" r="0.68" fill="#0c0ca0"/><circle cx="112.29" cy="221.57" r="0.8" fill="#1010c0"/><circle cx="127.63" cy="222.1" r="0.55" fill="#1010c0"/><circle cx="152.71" cy="247.48" r="0.55" fill="#2828e8"/><circle cx="126.68" cy="271.06" r="0.76" fill="#3030ff"/><circle cx="139.12" cy="198.07" r="0.82" fill="#2828e8"/><circle cx="84.18" cy="259" r="0.41" fill="#1010c0"/><circle cx="100.23" cy="249.85" r="0.83" fill="#2020d0"/><circle cx="149.85" cy="253.71" r="0.52" fill="#1010c0"/><circle cx="137.27" cy="274.22" r="0.69" fill="#1a1aff"/><circle cx="105.18" cy="194.11" r="0.77" fill="#2020d0"/><circle cx="113.22" cy="227.21" r="0.47" fill="#1818e0"/><circle cx="102.97" cy="261.5" r="0.41" fill="#1010c0"/><circle cx="145.58" cy="255.33" r="0.59" fill="#3030ff"/><circle cx="68.16" cy="180.93" r="0.81" fill="#2020d0"/><circle cx="100.3" cy="187.77" r="0.84" fill="#2828e8"/><circle cx="74.68" cy="231.11" r="0.54" fill="#1a1aff"/><circle cx="141.01" cy="211.99" r="0.4" fill="#1818e0"/><circle cx="107.5" cy="223.89" r="0.62" fill="#2828e8"/><circle cx="112.09" cy="240" r="0.79" fill="#1a1aff"/><circle cx="131.59" cy="216.17" r="0.61" fill="#3030ff"/><circle cx="72.75" cy="200.1" r="0.82" fill="#1a1aff"/><circle cx="152.86" cy="254.5" r="0.74" fill="#2020d0"/><circle cx="150.48" cy="216.12" r="0.41" fill="#1818e0"/><circle cx="61.19" cy="245.89" r="0.46" fill="#1a1aff"/><circle cx="74.07" cy="265.69" r="0.49" fill="#3030ff"/><circle cx="101.04" cy="215.87" r="0.45" fill="#0c0ca0"/><circle cx="125.43" cy="229.74" r="0.6" fill="#3030ff"/><circle cx="113.32" cy="221.35" r="0.49" fill="#1a1aff"/><circle cx="99.99" cy="248.49" r="0.68" fill="#1010c0"/><circle cx="162.27" cy="254.04" r="0.62" fill="#0c0ca0"/><circle cx="92.33" cy="190.95" r="0.68" fill="#2828e8"/><circle cx="98.9" cy="196.6" r="0.77" fill="#1a1aff"/><circle cx="158.11" cy="232.92" r="0.67" fill="#1010c0"/><circle cx="123.4" cy="209.69" r="0.47" fill="#2828e8"/><circle cx="107.33" cy="207.7" r="0.67" fill="#2020d0"/><circle cx="98.46" cy="229.64" r="0.7" fill="#3030ff"/><circle cx="132.27" cy="261.97" r="0.53" fill="#1818e0"/><circle cx="117.98" cy="222.65" r="0.63" fill="#3030ff"/><circle cx="87" cy="186.6" r="0.52" fill="#1010c0"/><circle cx="84.61" cy="225.94" r="0.58" fill="#3030ff"/><circle cx="81.48" cy="247.74" r="0.74" fill="#3030ff"/><circle cx="164.02" cy="214.71" r="0.41" fill="#2020d0"/><circle cx="154.7" cy="191.98" r="0.85" fill="#0c0ca0"/><circle cx="65.11" cy="251.36" r="0.69" fill="#2828e8"/><circle cx="165.8" cy="226.38" r="0.6" fill="#2020d0"/><circle cx="156.17" cy="203.32" r="0.74" fill="#2828e8"/><circle cx="109.32" cy="280.88" r="0.7" fill="#1010c0"/><circle cx="151.78" cy="206.68" r="0.42" fill="#2020d0"/><circle cx="136.79" cy="207.45" r="0.43" fill="#2828e8"/><circle cx="76.35" cy="249.64" r="0.42" fill="#0c0ca0"/><circle cx="113.17" cy="282.13" r="0.5" fill="#3030ff"/><circle cx="131.28" cy="252.17" r="0.47" fill="#3030ff"/><circle cx="128.59" cy="241.3" r="0.77" fill="#0c0ca0"/><circle cx="122.49" cy="207.39" r="0.72" fill="#1010c0"/><circle cx="72.16" cy="184.92" r="0.53" fill="#2020d0"/><circle cx="95.76" cy="205.24" r="0.53" fill="#1a1aff"/><circle cx="79.78" cy="229.03" r="0.51" fill="#3030ff"/><circle cx="136.4" cy="215.63" r="0.53" fill="#1010c0"/><circle cx="93.74" cy="185.56" r="0.7" fill="#2020d0"/><circle cx="105.58" cy="223.83" r="0.63" fill="#3030ff"/><circle cx="79.57" cy="224.54" r="0.54" fill="#1a1aff"/><circle cx="162.63" cy="201.7" r="0.69" fill="#0c0ca0"/><circle cx="76.89" cy="242.8" r="0.48" fill="#2020d0"/><circle cx="149.71" cy="202.73" r="0.76" fill="#1818e0"/><circle cx="109.21" cy="263.76" r="0.74" fill="#2828e8"/><circle cx="67.5" cy="243.52" r="0.73" fill="#0c0ca0"/><circle cx="106.9" cy="248.19" r="0.45" fill="#3030ff"/><circle cx="161.35" cy="254.16" r="0.45" fill="#1010c0"/><circle cx="99.3" cy="242.57" r="0.77" fill="#1818e0"/><circle cx="80.32" cy="246.81" r="0.64" fill="#1818e0"/><circle cx="101.86" cy="208.75" r="0.66" fill="#2020d0"/><circle cx="156.32" cy="280.95" r="0.75" fill="#1818e0"/><circle cx="134.83" cy="241.21" r="0.73" fill="#1010c0"/><circle cx="113.65" cy="197.83" r="0.61" fill="#2020d0"/><circle cx="94.95" cy="269.72" r="0.45" fill="#2828e8"/><circle cx="128.67" cy="237.58" r="0.42" fill="#1010c0"/><circle cx="106.7" cy="270.92" r="0.69" fill="#1a1aff"/><circle cx="116.6" cy="215.15" r="0.62" fill="#1818e0"/><circle cx="123.2" cy="248.59" r="0.77" fill="#2828e8"/><circle cx="91.84" cy="183.46" r="0.55" fill="#2020d0"/><circle cx="131.41" cy="277.19" r="0.8" fill="#0c0ca0"/><circle cx="110.67" cy="186.18" r="0.5" fill="#2020d0"/><circle cx="72.97" cy="265.35" r="0.61" fill="#2828e8"/><circle cx="89.12" cy="232.98" r="0.45" fill="#1a1aff"/><circle cx="161.68" cy="252.21" r="0.67" fill="#0c0ca0"/><circle cx="161.58" cy="202.12" r="0.58" fill="#3030ff"/><circle cx="167.03" cy="252.36" r="0.56" fill="#3030ff"/><circle cx="104.39" cy="207.42" r="0.84" fill="#1818e0"/><circle cx="151.06" cy="274.26" r="0.78" fill="#2020d0"/><circle cx="76.22" cy="281.99" r="0.55" fill="#2020d0"/><circle cx="117.12" cy="219.46" r="0.7" fill="#2828e8"/><circle cx="127.56" cy="264.25" r="0.72" fill="#2020d0"/><circle cx="104.73" cy="247.69" r="0.66" fill="#1a1aff"/><circle cx="84.17" cy="278.22" r="0.64" fill="#3030ff"/><circle cx="109.15" cy="230.71" r="0.82" fill="#1818e0"/><circle cx="132.58" cy="263.15" r="0.79" fill="#1a1aff"/><circle cx="104.64" cy="284.44" r="0.82" fill="#1010c0"/><circle cx="144.64" cy="261.34" r="0.65" fill="#1818e0"/><circle cx="62.2" cy="211.91" r="0.49" fill="#0c0ca0"/><circle cx="93.38" cy="203.84" r="0.71" fill="#3030ff"/><circle cx="64.76" cy="270.41" r="0.62" fill="#3030ff"/><circle cx="161.87" cy="216.77" r="0.62" fill="#0c0ca0"/><circle cx="162.94" cy="182.47" r="0.71" fill="#2020d0"/><circle cx="140.92" cy="238.17" r="0.57" fill="#2020d0"/><circle cx="87.54" cy="282.9" r="0.66" fill="#1010c0"/><circle cx="75.54" cy="222.33" r="0.41" fill="#3030ff"/><circle cx="58.7" cy="269.28" r="0.53" fill="#2828e8"/><circle cx="124.63" cy="211.52" r="0.43" fill="#0c0ca0"/><circle cx="149.45" cy="270.68" r="0.69" fill="#2020d0"/><circle cx="88.48" cy="220.76" r="0.64" fill="#1818e0"/><circle cx="100.43" cy="218.65" r="0.58" fill="#0c0ca0"/><circle cx="102.98" cy="183.08" r="0.74" fill="#3030ff"/><circle cx="149.1" cy="243.43" r="0.47" fill="#1818e0"/><circle cx="157.52" cy="241.95" r="0.77" fill="#2020d0"/><circle cx="84.61" cy="199.66" r="0.4" fill="#3030ff"/><circle cx="140.21" cy="210.2" r="0.45" fill="#3030ff"/><circle cx="88.14" cy="216.61" r="0.5" fill="#3030ff"/><circle cx="132.24" cy="252.56" r="0.78" fill="#1010c0"/><circle cx="76.73" cy="193.27" r="0.72" fill="#1818e0"/><circle cx="62.36" cy="211.59" r="0.54" fill="#3030ff"/><circle cx="163.9" cy="258.2" r="0.79" fill="#2828e8"/><circle cx="135.66" cy="221.27" r="0.45" fill="#3030ff"/><circle cx="154.87" cy="242.43" r="0.68" fill="#1010c0"/><circle cx="58.42" cy="195.28" r="0.51" fill="#1a1aff"/><circle cx="129.15" cy="178.9" r="0.84" fill="#0c0ca0"/><circle cx="85.37" cy="212.17" r="0.68" fill="#1010c0"/><circle cx="66.74" cy="217.3" r="0.42" fill="#1010c0"/><circle cx="114.48" cy="232.78" r="0.6" fill="#2828e8"/><circle cx="96.13" cy="194.25" r="0.79" fill="#1a1aff"/><circle cx="99.97" cy="266.4" r="0.79" fill="#2828e8"/><circle cx="91.86" cy="282.53" r="0.72" fill="#0c0ca0"/><circle cx="153.54" cy="189.17" r="0.64" fill="#3030ff"/><circle cx="163.67" cy="237.82" r="0.61" fill="#1a1aff"/><circle cx="107.05" cy="192.39" r="0.85" fill="#0c0ca0"/><circle cx="156.01" cy="233.4" r="0.65" fill="#3030ff"/><circle cx="144.3" cy="252.6" r="0.46" fill="#1010c0"/><circle cx="153.26" cy="259.36" r="0.68" fill="#0c0ca0"/><circle cx="133.22" cy="262.21" r="0.67" fill="#1010c0"/><circle cx="98.23" cy="206.53" r="0.63" fill="#1010c0"/><circle cx="57.38" cy="200.04" r="0.45" fill="#1010c0"/><circle cx="77.4" cy="275.18" r="0.7" fill="#1a1aff"/><circle cx="122.39" cy="279.72" r="0.43" fill="#1010c0"/><circle cx="96.96" cy="229.3" r="0.57" fill="#2020d0"/><circle cx="77.81" cy="230.4" r="0.66" fill="#3030ff"/><circle cx="130.53" cy="211.03" r="0.53" fill="#2020d0"/><circle cx="152.75" cy="185.06" r="0.54" fill="#2828e8"/><circle cx="152.75" cy="189.4" r="0.46" fill="#3030ff"/><circle cx="111.19" cy="199.61" r="0.65" fill="#3030ff"/><circle cx="145.88" cy="256.08" r="0.48" fill="#2020d0"/><circle cx="94.46" cy="270.85" r="0.77" fill="#1a1aff"/><circle cx="68.21" cy="225.68" r="0.51" fill="#0c0ca0"/><circle cx="94.63" cy="212.96" r="0.49" fill="#3030ff"/><circle cx="141.25" cy="185.8" r="0.48" fill="#3030ff"/><circle cx="134.11" cy="243.5" r="0.66" fill="#2020d0"/><circle cx="161.53" cy="233.63" r="0.84" fill="#1a1aff"/><circle cx="90.82" cy="283.65" r="0.73" fill="#3030ff"/><circle cx="78.02" cy="196.04" r="0.43" fill="#0c0ca0"/><circle cx="163.78" cy="275.41" r="0.83" fill="#1a1aff"/><circle cx="113.67" cy="248.17" r="0.5" fill="#1818e0"/><circle cx="66.23" cy="241.59" r="0.71" fill="#2828e8"/><circle cx="153" cy="280.32" r="0.76" fill="#3030ff"/><circle cx="68.07" cy="257.84" r="0.71" fill="#2828e8"/><circle cx="165.04" cy="224.17" r="0.85" fill="#1010c0"/><circle cx="149.55" cy="198.18" r="0.61" fill="#2020d0"/><circle cx="165.35" cy="268.69" r="0.59" fill="#2020d0"/><circle cx="67.23" cy="252.03" r="0.43" fill="#3030ff"/><circle cx="167.76" cy="258.08" r="0.46" fill="#1010c0"/><circle cx="160.03" cy="218.7" r="0.62" fill="#2020d0"/><circle cx="133.12" cy="276.3" r="0.8" fill="#2828e8"/><circle cx="141.86" cy="243.18" r="0.84" fill="#0c0ca0"/><circle cx="137.17" cy="253.97" r="0.72" fill="#1a1aff"/><circle cx="110.65" cy="218.51" r="0.71" fill="#0c0ca0"/><circle cx="111.46" cy="254.48" r="0.51" fill="#2828e8"/><circle cx="98.13" cy="263.94" r="0.73" fill="#3030ff"/><circle cx="76.34" cy="228.62" r="0.59" fill="#1818e0"/><circle cx="145.46" cy="267.36" r="0.59" fill="#0c0ca0"/><circle cx="134.18" cy="182.07" r="0.42" fill="#1a1aff"/><circle cx="129.52" cy="281.53" r="0.83" fill="#1a1aff"/><circle cx="131.97" cy="259.39" r="0.81" fill="#1818e0"/><circle cx="100.63" cy="225.57" r="0.67" fill="#1010c0"/><circle cx="56.91" cy="235.21" r="0.42" fill="#2828e8"/><circle cx="158.37" cy="184.23" r="0.7" fill="#0c0ca0"/><circle cx="97.88" cy="226.65" r="0.63" fill="#1010c0"/><circle cx="108.31" cy="232.73" r="0.54" fill="#1010c0"/><circle cx="158.89" cy="204.7" r="0.43" fill="#0c0ca0"/><circle cx="92.97" cy="196.94" r="0.76" fill="#1818e0"/><circle cx="148.49" cy="233.87" r="0.46" fill="#2020d0"/><circle cx="66.69" cy="228.91" r="0.67" fill="#0c0ca0"/><circle cx="147.54" cy="267.93" r="0.69" fill="#1010c0"/><circle cx="104.67" cy="191.3" r="0.74" fill="#3030ff"/><circle cx="145.05" cy="203.16" r="0.64" fill="#2020d0"/><circle cx="84.07" cy="201.28" r="0.53" fill="#1818e0"/><circle cx="80.32" cy="211.13" r="0.4" fill="#2828e8"/><circle cx="155.76" cy="210.59" r="0.8" fill="#1818e0"/><circle cx="111.16" cy="186.38" r="0.8" fill="#3030ff"/><circle cx="95.2" cy="206.39" r="0.78" fill="#2020d0"/><circle cx="68.17" cy="262" r="0.62" fill="#2020d0"/><circle cx="145.81" cy="236.75" r="0.73" fill="#1818e0"/><circle cx="60.86" cy="272.04" r="0.5" fill="#2828e8"/><circle cx="92.06" cy="195.82" r="0.68" fill="#2020d0"/><circle cx="139.08" cy="199.84" r="0.54" fill="#0c0ca0"/><circle cx="149.74" cy="220.97" r="0.75" fill="#2828e8"/><circle cx="75.3" cy="268.7" r="0.83" fill="#3030ff"/><circle cx="143.88" cy="280.61" r="0.56" fill="#3030ff"/><circle cx="150.87" cy="214.12" r="0.63" fill="#2020d0"/><circle cx="100.33" cy="188.37" r="0.6" fill="#1818e0"/><circle cx="95.5" cy="240.48" r="0.41" fill="#3030ff"/><circle cx="93.49" cy="213.06" r="0.76" fill="#2828e8"/><circle cx="152.68" cy="238.99" r="0.6" fill="#2020d0"/><circle cx="101.8" cy="258.16" r="0.56" fill="#1818e0"/><circle cx="126.74" cy="218.23" r="0.85" fill="#2020d0"/><circle cx="142.73" cy="207.31" r="0.67" fill="#3030ff"/><circle cx="141.85" cy="197.56" r="0.56" fill="#1010c0"/><circle cx="87.02" cy="272" r="0.71" fill="#2828e8"/><circle cx="131.46" cy="217.57" r="0.45" fill="#1a1aff"/><circle cx="65.45" cy="237.9" r="0.52" fill="#2020d0"/><circle cx="58.44" cy="254.2" r="0.51" fill="#0c0ca0"/><circle cx="123.54" cy="191.61" r="0.63" fill="#1818e0"/><circle cx="97.75" cy="264.69" r="0.74" fill="#1010c0"/><circle cx="94.74" cy="239.72" r="0.71" fill="#0c0ca0"/><circle cx="58.93" cy="190.02" r="0.49" fill="#3030ff"/><circle cx="67.02" cy="229.31" r="0.55" fill="#2020d0"/><circle cx="147.41" cy="267.59" r="0.57" fill="#3030ff"/><circle cx="103.34" cy="277.54" r="0.58" fill="#2020d0"/><circle cx="122.12" cy="235.81" r="0.66" fill="#2828e8"/><circle cx="71.12" cy="266.69" r="0.42" fill="#2828e8"/><circle cx="61.72" cy="280.2" r="0.79" fill="#0c0ca0"/><circle cx="90.52" cy="283.92" r="0.5" fill="#1818e0"/><circle cx="99.69" cy="214.26" r="0.57" fill="#2020d0"/><circle cx="149.31" cy="251.54" r="0.62" fill="#2828e8"/><circle cx="145.92" cy="213.46" r="0.79" fill="#3030ff"/><circle cx="113.23" cy="197.58" r="0.54" fill="#0c0ca0"/><circle cx="163.16" cy="235.32" r="0.67" fill="#1010c0"/><circle cx="64" cy="216.46" r="0.69" fill="#1010c0"/><circle cx="157.83" cy="203.82" r="0.61" fill="#1010c0"/><circle cx="128.72" cy="234.7" r="0.84" fill="#1a1aff"/><circle cx="155.81" cy="187.18" r="0.41" fill="#0c0ca0"/><circle cx="166.01" cy="249.89" r="0.78" fill="#1010c0"/><circle cx="147.7" cy="233.51" r="0.49" fill="#2020d0"/><circle cx="160.71" cy="246.63" r="0.59" fill="#1818e0"/><circle cx="140.52" cy="278.37" r="0.42" fill="#1a1aff"/><circle cx="129.19" cy="227.56" r="0.73" fill="#2828e8"/><circle cx="89.71" cy="283.19" r="0.42" fill="#1010c0"/><circle cx="123.34" cy="201.07" r="0.76" fill="#2828e8"/><circle cx="70.83" cy="195.64" r="0.77" fill="#1818e0"/><circle cx="62.88" cy="256.38" r="0.55" fill="#0c0ca0"/><circle cx="146.68" cy="239.73" r="0.63" fill="#2828e8"/><circle cx="80.28" cy="254.08" r="0.52" fill="#2020d0"/><circle cx="141.02" cy="242.39" r="0.44" fill="#2828e8"/><circle cx="156.74" cy="240.1" r="0.46" fill="#1a1aff"/><circle cx="69.93" cy="270.68" r="0.51" fill="#3030ff"/><circle cx="137.55" cy="185.1" r="0.84" fill="#2828e8"/><circle cx="83.45" cy="277.1" r="0.82" fill="#2020d0"/><circle cx="159.83" cy="213.98" r="0.46" fill="#2828e8"/><circle cx="72.61" cy="211.69" r="0.41" fill="#2828e8"/><circle cx="135.2" cy="195.88" r="0.4" fill="#2828e8"/><circle cx="131.73" cy="253.75" r="0.79" fill="#1a1aff"/><circle cx="122.53" cy="280.84" r="0.78" fill="#1a1aff"/><circle cx="80.37" cy="269.38" r="0.62" fill="#2828e8"/><circle cx="96.38" cy="179.68" r="0.65" fill="#3030ff"/><circle cx="85.98" cy="229.41" r="0.62" fill="#2020d0"/><circle cx="92.07" cy="245.24" r="0.8" fill="#1a1aff"/><circle cx="122.41" cy="231.49" r="0.44" fill="#2828e8"/><circle cx="144.31" cy="277.67" r="0.77" fill="#1a1aff"/><circle cx="122.11" cy="198.73" r="0.59" fill="#1a1aff"/><circle cx="102.65" cy="247.47" r="0.67" fill="#0c0ca0"/><circle cx="160.55" cy="230.46" r="0.75" fill="#1010c0"/><circle cx="77.28" cy="209.93" r="0.61" fill="#0c0ca0"/><circle cx="153.55" cy="255.62" r="0.52" fill="#1a1aff"/><circle cx="86.62" cy="180.25" r="0.41" fill="#2020d0"/><circle cx="166.16" cy="235.63" r="0.74" fill="#0c0ca0"/><circle cx="63.51" cy="246" r="0.57" fill="#2828e8"/><circle cx="86.53" cy="216.29" r="0.76" fill="#1a1aff"/><circle cx="94.56" cy="187.22" r="0.73" fill="#1818e0"/><circle cx="159.41" cy="278.71" r="0.44" fill="#2020d0"/><circle cx="61.15" cy="237.66" r="0.53" fill="#2020d0"/><circle cx="159.23" cy="211.36" r="0.5" fill="#1a1aff"/><circle cx="130.87" cy="180.47" r="0.67" fill="#1a1aff"/><circle cx="86.02" cy="250.48" r="0.71" fill="#2020d0"/><circle cx="77.65" cy="276.31" r="0.84" fill="#1010c0"/><circle cx="70.26" cy="229.9" r="0.83" fill="#2828e8"/><circle cx="80.05" cy="222.55" r="0.81" fill="#0c0ca0"/><circle cx="77.55" cy="259.95" r="0.54" fill="#1010c0"/><circle cx="163.55" cy="248.51" r="0.62" fill="#3030ff"/><circle cx="120.21" cy="246.24" r="0.56" fill="#2828e8"/><circle cx="111.1" cy="239.22" r="0.6" fill="#1818e0"/><circle cx="145.62" cy="273.32" r="0.71" fill="#1a1aff"/><circle cx="149.18" cy="232.15" r="0.42" fill="#0c0ca0"/><circle cx="86.95" cy="214.51" r="0.47" fill="#0c0ca0"/><circle cx="103.91" cy="209.26" r="0.51" fill="#2828e8"/><circle cx="90.21" cy="263.55" r="0.83" fill="#1010c0"/><circle cx="147.87" cy="181.07" r="0.68" fill="#0c0ca0"/><circle cx="64.78" cy="227.6" r="0.51" fill="#2020d0"/><circle cx="95.58" cy="180.97" r="0.55" fill="#2828e8"/><circle cx="139.06" cy="229.34" r="0.5" fill="#2828e8"/><circle cx="71.22" cy="190.93" r="0.85" fill="#3030ff"/><circle cx="157.91" cy="241.94" r="0.45" fill="#1818e0"/><circle cx="103" cy="198.38" r="0.59" fill="#3030ff"/><circle cx="84.19" cy="196.01" r="0.74" fill="#1010c0"/><circle cx="93.69" cy="257.93" r="0.45" fill="#1a1aff"/><circle cx="156.58" cy="191.22" r="0.43" fill="#1a1aff"/><circle cx="135.93" cy="254.2" r="0.78" fill="#2828e8"/><circle cx="94.99" cy="194.46" r="0.45" fill="#1010c0"/><circle cx="91.3" cy="209.79" r="0.46" fill="#1a1aff"/><circle cx="92.99" cy="192.46" r="0.48" fill="#0c0ca0"/><circle cx="75.62" cy="252.4" r="0.58" fill="#1818e0"/><circle cx="152.41" cy="203.03" r="0.5" fill="#2020d0"/><circle cx="158.34" cy="180.26" r="0.41" fill="#3030ff"/><circle cx="114.91" cy="218.45" r="0.44" fill="#0c0ca0"/><circle cx="117.12" cy="186.51" r="0.48" fill="#2020d0"/><circle cx="96.89" cy="281.97" r="0.58" fill="#0c0ca0"/><circle cx="78.53" cy="283.36" r="0.8" fill="#1a1aff"/><circle cx="91.52" cy="240.87" r="0.46" fill="#2828e8"/><circle cx="83.43" cy="235.93" r="0.68" fill="#2828e8"/><circle cx="166.93" cy="259.4" r="0.75" fill="#2828e8"/><circle cx="61.83" cy="229.97" r="0.51" fill="#0c0ca0"/><circle cx="158.95" cy="226.59" r="0.43" fill="#1a1aff"/><circle cx="77.33" cy="190.31" r="0.81" fill="#1010c0"/><circle cx="124.58" cy="184.31" r="0.65" fill="#2828e8"/><circle cx="165.24" cy="252.52" r="0.42" fill="#1818e0"/><circle cx="162.12" cy="248.87" r="0.42" fill="#3030ff"/><circle cx="62.97" cy="279.87" r="0.68" fill="#0c0ca0"/><circle cx="114.47" cy="247.19" r="0.53" fill="#3030ff"/><circle cx="163.04" cy="252.24" r="0.5" fill="#3030ff"/><circle cx="114.65" cy="275.91" r="0.59" fill="#2828e8"/><circle cx="160.49" cy="268.83" r="0.52" fill="#0c0ca0"/><circle cx="97.77" cy="237.7" r="0.5" fill="#2020d0"/><circle cx="98.22" cy="210.73" r="0.44" fill="#2020d0"/><circle cx="115.49" cy="238.39" r="0.59" fill="#1010c0"/><circle cx="96.15" cy="247.39" r="0.7" fill="#2828e8"/><circle cx="114.65" cy="261.95" r="0.8" fill="#1a1aff"/><circle cx="140.86" cy="187.73" r="0.77" fill="#2828e8"/><circle cx="57.26" cy="236.39" r="0.84" fill="#3030ff"/><circle cx="63.11" cy="185.76" r="0.81" fill="#1010c0"/><circle cx="150.43" cy="215.49" r="0.6" fill="#2020d0"/><circle cx="148.81" cy="193.35" r="0.7" fill="#1010c0"/><circle cx="134.89" cy="182.2" r="0.66" fill="#1010c0"/><circle cx="141.52" cy="187.29" r="0.43" fill="#2828e8"/><circle cx="147.87" cy="198.98" r="0.8" fill="#2828e8"/><circle cx="150.21" cy="244.35" r="0.42" fill="#0c0ca0"/><circle cx="95.71" cy="188.49" r="0.48" fill="#0c0ca0"/><circle cx="135.2" cy="262.45" r="0.51" fill="#2828e8"/><circle cx="57.38" cy="275.84" r="0.64" fill="#0c0ca0"/><circle cx="153.35" cy="256.52" r="0.64" fill="#1010c0"/><circle cx="122.01" cy="248.45" r="0.7" fill="#2828e8"/><circle cx="85.77" cy="248.45" r="0.63" fill="#1a1aff"/><circle cx="149.81" cy="275.95" r="0.56" fill="#2020d0"/><circle cx="136" cy="283.21" r="0.54" fill="#2828e8"/><circle cx="151.06" cy="185.41" r="0.51" fill="#2020d0"/><circle cx="116.66" cy="239.81" r="0.6" fill="#0c0ca0"/><circle cx="143.85" cy="281.84" r="0.74" fill="#2020d0"/><circle cx="65.43" cy="245.15" r="0.51" fill="#1818e0"/><circle cx="105.64" cy="217.52" r="0.57" fill="#2828e8"/><circle cx="121.73" cy="278.76" r="0.68" fill="#0c0ca0"/><circle cx="151.58" cy="220.6" r="0.77" fill="#1010c0"/><circle cx="71.52" cy="196.62" r="0.49" fill="#2828e8"/><circle cx="165.05" cy="265.37" r="0.75" fill="#3030ff"/><circle cx="143.95" cy="275.18" r="0.59" fill="#1010c0"/><circle cx="160.32" cy="191.71" r="0.45" fill="#2020d0"/><circle cx="87.51" cy="241.02" r="0.52" fill="#3030ff"/><circle cx="118.69" cy="218.56" r="0.46" fill="#2828e8"/><circle cx="113.59" cy="276.91" r="0.54" fill="#2828e8"/><circle cx="132.31" cy="195.67" r="0.63" fill="#1a1aff"/><circle cx="145.5" cy="186.02" r="0.71" fill="#1818e0"/><circle cx="73.95" cy="225.1" r="0.59" fill="#1a1aff"/><circle cx="116.97" cy="243.73" r="0.68" fill="#1010c0"/><circle cx="153.13" cy="275.21" r="0.8" fill="#1a1aff"/><circle cx="58.43" cy="284.36" r="0.56" fill="#1010c0"/><circle cx="132.52" cy="236.33" r="0.77" fill="#3030ff"/><circle cx="130.81" cy="228.28" r="0.65" fill="#1818e0"/><circle cx="153.92" cy="204.31" r="0.46" fill="#1818e0"/><circle cx="75.36" cy="220.76" r="0.79" fill="#3030ff"/><circle cx="112.7" cy="213.96" r="0.69" fill="#2020d0"/><circle cx="155.29" cy="217.25" r="0.59" fill="#1a1aff"/><circle cx="75.32" cy="195.66" r="0.76" fill="#1818e0"/><circle cx="122.11" cy="237.84" r="0.65" fill="#0c0ca0"/><circle cx="84.45" cy="272.4" r="0.61" fill="#1818e0"/><circle cx="146.97" cy="185.92" r="0.83" fill="#1010c0"/><circle cx="84.85" cy="261.02" r="0.53" fill="#2828e8"/><circle cx="116.62" cy="239.21" r="0.5" fill="#2828e8"/><circle cx="128.96" cy="270.67" r="0.82" fill="#1818e0"/><circle cx="118.48" cy="238.06" r="0.59" fill="#2828e8"/><circle cx="105.31" cy="210" r="0.5" fill="#2828e8"/><circle cx="135.06" cy="279.53" r="0.59" fill="#1818e0"/><circle cx="145.32" cy="214.05" r="0.74" fill="#3030ff"/><circle cx="107.79" cy="209.88" r="0.63" fill="#1010c0"/><circle cx="155.34" cy="281.15" r="0.72" fill="#2828e8"/><circle cx="83.76" cy="201.41" r="0.46" fill="#2020d0"/><circle cx="156.88" cy="271.22" r="0.57" fill="#3030ff"/><circle cx="60.93" cy="235.15" r="0.74" fill="#1a1aff"/><circle cx="129.95" cy="216.27" r="0.71" fill="#1010c0"/><circle cx="74.06" cy="212.11" r="0.45" fill="#0c0ca0"/><circle cx="100.75" cy="209.03" r="0.44" fill="#2020d0"/><circle cx="76.91" cy="227.13" r="0.66" fill="#0c0ca0"/><circle cx="92.28" cy="185.56" r="0.57" fill="#2020d0"/><circle cx="120.67" cy="203.28" r="0.41" fill="#1a1aff"/><circle cx="114.71" cy="201.5" r="0.57" fill="#2020d0"/><circle cx="132.1" cy="189.19" r="0.68" fill="#2020d0"/><circle cx="123.09" cy="217.61" r="0.51" fill="#1818e0"/><circle cx="124.33" cy="184.31" r="0.69" fill="#1a1aff"/><circle cx="94.47" cy="241.59" r="0.84" fill="#3030ff"/><circle cx="135.77" cy="255.36" r="0.68" fill="#2020d0"/><circle cx="86.42" cy="185.6" r="0.7" fill="#2828e8"/><circle cx="91.89" cy="235.73" r="0.73" fill="#1818e0"/><circle cx="94.7" cy="271.63" r="0.65" fill="#3030ff"/><circle cx="88.34" cy="260.66" r="0.62" fill="#1818e0"/><circle cx="76.78" cy="232.16" r="0.73" fill="#2020d0"/><circle cx="142.99" cy="196.66" r="0.44" fill="#3030ff"/><circle cx="97.54" cy="263.48" r="0.47" fill="#3030ff"/><circle cx="60.86" cy="257.27" r="0.64" fill="#1818e0"/><circle cx="119.27" cy="232.99" r="0.51" fill="#1818e0"/><circle cx="120.77" cy="203.61" r="0.48" fill="#3030ff"/><circle cx="82.2" cy="244.28" r="0.5" fill="#1a1aff"/><circle cx="152.43" cy="199.28" r="0.63" fill="#1a1aff"/><circle cx="130.88" cy="205.78" r="0.84" fill="#3030ff"/><circle cx="81.77" cy="199.36" r="0.62" fill="#2020d0"/><circle cx="126.72" cy="254.65" r="0.62" fill="#2020d0"/><circle cx="153.02" cy="241.74" r="0.47" fill="#2020d0"/><circle cx="159.49" cy="236.36" r="0.78" fill="#2828e8"/><circle cx="98.63" cy="219.46" r="0.8" fill="#0c0ca0"/><circle cx="132.28" cy="263.19" r="0.6" fill="#0c0ca0"/><circle cx="80.9" cy="249.72" r="0.82" fill="#3030ff"/><circle cx="99.08" cy="217.18" r="0.64" fill="#1010c0"/><circle cx="148.84" cy="219.7" r="0.45" fill="#2020d0"/><circle cx="70.17" cy="210.07" r="0.48" fill="#2020d0"/><circle cx="91.25" cy="273.77" r="0.74" fill="#0c0ca0"/><circle cx="160.09" cy="229.15" r="0.49" fill="#2020d0"/><circle cx="117.57" cy="247.43" r="0.75" fill="#2828e8"/><circle cx="108.71" cy="212.12" r="0.63" fill="#0c0ca0"/><circle cx="70.19" cy="244.62" r="0.46" fill="#2020d0"/><circle cx="150.7" cy="225.83" r="0.45" fill="#3030ff"/><circle cx="113.66" cy="271.79" r="0.69" fill="#1010c0"/><circle cx="145.55" cy="195.91" r="0.68" fill="#2020d0"/><circle cx="109.63" cy="201.58" r="0.44" fill="#0c0ca0"/><circle cx="162.73" cy="252.42" r="0.77" fill="#2828e8"/><circle cx="78.03" cy="260.61" r="0.67" fill="#1a1aff"/><circle cx="111.75" cy="254" r="0.65" fill="#3030ff"/><circle cx="71.95" cy="208.38" r="0.66" fill="#2020d0"/><circle cx="75.8" cy="254.34" r="0.8" fill="#1a1aff"/><circle cx="131.98" cy="245.09" r="0.65" fill="#1a1aff"/><circle cx="76.73" cy="199.94" r="0.84" fill="#2020d0"/><circle cx="131.01" cy="229.06" r="0.8" fill="#2020d0"/><circle cx="98.25" cy="255.14" r="0.6" fill="#2020d0"/><circle cx="156.74" cy="260.44" r="0.72" fill="#1010c0"/><circle cx="139.43" cy="214.91" r="0.67" fill="#3030ff"/><circle cx="78.33" cy="237.68" r="0.56" fill="#2828e8"/><circle cx="67.67" cy="240.35" r="0.49" fill="#1a1aff"/><circle cx="80.48" cy="260.16" r="0.54" fill="#2020d0"/><circle cx="157.66" cy="223.35" r="0.78" fill="#2828e8"/><circle cx="65.2" cy="191.8" r="0.62" fill="#1818e0"/><circle cx="103.08" cy="234.53" r="0.64" fill="#1818e0"/><circle cx="72.87" cy="230.94" r="0.52" fill="#1818e0"/><circle cx="80.43" cy="193.82" r="0.57" fill="#1010c0"/><circle cx="151.17" cy="198.49" r="0.85" fill="#1818e0"/><circle cx="94.12" cy="206.9" r="0.44" fill="#2828e8"/><circle cx="101.62" cy="211.54" r="0.79" fill="#1a1aff"/><circle cx="155.69" cy="222.68" r="0.63" fill="#0c0ca0"/><circle cx="162.57" cy="210.09" r="0.64" fill="#2828e8"/><circle cx="73.54" cy="283.95" r="0.83" fill="#3030ff"/><circle cx="123.46" cy="245.34" r="0.79" fill="#1818e0"/><circle cx="77.7" cy="195.8" r="0.56" fill="#1010c0"/><circle cx="102.69" cy="181.42" r="0.43" fill="#2020d0"/><circle cx="156.18" cy="249.64" r="0.46" fill="#2828e8"/><circle cx="104.99" cy="228.19" r="0.41" fill="#1010c0"/><circle cx="92.29" cy="242.36" r="0.78" fill="#1a1aff"/><circle cx="134.35" cy="203.1" r="0.44" fill="#3030ff"/><circle cx="78.84" cy="241.42" r="0.4" fill="#1010c0"/><circle cx="93.32" cy="201.84" r="0.71" fill="#1a1aff"/><circle cx="90.14" cy="270.61" r="0.49" fill="#1818e0"/><circle cx="117.73" cy="260.64" r="0.82" fill="#1818e0"/><circle cx="161.58" cy="283.72" r="0.46" fill="#1818e0"/><circle cx="114.6" cy="277.18" r="0.71" fill="#1a1aff"/><circle cx="124.02" cy="277.7" r="0.82" fill="#3030ff"/><circle cx="83.82" cy="259.67" r="0.52" fill="#3030ff"/><circle cx="91.95" cy="281.79" r="0.67" fill="#1010c0"/><circle cx="109.29" cy="256.87" r="0.7" fill="#3030ff"/><circle cx="103.81" cy="231.7" r="0.66" fill="#0c0ca0"/><circle cx="111.84" cy="240.47" r="0.5" fill="#0c0ca0"/><circle cx="155.29" cy="190.17" r="0.5" fill="#2020d0"/><circle cx="128.5" cy="189.27" r="0.44" fill="#1818e0"/><circle cx="129.45" cy="179.36" r="0.52" fill="#3030ff"/><circle cx="96.12" cy="221.76" r="0.67" fill="#1a1aff"/><circle cx="82.65" cy="223.78" r="0.69" fill="#2828e8"/><circle cx="100.57" cy="193.61" r="0.83" fill="#2828e8"/><circle cx="138.56" cy="221.41" r="0.51" fill="#3030ff"/><circle cx="101.72" cy="227.62" r="0.41" fill="#1818e0"/><circle cx="107.92" cy="179.77" r="0.85" fill="#2828e8"/><circle cx="125.86" cy="280.48" r="0.75" fill="#1818e0"/><circle cx="141.45" cy="185.67" r="0.85" fill="#1010c0"/><circle cx="90.59" cy="225.41" r="0.82" fill="#1010c0"/><circle cx="99.46" cy="257.25" r="0.69" fill="#1818e0"/><circle cx="161.45" cy="188.32" r="0.6" fill="#1a1aff"/><circle cx="89.88" cy="194.07" r="0.83" fill="#0c0ca0"/><circle cx="149.34" cy="209.05" r="0.52" fill="#1a1aff"/><circle cx="148.27" cy="269.34" r="0.54" fill="#2828e8"/><circle cx="117.55" cy="259.93" r="0.66" fill="#3030ff"/><circle cx="75.36" cy="188.01" r="0.56" fill="#0c0ca0"/><circle cx="112.4" cy="201.15" r="0.83" fill="#1a1aff"/><circle cx="151.53" cy="237.38" r="0.74" fill="#1a1aff"/><circle cx="141.36" cy="246.71" r="0.84" fill="#2020d0"/><circle cx="148.54" cy="218.74" r="0.74" fill="#1a1aff"/><circle cx="143.41" cy="250.54" r="0.83" fill="#2020d0"/><circle cx="89.07" cy="249.79" r="0.52" fill="#1a1aff"/><circle cx="59.21" cy="187.47" r="0.51" fill="#1010c0"/><circle cx="161.81" cy="243.14" r="0.68" fill="#2020d0"/><circle cx="161.1" cy="256.56" r="0.79" fill="#1a1aff"/><circle cx="101.99" cy="202.58" r="0.49" fill="#1a1aff"/><circle cx="141.25" cy="216.95" r="0.52" fill="#1a1aff"/><circle cx="156.88" cy="276.27" r="0.64" fill="#0c0ca0"/><circle cx="91.89" cy="205.24" r="0.51" fill="#2828e8"/><circle cx="112.59" cy="246.9" r="0.79" fill="#2020d0"/><circle cx="108.76" cy="284.32" r="0.65" fill="#1818e0"/><circle cx="111.79" cy="272.21" r="0.43" fill="#0c0ca0"/><circle cx="158" cy="278.12" r="0.4" fill="#1a1aff"/><circle cx="152.65" cy="246.3" r="0.68" fill="#3030ff"/><circle cx="68.81" cy="197.29" r="0.51" fill="#1a1aff"/><circle cx="64.97" cy="261.27" r="0.54" fill="#2828e8"/><circle cx="126.65" cy="254.53" r="0.64" fill="#1010c0"/><circle cx="149.95" cy="195" r="0.76" fill="#0c0ca0"/><circle cx="69.93" cy="268.54" r="0.5" fill="#3030ff"/><circle cx="143.1" cy="245.36" r="0.54" fill="#2828e8"/><circle cx="105.19" cy="189.99" r="0.65" fill="#2020d0"/><circle cx="152.39" cy="186.06" r="0.42" fill="#2020d0"/><circle cx="161.43" cy="282.82" r="0.75" fill="#0c0ca0"/><circle cx="84.94" cy="280.59" r="0.73" fill="#1010c0"/><circle cx="140.89" cy="180.9" r="0.67" fill="#1818e0"/><circle cx="104.05" cy="200.38" r="0.51" fill="#1a1aff"/><circle cx="83.91" cy="234.38" r="0.47" fill="#3030ff"/><circle cx="63.25" cy="232.82" r="0.42" fill="#3030ff"/><circle cx="142.74" cy="237.29" r="0.76" fill="#0c0ca0"/><circle cx="81.55" cy="273.15" r="0.76" fill="#0c0ca0"/><circle cx="61.54" cy="211.55" r="0.8" fill="#3030ff"/><circle cx="117.53" cy="272.65" r="0.84" fill="#1a1aff"/><circle cx="115.63" cy="276.02" r="0.8" fill="#2828e8"/><circle cx="107.14" cy="232.96" r="0.53" fill="#0c0ca0"/><circle cx="77.42" cy="271.42" r="0.84" fill="#1010c0"/><circle cx="141.37" cy="214.97" r="0.65" fill="#1010c0"/><circle cx="128.08" cy="178.79" r="0.72" fill="#1010c0"/><circle cx="98.08" cy="211.11" r="0.5" fill="#0c0ca0"/><circle cx="155.8" cy="256.8" r="0.46" fill="#0c0ca0"/><circle cx="90.91" cy="279.54" r="0.71" fill="#2828e8"/><circle cx="167.28" cy="225.83" r="0.77" fill="#2020d0"/><circle cx="72.86" cy="203.82" r="0.73" fill="#2828e8"/><circle cx="59.57" cy="223.55" r="0.45" fill="#0c0ca0"/><circle cx="66.75" cy="271.48" r="0.49" fill="#1818e0"/><circle cx="58.14" cy="257.17" r="0.76" fill="#1010c0"/><circle cx="90.23" cy="193.96" r="0.58" fill="#1818e0"/><circle cx="58.44" cy="247.05" r="0.42" fill="#3030ff"/><circle cx="77.67" cy="267.75" r="0.73" fill="#1010c0"/><circle cx="115.75" cy="216.29" r="0.76" fill="#1010c0"/><circle cx="138.26" cy="196.11" r="0.51" fill="#1010c0"/><circle cx="147.33" cy="231.28" r="0.58" fill="#2020d0"/><circle cx="115.83" cy="210.52" r="0.61" fill="#0c0ca0"/><circle cx="93.54" cy="180.85" r="0.79" fill="#1010c0"/><circle cx="94.15" cy="189.3" r="0.59" fill="#3030ff"/><circle cx="140.77" cy="199.12" r="0.71" fill="#0c0ca0"/><circle cx="114.44" cy="275.64" r="0.56" fill="#2020d0"/><circle cx="111.92" cy="277.94" r="0.63" fill="#1a1aff"/><circle cx="107.57" cy="197.24" r="0.61" fill="#0c0ca0"/><circle cx="78.16" cy="257.67" r="0.65" fill="#2828e8"/><circle cx="150.63" cy="230.48" r="0.46" fill="#2828e8"/><circle cx="165.15" cy="257.82" r="0.68" fill="#2020d0"/><circle cx="163.11" cy="197.24" r="0.47" fill="#0c0ca0"/><circle cx="152.27" cy="222.16" r="0.8" fill="#2020d0"/><circle cx="138.64" cy="191.35" r="0.77" fill="#1010c0"/><circle cx="86.34" cy="244.53" r="0.44" fill="#1a1aff"/><circle cx="61.54" cy="266.86" r="0.52" fill="#3030ff"/><circle cx="164.94" cy="210.86" r="0.66" fill="#2020d0"/><circle cx="132.83" cy="188.08" r="0.63" fill="#0c0ca0"/><circle cx="132.56" cy="243.57" r="0.51" fill="#1818e0"/><circle cx="139.37" cy="202.31" r="0.5" fill="#3030ff"/><circle cx="71.4" cy="274.3" r="0.42" fill="#2828e8"/><circle cx="93.43" cy="198.28" r="0.78" fill="#2020d0"/><circle cx="66.46" cy="235.93" r="0.73" fill="#3030ff"/><circle cx="72.85" cy="212.98" r="0.78" fill="#2020d0"/><circle cx="60.95" cy="208.9" r="0.68" fill="#3030ff"/><circle cx="110.66" cy="239.83" r="0.79" fill="#3030ff"/><circle cx="166.01" cy="249.47" r="0.82" fill="#0c0ca0"/><circle cx="148.87" cy="283.05" r="0.42" fill="#0c0ca0"/><circle cx="95.02" cy="282.65" r="0.55" fill="#1a1aff"/><circle cx="157.02" cy="276.54" r="0.66" fill="#3030ff"/><circle cx="123.55" cy="245.9" r="0.75" fill="#1a1aff"/><circle cx="151.64" cy="274.24" r="0.65" fill="#1010c0"/><circle cx="95.05" cy="254.3" r="0.51" fill="#1010c0"/><circle cx="167.04" cy="261.74" r="0.8" fill="#3030ff"/><circle cx="137.59" cy="260.56" r="0.63" fill="#2828e8"/><circle cx="62.29" cy="275.04" r="0.55" fill="#2020d0"/><circle cx="111.44" cy="212.98" r="0.56" fill="#1a1aff"/><circle cx="61.54" cy="259.32" r="0.57" fill="#0c0ca0"/><circle cx="70.55" cy="228.15" r="0.83" fill="#1818e0"/><circle cx="76.65" cy="208.69" r="0.5" fill="#0c0ca0"/><circle cx="112.54" cy="206.57" r="0.77" fill="#2828e8"/><circle cx="92.12" cy="249.91" r="0.71" fill="#2828e8"/><circle cx="152.46" cy="276.53" r="0.67" fill="#1a1aff"/><circle cx="81.14" cy="232.29" r="0.49" fill="#3030ff"/><circle cx="139.59" cy="191.93" r="0.4" fill="#1818e0"/><circle cx="102.82" cy="263.65" r="0.68" fill="#1a1aff"/><circle cx="132.61" cy="227.79" r="0.65" fill="#0c0ca0"/><circle cx="92.62" cy="181.98" r="0.47" fill="#0c0ca0"/><circle cx="156.07" cy="188.64" r="0.45" fill="#1818e0"/><circle cx="117.73" cy="247.11" r="0.43" fill="#0c0ca0"/><circle cx="137.24" cy="205.46" r="0.58" fill="#0c0ca0"/><circle cx="103.14" cy="192.51" r="0.61" fill="#2828e8"/><circle cx="100.34" cy="249.91" r="0.42" fill="#1818e0"/><circle cx="67.71" cy="249.39" r="0.8" fill="#2020d0"/><circle cx="135.03" cy="198.81" r="0.8" fill="#2020d0"/><circle cx="102.8" cy="252.71" r="0.49" fill="#3030ff"/><circle cx="156.74" cy="227.36" r="0.71" fill="#1010c0"/><circle cx="107.66" cy="255.2" r="0.84" fill="#1a1aff"/><circle cx="122.93" cy="242.72" r="0.67" fill="#3030ff"/><circle cx="132.02" cy="267.08" r="0.55" fill="#0c0ca0"/><circle cx="63.03" cy="283.42" r="0.5" fill="#3030ff"/><circle cx="142.24" cy="178.98" r="0.62" fill="#2020d0"/><circle cx="111.21" cy="198.3" r="0.66" fill="#0c0ca0"/><circle cx="143.8" cy="235.88" r="0.42" fill="#1a1aff"/><circle cx="160.87" cy="236.04" r="0.79" fill="#2020d0"/><circle cx="68.52" cy="267.34" r="0.46" fill="#1010c0"/><circle cx="96.54" cy="277.92" r="0.84" fill="#2020d0"/><circle cx="122.53" cy="280.09" r="0.7" fill="#1818e0"/><circle cx="112.03" cy="253.57" r="0.65" fill="#1818e0"/><circle cx="82.47" cy="183.22" r="0.5" fill="#2828e8"/><circle cx="134.93" cy="255.81" r="0.76" fill="#3030ff"/><circle cx="121.17" cy="239.67" r="0.44" fill="#2020d0"/><circle cx="138.75" cy="203.77" r="0.52" fill="#0c0ca0"/><circle cx="102.26" cy="200.79" r="0.53" fill="#2828e8"/><circle cx="125.92" cy="279.51" r="0.64" fill="#1a1aff"/><circle cx="154.8" cy="260.49" r="0.41" fill="#1a1aff"/><circle cx="79.14" cy="276.4" r="0.63" fill="#2020d0"/><circle cx="57.61" cy="195.54" r="0.73" fill="#3030ff"/><circle cx="160.87" cy="188.93" r="0.72" fill="#1818e0"/><circle cx="127.3" cy="233.11" r="0.4" fill="#1a1aff"/><circle cx="73.01" cy="208.65" r="0.43" fill="#1818e0"/><circle cx="111.8" cy="273.87" r="0.74" fill="#2020d0"/><circle cx="67.67" cy="239.86" r="0.53" fill="#1818e0"/><circle cx="143.4" cy="206.48" r="0.52" fill="#0c0ca0"/><circle cx="75.39" cy="183.58" r="0.61" fill="#1010c0"/><circle cx="69.64" cy="186.54" r="0.56" fill="#0c0ca0"/><circle cx="90.27" cy="192.64" r="0.75" fill="#3030ff"/><circle cx="140.31" cy="268.87" r="0.68" fill="#2828e8"/><circle cx="148.48" cy="270.34" r="0.59" fill="#2828e8"/><circle cx="66.28" cy="206.92" r="0.55" fill="#1818e0"/><circle cx="79.49" cy="239.63" r="0.46" fill="#1010c0"/><circle cx="124.31" cy="200.68" r="0.53" fill="#1a1aff"/><circle cx="87.49" cy="266.1" r="0.77" fill="#1818e0"/><circle cx="146.53" cy="213.12" r="0.72" fill="#2828e8"/><circle cx="130.7" cy="185.82" r="0.5" fill="#0c0ca0"/><circle cx="109.69" cy="237.62" r="0.72" fill="#1a1aff"/><circle cx="145.81" cy="177.86" r="0.78" fill="#1a1aff"/><circle cx="75.15" cy="256.98" r="0.67" fill="#3030ff"/><circle cx="58.45" cy="248" r="0.68" fill="#2020d0"/><circle cx="89.78" cy="179.2" r="0.7" fill="#0c0ca0"/><circle cx="71.13" cy="275.85" r="0.58" fill="#2020d0"/><circle cx="135.99" cy="204.32" r="0.76" fill="#3030ff"/><circle cx="148.08" cy="250.44" r="0.77" fill="#1818e0"/><circle cx="161.95" cy="242.94" r="0.77" fill="#1818e0"/><circle cx="150.97" cy="185.58" r="0.52" fill="#1818e0"/><circle cx="120.66" cy="202.41" r="0.57" fill="#2020d0"/><circle cx="83.89" cy="235.62" r="0.49" fill="#1a1aff"/><circle cx="158.47" cy="213.61" r="0.69" fill="#2828e8"/><circle cx="108.23" cy="259.19" r="0.7" fill="#2020d0"/><circle cx="100.66" cy="245.17" r="0.81" fill="#2828e8"/><circle cx="140.97" cy="244.48" r="0.78" fill="#0c0ca0"/><circle cx="71.03" cy="219.24" r="0.6" fill="#0c0ca0"/><circle cx="103.83" cy="259.47" r="0.49" fill="#2020d0"/><circle cx="108.82" cy="221.23" r="0.49" fill="#2020d0"/><circle cx="83.22" cy="207.8" r="0.84" fill="#0c0ca0"/><circle cx="99.38" cy="189.11" r="0.73" fill="#2828e8"/><circle cx="154.75" cy="206.74" r="0.82" fill="#1a1aff"/><circle cx="137.91" cy="217.58" r="0.48" fill="#3030ff"/><circle cx="160.94" cy="215.49" r="0.68" fill="#1a1aff"/><circle cx="63.95" cy="238.56" r="0.62" fill="#1010c0"/><circle cx="59.8" cy="233.28" r="0.45" fill="#1818e0"/><circle cx="98.58" cy="236.27" r="0.77" fill="#2020d0"/><circle cx="161.76" cy="273.92" r="0.82" fill="#2828e8"/><circle cx="161.93" cy="187.96" r="0.45" fill="#0c0ca0"/><circle cx="153.47" cy="240.52" r="0.47" fill="#0c0ca0"/><circle cx="151.87" cy="276.01" r="0.81" fill="#1818e0"/><circle cx="113.17" cy="279.5" r="0.5" fill="#3030ff"/><circle cx="63.55" cy="262.33" r="0.51" fill="#1a1aff"/><circle cx="133.36" cy="252.88" r="0.45" fill="#0c0ca0"/><circle cx="114.54" cy="236.66" r="0.84" fill="#0c0ca0"/><circle cx="143.32" cy="280.77" r="0.42" fill="#1818e0"/><circle cx="120.53" cy="262.45" r="0.6" fill="#1818e0"/><circle cx="108.35" cy="236.19" r="0.78" fill="#2828e8"/><circle cx="109.28" cy="251.14" r="0.44" fill="#0c0ca0"/><circle cx="84.01" cy="261.87" r="0.54" fill="#1010c0"/><circle cx="107.41" cy="281.01" r="0.51" fill="#1010c0"/><circle cx="77.39" cy="269.4" r="0.48" fill="#0c0ca0"/><circle cx="106.05" cy="251.74" r="0.71" fill="#1818e0"/><circle cx="73.26" cy="229.92" r="0.45" fill="#1010c0"/><circle cx="156.1" cy="248.09" r="0.69" fill="#3030ff"/><circle cx="68.98" cy="259.29" r="0.74" fill="#1a1aff"/></g>
<rect x="77.5" y="177.8" width="10.5" height="38" fill="#000" stroke="none" stroke-width="0.8" opacity="0.85"/>
<ellipse cx="92" cy="226" rx="16" ry="17" fill="#20c020" opacity="0.35" filter="url(#bl4d)"/>
<ellipse cx="110" cy="215" rx="12" ry="9" fill="#20c020" opacity="0.2" filter="url(#bl4d)"/>
<g opacity="0.85"><line x1="86.6" y1="208.61" x2="86.13" y2="209.03" stroke="#20ff20" stroke-width="0.51"/><line x1="86.6" y1="208.61" x2="89" y2="210.3" stroke="#10d010" stroke-width="0.46"/><line x1="86.6" y1="208.61" x2="82.67" y2="212.71" stroke="#60ff60" stroke-width="0.4"/><line x1="126.23" y1="214.26" x2="127.17" y2="216.4" stroke="#20c020" stroke-width="0.59"/><line x1="126.23" y1="214.26" x2="120.34" y2="211.86" stroke="#60ff60" stroke-width="0.56"/><line x1="126.23" y1="214.26" x2="129.23" y2="212.86" stroke="#20c020" stroke-width="0.4"/><line x1="90.96" y1="221.51" x2="90.33" y2="220.05" stroke="#20c020" stroke-width="0.43"/><line x1="90.96" y1="221.51" x2="92.36" y2="218.85" stroke="#60ff60" stroke-width="0.42"/><line x1="90.96" y1="221.51" x2="94.57" y2="223.28" stroke="#10d010" stroke-width="0.4"/><line x1="100.46" y1="207.15" x2="98.99" y2="210.94" stroke="#20c020" stroke-width="0.5"/><line x1="100.46" y1="207.15" x2="105.17" y2="205.04" stroke="#60ff60" stroke-width="0.47"/><line x1="100.46" y1="207.15" x2="98.34" y2="209.05" stroke="#20c020" stroke-width="0.4"/><line x1="77.56" y1="220.26" x2="78.56" y2="222.12" stroke="#10d010" stroke-width="0.53"/><line x1="77.56" y1="220.26" x2="78.62" y2="217.45" stroke="#20c020" stroke-width="0.47"/><line x1="77.56" y1="220.26" x2="80.15" y2="219.23" stroke="#20ff20" stroke-width="0.4"/><line x1="94.09" y1="234.54" x2="95.18" y2="235.1" stroke="#20ff20" stroke-width="0.48"/><line x1="94.09" y1="234.54" x2="93.43" y2="235.66" stroke="#20c020" stroke-width="0.58"/><line x1="94.09" y1="234.54" x2="98.16" y2="233.43" stroke="#30e030" stroke-width="0.4"/><line x1="94.45" y1="225.87" x2="93.26" y2="226.21" stroke="#30e030" stroke-width="0.45"/><line x1="94.45" y1="225.87" x2="97.11" y2="224.98" stroke="#40ff40" stroke-width="0.6"/><line x1="94.45" y1="225.87" x2="92.47" y2="230.28" stroke="#20c020" stroke-width="0.4"/><line x1="91.72" y1="235.28" x2="91.83" y2="234.96" stroke="#30e030" stroke-width="0.48"/><line x1="91.72" y1="235.28" x2="89.7" y2="235.48" stroke="#40ff40" stroke-width="0.4"/><line x1="82.29" y1="217.92" x2="80.73" y2="218.28" stroke="#40ff40" stroke-width="0.53"/><line x1="82.29" y1="217.92" x2="78.62" y2="217.45" stroke="#20c020" stroke-width="0.59"/><line x1="82.29" y1="217.92" x2="87.99" y2="216.18" stroke="#20c020" stroke-width="0.4"/><line x1="97.78" y1="229.25" x2="98.6" y2="231.23" stroke="#40ff40" stroke-width="0.58"/><line x1="97.78" y1="229.25" x2="93.58" y2="227.6" stroke="#10d010" stroke-width="0.4"/><line x1="90.33" y1="220.05" x2="90.96" y2="221.51" stroke="#10d010" stroke-width="0.49"/><line x1="90.33" y1="220.05" x2="92.36" y2="218.85" stroke="#40ff40" stroke-width="0.46"/><line x1="90.33" y1="220.05" x2="93.23" y2="223.68" stroke="#60ff60" stroke-width="0.4"/><line x1="99.15" y1="223.84" x2="97.85" y2="225.35" stroke="#30e030" stroke-width="0.47"/><line x1="99.15" y1="223.84" x2="101.22" y2="225.95" stroke="#30e030" stroke-width="0.4"/><line x1="78.62" y1="217.45" x2="80.73" y2="218.28" stroke="#20ff20" stroke-width="0.48"/><line x1="78.62" y1="217.45" x2="77.56" y2="220.26" stroke="#20ff20" stroke-width="0.56"/><line x1="78.62" y1="217.45" x2="82.29" y2="217.92" stroke="#60ff60" stroke-width="0.49"/><line x1="78.62" y1="217.45" x2="81.41" y2="213.63" stroke="#60ff60" stroke-width="0.4"/><line x1="114.06" y1="197.68" x2="108.35" y2="204.41" stroke="#20c020" stroke-width="0.45"/><line x1="114.06" y1="197.68" x2="116.11" y2="202.28" stroke="#10d010" stroke-width="0.4"/><line x1="89" y1="210.3" x2="91.36" y2="211.31" stroke="#40ff40" stroke-width="0.52"/><line x1="89" y1="210.3" x2="86.6" y2="208.61" stroke="#20c020" stroke-width="0.58"/><line x1="89" y1="210.3" x2="92.99" y2="212.87" stroke="#20ff20" stroke-width="0.4"/><line x1="90.89" y1="241.49" x2="90.64" y2="241.47" stroke="#30e030" stroke-width="0.51"/><line x1="90.89" y1="241.49" x2="90.17" y2="238.93" stroke="#10d010" stroke-width="0.48"/><line x1="90.89" y1="241.49" x2="89.49" y2="238.87" stroke="#30e030" stroke-width="0.57"/><line x1="90.89" y1="241.49" x2="89.03" y2="239.93" stroke="#40ff40" stroke-width="0.4"/><line x1="105.86" y1="219.57" x2="106.29" y2="219.02" stroke="#30e030" stroke-width="0.57"/><line x1="105.86" y1="219.57" x2="105.52" y2="220.38" stroke="#20c020" stroke-width="0.47"/><line x1="105.86" y1="219.57" x2="108.68" y2="215.74" stroke="#40ff40" stroke-width="0.4"/><line x1="114.39" y1="228.92" x2="111.8" y2="228.7" stroke="#40ff40" stroke-width="0.53"/><line x1="114.39" y1="228.92" x2="114.33" y2="224.7" stroke="#60ff60" stroke-width="0.4"/><line x1="96.6" y1="236.98" x2="95.88" y2="236.29" stroke="#20c020" stroke-width="0.56"/><line x1="96.6" y1="236.98" x2="94.98" y2="237.46" stroke="#20c020" stroke-width="0.42"/><line x1="96.6" y1="236.98" x2="100.22" y2="235.83" stroke="#20c020" stroke-width="0.4"/><line x1="101.68" y1="200.37" x2="105.11" y2="199.44" stroke="#10d010" stroke-width="0.39"/><line x1="101.68" y1="200.37" x2="96.49" y2="202.94" stroke="#20ff20" stroke-width="0.54"/><line x1="101.68" y1="200.37" x2="105.17" y2="205.04" stroke="#20ff20" stroke-width="0.48"/><line x1="101.68" y1="200.37" x2="102.12" y2="205.61" stroke="#20ff20" stroke-width="0.4"/><line x1="133.42" y1="226.58" x2="128.79" y2="228.24" stroke="#20c020" stroke-width="0.53"/><line x1="133.42" y1="226.58" x2="130.08" y2="232.11" stroke="#10d010" stroke-width="0.44"/><line x1="133.42" y1="226.58" x2="135.2" y2="231.99" stroke="#10d010" stroke-width="0.4"/><line x1="103.05" y1="231.91" x2="105.47" y2="231.69" stroke="#30e030" stroke-width="0.56"/><line x1="103.05" y1="231.91" x2="106.75" y2="234.11" stroke="#60ff60" stroke-width="0.4"/><line x1="87.31" y1="232.04" x2="87.81" y2="229.37" stroke="#20ff20" stroke-width="0.57"/><line x1="87.31" y1="232.04" x2="84.72" y2="229" stroke="#30e030" stroke-width="0.42"/><line x1="87.31" y1="232.04" x2="88.68" y2="234.12" stroke="#30e030" stroke-width="0.4"/><line x1="86.7" y1="220.23" x2="86.53" y2="221.39" stroke="#20ff20" stroke-width="0.42"/><line x1="86.7" y1="220.23" x2="87.36" y2="221.95" stroke="#40ff40" stroke-width="0.39"/><line x1="86.7" y1="220.23" x2="87.14" y2="222.25" stroke="#20ff20" stroke-width="0.49"/><line x1="86.7" y1="220.23" x2="84.79" y2="218.24" stroke="#30e030" stroke-width="0.4"/><line x1="104.58" y1="238.24" x2="102.46" y2="237.25" stroke="#60ff60" stroke-width="0.38"/><line x1="104.58" y1="238.24" x2="106.6" y2="240.42" stroke="#30e030" stroke-width="0.4"/><line x1="101.45" y1="242.64" x2="102.03" y2="242.13" stroke="#60ff60" stroke-width="0.46"/><line x1="101.45" y1="242.64" x2="97.99" y2="242.71" stroke="#20c020" stroke-width="0.4"/><line x1="97.11" y1="224.98" x2="97.85" y2="225.35" stroke="#60ff60" stroke-width="0.58"/><line x1="97.11" y1="224.98" x2="98.75" y2="225.98" stroke="#20ff20" stroke-width="0.41"/><line x1="97.11" y1="224.98" x2="98.11" y2="223.18" stroke="#60ff60" stroke-width="0.4"/><line x1="102.99" y1="228.3" x2="101.56" y2="228.35" stroke="#60ff60" stroke-width="0.58"/><line x1="102.99" y1="228.3" x2="98.72" y2="225.16" stroke="#30e030" stroke-width="0.4"/><line x1="86.53" y1="221.39" x2="87.36" y2="221.95" stroke="#30e030" stroke-width="0.46"/><line x1="86.53" y1="221.39" x2="87.14" y2="222.25" stroke="#20ff20" stroke-width="0.46"/><line x1="86.53" y1="221.39" x2="81.03" y2="222.24" stroke="#30e030" stroke-width="0.4"/><line x1="147.79" y1="204.21" x2="148.09" y2="207.44" stroke="#40ff40" stroke-width="0.51"/><line x1="147.79" y1="204.21" x2="145.4" y2="200.55" stroke="#10d010" stroke-width="0.56"/><line x1="147.79" y1="204.21" x2="149.9" y2="203.28" stroke="#20ff20" stroke-width="0.4"/><line x1="75.39" y1="237.93" x2="76.69" y2="237.01" stroke="#10d010" stroke-width="0.55"/><line x1="75.39" y1="237.93" x2="71.93" y2="233.21" stroke="#30e030" stroke-width="0.4"/><line x1="145.4" y1="200.55" x2="147.79" y2="204.21" stroke="#40ff40" stroke-width="0.53"/><line x1="145.4" y1="200.55" x2="148.09" y2="207.44" stroke="#20c020" stroke-width="0.47"/><line x1="145.4" y1="200.55" x2="147.5" y2="204.09" stroke="#20c020" stroke-width="0.4"/><line x1="104.98" y1="234.22" x2="105.54" y2="232.54" stroke="#20c020" stroke-width="0.55"/><line x1="104.98" y1="234.22" x2="105.49" y2="232.19" stroke="#20ff20" stroke-width="0.54"/><line x1="104.98" y1="234.22" x2="100.36" y2="233.21" stroke="#10d010" stroke-width="0.4"/><line x1="84.72" y1="229" x2="86.37" y2="227.6" stroke="#20ff20" stroke-width="0.4"/><line x1="84.72" y1="229" x2="87.81" y2="229.37" stroke="#40ff40" stroke-width="0.42"/><line x1="84.72" y1="229" x2="87.31" y2="232.04" stroke="#10d010" stroke-width="0.58"/><line x1="84.72" y1="229" x2="87.22" y2="226.52" stroke="#40ff40" stroke-width="0.4"/><line x1="98.99" y1="210.94" x2="96.18" y2="211.44" stroke="#10d010" stroke-width="0.35"/><line x1="98.99" y1="210.94" x2="100.46" y2="207.15" stroke="#20c020" stroke-width="0.55"/><line x1="98.99" y1="210.94" x2="101.04" y2="210.26" stroke="#20c020" stroke-width="0.4"/><line x1="80.27" y1="233.59" x2="80" y2="234.55" stroke="#10d010" stroke-width="0.45"/><line x1="80.27" y1="233.59" x2="80.63" y2="234.99" stroke="#20c020" stroke-width="0.56"/><line x1="80.27" y1="233.59" x2="79.47" y2="231.96" stroke="#10d010" stroke-width="0.46"/><line x1="80.27" y1="233.59" x2="85.9" y2="233.86" stroke="#60ff60" stroke-width="0.4"/><line x1="90.64" y1="241.47" x2="90.89" y2="241.49" stroke="#60ff60" stroke-width="0.4"/><line x1="90.64" y1="241.47" x2="90.17" y2="238.93" stroke="#40ff40" stroke-width="0.37"/><line x1="90.64" y1="241.47" x2="90.77" y2="246.36" stroke="#20c020" stroke-width="0.4"/><line x1="105.54" y1="232.54" x2="105.49" y2="232.19" stroke="#20c020" stroke-width="0.39"/><line x1="105.54" y1="232.54" x2="105.47" y2="231.69" stroke="#30e030" stroke-width="0.4"/><line x1="105.54" y1="232.54" x2="103.55" y2="228.04" stroke="#20c020" stroke-width="0.4"/><line x1="93.99" y1="209.1" x2="96.18" y2="211.44" stroke="#20c020" stroke-width="0.43"/><line x1="93.99" y1="209.1" x2="94.2" y2="211.74" stroke="#60ff60" stroke-width="0.4"/><line x1="125.85" y1="230.88" x2="128.79" y2="228.24" stroke="#20ff20" stroke-width="0.36"/><line x1="125.85" y1="230.88" x2="123.4" y2="234" stroke="#20c020" stroke-width="0.41"/><line x1="125.85" y1="230.88" x2="130.08" y2="232.11" stroke="#60ff60" stroke-width="0.5"/><line x1="125.85" y1="230.88" x2="123.78" y2="228.65" stroke="#20ff20" stroke-width="0.4"/><line x1="81.74" y1="242.81" x2="79.48" y2="240.84" stroke="#40ff40" stroke-width="0.51"/><line x1="81.74" y1="242.81" x2="81.31" y2="238.98" stroke="#20ff20" stroke-width="0.43"/><line x1="81.74" y1="242.81" x2="84.27" y2="247.43" stroke="#10d010" stroke-width="0.4"/><line x1="136.79" y1="219.32" x2="133.42" y2="226.58" stroke="#20ff20" stroke-width="0.37"/><line x1="136.79" y1="219.32" x2="145.02" y2="220.51" stroke="#40ff40" stroke-width="0.44"/><line x1="136.79" y1="219.32" x2="137.25" y2="222.45" stroke="#40ff40" stroke-width="0.4"/><line x1="81.01" y1="211.93" x2="82.16" y2="209.32" stroke="#20c020" stroke-width="0.6"/><line x1="81.01" y1="211.93" x2="83.46" y2="212.49" stroke="#60ff60" stroke-width="0.4"/><line x1="75.82" y1="236.17" x2="76.69" y2="237.01" stroke="#20c020" stroke-width="0.35"/><line x1="75.82" y1="236.17" x2="73.84" y2="240.7" stroke="#60ff60" stroke-width="0.4"/><line x1="95.18" y1="235.1" x2="96.09" y2="234.75" stroke="#20ff20" stroke-width="0.42"/><line x1="95.18" y1="235.1" x2="90.94" y2="237.68" stroke="#60ff60" stroke-width="0.4"/><line x1="105.52" y1="220.38" x2="105.86" y2="219.57" stroke="#30e030" stroke-width="0.52"/><line x1="105.52" y1="220.38" x2="106.29" y2="219.02" stroke="#20ff20" stroke-width="0.52"/><line x1="105.52" y1="220.38" x2="102.03" y2="219.44" stroke="#60ff60" stroke-width="0.4"/><line x1="80" y1="234.55" x2="80.63" y2="234.99" stroke="#30e030" stroke-width="0.43"/><line x1="80" y1="234.55" x2="80.27" y2="233.59" stroke="#20ff20" stroke-width="0.51"/><line x1="80" y1="234.55" x2="83.04" y2="235.56" stroke="#40ff40" stroke-width="0.4"/><line x1="102.03" y1="242.13" x2="101.45" y2="242.64" stroke="#10d010" stroke-width="0.58"/><line x1="102.03" y1="242.13" x2="96.77" y2="244.13" stroke="#20ff20" stroke-width="0.4"/><line x1="87.81" y1="229.37" x2="86.37" y2="227.6" stroke="#20c020" stroke-width="0.56"/><line x1="87.81" y1="229.37" x2="83.82" y2="226.08" stroke="#30e030" stroke-width="0.4"/><line x1="98.54" y1="234.5" x2="98.21" y2="234.62" stroke="#30e030" stroke-width="0.38"/><line x1="98.54" y1="234.5" x2="96.09" y2="234.75" stroke="#20ff20" stroke-width="0.51"/><line x1="98.54" y1="234.5" x2="102.17" y2="239.26" stroke="#20c020" stroke-width="0.4"/><line x1="79.47" y1="231.96" x2="80.27" y2="233.59" stroke="#10d010" stroke-width="0.36"/><line x1="79.47" y1="231.96" x2="80.48" y2="229.61" stroke="#60ff60" stroke-width="0.38"/><line x1="79.47" y1="231.96" x2="81.09" y2="235.11" stroke="#60ff60" stroke-width="0.4"/><line x1="91.36" y1="211.31" x2="91.91" y2="212.98" stroke="#40ff40" stroke-width="0.59"/><line x1="91.36" y1="211.31" x2="89" y2="210.3" stroke="#30e030" stroke-width="0.45"/><line x1="91.36" y1="211.31" x2="89.44" y2="206.99" stroke="#10d010" stroke-width="0.4"/><line x1="122.37" y1="227.65" x2="118.08" y2="226.89" stroke="#60ff60" stroke-width="0.37"/><line x1="122.37" y1="227.65" x2="126.26" y2="223.29" stroke="#60ff60" stroke-width="0.4"/><line x1="95.88" y1="236.29" x2="96.6" y2="236.98" stroke="#20ff20" stroke-width="0.55"/><line x1="95.88" y1="236.29" x2="90.73" y2="237.98" stroke="#20c020" stroke-width="0.4"/><line x1="98.75" y1="225.98" x2="97.85" y2="225.35" stroke="#20c020" stroke-width="0.39"/><line x1="98.75" y1="225.98" x2="97.8" y2="226.79" stroke="#20c020" stroke-width="0.37"/><line x1="98.75" y1="225.98" x2="97.71" y2="221.92" stroke="#30e030" stroke-width="0.4"/><line x1="108.08" y1="234.83" x2="108.74" y2="234" stroke="#10d010" stroke-width="0.48"/><line x1="108.08" y1="234.83" x2="106.22" y2="238.78" stroke="#60ff60" stroke-width="0.4"/><line x1="75.24" y1="223.66" x2="78.56" y2="222.12" stroke="#20ff20" stroke-width="0.41"/><line x1="75.24" y1="223.66" x2="77.56" y2="220.26" stroke="#30e030" stroke-width="0.46"/><line x1="75.24" y1="223.66" x2="76.32" y2="228.47" stroke="#40ff40" stroke-width="0.58"/><line x1="75.24" y1="223.66" x2="76.2" y2="219.83" stroke="#20ff20" stroke-width="0.4"/><line x1="98.21" y1="234.62" x2="98.54" y2="234.5" stroke="#40ff40" stroke-width="0.4"/><line x1="98.21" y1="234.62" x2="96.09" y2="234.75" stroke="#30e030" stroke-width="0.58"/><line x1="98.21" y1="234.62" x2="101.03" y2="231.07" stroke="#10d010" stroke-width="0.4"/><line x1="111.65" y1="229.25" x2="111.8" y2="228.7" stroke="#10d010" stroke-width="0.4"/><line x1="111.65" y1="229.25" x2="114.39" y2="228.92" stroke="#20ff20" stroke-width="0.51"/><line x1="111.65" y1="229.25" x2="111.6" y2="232.3" stroke="#20c020" stroke-width="0.4"/><line x1="145.02" y1="220.51" x2="136.79" y2="219.32" stroke="#60ff60" stroke-width="0.49"/><line x1="145.02" y1="220.51" x2="139.64" y2="221.41" stroke="#40ff40" stroke-width="0.4"/><line x1="109.11" y1="232.13" x2="108.74" y2="234" stroke="#30e030" stroke-width="0.57"/><line x1="109.11" y1="232.13" x2="108.08" y2="234.83" stroke="#40ff40" stroke-width="0.54"/><line x1="109.11" y1="232.13" x2="105.54" y2="232.54" stroke="#30e030" stroke-width="0.59"/><line x1="109.11" y1="232.13" x2="107.88" y2="229.09" stroke="#10d010" stroke-width="0.4"/><line x1="86.02" y1="214.09" x2="88.05" y2="215.73" stroke="#30e030" stroke-width="0.52"/><line x1="86.02" y1="214.09" x2="85.24" y2="219.12" stroke="#60ff60" stroke-width="0.4"/><line x1="108.74" y1="234" x2="108.08" y2="234.83" stroke="#30e030" stroke-width="0.57"/><line x1="108.74" y1="234" x2="109.11" y2="232.13" stroke="#20c020" stroke-width="0.37"/><line x1="108.74" y1="234" x2="105.54" y2="232.54" stroke="#10d010" stroke-width="0.54"/><line x1="108.74" y1="234" x2="109.12" y2="237.33" stroke="#10d010" stroke-width="0.4"/><line x1="127.17" y1="216.4" x2="126.23" y2="214.26" stroke="#10d010" stroke-width="0.53"/><line x1="127.17" y1="216.4" x2="120.34" y2="211.86" stroke="#30e030" stroke-width="0.52"/><line x1="127.17" y1="216.4" x2="122.54" y2="217.09" stroke="#10d010" stroke-width="0.4"/><line x1="94.02" y1="240.48" x2="94.29" y2="240.49" stroke="#60ff60" stroke-width="0.53"/><line x1="94.02" y1="240.48" x2="95.67" y2="238.78" stroke="#20c020" stroke-width="0.49"/><line x1="94.02" y1="240.48" x2="93.94" y2="237.43" stroke="#20c020" stroke-width="0.58"/><line x1="94.02" y1="240.48" x2="92.39" y2="237.33" stroke="#40ff40" stroke-width="0.4"/><line x1="105.11" y1="199.44" x2="101.68" y2="200.37" stroke="#20ff20" stroke-width="0.59"/><line x1="105.11" y1="199.44" x2="103.44" y2="196.38" stroke="#30e030" stroke-width="0.4"/><line x1="88.65" y1="237.53" x2="89.49" y2="238.87" stroke="#20c020" stroke-width="0.44"/><line x1="88.65" y1="237.53" x2="90.17" y2="238.93" stroke="#40ff40" stroke-width="0.42"/><line x1="88.65" y1="237.53" x2="85.79" y2="238.06" stroke="#40ff40" stroke-width="0.4"/><line x1="88.65" y1="237.53" x2="89.74" y2="240.31" stroke="#10d010" stroke-width="0.4"/><line x1="126.09" y1="205" x2="128.34" y2="198.44" stroke="#10d010" stroke-width="0.58"/><line x1="126.09" y1="205" x2="130.2" y2="205.61" stroke="#40ff40" stroke-width="0.4"/><line x1="94.98" y1="237.46" x2="93.94" y2="237.43" stroke="#60ff60" stroke-width="0.38"/><line x1="94.98" y1="237.46" x2="95.88" y2="236.29" stroke="#60ff60" stroke-width="0.55"/><line x1="94.98" y1="237.46" x2="100.04" y2="238.27" stroke="#30e030" stroke-width="0.4"/><line x1="138.84" y1="205.37" x2="145.4" y2="200.55" stroke="#10d010" stroke-width="0.43"/><line x1="138.84" y1="205.37" x2="142.73" y2="205.49" stroke="#60ff60" stroke-width="0.4"/><line x1="120.34" y1="211.86" x2="126.23" y2="214.26" stroke="#40ff40" stroke-width="0.46"/><line x1="120.34" y1="211.86" x2="127.17" y2="216.4" stroke="#10d010" stroke-width="0.45"/><line x1="120.34" y1="211.86" x2="123.27" y2="208.27" stroke="#40ff40" stroke-width="0.4"/><line x1="111.8" y1="228.7" x2="111.65" y2="229.25" stroke="#20c020" stroke-width="0.56"/><line x1="111.8" y1="228.7" x2="114.89" y2="226.05" stroke="#40ff40" stroke-width="0.4"/><line x1="78.56" y1="222.12" x2="77.56" y2="220.26" stroke="#20ff20" stroke-width="0.49"/><line x1="78.56" y1="222.12" x2="83.47" y2="221.85" stroke="#10d010" stroke-width="0.4"/><line x1="117.63" y1="221.65" x2="119.11" y2="222.42" stroke="#10d010" stroke-width="0.51"/><line x1="117.63" y1="221.65" x2="118.53" y2="215.98" stroke="#30e030" stroke-width="0.4"/><line x1="126.22" y1="224.88" x2="128.79" y2="228.24" stroke="#20c020" stroke-width="0.39"/><line x1="126.22" y1="224.88" x2="122.37" y2="227.65" stroke="#20c020" stroke-width="0.52"/><line x1="126.22" y1="224.88" x2="125.85" y2="230.88" stroke="#30e030" stroke-width="0.55"/><line x1="126.22" y1="224.88" x2="126.28" y2="227.35" stroke="#20ff20" stroke-width="0.4"/><line x1="91.83" y1="234.96" x2="91.72" y2="235.28" stroke="#40ff40" stroke-width="0.54"/><line x1="91.83" y1="234.96" x2="91.6" y2="233.65" stroke="#20ff20" stroke-width="0.59"/><line x1="91.83" y1="234.96" x2="93.43" y2="235.66" stroke="#30e030" stroke-width="0.39"/><line x1="91.83" y1="234.96" x2="95.85" y2="236.12" stroke="#30e030" stroke-width="0.4"/><line x1="136.71" y1="196.68" x2="128.34" y2="198.44" stroke="#10d010" stroke-width="0.4"/><line x1="136.71" y1="196.68" x2="138.84" y2="205.37" stroke="#20c020" stroke-width="0.49"/><line x1="136.71" y1="196.68" x2="138.98" y2="194.42" stroke="#30e030" stroke-width="0.4"/><line x1="79.51" y1="227.64" x2="79.43" y2="228.73" stroke="#10d010" stroke-width="0.41"/><line x1="79.51" y1="227.64" x2="80.48" y2="229.61" stroke="#10d010" stroke-width="0.37"/><line x1="79.51" y1="227.64" x2="77.37" y2="228.5" stroke="#20ff20" stroke-width="0.4"/><line x1="83.4" y1="246.49" x2="81.74" y2="242.81" stroke="#30e030" stroke-width="0.56"/><line x1="83.4" y1="246.49" x2="80.73" y2="245.93" stroke="#40ff40" stroke-width="0.4"/><line x1="93.97" y1="212.85" x2="91.91" y2="212.98" stroke="#40ff40" stroke-width="0.53"/><line x1="93.97" y1="212.85" x2="94.98" y2="215.04" stroke="#20ff20" stroke-width="0.43"/><line x1="93.97" y1="212.85" x2="96.72" y2="209.66" stroke="#60ff60" stroke-width="0.4"/><line x1="79.48" y1="240.84" x2="81.31" y2="238.98" stroke="#30e030" stroke-width="0.39"/><line x1="79.48" y1="240.84" x2="81.74" y2="242.81" stroke="#10d010" stroke-width="0.51"/><line x1="79.48" y1="240.84" x2="76.08" y2="241.45" stroke="#20ff20" stroke-width="0.4"/><line x1="76.32" y1="228.47" x2="79.43" y2="228.73" stroke="#60ff60" stroke-width="0.39"/><line x1="76.32" y1="228.47" x2="79.51" y2="227.64" stroke="#30e030" stroke-width="0.38"/><line x1="76.32" y1="228.47" x2="80.48" y2="229.61" stroke="#10d010" stroke-width="0.54"/><line x1="76.32" y1="228.47" x2="74.24" y2="227.91" stroke="#20ff20" stroke-width="0.4"/><line x1="97.8" y1="226.79" x2="98.75" y2="225.98" stroke="#30e030" stroke-width="0.58"/><line x1="97.8" y1="226.79" x2="97.85" y2="225.35" stroke="#40ff40" stroke-width="0.56"/><line x1="97.8" y1="226.79" x2="97.11" y2="224.98" stroke="#20ff20" stroke-width="0.36"/><line x1="97.8" y1="226.79" x2="95.7" y2="222.84" stroke="#10d010" stroke-width="0.4"/><line x1="106.49" y1="240.9" x2="104.58" y2="238.24" stroke="#20c020" stroke-width="0.37"/><line x1="106.49" y1="240.9" x2="102.03" y2="242.13" stroke="#60ff60" stroke-width="0.57"/><line x1="106.49" y1="240.9" x2="105.82" y2="246.44" stroke="#20ff20" stroke-width="0.4"/><line x1="118.31" y1="231.09" x2="117.19" y2="233.53" stroke="#30e030" stroke-width="0.4"/><line x1="118.31" y1="231.09" x2="118.08" y2="226.89" stroke="#10d010" stroke-width="0.57"/><line x1="118.31" y1="231.09" x2="114.39" y2="228.92" stroke="#20c020" stroke-width="0.42"/><line x1="118.31" y1="231.09" x2="120.13" y2="230" stroke="#30e030" stroke-width="0.4"/><line x1="105.47" y1="231.69" x2="105.49" y2="232.19" stroke="#40ff40" stroke-width="0.38"/><line x1="105.47" y1="231.69" x2="105.54" y2="232.54" stroke="#40ff40" stroke-width="0.47"/><line x1="105.47" y1="231.69" x2="107.19" y2="227.55" stroke="#20ff20" stroke-width="0.4"/><line x1="130.08" y1="232.11" x2="128.79" y2="228.24" stroke="#60ff60" stroke-width="0.54"/><line x1="130.08" y1="232.11" x2="125.85" y2="230.88" stroke="#20c020" stroke-width="0.41"/><line x1="130.08" y1="232.11" x2="133.24" y2="227.68" stroke="#10d010" stroke-width="0.4"/><line x1="93.26" y1="226.21" x2="94.45" y2="225.87" stroke="#10d010" stroke-width="0.53"/><line x1="93.26" y1="226.21" x2="93.98" y2="228.68" stroke="#30e030" stroke-width="0.38"/><line x1="93.26" y1="226.21" x2="94.57" y2="229.73" stroke="#20ff20" stroke-width="0.48"/><line x1="93.26" y1="226.21" x2="89.45" y2="225.06" stroke="#60ff60" stroke-width="0.4"/><line x1="148.09" y1="207.44" x2="148.39" y2="209.65" stroke="#20ff20" stroke-width="0.43"/><line x1="148.09" y1="207.44" x2="147.79" y2="204.21" stroke="#10d010" stroke-width="0.48"/><line x1="148.09" y1="207.44" x2="145.25" y2="204.67" stroke="#20ff20" stroke-width="0.4"/><line x1="80.73" y1="218.28" x2="82.29" y2="217.92" stroke="#20c020" stroke-width="0.37"/><line x1="80.73" y1="218.28" x2="79.52" y2="221.34" stroke="#30e030" stroke-width="0.4"/><line x1="94.98" y1="215.04" x2="93.97" y2="212.85" stroke="#20c020" stroke-width="0.39"/><line x1="94.98" y1="215.04" x2="97.26" y2="214.16" stroke="#40ff40" stroke-width="0.4"/><line x1="86.13" y1="209.03" x2="86.6" y2="208.61" stroke="#10d010" stroke-width="0.41"/><line x1="86.13" y1="209.03" x2="90.23" y2="206.42" stroke="#10d010" stroke-width="0.4"/><line x1="106.38" y1="229.18" x2="105.47" y2="231.69" stroke="#30e030" stroke-width="0.56"/><line x1="106.38" y1="229.18" x2="105.49" y2="232.19" stroke="#10d010" stroke-width="0.35"/><line x1="106.38" y1="229.18" x2="105.54" y2="232.54" stroke="#60ff60" stroke-width="0.42"/><line x1="106.38" y1="229.18" x2="104.32" y2="231.14" stroke="#20c020" stroke-width="0.4"/><line x1="95.67" y1="238.78" x2="94.98" y2="237.46" stroke="#20c020" stroke-width="0.41"/><line x1="95.67" y1="238.78" x2="96.6" y2="236.98" stroke="#30e030" stroke-width="0.53"/><line x1="95.67" y1="238.78" x2="96.35" y2="242.78" stroke="#40ff40" stroke-width="0.4"/><line x1="100.96" y1="218.44" x2="98.09" y2="219.57" stroke="#30e030" stroke-width="0.37"/><line x1="100.96" y1="218.44" x2="102.81" y2="219.44" stroke="#10d010" stroke-width="0.4"/><line x1="93.43" y1="235.66" x2="94.09" y2="234.54" stroke="#20ff20" stroke-width="0.36"/><line x1="93.43" y1="235.66" x2="91.83" y2="234.96" stroke="#20c020" stroke-width="0.38"/><line x1="93.43" y1="235.66" x2="96.3" y2="234.52" stroke="#20c020" stroke-width="0.4"/><line x1="114.53" y1="220.7" x2="115.64" y2="223.28" stroke="#30e030" stroke-width="0.4"/><line x1="114.53" y1="220.7" x2="118.08" y2="219.34" stroke="#20ff20" stroke-width="0.4"/><line x1="79.43" y1="228.73" x2="79.51" y2="227.64" stroke="#30e030" stroke-width="0.39"/><line x1="79.43" y1="228.73" x2="80.48" y2="229.61" stroke="#10d010" stroke-width="0.5"/><line x1="79.43" y1="228.73" x2="77" y2="229.9" stroke="#20ff20" stroke-width="0.4"/><line x1="106.29" y1="219.02" x2="105.86" y2="219.57" stroke="#20c020" stroke-width="0.42"/><line x1="106.29" y1="219.02" x2="105.52" y2="220.38" stroke="#40ff40" stroke-width="0.38"/><line x1="106.29" y1="219.02" x2="108.59" y2="218.77" stroke="#10d010" stroke-width="0.4"/><line x1="103.35" y1="212.4" x2="98.99" y2="210.94" stroke="#30e030" stroke-width="0.43"/><line x1="103.35" y1="212.4" x2="102.62" y2="215.77" stroke="#60ff60" stroke-width="0.4"/><line x1="102.46" y1="237.25" x2="104.58" y2="238.24" stroke="#20ff20" stroke-width="0.36"/><line x1="102.46" y1="237.25" x2="102.01" y2="234.43" stroke="#20c020" stroke-width="0.4"/><line x1="102.46" y1="237.25" x2="104.98" y2="234.22" stroke="#30e030" stroke-width="0.5"/><line x1="102.46" y1="237.25" x2="102.45" y2="232.64" stroke="#10d010" stroke-width="0.4"/><line x1="82.16" y1="209.32" x2="81.01" y2="211.93" stroke="#20c020" stroke-width="0.46"/><line x1="82.16" y1="209.32" x2="86.13" y2="209.03" stroke="#20ff20" stroke-width="0.45"/><line x1="82.16" y1="209.32" x2="86.6" y2="208.61" stroke="#10d010" stroke-width="0.51"/><line x1="82.16" y1="209.32" x2="84.45" y2="206.95" stroke="#20c020" stroke-width="0.4"/><line x1="91.91" y1="212.98" x2="91.36" y2="211.31" stroke="#20c020" stroke-width="0.58"/><line x1="91.91" y1="212.98" x2="93.97" y2="212.85" stroke="#60ff60" stroke-width="0.56"/><line x1="91.91" y1="212.98" x2="92.68" y2="217.21" stroke="#30e030" stroke-width="0.4"/><line x1="80.48" y1="229.61" x2="79.43" y2="228.73" stroke="#20ff20" stroke-width="0.53"/><line x1="80.48" y1="229.61" x2="79.51" y2="227.64" stroke="#40ff40" stroke-width="0.4"/><line x1="80.48" y1="229.61" x2="82.55" y2="227.78" stroke="#20c020" stroke-width="0.4"/><line x1="98.6" y1="231.23" x2="97.78" y2="229.25" stroke="#20c020" stroke-width="0.35"/><line x1="98.6" y1="231.23" x2="100.78" y2="232.72" stroke="#20c020" stroke-width="0.4"/><line x1="80.63" y1="234.99" x2="80" y2="234.55" stroke="#10d010" stroke-width="0.5"/><line x1="80.63" y1="234.99" x2="80.27" y2="233.59" stroke="#20ff20" stroke-width="0.44"/><line x1="80.63" y1="234.99" x2="84.9" y2="235.19" stroke="#20ff20" stroke-width="0.4"/><line x1="148.39" y1="209.65" x2="148.09" y2="207.44" stroke="#10d010" stroke-width="0.57"/><line x1="148.39" y1="209.65" x2="149.22" y2="207.69" stroke="#20ff20" stroke-width="0.4"/><line x1="88.37" y1="215.92" x2="88.05" y2="215.73" stroke="#30e030" stroke-width="0.5"/><line x1="88.37" y1="215.92" x2="86.02" y2="214.09" stroke="#40ff40" stroke-width="0.59"/><line x1="88.37" y1="215.92" x2="90.33" y2="220.05" stroke="#40ff40" stroke-width="0.45"/><line x1="88.37" y1="215.92" x2="91.33" y2="216.45" stroke="#10d010" stroke-width="0.4"/><line x1="97.85" y1="225.35" x2="97.11" y2="224.98" stroke="#10d010" stroke-width="0.45"/><line x1="97.85" y1="225.35" x2="101.44" y2="227.37" stroke="#10d010" stroke-width="0.4"/><line x1="119.11" y1="222.42" x2="117.63" y2="221.65" stroke="#60ff60" stroke-width="0.56"/><line x1="119.11" y1="222.42" x2="115.64" y2="223.28" stroke="#10d010" stroke-width="0.42"/><line x1="119.11" y1="222.42" x2="122.89" y2="221.53" stroke="#20c020" stroke-width="0.4"/><line x1="128.34" y1="198.44" x2="126.09" y2="205" stroke="#40ff40" stroke-width="0.42"/><line x1="128.34" y1="198.44" x2="136.71" y2="196.68" stroke="#20c020" stroke-width="0.59"/><line x1="128.34" y1="198.44" x2="128.5" y2="195.31" stroke="#20c020" stroke-width="0.4"/><line x1="76.69" y1="237.01" x2="75.82" y2="236.17" stroke="#30e030" stroke-width="0.42"/><line x1="76.69" y1="237.01" x2="77.41" y2="231.17" stroke="#20ff20" stroke-width="0.4"/><line x1="108.35" y1="204.41" x2="109.42" y2="205.32" stroke="#30e030" stroke-width="0.47"/><line x1="108.35" y1="204.41" x2="105.17" y2="205.04" stroke="#40ff40" stroke-width="0.36"/><line x1="108.35" y1="204.41" x2="105.11" y2="199.44" stroke="#40ff40" stroke-width="0.38"/><line x1="108.35" y1="204.41" x2="109.21" y2="206.64" stroke="#10d010" stroke-width="0.4"/><line x1="81.31" y1="238.98" x2="79.48" y2="240.84" stroke="#20c020" stroke-width="0.55"/><line x1="81.31" y1="238.98" x2="84.29" y2="236.94" stroke="#20ff20" stroke-width="0.4"/><line x1="115.64" y1="223.28" x2="117.63" y2="221.65" stroke="#30e030" stroke-width="0.36"/><line x1="115.64" y1="223.28" x2="117.61" y2="220.19" stroke="#20c020" stroke-width="0.4"/><line x1="87.14" y1="222.25" x2="87.36" y2="221.95" stroke="#20ff20" stroke-width="0.52"/><line x1="87.14" y1="222.25" x2="86.53" y2="221.39" stroke="#30e030" stroke-width="0.49"/><line x1="87.14" y1="222.25" x2="90.04" y2="225.27" stroke="#20c020" stroke-width="0.4"/><line x1="104.45" y1="225.94" x2="102.99" y2="228.3" stroke="#30e030" stroke-width="0.6"/><line x1="104.45" y1="225.94" x2="101.56" y2="228.35" stroke="#20ff20" stroke-width="0.52"/><line x1="104.45" y1="225.94" x2="106.38" y2="229.18" stroke="#20ff20" stroke-width="0.42"/><line x1="104.45" y1="225.94" x2="102.67" y2="223.84" stroke="#40ff40" stroke-width="0.4"/><line x1="88.05" y1="215.73" x2="88.37" y2="215.92" stroke="#20c020" stroke-width="0.5"/><line x1="88.05" y1="215.73" x2="88.65" y2="217.75" stroke="#20ff20" stroke-width="0.4"/><line x1="87.36" y1="221.95" x2="87.14" y2="222.25" stroke="#20c020" stroke-width="0.47"/><line x1="87.36" y1="221.95" x2="86.53" y2="221.39" stroke="#20c020" stroke-width="0.41"/><line x1="87.36" y1="221.95" x2="86.7" y2="220.23" stroke="#20c020" stroke-width="0.35"/><line x1="87.36" y1="221.95" x2="85.08" y2="222.39" stroke="#20ff20" stroke-width="0.4"/><line x1="78.45" y1="245.84" x2="81.74" y2="242.81" stroke="#30e030" stroke-width="0.57"/><line x1="78.45" y1="245.84" x2="83.4" y2="246.49" stroke="#10d010" stroke-width="0.44"/><line x1="78.45" y1="245.84" x2="79.48" y2="240.84" stroke="#30e030" stroke-width="0.53"/><line x1="78.45" y1="245.84" x2="75.52" y2="248.3" stroke="#40ff40" stroke-width="0.4"/><line x1="117.19" y1="233.53" x2="114.95" y2="234.77" stroke="#60ff60" stroke-width="0.53"/><line x1="117.19" y1="233.53" x2="118.31" y2="231.09" stroke="#60ff60" stroke-width="0.46"/><line x1="117.19" y1="233.53" x2="115.98" y2="236.72" stroke="#40ff40" stroke-width="0.4"/><line x1="105.17" y1="205.04" x2="108.35" y2="204.41" stroke="#10d010" stroke-width="0.45"/><line x1="105.17" y1="205.04" x2="100.38" y2="203.29" stroke="#40ff40" stroke-width="0.4"/><line x1="86.37" y1="227.6" x2="84.72" y2="229" stroke="#60ff60" stroke-width="0.48"/><line x1="86.37" y1="227.6" x2="87.81" y2="229.37" stroke="#30e030" stroke-width="0.5"/><line x1="86.37" y1="227.6" x2="87.31" y2="232.04" stroke="#40ff40" stroke-width="0.39"/><line x1="86.37" y1="227.6" x2="88.75" y2="225.68" stroke="#60ff60" stroke-width="0.4"/><line x1="109.6" y1="219.64" x2="106.29" y2="219.02" stroke="#20c020" stroke-width="0.51"/><line x1="109.6" y1="219.64" x2="105.86" y2="219.57" stroke="#40ff40" stroke-width="0.59"/><line x1="109.6" y1="219.64" x2="105.52" y2="220.38" stroke="#20c020" stroke-width="0.58"/><line x1="109.6" y1="219.64" x2="113.53" y2="218.5" stroke="#30e030" stroke-width="0.4"/><line x1="94.29" y1="240.49" x2="94.02" y2="240.48" stroke="#20ff20" stroke-width="0.41"/><line x1="94.29" y1="240.49" x2="95.67" y2="238.78" stroke="#30e030" stroke-width="0.38"/><line x1="94.29" y1="240.49" x2="96.14" y2="241.93" stroke="#60ff60" stroke-width="0.4"/><line x1="102.01" y1="234.43" x2="103.05" y2="231.91" stroke="#10d010" stroke-width="0.39"/><line x1="102.01" y1="234.43" x2="101.86" y2="230.95" stroke="#30e030" stroke-width="0.4"/><line x1="96.18" y1="211.44" x2="93.97" y2="212.85" stroke="#60ff60" stroke-width="0.48"/><line x1="96.18" y1="211.44" x2="98.99" y2="210.94" stroke="#10d010" stroke-width="0.57"/><line x1="96.18" y1="211.44" x2="95.23" y2="213.67" stroke="#10d010" stroke-width="0.4"/><line x1="101.56" y1="228.35" x2="102.99" y2="228.3" stroke="#20c020" stroke-width="0.47"/><line x1="101.56" y1="228.35" x2="98.75" y2="225.98" stroke="#30e030" stroke-width="0.39"/><line x1="101.56" y1="228.35" x2="103.75" y2="225.44" stroke="#20ff20" stroke-width="0.4"/><line x1="90.17" y1="238.93" x2="89.49" y2="238.87" stroke="#20c020" stroke-width="0.48"/><line x1="90.17" y1="238.93" x2="91.45" y2="236.78" stroke="#30e030" stroke-width="0.4"/><line x1="91.6" y1="233.65" x2="91.83" y2="234.96" stroke="#20ff20" stroke-width="0.56"/><line x1="91.6" y1="233.65" x2="91.72" y2="235.28" stroke="#40ff40" stroke-width="0.36"/><line x1="91.6" y1="233.65" x2="94.09" y2="234.54" stroke="#60ff60" stroke-width="0.5"/><line x1="91.6" y1="233.65" x2="92.29" y2="236.22" stroke="#60ff60" stroke-width="0.4"/><line x1="93.98" y1="228.68" x2="94.57" y2="229.73" stroke="#20ff20" stroke-width="0.37"/><line x1="93.98" y1="228.68" x2="93.26" y2="226.21" stroke="#20ff20" stroke-width="0.6"/><line x1="93.98" y1="228.68" x2="95.8" y2="232.48" stroke="#40ff40" stroke-width="0.4"/><line x1="123.4" y1="234" x2="125.85" y2="230.88" stroke="#20c020" stroke-width="0.55"/><line x1="123.4" y1="234" x2="118.31" y2="231.09" stroke="#20c020" stroke-width="0.43"/><line x1="123.4" y1="234" x2="117.19" y2="233.53" stroke="#40ff40" stroke-width="0.45"/><line x1="123.4" y1="234" x2="122.41" y2="231.45" stroke="#20ff20" stroke-width="0.4"/><line x1="89.49" y1="238.87" x2="90.17" y2="238.93" stroke="#20ff20" stroke-width="0.4"/><line x1="89.49" y1="238.87" x2="90.85" y2="234.35" stroke="#30e030" stroke-width="0.4"/><line x1="85.79" y1="238.06" x2="88.65" y2="237.53" stroke="#20c020" stroke-width="0.38"/><line x1="85.79" y1="238.06" x2="89.49" y2="238.87" stroke="#60ff60" stroke-width="0.41"/><line x1="85.79" y1="238.06" x2="80.8" y2="238.94" stroke="#20ff20" stroke-width="0.4"/><line x1="79.16" y1="236.67" x2="80.63" y2="234.99" stroke="#20ff20" stroke-width="0.44"/><line x1="79.16" y1="236.67" x2="78.98" y2="239.46" stroke="#30e030" stroke-width="0.4"/><line x1="118.08" y1="226.89" x2="118.31" y2="231.09" stroke="#10d010" stroke-width="0.46"/><line x1="118.08" y1="226.89" x2="114.39" y2="228.92" stroke="#30e030" stroke-width="0.54"/><line x1="118.08" y1="226.89" x2="117.14" y2="221.39" stroke="#20ff20" stroke-width="0.4"/><line x1="94.57" y1="229.73" x2="93.98" y2="228.68" stroke="#10d010" stroke-width="0.37"/><line x1="94.57" y1="229.73" x2="97.78" y2="229.25" stroke="#30e030" stroke-width="0.52"/><line x1="94.57" y1="229.73" x2="93.26" y2="226.21" stroke="#20ff20" stroke-width="0.58"/><line x1="94.57" y1="229.73" x2="97.52" y2="233.82" stroke="#30e030" stroke-width="0.4"/><line x1="114.95" y1="234.77" x2="117.19" y2="233.53" stroke="#10d010" stroke-width="0.42"/><line x1="114.95" y1="234.77" x2="115.87" y2="236.76" stroke="#20ff20" stroke-width="0.4"/><line x1="105.49" y1="232.19" x2="105.54" y2="232.54" stroke="#40ff40" stroke-width="0.49"/><line x1="105.49" y1="232.19" x2="105.47" y2="231.69" stroke="#20c020" stroke-width="0.44"/><line x1="105.49" y1="232.19" x2="103.96" y2="229.08" stroke="#10d010" stroke-width="0.4"/><line x1="76.93" y1="212.91" x2="75.34" y2="210.78" stroke="#40ff40" stroke-width="0.43"/><line x1="76.93" y1="212.91" x2="73.57" y2="212.97" stroke="#40ff40" stroke-width="0.4"/><line x1="75.34" y1="210.78" x2="76.93" y2="212.91" stroke="#20c020" stroke-width="0.48"/><line x1="75.34" y1="210.78" x2="77.18" y2="212.12" stroke="#20ff20" stroke-width="0.4"/><line x1="82.15" y1="225.52" x2="79.51" y2="227.64" stroke="#60ff60" stroke-width="0.4"/><line x1="82.15" y1="225.52" x2="79.43" y2="228.73" stroke="#10d010" stroke-width="0.5"/><line x1="82.15" y1="225.52" x2="82.17" y2="223.41" stroke="#40ff40" stroke-width="0.4"/><line x1="96.09" y1="234.75" x2="95.18" y2="235.1" stroke="#20c020" stroke-width="0.53"/><line x1="96.09" y1="234.75" x2="95.88" y2="236.29" stroke="#20c020" stroke-width="0.38"/><line x1="96.09" y1="234.75" x2="97.59" y2="233.28" stroke="#20ff20" stroke-width="0.4"/><line x1="109.42" y1="205.32" x2="108.35" y2="204.41" stroke="#30e030" stroke-width="0.45"/><line x1="109.42" y1="205.32" x2="105.17" y2="205.04" stroke="#60ff60" stroke-width="0.55"/><line x1="109.42" y1="205.32" x2="112.36" y2="205.99" stroke="#10d010" stroke-width="0.4"/><line x1="96.49" y1="202.94" x2="100.46" y2="207.15" stroke="#20ff20" stroke-width="0.37"/><line x1="96.49" y1="202.94" x2="101.68" y2="200.37" stroke="#40ff40" stroke-width="0.56"/><line x1="96.49" y1="202.94" x2="93.99" y2="209.1" stroke="#20c020" stroke-width="0.36"/><line x1="96.49" y1="202.94" x2="98.18" y2="201.48" stroke="#30e030" stroke-width="0.4"/><line x1="128.79" y1="228.24" x2="125.85" y2="230.88" stroke="#20c020" stroke-width="0.42"/><line x1="128.79" y1="228.24" x2="130.08" y2="232.11" stroke="#20c020" stroke-width="0.42"/><line x1="128.79" y1="228.24" x2="128.52" y2="231.18" stroke="#40ff40" stroke-width="0.4"/><line x1="92.36" y1="218.85" x2="90.33" y2="220.05" stroke="#60ff60" stroke-width="0.5"/><line x1="92.36" y1="218.85" x2="90.96" y2="221.51" stroke="#30e030" stroke-width="0.55"/><line x1="92.36" y1="218.85" x2="94.98" y2="215.04" stroke="#20c020" stroke-width="0.51"/><line x1="92.36" y1="218.85" x2="88.01" y2="216.91" stroke="#20ff20" stroke-width="0.4"/><line x1="98.09" y1="219.57" x2="100.96" y2="218.44" stroke="#60ff60" stroke-width="0.52"/><line x1="98.09" y1="219.57" x2="99.15" y2="223.84" stroke="#10d010" stroke-width="0.56"/><line x1="98.09" y1="219.57" x2="97.11" y2="224.98" stroke="#20ff20" stroke-width="0.36"/><line x1="98.09" y1="219.57" x2="94.93" y2="222.02" stroke="#30e030" stroke-width="0.4"/><line x1="93.94" y1="237.43" x2="94.98" y2="237.46" stroke="#20c020" stroke-width="0.37"/><line x1="93.94" y1="237.43" x2="93.43" y2="235.66" stroke="#10d010" stroke-width="0.4"/><line x1="93.94" y1="237.43" x2="95.67" y2="238.78" stroke="#60ff60" stroke-width="0.55"/><line x1="93.94" y1="237.43" x2="91.5" y2="241.01" stroke="#20c020" stroke-width="0.4"/><line x1="99.43" y1="243.19" x2="101.45" y2="242.64" stroke="#40ff40" stroke-width="0.52"/><line x1="99.43" y1="243.19" x2="102.03" y2="242.13" stroke="#20ff20" stroke-width="0.39"/><line x1="99.43" y1="243.19" x2="95.67" y2="238.78" stroke="#20ff20" stroke-width="0.53"/><line x1="99.43" y1="243.19" x2="99.72" y2="239.53" stroke="#10d010" stroke-width="0.4"/></g>
<g><circle cx="86.6" cy="208.61" r="1.1" fill="#20c020" opacity="0.85"/><circle cx="126.23" cy="214.26" r="0.97" fill="#40ff40" opacity="0.89"/><circle cx="90.96" cy="221.51" r="0.72" fill="#20c020" opacity="0.84"/><circle cx="100.46" cy="207.15" r="0.84" fill="#30e030" opacity="0.93"/><circle cx="77.56" cy="220.26" r="1.4" fill="#30e030" opacity="0.84"/><circle cx="94.09" cy="234.54" r="1.13" fill="#10d010" opacity="0.83"/><circle cx="94.45" cy="225.87" r="1.24" fill="#30e030" opacity="0.82"/><circle cx="91.72" cy="235.28" r="0.76" fill="#20ff20" opacity="0.94"/><circle cx="82.29" cy="217.92" r="1.23" fill="#20ff20" opacity="0.96"/><circle cx="97.78" cy="229.25" r="1.14" fill="#10d010" opacity="0.93"/><circle cx="90.33" cy="220.05" r="0.93" fill="#30e030" opacity="0.8"/><circle cx="99.15" cy="223.84" r="1.36" fill="#30e030" opacity="0.87"/><circle cx="78.62" cy="217.45" r="0.86" fill="#30e030" opacity="0.83"/><circle cx="114.06" cy="197.68" r="1.1" fill="#20ff20" opacity="0.88"/><circle cx="89" cy="210.3" r="0.86" fill="#20ff20" opacity="0.84"/><circle cx="90.89" cy="241.49" r="0.7" fill="#10d010" opacity="0.99"/><circle cx="105.86" cy="219.57" r="1.5" fill="#20ff20" opacity="0.86"/><circle cx="114.39" cy="228.92" r="0.96" fill="#60ff60" opacity="0.84"/><circle cx="96.6" cy="236.98" r="1.28" fill="#60ff60" opacity="0.97"/><circle cx="101.68" cy="200.37" r="1.13" fill="#20c020" opacity="0.86"/><circle cx="133.42" cy="226.58" r="1.22" fill="#20ff20" opacity="0.94"/><circle cx="103.05" cy="231.91" r="1.35" fill="#10d010" opacity="0.9"/><circle cx="87.31" cy="232.04" r="1.1" fill="#60ff60" opacity="0.81"/><circle cx="86.7" cy="220.23" r="1.38" fill="#60ff60" opacity="0.96"/><circle cx="104.58" cy="238.24" r="0.88" fill="#20c020" opacity="0.91"/><circle cx="101.45" cy="242.64" r="1.35" fill="#20c020" opacity="0.93"/><circle cx="97.11" cy="224.98" r="1.24" fill="#30e030" opacity="0.8"/><circle cx="102.99" cy="228.3" r="0.87" fill="#20c020" opacity="0.93"/><circle cx="86.53" cy="221.39" r="0.93" fill="#60ff60" opacity="0.83"/><circle cx="147.79" cy="204.21" r="1.5" fill="#10d010" opacity="0.83"/><circle cx="75.39" cy="237.93" r="0.62" fill="#60ff60" opacity="0.92"/><circle cx="145.4" cy="200.55" r="0.92" fill="#20ff20" opacity="0.87"/><circle cx="104.98" cy="234.22" r="1.05" fill="#20c020" opacity="0.99"/><circle cx="84.72" cy="229" r="1.26" fill="#20ff20" opacity="0.94"/><circle cx="98.99" cy="210.94" r="1.25" fill="#40ff40" opacity="0.81"/><circle cx="80.27" cy="233.59" r="1.4" fill="#30e030" opacity="1"/><circle cx="90.64" cy="241.47" r="1.07" fill="#20ff20" opacity="0.9"/><circle cx="105.54" cy="232.54" r="0.76" fill="#10d010" opacity="0.82"/><circle cx="93.99" cy="209.1" r="1.39" fill="#40ff40" opacity="0.94"/><circle cx="125.85" cy="230.88" r="0.69" fill="#20ff20" opacity="0.9"/><circle cx="81.74" cy="242.81" r="0.64" fill="#40ff40" opacity="0.81"/><circle cx="136.79" cy="219.32" r="0.7" fill="#30e030" opacity="0.82"/><circle cx="81.01" cy="211.93" r="1.09" fill="#20ff20" opacity="0.86"/><circle cx="75.82" cy="236.17" r="1.14" fill="#60ff60" opacity="0.87"/><circle cx="95.18" cy="235.1" r="1.12" fill="#60ff60" opacity="0.91"/><circle cx="105.52" cy="220.38" r="0.69" fill="#30e030" opacity="0.81"/><circle cx="80" cy="234.55" r="1.46" fill="#40ff40" opacity="0.89"/><circle cx="102.03" cy="242.13" r="0.98" fill="#30e030" opacity="0.89"/><circle cx="87.81" cy="229.37" r="0.97" fill="#60ff60" opacity="0.94"/><circle cx="98.54" cy="234.5" r="1.45" fill="#10d010" opacity="0.83"/><circle cx="79.47" cy="231.96" r="1.16" fill="#20c020" opacity="0.95"/><circle cx="91.36" cy="211.31" r="1.31" fill="#30e030" opacity="0.81"/><circle cx="122.37" cy="227.65" r="0.82" fill="#30e030" opacity="1"/><circle cx="95.88" cy="236.29" r="0.89" fill="#40ff40" opacity="0.98"/><circle cx="98.75" cy="225.98" r="0.69" fill="#60ff60" opacity="0.82"/><circle cx="108.08" cy="234.83" r="0.93" fill="#30e030" opacity="0.81"/><circle cx="75.24" cy="223.66" r="0.89" fill="#30e030" opacity="0.86"/><circle cx="98.21" cy="234.62" r="1.46" fill="#20ff20" opacity="0.87"/><circle cx="111.65" cy="229.25" r="1.45" fill="#40ff40" opacity="0.9"/><circle cx="145.02" cy="220.51" r="0.8" fill="#20c020" opacity="0.93"/><circle cx="109.11" cy="232.13" r="0.62" fill="#20ff20" opacity="0.87"/><circle cx="86.02" cy="214.09" r="0.83" fill="#30e030" opacity="0.94"/><circle cx="108.74" cy="234" r="0.88" fill="#60ff60" opacity="0.87"/><circle cx="127.17" cy="216.4" r="1.43" fill="#40ff40" opacity="0.97"/><circle cx="94.02" cy="240.48" r="1.03" fill="#30e030" opacity="0.85"/><circle cx="105.11" cy="199.44" r="0.78" fill="#30e030" opacity="0.88"/><circle cx="88.65" cy="237.53" r="1.42" fill="#40ff40" opacity="0.85"/><circle cx="126.09" cy="205" r="1.35" fill="#30e030" opacity="0.84"/><circle cx="94.98" cy="237.46" r="1.47" fill="#20ff20" opacity="0.85"/><circle cx="138.84" cy="205.37" r="1.38" fill="#60ff60" opacity="0.82"/><circle cx="120.34" cy="211.86" r="0.71" fill="#60ff60" opacity="0.82"/><circle cx="111.8" cy="228.7" r="1.14" fill="#20ff20" opacity="0.82"/><circle cx="78.56" cy="222.12" r="1.09" fill="#20ff20" opacity="0.89"/><circle cx="117.63" cy="221.65" r="0.95" fill="#30e030" opacity="0.94"/><circle cx="126.22" cy="224.88" r="1.41" fill="#40ff40" opacity="0.81"/><circle cx="91.83" cy="234.96" r="0.84" fill="#20c020" opacity="0.81"/><circle cx="136.71" cy="196.68" r="0.86" fill="#10d010" opacity="0.86"/><circle cx="79.51" cy="227.64" r="0.94" fill="#40ff40" opacity="0.82"/><circle cx="83.4" cy="246.49" r="1.48" fill="#20ff20" opacity="0.84"/><circle cx="93.97" cy="212.85" r="1.39" fill="#30e030" opacity="0.85"/><circle cx="79.48" cy="240.84" r="1.08" fill="#30e030" opacity="0.95"/><circle cx="76.32" cy="228.47" r="0.94" fill="#20ff20" opacity="0.82"/><circle cx="97.8" cy="226.79" r="1.44" fill="#20c020" opacity="0.94"/><circle cx="106.49" cy="240.9" r="0.99" fill="#60ff60" opacity="0.99"/><circle cx="118.31" cy="231.09" r="0.86" fill="#10d010" opacity="0.81"/><circle cx="105.47" cy="231.69" r="0.94" fill="#20ff20" opacity="0.84"/><circle cx="130.08" cy="232.11" r="1.46" fill="#20ff20" opacity="0.88"/><circle cx="93.26" cy="226.21" r="0.77" fill="#40ff40" opacity="0.84"/><circle cx="148.09" cy="207.44" r="0.92" fill="#20ff20" opacity="0.88"/><circle cx="80.73" cy="218.28" r="0.96" fill="#10d010" opacity="0.97"/><circle cx="94.98" cy="215.04" r="1.24" fill="#60ff60" opacity="0.91"/><circle cx="86.13" cy="209.03" r="1.2" fill="#30e030" opacity="0.99"/><circle cx="106.38" cy="229.18" r="1.31" fill="#60ff60" opacity="0.96"/><circle cx="95.67" cy="238.78" r="0.72" fill="#60ff60" opacity="0.81"/><circle cx="100.96" cy="218.44" r="0.73" fill="#20c020" opacity="0.81"/><circle cx="93.43" cy="235.66" r="0.97" fill="#40ff40" opacity="0.97"/><circle cx="114.53" cy="220.7" r="1.19" fill="#60ff60" opacity="0.9"/><circle cx="79.43" cy="228.73" r="0.73" fill="#20c020" opacity="0.83"/><circle cx="106.29" cy="219.02" r="0.73" fill="#40ff40" opacity="0.98"/><circle cx="103.35" cy="212.4" r="1.42" fill="#20c020" opacity="0.86"/><circle cx="102.46" cy="237.25" r="0.95" fill="#30e030" opacity="0.97"/><circle cx="82.16" cy="209.32" r="1.32" fill="#10d010" opacity="0.97"/><circle cx="91.91" cy="212.98" r="1.41" fill="#20ff20" opacity="0.96"/><circle cx="80.48" cy="229.61" r="1.37" fill="#60ff60" opacity="0.95"/><circle cx="98.6" cy="231.23" r="0.94" fill="#40ff40" opacity="0.97"/><circle cx="80.63" cy="234.99" r="1.05" fill="#60ff60" opacity="0.84"/><circle cx="148.39" cy="209.65" r="1.2" fill="#20ff20" opacity="0.91"/><circle cx="88.37" cy="215.92" r="0.91" fill="#10d010" opacity="0.96"/><circle cx="97.85" cy="225.35" r="0.9" fill="#40ff40" opacity="0.98"/><circle cx="119.11" cy="222.42" r="1.06" fill="#20ff20" opacity="0.91"/><circle cx="128.34" cy="198.44" r="0.81" fill="#10d010" opacity="0.96"/><circle cx="76.69" cy="237.01" r="0.61" fill="#40ff40" opacity="0.8"/><circle cx="108.35" cy="204.41" r="1.05" fill="#60ff60" opacity="0.92"/><circle cx="81.31" cy="238.98" r="0.6" fill="#10d010" opacity="0.86"/><circle cx="115.64" cy="223.28" r="1.04" fill="#60ff60" opacity="0.88"/><circle cx="87.14" cy="222.25" r="0.73" fill="#40ff40" opacity="0.94"/><circle cx="104.45" cy="225.94" r="1.13" fill="#10d010" opacity="0.98"/><circle cx="88.05" cy="215.73" r="1" fill="#20ff20" opacity="0.96"/><circle cx="87.36" cy="221.95" r="0.69" fill="#20ff20" opacity="0.82"/><circle cx="78.45" cy="245.84" r="1.34" fill="#20ff20" opacity="0.85"/><circle cx="117.19" cy="233.53" r="0.94" fill="#30e030" opacity="0.83"/><circle cx="105.17" cy="205.04" r="1.18" fill="#20c020" opacity="0.8"/><circle cx="86.37" cy="227.6" r="1.26" fill="#20c020" opacity="0.97"/><circle cx="109.6" cy="219.64" r="0.65" fill="#10d010" opacity="0.93"/><circle cx="94.29" cy="240.49" r="0.92" fill="#40ff40" opacity="0.92"/><circle cx="102.01" cy="234.43" r="1.36" fill="#20c020" opacity="0.88"/><circle cx="96.18" cy="211.44" r="1.09" fill="#40ff40" opacity="0.91"/><circle cx="101.56" cy="228.35" r="1.5" fill="#20ff20" opacity="0.87"/><circle cx="90.17" cy="238.93" r="1.1" fill="#10d010" opacity="0.84"/><circle cx="91.6" cy="233.65" r="1.11" fill="#20c020" opacity="0.99"/><circle cx="93.98" cy="228.68" r="0.87" fill="#60ff60" opacity="0.97"/><circle cx="123.4" cy="234" r="0.99" fill="#20c020" opacity="0.89"/><circle cx="89.49" cy="238.87" r="0.67" fill="#40ff40" opacity="0.97"/><circle cx="85.79" cy="238.06" r="1.07" fill="#10d010" opacity="0.98"/><circle cx="79.16" cy="236.67" r="1.47" fill="#40ff40" opacity="0.95"/><circle cx="118.08" cy="226.89" r="0.92" fill="#30e030" opacity="0.94"/><circle cx="94.57" cy="229.73" r="1.35" fill="#10d010" opacity="0.86"/><circle cx="114.95" cy="234.77" r="0.84" fill="#30e030" opacity="0.87"/><circle cx="105.49" cy="232.19" r="1.2" fill="#10d010" opacity="0.8"/><circle cx="76.93" cy="212.91" r="0.63" fill="#20c020" opacity="0.84"/><circle cx="75.34" cy="210.78" r="1.25" fill="#60ff60" opacity="0.9"/><circle cx="82.15" cy="225.52" r="1.41" fill="#10d010" opacity="0.98"/><circle cx="96.09" cy="234.75" r="1.24" fill="#20c020" opacity="0.91"/><circle cx="109.42" cy="205.32" r="0.75" fill="#30e030" opacity="0.82"/><circle cx="96.49" cy="202.94" r="0.94" fill="#10d010" opacity="0.95"/><circle cx="128.79" cy="228.24" r="0.76" fill="#20c020" opacity="0.97"/><circle cx="92.36" cy="218.85" r="1.02" fill="#20c020" opacity="0.9"/><circle cx="98.09" cy="219.57" r="1.33" fill="#20c020" opacity="0.84"/><circle cx="93.94" cy="237.43" r="1.42" fill="#40ff40" opacity="0.92"/><circle cx="99.43" cy="243.19" r="1.2" fill="#20c020" opacity="0.81"/></g>
<circle cx="75.73" cy="209.76" r="0.79" fill="#30e030"/>
<circle cx="73.89" cy="206.67" r="0.88" fill="#20ff20"/>
<circle cx="75.54" cy="209.39" r="1.09" fill="#60ff60"/>
<circle cx="57.33" cy="207.34" r="0.78" fill="#10d010"/>
<circle cx="60.8" cy="209.42" r="1.19" fill="#60ff60"/>
<circle cx="61.01" cy="207.66" r="0.68" fill="#60ff60"/>
<circle cx="66.95" cy="209.53" r="0.5" fill="#30e030"/>
<circle cx="67.33" cy="209.49" r="0.92" fill="#20c020"/>
<circle cx="61.86" cy="208.48" r="1.08" fill="#30e030"/>
<circle cx="76.35" cy="208.28" r="0.86" fill="#40ff40"/>
<circle cx="70.12" cy="204.74" r="1.1" fill="#20c020"/>
<circle cx="67.29" cy="208.55" r="0.53" fill="#10d010"/>
<circle cx="60.24" cy="209.68" r="0.85" fill="#20c020"/>
<circle cx="59.97" cy="210" r="0.97" fill="#10d010"/>
<circle cx="75" cy="209.47" r="1.13" fill="#60ff60"/>
<circle cx="63.34" cy="208.24" r="1.11" fill="#40ff40"/>
<circle cx="57.04" cy="208.88" r="0.97" fill="#10d010"/>
<circle cx="69.66" cy="209.48" r="0.84" fill="#10d010"/>
<circle cx="59.39" cy="209.6" r="0.62" fill="#20c020"/>
<circle cx="57.21" cy="207.23" r="0.54" fill="#10d010"/>
<circle cx="57.5" cy="208.35" r="0.9" fill="#40ff40"/>
<circle cx="67.11" cy="206.05" r="1" fill="#10d010"/>
<line x1="57" y1="208" x2="76" y2="209.5" stroke="#20d020" stroke-width="0.8" opacity="0.7"/>
<circle cx="136.63" cy="210.47" r="0.62" fill="#40ff40" opacity="0.8"/>
<circle cx="113.4" cy="219.32" r="0.52" fill="#30e030" opacity="0.8"/>
<circle cx="132.01" cy="217.35" r="0.93" fill="#20ff20" opacity="0.8"/>
<circle cx="110.33" cy="202.65" r="0.92" fill="#40ff40" opacity="0.8"/>
<circle cx="147.52" cy="209.58" r="0.66" fill="#20c020" opacity="0.8"/>
<circle cx="113.47" cy="209.42" r="0.73" fill="#20ff20" opacity="0.8"/>
<circle cx="142.35" cy="218.45" r="0.75" fill="#40ff40" opacity="0.8"/>
<circle cx="144.03" cy="207.44" r="0.85" fill="#20ff20" opacity="0.8"/>
<circle cx="139.41" cy="221.26" r="0.83" fill="#20ff20" opacity="0.8"/>
<circle cx="123.08" cy="205.36" r="0.68" fill="#60ff60" opacity="0.8"/>
<circle cx="123.95" cy="207.52" r="0.95" fill="#60ff60" opacity="0.8"/>
<circle cx="117.27" cy="209.81" r="0.59" fill="#40ff40" opacity="0.8"/>
<circle cx="155.59" cy="216.06" r="0.79" fill="#10d010" opacity="0.8"/>
<path d="M57.2,285 C57.17,279.17 56.93,260 57,250 C57.07,240 57.13,230.33 57.6,225 C58.07,219.67 59.1,218.83 59.8,218 C60.5,217.17 61.37,216.33 61.8,220 C62.23,223.67 62.33,229.17 62.4,240 C62.47,250.83 62.23,277.5 62.2,285" fill="#000010" stroke="none" stroke-width="0.8"/>
</g>
<path d="M62.4,215.9 C64.25,215.12 68.55,213.52 73.5,211.2 C78.45,208.88 85.92,204.32 92.1,202 C98.28,199.68 102.87,198.38 110.6,197.3 C118.33,196.22 130.92,195.5 138.5,195.5 C146.08,195.5 152.08,195.6 156.1,197.3 C160.12,199 162.13,202.75 162.6,205.7 C163.07,208.65 162.3,211.6 158.9,215 C155.5,218.4 148.7,222.4 142.2,226.1 C135.7,229.8 127.32,233.8 119.9,237.2 C112.48,240.6 102.95,244.48 97.7,246.5 C92.45,248.52 91.5,249.15 88.4,249.3 C85.3,249.45 81.27,249.1 79.1,247.4 C76.93,245.7 76.17,242.97 75.4,239.1 C74.63,235.23 74.65,226.68 74.5,224.2" fill="none" stroke="#f4f4f4" stroke-width="1.0" stroke-dasharray="2.8,1.8"/>
<path d="M104.2,284.5 C104.5,282.75 104.93,277.55 106,274 C107.07,270.45 108.6,266.53 110.6,263.2 C112.6,259.87 115.52,256.48 118,254 C120.48,251.52 122.5,250.05 125.5,248.3 C128.5,246.55 132.3,244.73 136,243.5 C139.7,242.27 144.03,241.23 147.7,240.9 C151.37,240.57 154.65,240.78 158,241.5 C161.35,242.22 166.17,244.58 167.8,245.2" fill="none" stroke="#f4f4f4" stroke-width="1.0" stroke-dasharray="2.8,1.8"/>
<ellipse cx="135.7" cy="262.3" rx="10.0" ry="7.3" fill="none" stroke="#f4f4f4" stroke-width="1.0" stroke-dasharray="2.8,1.8"/>
<path d="M57.5,285 C57.5,277.5 57.37,250.5 57.5,240 C57.63,229.5 57.8,225.58 58.3,222 C58.8,218.42 59.88,218.5 60.5,218.5 C61.12,218.5 61.7,218.42 62,222 C62.3,225.58 62.25,229.5 62.3,240 C62.35,250.5 62.3,277.5 62.3,285" fill="none" stroke="#ffffff" stroke-width="0.9"/>
<line x1="58.6" y1="226" x2="58.6" y2="284" stroke="#3030ff" stroke-width="0.9" opacity="0.8"/>
<path d="M63.6,284 L63.6,224 Q63.8,218 66,216" fill="none" stroke="#eeeeee" stroke-width="0.7" stroke-dasharray="2.8,1.8"/>
<text x="121.8" y="211.2" font-size="8.7" fill="#f0f0f0" stroke="#f0f0f0" stroke-width="0.22">PVN</text>
<text x="84.6" y="215.9" font-size="7.8" fill="#f0f0f0" stroke="#f0f0f0" stroke-width="0.22" transform="rotate(-90 84.6 215.9)">Lens tract</text>
<line x1="152.4" y1="280.8" x2="159.8" y2="280.8" stroke="#fff" stroke-width="1.3"/>
<text x="48.8" y="19.8" font-size="9.3" fill="#1a1a1a" stroke="#1a1a1a" stroke-width="0.22">Day1: <tspan fill="#e8202a" stroke="#e8202a">AAV-DIO-RVG</tspan></text>
<text x="43.4" y="30.9" font-size="9.3" fill="#e8202a" stroke="#e8202a" stroke-width="0.22">AAV-DIO-TVA-mCherry</text>
<text x="41.5" y="101.8" font-size="9.3" fill="#1a1a1a" stroke="#1a1a1a" stroke-width="0.22">Day21: <tspan fill="#22a84c" stroke="#22a84c">RV-EvnA-EGFP</tspan></text>
<text x="40.7" y="115.7" font-size="9.3" fill="#1a1a1a" stroke="#1a1a1a" stroke-width="0.22">Day1: AAV2/Retro-hSyn-Cre</text>
<text x="90.6" y="132.4" font-size="9.8" fill="#1a1a1a" stroke="#1a1a1a" stroke-width="0.22">C57 mice</text>
<text x="153.4" y="73.1" font-size="9.0" fill="#1a1a1a" stroke="#1a1a1a" stroke-width="0.22">DMV</text>
<path d="M140,72 L126,102 L162,102 Z" fill="url(#gcone)"/>
<path d="M104,66 C112,67 124,66 134,67 C140,68 146,70 147,74 C146,78 138,78 130,78.5 C122,79.5 112,80 106,79 C102,76 102,70 104,66 Z" fill="#eab4b8" stroke="#d4969a" stroke-width="0.5"/>
<path d="M36,56 C35.5,50 38.5,46 43,45 C48,44 52,41.5 57,40.8 C63,40 68,39.8 74,39 C82,38 88,36.5 94,35.2 C100,34 106,32.8 111,32.4 C115,32.2 118,34.5 118,38.5 C119,46 119.5,54 119,62 C117,68 112,70.5 106,71 C101,73.5 97,76.5 92,77 C84,76.5 76,75.5 68,73.5 C60,71.5 52,69 45.5,66 C40,63.5 36.5,60 36,56 Z" fill="#f3c6c8" stroke="#d4969a" stroke-width="0.55"/>
<path d="M79.5,54 C81,49 85,45 90,43 C96,40.5 104,38.5 111,37.5 C106,40.5 99,42.5 93,45.5 C88,48 85,51 83.5,55.5 Z" fill="#fcecec" stroke="#e8c0c0" stroke-width="0.4"/>
<path d="M60,58 C70,60 86,63 104,66" fill="none" stroke="#e6b0b4" stroke-width="0.5"/>
<path d="M152.5,49.8 C152.5,50.98 150.79,52.07 150.51,53.34 C150.22,54.61 151.3,56.35 150.8,57.41 C150.29,58.48 148.29,58.7 147.5,59.72 C146.7,60.74 146.93,62.78 146.02,63.52 C145.12,64.25 143.22,63.57 142.07,64.14 C140.92,64.7 140.26,66.64 139.13,66.9 C138,67.17 136.58,65.71 135.3,65.71 C134.02,65.71 132.6,67.17 131.47,66.9 C130.34,66.64 129.68,64.7 128.53,64.14 C127.38,63.57 125.48,64.25 124.58,63.52 C123.67,62.78 123.9,60.74 123.1,59.72 C122.31,58.7 120.31,58.48 119.8,57.41 C119.3,56.35 120.38,54.61 120.09,53.34 C119.81,52.07 118.1,50.98 118.1,49.8 C118.1,48.62 119.81,47.53 120.09,46.26 C120.38,44.99 119.3,43.25 119.8,42.19 C120.31,41.12 122.31,40.9 123.1,39.88 C123.9,38.86 123.67,36.82 124.58,36.08 C125.48,35.35 127.38,36.03 128.53,35.46 C129.68,34.9 130.34,32.96 131.47,32.7 C132.6,32.43 134.02,33.89 135.3,33.89 C136.58,33.89 138,32.43 139.13,32.7 C140.26,32.96 140.92,34.9 142.07,35.46 C143.22,36.03 145.12,35.35 146.02,36.08 C146.93,36.82 146.7,38.86 147.5,39.88 C148.29,40.9 150.29,41.12 150.8,42.19 C151.3,43.25 150.22,44.99 150.51,46.26 C150.79,47.53 152.5,48.62 152.5,49.8Z" fill="url(#gcb)" stroke="#c8949a" stroke-width="0.6"/>
<path d="M124,42 Q129.0,42.5 131,46" fill="none" stroke="#d4a0a6" stroke-width="0.5"/>
<path d="M128,36 Q132.0,38.5 133,44" fill="none" stroke="#d4a0a6" stroke-width="0.5"/>
<path d="M138,35 Q138.5,38.5 136,45" fill="none" stroke="#d4a0a6" stroke-width="0.5"/>
<path d="M146,41 Q144.0,43.0 139,48" fill="none" stroke="#d4a0a6" stroke-width="0.5"/>
<path d="M125,52 Q130.5,50.5 133,52" fill="none" stroke="#d4a0a6" stroke-width="0.5"/>
<path d="M147,54 Q144.5,52.5 139,54" fill="none" stroke="#d4a0a6" stroke-width="0.5"/>
<path d="M130,60 Q134.0,56.0 135,55" fill="none" stroke="#d4a0a6" stroke-width="0.5"/>
<path d="M142,62 Q141.5,57.5 138,56" fill="none" stroke="#d4a0a6" stroke-width="0.5"/>
<g transform="translate(144.8,22) rotate(90)"><line x1="0" y1="-1.8199999999999998" x2="0" y2="1.8199999999999998" stroke="#3a3a3a" stroke-width="0.8"/><line x1="0" y1="0" x2="5.04" y2="0" stroke="#3a3a3a" stroke-width="0.7"/><rect x="5.04" y="-1.3" width="27.72" height="2.6" fill="#9a9a9a" stroke="#3a3a3a" stroke-width="0.5"/><rect x="27.22" y="-0.9" width="5.54" height="1.8" fill="#e06070"/><line x1="32.76" y1="0" x2="42" y2="0" stroke="#3a3a3a" stroke-width="0.6"/></g>
<g transform="translate(96.4,92.5) rotate(-22.45)"><line x1="0" y1="-1.68" x2="0" y2="1.68" stroke="#3a3a3a" stroke-width="0.8"/><line x1="0" y1="0" x2="4.56" y2="0" stroke="#3a3a3a" stroke-width="0.7"/><rect x="4.56" y="-1.2" width="25.06" height="2.4" fill="#9a9a9a" stroke="#3a3a3a" stroke-width="0.5"/><rect x="23.36" y="-0.8" width="6.27" height="1.6" fill="#40b070"/><line x1="29.62" y1="0" x2="37.98" y2="0" stroke="#3a3a3a" stroke-width="0.6"/></g>
<g transform="translate(194.2,71.4) rotate(90)"><line x1="0" y1="-1.47" x2="0" y2="1.47" stroke="#3a3a3a" stroke-width="0.8"/><line x1="0" y1="0" x2="6.01" y2="0" stroke="#3a3a3a" stroke-width="0.7"/><rect x="6.01" y="-1.05" width="33.07" height="2.1" fill="#a8a8a8" stroke="#3a3a3a" stroke-width="0.5"/><line x1="39.08" y1="0" x2="50.1" y2="0" stroke="#3a3a3a" stroke-width="0.6"/></g>
<path d="M78.4,43.2 Q111.95,63.85 141.5,72.5" fill="none" stroke="#e8141e" stroke-width="0.75"/>
<circle cx="78.4" cy="43.2" r="1.15" fill="#e8141e"/>
<path d="M105.9,51.2 Q125.7,67.85 141.5,72.5" fill="none" stroke="#e8141e" stroke-width="0.75"/>
<circle cx="105.9" cy="51.2" r="1.15" fill="#e8141e"/>
<path d="M76.5,58.7 Q111,71.6 141.5,72.5" fill="none" stroke="#e8141e" stroke-width="0.75"/>
<circle cx="76.5" cy="58.7" r="1.15" fill="#e8141e"/>
<path d="M90.4,67.5 Q117.95,76 141.5,72.5" fill="none" stroke="#e8141e" stroke-width="0.75"/>
<circle cx="90.4" cy="67.5" r="1.15" fill="#e8141e"/>
<path d="M113.5,77.7 Q129.5,81.1 141.5,72.5" fill="none" stroke="#e8141e" stroke-width="0.75"/>
<circle cx="113.5" cy="77.7" r="1.15" fill="#e8141e"/>
<ellipse cx="144" cy="73.8" rx="6.3" ry="4.2" fill="#f5a000"/>
<path d="M146,74 C160,76.5 180,84 194,91.5 C202,96 205,104 203,110 C201,116 197,119.5 193.5,121.5" fill="none" stroke="#f5a000" stroke-width="1.2"/>
<path d="M175,93 C178,87 188,86 195,90 C203,86 212,89 213.5,97 C215.5,106 214.5,118 210,125 C205,131.5 195,133 185,131.5 C177,129.5 172,122 172,112 C171.5,104 172.5,97 175,93 Z" fill="#e8a8aa" stroke="#c07a7e" stroke-width="0.6"/>
<path d="M176,90 C181,86 190,87 194,92 C188,94 182,95 176,90 Z" fill="#f8e0e0" stroke="#d8a0a0" stroke-width="0.4"/>
<ellipse cx="178" cy="101" rx="4" ry="6" transform="rotate(20 178 101)" fill="#f4c6c6" stroke="#c27a80" stroke-width="0.45"/>
<ellipse cx="177.4" cy="100.2" rx="1.8" ry="2.0999999999999996" transform="rotate(20 178 101)" fill="#fbe2e2"/>
<ellipse cx="185" cy="99" rx="5" ry="3.5" transform="rotate(-10 185 99)" fill="#f4c6c6" stroke="#c27a80" stroke-width="0.45"/>
<ellipse cx="184.4" cy="98.2" rx="2.25" ry="1.2249999999999999" transform="rotate(-10 185 99)" fill="#fbe2e2"/>
<ellipse cx="192" cy="103" rx="3.5" ry="6" transform="rotate(10 192 103)" fill="#f4c6c6" stroke="#c27a80" stroke-width="0.45"/>
<ellipse cx="191.4" cy="102.2" rx="1.575" ry="2.0999999999999996" transform="rotate(10 192 103)" fill="#fbe2e2"/>
<ellipse cx="200" cy="99" rx="5" ry="3.5" transform="rotate(15 200 99)" fill="#f4c6c6" stroke="#c27a80" stroke-width="0.45"/>
<ellipse cx="199.4" cy="98.2" rx="2.25" ry="1.2249999999999999" transform="rotate(15 200 99)" fill="#fbe2e2"/>
<ellipse cx="208" cy="102" rx="3.5" ry="6" transform="rotate(-5 208 102)" fill="#f4c6c6" stroke="#c27a80" stroke-width="0.45"/>
<ellipse cx="207.4" cy="101.2" rx="1.575" ry="2.0999999999999996" transform="rotate(-5 208 102)" fill="#fbe2e2"/>
<ellipse cx="177" cy="113" rx="3.5" ry="6" transform="rotate(0 177 113)" fill="#f4c6c6" stroke="#c27a80" stroke-width="0.45"/>
<ellipse cx="176.4" cy="112.2" rx="1.575" ry="2.0999999999999996" transform="rotate(0 177 113)" fill="#fbe2e2"/>
<ellipse cx="184" cy="111" rx="4" ry="4" transform="rotate(30 184 111)" fill="#f4c6c6" stroke="#c27a80" stroke-width="0.45"/>
<ellipse cx="183.4" cy="110.2" rx="1.8" ry="1.4" transform="rotate(30 184 111)" fill="#fbe2e2"/>
<ellipse cx="190" cy="115" rx="5" ry="3.5" transform="rotate(-20 190 115)" fill="#f4c6c6" stroke="#c27a80" stroke-width="0.45"/>
<ellipse cx="189.4" cy="114.2" rx="2.25" ry="1.2249999999999999" transform="rotate(-20 190 115)" fill="#fbe2e2"/>
<ellipse cx="198" cy="112" rx="3.5" ry="5" transform="rotate(10 198 112)" fill="#f4c6c6" stroke="#c27a80" stroke-width="0.45"/>
<ellipse cx="197.4" cy="111.2" rx="1.575" ry="1.75" transform="rotate(10 198 112)" fill="#fbe2e2"/>
<ellipse cx="206" cy="114" rx="4" ry="5.5" transform="rotate(0 206 114)" fill="#f4c6c6" stroke="#c27a80" stroke-width="0.45"/>
<ellipse cx="205.4" cy="113.2" rx="1.8" ry="1.9249999999999998" transform="rotate(0 206 114)" fill="#fbe2e2"/>
<ellipse cx="180" cy="124" rx="5" ry="3.5" transform="rotate(10 180 124)" fill="#f4c6c6" stroke="#c27a80" stroke-width="0.45"/>
<ellipse cx="179.4" cy="123.2" rx="2.25" ry="1.2249999999999999" transform="rotate(10 180 124)" fill="#fbe2e2"/>
<ellipse cx="188" cy="125" rx="4" ry="4" transform="rotate(-15 188 125)" fill="#f4c6c6" stroke="#c27a80" stroke-width="0.45"/>
<ellipse cx="187.4" cy="124.2" rx="1.8" ry="1.4" transform="rotate(-15 188 125)" fill="#fbe2e2"/>
<ellipse cx="196" cy="124" rx="5" ry="4" transform="rotate(20 196 124)" fill="#f4c6c6" stroke="#c27a80" stroke-width="0.45"/>
<ellipse cx="195.4" cy="123.2" rx="2.25" ry="1.4" transform="rotate(20 196 124)" fill="#fbe2e2"/>
<ellipse cx="204" cy="125" rx="4" ry="4" transform="rotate(0 204 125)" fill="#f4c6c6" stroke="#c27a80" stroke-width="0.45"/>
<ellipse cx="203.4" cy="124.2" rx="1.8" ry="1.4" transform="rotate(0 204 125)" fill="#fbe2e2"/>
<ellipse cx="210" cy="120" rx="3" ry="5" transform="rotate(10 210 120)" fill="#f4c6c6" stroke="#c27a80" stroke-width="0.45"/>
<ellipse cx="209.4" cy="119.2" rx="1.35" ry="1.75" transform="rotate(10 210 120)" fill="#fbe2e2"/>
<ellipse cx="186" cy="106" rx="3" ry="2.5" transform="rotate(0 186 106)" fill="#f4c6c6" stroke="#c27a80" stroke-width="0.45"/>
<ellipse cx="185.4" cy="105.2" rx="1.35" ry="0.875" transform="rotate(0 186 106)" fill="#fbe2e2"/>
<g transform="translate(194.2,71.4) rotate(90)"><line x1="0" y1="-1.47" x2="0" y2="1.47" stroke="#3a3a3a" stroke-width="0.8"/><line x1="0" y1="0" x2="6.01" y2="0" stroke="#3a3a3a" stroke-width="0.7"/><rect x="6.01" y="-1.05" width="33.07" height="2.1" fill="#a8a8a8" stroke="#3a3a3a" stroke-width="0.5"/><line x1="39.08" y1="0" x2="50.1" y2="0" stroke="#3a3a3a" stroke-width="0.6"/></g>
<path d="M146,74 C160,76.5 180,84 194,91.5 C202,96 205,104 203,110 C201,116 197,119.5 193.5,121.5" fill="none" stroke="#f5a000" stroke-width="1.2"/>
<text x="471.4" y="21.9" font-size="8.3" fill="#1a1a1a" stroke="#1a1a1a" stroke-width="0.22">AAV2/Retro-hSyn-Cre</text>
<text x="495" y="35.4" font-size="8.3" fill="#1a1a1a" stroke="#1a1a1a" stroke-width="0.22">Scope</text>
<path d="M521.5,46 C520,36 523,26 529,24.8 C535,24 538,30 537.5,38 C537,44 534,47 530,47 Z" fill="#4a4a4a" stroke="#2a2a2a" stroke-width="0.5"/>
<path d="M462.9,82.9 C463.33,81.88 463.9,78.98 465.5,76.8 C467.1,74.62 469.87,71.85 472.5,69.8 C475.13,67.75 478.38,66.12 481.3,64.5 C484.22,62.88 486.8,61.7 490,60.1 C493.2,58.5 497.57,56.5 500.5,54.9 C503.43,53.3 505.55,51.67 507.6,50.5 C509.65,49.33 509.9,48.63 512.8,47.9 C515.7,47.17 520.47,46.52 525,46.1 C529.53,45.68 535.6,45.53 540,45.4 C544.4,45.27 549.5,45.32 551.4,45.3 L566.2,45.3 L566.2,113.6 L550.5,113.6 C550.35,113.3 550.33,113.27 549.6,111.8 C548.87,110.33 548.15,106.95 546.1,104.8 C544.05,102.65 540.82,100.13 537.3,98.9 C533.78,97.67 529.95,97.4 525,97.4 C520.05,97.4 512.85,99.08 507.6,98.9 C502.35,98.72 497.88,97.35 493.5,96.3 C489.12,95.25 484.5,93.55 481.3,92.6 C478.1,91.65 476.35,91.33 474.3,90.6 C472.25,89.87 470.55,88.97 469,88.2 C467.45,87.43 466.02,86.88 465,86 C463.98,85.12 463.25,83.42 462.9,82.9 Z" fill="url(#ghead)" stroke="#3a3a3a" stroke-width="0.6"/>
<path d="M527,97.6 C535,98 541,100 545,104 C548,107 549.5,110 550.5,113.6 L566.2,113.6 L566.2,100 C558,99 548,97 538,95 C533,95.5 529,96.5 527,97.6 Z" fill="#5a5a5a" stroke="none" stroke-width="0.8"/>
<path d="M527,97.6 C537,98.5 544,102 548.5,109" fill="none" stroke="#3a3a3a" stroke-width="0.5"/>
<path d="M530,56 L533,60.5 L536,58.5 L538,63 L541,60 L544.5,62.5 L546,58 L550,58.5 L547,54 Z" fill="#505050" stroke="none" stroke-width="0.8"/>
<path d="M477.8,85.5 C492,88 510,90 525,92.6" fill="none" stroke="#5a5a5a" stroke-width="0.5"/>
<path d="M484,90 C498,93 512,94.5 522,95" fill="none" stroke="#5a5a5a" stroke-width="0.5"/>
<path d="M470,78 C476,80 482,81.5 488,82" fill="none" stroke="#5a5a5a" stroke-width="0.5"/>
<path d="M474,68 Q464,63 456,62" fill="none" stroke="#e8e8e8" stroke-width="0.45"/>
<path d="M474,69 Q464,68 455,70" fill="none" stroke="#e8e8e8" stroke-width="0.45"/>
<path d="M474,70 Q465,72 457,76" fill="none" stroke="#e8e8e8" stroke-width="0.45"/>
<path d="M473,67 Q466,60 460,57" fill="none" stroke="#e8e8e8" stroke-width="0.45"/>
<path d="M476,85 Q480,98 487,111" fill="none" stroke="#d8d8d8" stroke-width="0.45"/>
<path d="M478,86 Q485,99 492,112" fill="none" stroke="#d8d8d8" stroke-width="0.45"/>
<path d="M480,86 Q490,97 497,110" fill="none" stroke="#d8d8d8" stroke-width="0.45"/>
<path d="M474,86 Q476,97 481,108" fill="none" stroke="#d8d8d8" stroke-width="0.45"/>
<path d="M463,83 C462.5,80.5 463.5,79.5 465.5,79.4 C468.5,79.8 470,83 469.8,86 C469.3,88.5 467,89.2 465,88 C463.8,86.8 463.2,85 463,83 Z" fill="#f0b0b8" stroke="#b07078" stroke-width="0.4"/>
<path d="M531,36 C534,30 542,29 547,33 C553,38 553.5,50 551.5,56 C549.5,61.5 543,63.5 537,61 C532,58 530,50 530.5,44 Z" fill="#f2c4c8" stroke="#a07078" stroke-width="0.55"/>
<path d="M536,40 C539,35 545,36 547,41 C549,47 548,54 545,57 C541,59 537,56 536,51 Z" fill="#e6a8b0" stroke="none" stroke-width="0.8"/>
<path d="M528,56 C532,58 535,62 537,64 L530,66 Z" fill="#555" stroke="none" stroke-width="0.8"/>
<path d="M500.3,53 C501,48.5 507,46 514,45.5 C520,45 526,46.5 529,49 C531.5,51.5 531,56 528,58.5 C524,60.5 516,60.5 509,59.8 C503,59 500,56.5 500.3,53 Z" fill="#f3c4c8" stroke="#c88a90" stroke-width="0.55"/>
<path d="M520,46.5 C523,50 523.5,55 521,59" fill="none" stroke="#d8a0a6" stroke-width="0.4"/>
<path d="M511.7,58.5 C512.5,54 515,51.5 519,50.5 C520.5,50.2 521.5,50.4 522.4,50.6" fill="none" stroke="#1ea040" stroke-width="0.9"/>
<circle cx="524.2" cy="50.3" r="1.6" fill="#e8501e"/>
<path d="M495.0,64.8 C496.5,61.2 502,60.6 506.7,64.4 C503,68.2 497.8,68.4 495.0,64.8 Z" fill="#111" stroke="none" stroke-width="0.8"/>
<ellipse cx="500.6" cy="64.3" rx="2.6" ry="2.5" fill="#000"/>
<ellipse cx="499.6" cy="63.4" rx="0.9" ry="0.7" fill="#ddd"/>
<path d="M480.75,33.08 L485.5,29.75 L490.25,33.08 L485.5,36.4 Z" fill="#b0b0b0" stroke="#2a2a2a" stroke-width="0.45"/>
<path d="M480.75,33.08 L485.5,36.4 L485.5,40.67 L480.75,37.35 Z" fill="#6a6a6a" stroke="#2a2a2a" stroke-width="0.45"/>
<path d="M490.25,33.08 L485.5,36.4 L485.5,40.67 L490.25,37.35 Z" fill="#4a4a4a" stroke="#2a2a2a" stroke-width="0.45"/>
<path d="M487.5,40 L492.5,36.5 L497.5,40 L492.5,43.5 Z" fill="#b0b0b0" stroke="#2a2a2a" stroke-width="0.45"/>
<path d="M487.5,40 L492.5,43.5 L492.5,48 L487.5,44.5 Z" fill="#6a6a6a" stroke="#2a2a2a" stroke-width="0.45"/>
<path d="M497.5,40 L492.5,43.5 L492.5,48 L497.5,44.5 Z" fill="#4a4a4a" stroke="#2a2a2a" stroke-width="0.45"/>
<path d="M494.5,48.5 L497.5,50.5 L496.5,52 L493.5,50 Z" fill="#444"/>
<path d="M481,33.5 C477,29.5 473.5,29.5 471.5,33 C469.5,37 466,38.8 462.6,36.3" fill="none" stroke="#333" stroke-width="0.6"/>
<line x1="498.5" y1="48.5" x2="511" y2="58.5" stroke="#444" stroke-width="0.9"/>
<g transform="translate(560.7,22.3) rotate(145.1)"><line x1="0" y1="-1.4" x2="0" y2="1.4" stroke="#3a3a3a" stroke-width="0.8"/><line x1="0" y1="0" x2="4.26" y2="0" stroke="#3a3a3a" stroke-width="0.7"/><rect x="4.26" y="-1" width="23.42" height="2" fill="#9a9a9a" stroke="#3a3a3a" stroke-width="0.5"/><rect x="23.46" y="-0.6" width="4.22" height="1.2" fill="#c07030"/><line x1="27.68" y1="0" x2="35.48" y2="0" stroke="#3a3a3a" stroke-width="0.6"/></g>
<g transform="translate(466.1,58.3) rotate(-2.37)"><line x1="0" y1="-0.84" x2="0" y2="0.84" stroke="#3a3a3a" stroke-width="0.8"/><line x1="0" y1="0" x2="3.77" y2="0" stroke="#3a3a3a" stroke-width="0.7"/><rect x="3.77" y="-0.6" width="20.74" height="1.2" fill="#9a9a9a" stroke="#3a3a3a" stroke-width="0.5"/><line x1="24.51" y1="0" x2="31.43" y2="0" stroke="#3a3a3a" stroke-width="0.6"/></g>
<rect x="492.4" y="56.9" width="5" height="1.6" fill="#30b060"/>
<text x="508.2" y="67.8" font-size="8.3" fill="#1a1a1a" stroke="#1a1a1a" stroke-width="0.22">PVN</text>
<text x="529.2" y="57.3" font-size="8.3" fill="#1a1a1a" stroke="#1a1a1a" stroke-width="0.22">DMV</text>
<text x="467" y="78.3" font-size="8.3" fill="#22a84c" stroke="#22a84c" stroke-width="0.22">AAV-DIO-GCaM P6m</text>
<text x="500.6" y="132.2" font-size="9.2" fill="#1a1a1a" stroke="#1a1a1a" stroke-width="0.22">C57 mice</text>
<line x1="558" y1="45.8" x2="560" y2="45.8" stroke="#f08030" stroke-width="0.6"/>
<line x1="563" y1="45.8" x2="565.5" y2="45.8" stroke="#f08030" stroke-width="0.6"/>
<line x1="517.8" y1="57.3" x2="573.7" y2="29" stroke="#444" stroke-width="0.6" stroke-dasharray="2.2,1.6"/>
<line x1="512.6" y1="59" x2="573.7" y2="128.5" stroke="#444" stroke-width="0.6" stroke-dasharray="2.2,1.6"/>
<path d="M88,329.9 C85.88,329.9 82.7,329.72 79.9,329.9 C77.1,330.08 73.92,330.37 71.2,331 C68.48,331.63 65.97,332.53 63.6,333.7 C61.23,334.87 59,336.18 57,338 C55,339.82 53.13,342.23 51.6,344.6 C50.07,346.97 48.63,349.48 47.8,352.2 C46.97,354.92 46.68,358 46.6,360.9 C46.52,363.8 46.65,366.88 47.3,369.6 C47.95,372.32 49.05,375.03 50.5,377.2 C51.95,379.37 54,381.15 56,382.6 C58,384.05 59.97,385.1 62.5,385.9 C65.03,386.7 68.78,387.18 71.2,387.4 C73.62,387.62 75.2,387.37 77,387.2 C78.8,387.03 79.78,386.5 82,386.4 C84.22,386.3 87.53,386.6 90.3,386.6 C93.07,386.6 96.38,386.3 98.6,386.4 C100.82,386.5 101.8,387.03 103.6,387.2 C105.4,387.37 106.98,387.62 109.4,387.4 C111.82,387.18 115.57,386.7 118.1,385.9 C120.63,385.1 122.6,384.05 124.6,382.6 C126.6,381.15 128.65,379.37 130.1,377.2 C131.55,375.03 132.65,372.32 133.3,369.6 C133.95,366.88 134.08,363.8 134,360.9 C133.92,358 133.63,354.92 132.8,352.2 C131.97,349.48 130.53,346.97 129,344.6 C127.47,342.23 125.6,339.82 123.6,338 C121.6,336.18 119.37,334.87 117,333.7 C114.63,332.53 112.12,331.63 109.4,331 C106.68,330.37 103.5,330.08 100.7,329.9 C97.9,329.72 94.72,329.9 92.6,329.9 C90.48,329.9 90.12,329.9 88,329.9Z" fill="#fff" stroke="#8a8a8a" stroke-width="0.75"/>
<path d="M79,339.5 C70,341 63,345 60,351 C57,358 57.5,366 60,372 C62,376 65,378.5 68,380" fill="none" stroke="#8a8a8a" stroke-width="0.6"/>
<path d="M102.8,339.5 C111.8,341 118.8,345 121.8,351 C124.8,358 124.3,366 121.8,372 C119.8,376 116.8,378.5 113.8,380" fill="none" stroke="#8a8a8a" stroke-width="0.6"/>
<path d="M74,339 C80,336 86,336.5 89,339 C92,336.5 98,336 106,339" fill="none" stroke="#8a8a8a" stroke-width="0.6"/>
<path d="M68,345 C72,343 76,344 78,347 C76,351 71,352 68,349 Z" fill="#d8d8d8" stroke="#8a8a8a" stroke-width="0.45"/>
<path d="M113.8,345 C109.8,343 105.8,344 103.8,347 C105.8,351 110.8,352 113.8,349 Z" fill="#d8d8d8" stroke="#8a8a8a" stroke-width="0.45"/>
<path d="M76,342 C80,340 84,341 86,344 C84,348 80,352 78,356 C76,352 74,347 76,342 Z" fill="#fff" stroke="#8a8a8a" stroke-width="0.45"/>
<path d="M105.8,342 C101.8,340 97.8,341 95.8,344 C97.8,348 101.8,352 103.8,356 C105.8,352 107.8,347 105.8,342 Z" fill="#fff" stroke="#8a8a8a" stroke-width="0.45"/>
<path d="M65,355 C68,352 72,353 74,357 C76,362 74,368 70,371" fill="none" stroke="#8a8a8a" stroke-width="0.5"/>
<path d="M116.8,355 C113.8,352 109.8,353 107.8,357 C105.8,362 107.8,368 111.8,371" fill="none" stroke="#8a8a8a" stroke-width="0.5"/>
<path d="M73,360 C76,364 79,368 82,372" fill="none" stroke="#8a8a8a" stroke-width="0.45"/>
<path d="M108.8,360 C105.8,364 102.8,368 99.8,372" fill="none" stroke="#8a8a8a" stroke-width="0.45"/>
<path d="M82,374 C80,378 81,383 84,385 M100,374 C102,378 101,383 98,385" fill="none" stroke="#8a8a8a" stroke-width="0.45"/>
<path d="M89,375 L90.9,383.5" fill="none" stroke="#cfcfcf" stroke-width="0.6"/>
<path d="M124,366 C121,370 121,374 124,377 M127,367 C125,371 126,375 128,376" fill="none" stroke="#8a8a8a" stroke-width="0.4"/>
<path d="M88,344 C89,348 90,352 91,356 C92,352 93,348 94,344" fill="#e8e8e8" stroke="#8a8a8a" stroke-width="0.4"/>
<rect x="86.9" y="329.9" width="4" height="12.5" fill="#e4e4e4" stroke="#999" stroke-width="0.4"/>
<rect x="83.7" y="329.5" width="1.8" height="44.6" fill="#8c8c8c" stroke="#555" stroke-width="0.35"/>
<rect x="81.3" y="321" width="6.6" height="9" fill="#8a8a8a" stroke="#444" stroke-width="0.5"/>
<ellipse cx="84.6" cy="321.2" rx="3.3" ry="1.0" fill="#c8c8c8" stroke="#444" stroke-width="0.4"/>
<rect x="83.8" y="315.2" width="1.6" height="6" fill="#8a8a8a" stroke="#444" stroke-width="0.35"/>
<rect x="92.4" y="329.5" width="1.8" height="44.6" fill="#8c8c8c" stroke="#555" stroke-width="0.35"/>
<rect x="90" y="321" width="6.6" height="9" fill="#8a8a8a" stroke="#444" stroke-width="0.5"/>
<ellipse cx="93.3" cy="321.2" rx="3.3" ry="1.0" fill="#c8c8c8" stroke="#444" stroke-width="0.4"/>
<rect x="92.5" y="315.2" width="1.6" height="6" fill="#8a8a8a" stroke="#444" stroke-width="0.35"/>
<path d="M85.2,315.4 C84,310 78,307.8 65.3,307.8" fill="none" stroke="#555" stroke-width="0.6"/>
<path d="M93.8,315.4 C95,310 101,307.8 113.7,307.8" fill="none" stroke="#555" stroke-width="0.6"/>
<path d="M82.6,374.2 Q85,376.2 87.8,374.2" fill="none" stroke="#e8141e" stroke-width="1.3"/>
<path d="M91.1,374.2 Q93.5,376.2 96.2,374.2" fill="none" stroke="#e8141e" stroke-width="1.3"/>
<text x="98.8" y="320.6" font-size="9.2" fill="#1a1a1a" stroke="#1a1a1a" stroke-width="0.22">Morphine</text>
<text x="60.4" y="376.8" font-size="9.2" fill="#1a1a1a" stroke="#1a1a1a" stroke-width="0.22">PVN</text>
<text x="125.1" y="389.8" font-size="9.2" fill="#1a1a1a" stroke="#1a1a1a" stroke-width="0.22">C57 mice</text>
<line x1="41.3" y1="418.8" x2="156" y2="418.8" stroke="#1a1a1a" stroke-width="0.95"/>
<path d="M154,416.2 L161,418.8 L154,421.40000000000003 Z" fill="#111"/>
<line x1="74" y1="417" x2="74" y2="420.6" stroke="#1a1a1a" stroke-width="0.7"/>
<line x1="102.7" y1="417" x2="102.7" y2="420.6" stroke="#1a1a1a" stroke-width="0.7"/>
<line x1="145.6" y1="417" x2="145.6" y2="420.6" stroke="#1a1a1a" stroke-width="0.7"/>
<rect x="61.9" y="417.2" width="3.2" height="3.2" fill="#fff" stroke="none" stroke-width="0.8"/>
<line x1="60.4" y1="421.6" x2="63.2" y2="416.2" stroke="#1a1a1a" stroke-width="0.9"/>
<line x1="63.3" y1="421.6" x2="66.1" y2="416.2" stroke="#1a1a1a" stroke-width="0.9"/>
<rect x="125.2" y="417.2" width="3.2" height="3.2" fill="#fff" stroke="none" stroke-width="0.8"/>
<line x1="123.7" y1="421.6" x2="126.5" y2="416.2" stroke="#1a1a1a" stroke-width="0.9"/>
<line x1="126.6" y1="421.6" x2="129.4" y2="416.2" stroke="#1a1a1a" stroke-width="0.9"/>
<line x1="41.3" y1="418.8" x2="41.3" y2="421" stroke="#1a1a1a" stroke-width="0.8"/>
<line x1="41.3" y1="410.8" x2="41.3" y2="414.2" stroke="#111" stroke-width="1.3"/>
<path d="M39.1,413.7 L43.5,413.7 L41.3,418.3Z" fill="#111"/>
<line x1="102.7" y1="411.5" x2="102.7" y2="414.2" stroke="#e8141e" stroke-width="1.3"/>
<path d="M100.5,413.7 L104.9,413.7 L102.7,418.3Z" fill="#e8141e"/>
<text x="34.8" y="431.1" font-size="9.2" fill="#1a1a1a" stroke="#1a1a1a" stroke-width="0.22">-7 D</text>
<text x="64.9" y="431.1" font-size="9.2" fill="#1a1a1a" stroke="#1a1a1a" stroke-width="0.22">-2 h</text>
<text x="96.1" y="431.1" font-size="9.2" fill="#1a1a1a" stroke="#1a1a1a" stroke-width="0.22">0 h</text>
<text x="137.4" y="431.1" font-size="9.2" fill="#1a1a1a" stroke="#1a1a1a" stroke-width="0.22">10 h</text>
<text x="83.9" y="417.4" font-size="9.2" fill="#1a1a1a" stroke="#1a1a1a" stroke-width="0.22">BL</text>
<text x="32" y="411.4" font-size="9.2" fill="#1a1a1a" stroke="#1a1a1a" stroke-width="0.22" transform="rotate(-9.5 32 411.4)">Cannula implantation</text>
<text x="101" y="409.6" font-size="9.2" fill="#1a1a1a" stroke="#1a1a1a" stroke-width="0.22" transform="rotate(-11 101 409.6)">Morphine</text>
<ellipse cx="82" cy="526.5" rx="40" ry="7.5" fill="url(#gsh)"/>
<path d="M120,519 C128,517 136,516 141.5,517.5 C144,519 142.5,522.5 138,523 C132,523.5 126,523.5 121,524 Z" fill="#eab0b0" stroke="#b87a80" stroke-width="0.45"/>
<path d="M124,521 C130,520 136,520 140,520" fill="none" stroke="#c89098" stroke-width="0.35"/>
<path d="M41.6,506.6 C43,503 46,499.5 49.6,497.1 C52,495.3 54.5,494.3 56.9,493.5 C59.5,492.4 62,491.3 64.2,490.5 C66.5,489.6 68.5,489.1 70,489.1 C73,489.5 76,491 78.8,492.7 C83,492 87,491 90.5,490.5 C95,489.5 99,488.6 102.2,488.4 C106,488.2 109,488.5 110.9,489.1 C114,490 116.5,491 118.2,492.7 C120.5,495 121.8,497.5 122.6,500 C123.8,503 124.6,506 124.8,508.8 C125,512 125,515 124.8,517.6 C124.3,520 123.6,522 122.6,523.4 C121,525 119.5,526 118.2,526.3 C114,526.8 111,526.6 108,526.3 C103,525.5 98,524.5 93.4,523.4 C90,523 86.5,522.7 83.2,522.7 C80.5,523.5 78,524.5 75.9,524.9 C74,523.5 72.5,522 71.5,520.5 C69,518.5 66.5,516.5 64.2,514.6 C61.5,513.4 59,512.5 56.9,511.7 C54,511 51.5,510.6 49.6,510.3 C47,509.8 45,509.3 43.8,508.8 C42.8,508.2 42,507.5 41.6,506.6 Z" fill="url(#gbody)" stroke="#333" stroke-width="0.55"/>
<path d="M104,503 C112,505 118,510 118.5,517 C118,522 114,525 108,526" fill="none" stroke="#444" stroke-width="0.5"/>
<path d="M75,513 C78,517 80,521 80,523" fill="none" stroke="#444" stroke-width="0.5"/>
<path d="M66,500 C75,505 90,506 104,503" fill="none" stroke="#5a5a5a" stroke-width="0.45"/>
<path d="M70,515 C72,519 73,523 72,526.5 L78,526.5 C79,523 79.5,519 78.5,516 Z" fill="#5e5e5e" stroke="#333" stroke-width="0.45"/>
<ellipse cx="63.5" cy="526.8" rx="3.2" ry="1.8" fill="#f2c4c4" stroke="#b07a80" stroke-width="0.4"/>
<ellipse cx="67.5" cy="528.8" rx="3.2" ry="1.8" fill="#f2c4c4" stroke="#b07a80" stroke-width="0.4"/>
<ellipse cx="72.5" cy="529.4" rx="3.2" ry="1.8" fill="#f2c4c4" stroke="#b07a80" stroke-width="0.4"/>
<ellipse cx="77.5" cy="529" rx="3.2" ry="1.8" fill="#f2c4c4" stroke="#b07a80" stroke-width="0.4"/>
<ellipse cx="108" cy="528" rx="2.6" ry="1.4" fill="#f0c0c0" stroke="#b07a80" stroke-width="0.4"/>
<ellipse cx="112.5" cy="529.2" rx="2.6" ry="1.4" fill="#f0c0c0" stroke="#b07a80" stroke-width="0.4"/>
<ellipse cx="116.5" cy="528.2" rx="2.6" ry="1.4" fill="#f0c0c0" stroke="#b07a80" stroke-width="0.4"/>
<ellipse cx="60.5" cy="494.8" rx="5.2" ry="2.6" fill="#f2bcc4" transform="rotate(-15 60.5 494.8)"/>
<path d="M68.5,489 C68,486 71,485 73.5,486.5 C76.5,488.5 76.5,494 74.5,497 C72,498.5 69,496.5 68.5,493 Z" fill="#f2c4c8" stroke="#a07078" stroke-width="0.45"/>
<path d="M70,489.5 C71.5,488 73.5,489 74,491.5 C74.5,494 73,496 71.5,495 Z" fill="#e4a4ac" stroke="none" stroke-width="0.8"/>
<ellipse cx="55.4" cy="499.3" rx="1.7" ry="1.1" fill="#111"/>
<ellipse cx="42.3" cy="506.9" rx="1.4" ry="1.6" fill="#f0a8b4"/>
<line x1="42" y1="505" x2="36" y2="497" stroke="#aaa" stroke-width="0.35"/>
<line x1="42" y1="505" x2="35" y2="500" stroke="#aaa" stroke-width="0.35"/>
<line x1="42" y1="505" x2="36" y2="504" stroke="#aaa" stroke-width="0.35"/>
<line x1="42" y1="505" x2="38" y2="496.5" stroke="#aaa" stroke-width="0.35"/>
<line x1="47" y1="510" x2="48" y2="514" stroke="#aaa" stroke-width="0.35"/>
<line x1="47" y1="510" x2="50" y2="515.5" stroke="#aaa" stroke-width="0.35"/>
<line x1="47" y1="510" x2="52" y2="516" stroke="#aaa" stroke-width="0.35"/>
<line x1="47" y1="510" x2="54" y2="515" stroke="#aaa" stroke-width="0.35"/>
<path d="M62,494.2 L66.4,476.7" fill="none" stroke="#9aa0d0" stroke-width="2.4"/>
<path d="M62,494.2 L66.4,476.7" fill="none" stroke="#d4d8f0" stroke-width="1.0"/>
<path d="M66.4,476.7 L68.5,476.7" fill="none" stroke="#333" stroke-width="0.6"/>
<text x="76.6" y="480.3" font-size="9.2" fill="#1a1a1a" stroke="#1a1a1a" stroke-width="0.22">Naloxone</text>
<g transform="translate(98.5,521.8) rotate(28)"><line x1="0" y1="0" x2="10" y2="0" stroke="#6a7a9a" stroke-width="0.6"/><rect x="10" y="-1.6" width="15" height="3.2" fill="#c8d4e8" stroke="#4a5a7a" stroke-width="0.4"/><rect x="10.5" y="-1.1" width="9" height="2.2" fill="#4a7ec8"/><rect x="25" y="-2.8" width="1.3" height="5.6" fill="#8a9ab8" stroke="#4a5a7a" stroke-width="0.3"/><rect x="26.3" y="-0.8" width="4" height="1.6" fill="#b0bcd0" stroke="#4a5a7a" stroke-width="0.3"/><rect x="30.3" y="-2" width="0.9" height="4" fill="#8a9ab8"/></g>
<text x="129.5" y="535.4" font-size="9.2" fill="#1a1a1a" stroke="#1a1a1a" stroke-width="0.22">Morphine</text>
<text x="38.6" y="549.9" font-size="9.2" fill="#1a1a1a" stroke="#1a1a1a" stroke-width="0.22">C57 mice</text>
<line x1="40.3" y1="586.9" x2="163" y2="586.9" stroke="#1a1a1a" stroke-width="0.95"/>
<path d="M161.5,584.3 L169.5,586.9 L161.5,589.5 Z" fill="#111"/>
<line x1="68.1" y1="585.1" x2="68.1" y2="588.7" stroke="#1a1a1a" stroke-width="0.7"/>
<line x1="96.8" y1="585.1" x2="96.8" y2="588.7" stroke="#1a1a1a" stroke-width="0.7"/>
<line x1="125.7" y1="585.1" x2="125.7" y2="588.7" stroke="#1a1a1a" stroke-width="0.7"/>
<line x1="153.1" y1="585.1" x2="153.1" y2="588.7" stroke="#1a1a1a" stroke-width="0.7"/>
<rect x="55.4" y="585.3" width="3.2" height="3.2" fill="#fff" stroke="none" stroke-width="0.8"/>
<line x1="53.9" y1="589.7" x2="56.7" y2="584.3" stroke="#1a1a1a" stroke-width="0.9"/>
<line x1="56.8" y1="589.7" x2="59.6" y2="584.3" stroke="#1a1a1a" stroke-width="0.9"/>
<rect x="137.2" y="585.3" width="3.2" height="3.2" fill="#fff" stroke="none" stroke-width="0.8"/>
<line x1="135.7" y1="589.7" x2="138.5" y2="584.3" stroke="#1a1a1a" stroke-width="0.9"/>
<line x1="138.6" y1="589.7" x2="141.4" y2="584.3" stroke="#1a1a1a" stroke-width="0.9"/>
<line x1="40.3" y1="586.9" x2="40.3" y2="589.1" stroke="#1a1a1a" stroke-width="0.8"/>
<line x1="40.3" y1="577.5" x2="40.3" y2="582.3" stroke="#111" stroke-width="1.3"/>
<path d="M38.1,581.8 L42.5,581.8 L40.3,586.4Z" fill="#111"/>
<line x1="96.8" y1="578.6" x2="96.8" y2="582.3" stroke="#e8141e" stroke-width="1.3"/>
<path d="M94.6,581.8 L99,581.8 L96.8,586.4Z" fill="#e8141e"/>
<line x1="125.7" y1="578.2" x2="125.7" y2="582.3" stroke="#0a8a3a" stroke-width="1.3"/>
<path d="M123.5,581.8 L127.9,581.8 L125.7,586.4Z" fill="#0a8a3a"/>
<text x="28.3" y="597" font-size="9.2" fill="#1a1a1a" stroke="#1a1a1a" stroke-width="0.22">-7 D</text>
<text x="60" y="597" font-size="9.2" fill="#1a1a1a" stroke="#1a1a1a" stroke-width="0.22">-2 h</text>
<text x="90.7" y="597" font-size="9.2" fill="#1a1a1a" stroke="#1a1a1a" stroke-width="0.22">0 h</text>
<text x="119.6" y="597" font-size="9.2" fill="#1a1a1a" stroke="#1a1a1a" stroke-width="0.22">2 h</text>
<text x="147.6" y="597" font-size="9.2" fill="#1a1a1a" stroke="#1a1a1a" stroke-width="0.22">10 h</text>
<text x="75.4" y="584.3" font-size="9.2" fill="#1a1a1a" stroke="#1a1a1a" stroke-width="0.22">BL</text>
<text x="38.5" y="576.5" font-size="9.2" fill="#1a1a1a" stroke="#1a1a1a" stroke-width="0.22" transform="rotate(-19 38.5 576.5)">Cannula implantation</text>
<text x="91.5" y="577.2" font-size="9.2" fill="#1a1a1a" stroke="#1a1a1a" stroke-width="0.22" transform="rotate(-22 91.5 577.2)">Morphine (i.p.)</text>
<text x="122.5" y="575.8" font-size="9.2" fill="#1a1a1a" stroke="#1a1a1a" stroke-width="0.22" transform="rotate(-22 122.5 575.8)">Naloxone</text>
<text x="194.3" y="172.5" font-size="9.2" fill="#1a1a1a" stroke="#1a1a1a" stroke-width="0.22">Pre-morphine</text>
<text x="355.3" y="172.7" font-size="9.2" fill="#1a1a1a" stroke="#1a1a1a" stroke-width="0.22">Post-morphine</text>
<polyline points="194.5,203.15 195.1,202.05 195.7,201.7 196.3,199.33 196.9,200.1 197.5,200.72 198.1,200.44 198.7,199.01 199.3,201.34 199.9,200.96 200.5,202.1 201.1,202.37 201.7,203 202.3,194.78 202.9,181.87 203.5,187.77 204.1,192.14 204.7,194.61 205.3,196.47 205.9,197.94 206.5,200.24 207.1,201.44 207.7,200.61 208.3,201.86 208.9,201.88 209.5,202.72 210.1,202.32 210.7,201.97 211.3,202.44 211.9,201.99 212.5,203.14 213.1,201.6 213.7,202.09 214.3,200.79 214.9,200.43 215.5,200.63 216.1,201.86 216.7,202.35 217.3,202.21 217.9,200.44 218.5,200.26 219.1,201.01 219.7,199.95 220.3,199.63 220.9,199.73 221.5,196.54 222.1,198.31 222.7,200.46 223.3,201.14 223.9,201.11 224.5,202.79 225.1,201.92 225.7,201.38 226.3,199.06 226.9,183.35 227.5,186.76 228.1,192.72 228.7,196.25 229.3,195.23 229.9,197.78 230.5,200.97 231.1,200.66 231.7,199.14 232.3,185.54 232.9,190.48 233.5,194.58 234.1,198.07 234.7,199.81 235.3,199.87 235.9,201.16 236.5,201.73 237.1,197.16 237.7,199.14 238.3,199.86 238.9,199.56 239.5,200.85 240.1,202.3 240.7,202.89 241.3,201.45 241.9,203.43 242.5,201.83 243.1,203.02 243.7,202.07 244.3,201.98 244.9,202.05 245.5,202.78 246.1,203.2 246.7,202.77 247.3,201.29 247.9,201.83 248.5,201.8 249.1,201.41 249.7,201.9 250.3,202.06 250.9,202.03 251.5,202.32 252.1,202.35 252.7,199.94 253.3,201.91 253.9,202.19 254.5,202.17 255.1,201.55 255.7,202.2 256.3,202.7 256.9,202.65 257.5,199.54 258.1,198.55 258.7,200.64 259.3,200.35 259.9,201.6 260.5,201.61 261.1,201.69 261.7,199.31 262.3,200.29 262.9,201.47 263.5,201.57 264.1,202.91 264.7,203.84 265.3,203.31 265.9,204.33 266.5,202.93 267.1,203.48 267.7,202.4 268.3,202.14 268.9,202.73 269.5,202.58 270.1,203.02 270.7,203.58 271.3,200.77 271.9,200.09 272.5,202.72 273.1,202.83 273.7,203.24 274.3,201.48 274.9,200.55 275.5,202.59 276.1,202.2 276.7,201.89 277.3,202.67 277.9,203.18 278.5,202.73 279.1,202.96 279.7,202.01 280.3,202.27 280.9,202.67 281.5,203.21 282.1,203.73 282.7,203.46 283.3,202.27 283.9,203.19 284.5,202.64 285.1,202.78 285.7,200.91 286.3,199.48 286.9,201.47 287.5,202.23 288.1,200.63 288.7,199.11 289.3,200.91 289.9,200.21 290.5,201.06 291.1,201.42 291.7,201.15 292.3,201.09 292.9,199.5 293.5,199.3 294.1,201.04 294.7,200.95 295.3,201.59 295.9,200.72 296.5,201.84 297.1,202.97 297.7,190.81 298.3,188.66 298.9,195 299.5,198.77 300.1,194.2 300.7,194.97 301.3,198.26 301.9,199.99 302.5,199.98 303.1,201.33 303.7,202.22 304.3,201.57 304.9,201.75 305.5,200.91 306.1,200.64 306.7,200.48 307.3,197.74 307.9,188.31 308.5,193.95 309.1,196.73 309.7,198.76 310.3,199.47 310.9,197.37 311.5,198.11 312.1,198.78 312.7,192.94 313.3,181.09 313.9,188.73 314.5,193.86 315.1,197.81 315.7,199.19 316.3,199.01 316.9,201.08 317.5,200.98 318.1,200.28 318.7,201.23" stroke="#7c7c7c" stroke-width="0.9" fill="none" stroke-linejoin="round"/>
<polyline points="194.5,224.51 195.1,219 195.7,213.42 196.3,217.13 196.9,220.04 197.5,221.81 198.1,222.51 198.7,220.71 199.3,223.43 199.9,223.39 200.5,223.56 201.1,223.14 201.7,222.97 202.3,221.56 202.9,222.23 203.5,222.55 204.1,220.06 204.7,219.54 205.3,215.53 205.9,217.49 206.5,220.06 207.1,222.26 207.7,222.16 208.3,221.84 208.9,222.36 209.5,221.13 210.1,220.36 210.7,221.14 211.3,221.18 211.9,220.13 212.5,219.48 213.1,214.51 213.7,216.07 214.3,219.93 214.9,222 215.5,223.75 216.1,223.32 216.7,222.42 217.3,223.39 217.9,221.58 218.5,221.77 219.1,221.96 219.7,221.25 220.3,217.92 220.9,218.62 221.5,222.63 222.1,223.67 222.7,223.65 223.3,225.52 223.9,223.84 224.5,224.26 225.1,225.29 225.7,226.52 226.3,226.63 226.9,226.51 227.5,225.78 228.1,226.8 228.7,223.11 229.3,208.41 229.9,213.96 230.5,213.83 231.1,219.66 231.7,220.67 232.3,220.05 232.9,223.23 233.5,224.43 234.1,224.74 234.7,223.93 235.3,225.24 235.9,224.23 236.5,221.18 237.1,222.21 237.7,223.43 238.3,222.93 238.9,223.56 239.5,222.29 240.1,223.7 240.7,225.24 241.3,222.8 241.9,212.2 242.5,212.15 243.1,219.14 243.7,220.03 244.3,221.79 244.9,222.58 245.5,222.98 246.1,216.74 246.7,207.7 247.3,216.72 247.9,220.74 248.5,221.34 249.1,222.8 249.7,224.16 250.3,224.11 250.9,223.81 251.5,223.35 252.1,223.15 252.7,223.36 253.3,222.98 253.9,221.92 254.5,221.71 255.1,222.94 255.7,224.25 256.3,224.81 256.9,224.23 257.5,225.47 258.1,224.78 258.7,225.25 259.3,225.08 259.9,224.51 260.5,225.04 261.1,222.52 261.7,221.85 262.3,222.22 262.9,223.81 263.5,225.48 264.1,222.68 264.7,217.64 265.3,216.63 265.9,219.06 266.5,221.21 267.1,221.5 267.7,221.7 268.3,223.22 268.9,224.36 269.5,224.89 270.1,223.92 270.7,221.72 271.3,222.05 271.9,223.09 272.5,223.74 273.1,223.53 273.7,223.62 274.3,224.17 274.9,224.47 275.5,224.77 276.1,223.07 276.7,223.31 277.3,224.28 277.9,224.59 278.5,225.7 279.1,224.49 279.7,221.51 280.3,221.08 280.9,224.21 281.5,224.17 282.1,224.34 282.7,222.53 283.3,224.28 283.9,223.13 284.5,221.59 285.1,222.23 285.7,223.49 286.3,222.81 286.9,222.68 287.5,224.66 288.1,223.55 288.7,223.06 289.3,222.72 289.9,222.17 290.5,222.18 291.1,225.03 291.7,223.88 292.3,224.84 292.9,224.89 293.5,224.08 294.1,224.01 294.7,226.12 295.3,226.18 295.9,225 296.5,223.72 297.1,225.81 297.7,224.37 298.3,223.09 298.9,221.78 299.5,221.9 300.1,222.32 300.7,222.16 301.3,223.9 301.9,224.85 302.5,223.59 303.1,222.68 303.7,223.6 304.3,224 304.9,216.36 305.5,216.05 306.1,220.84 306.7,222.06 307.3,222.27 307.9,222.96 308.5,220.92 309.1,215.42 309.7,218.37 310.3,219.71 310.9,221 311.5,222.19 312.1,221.98 312.7,221.27 313.3,221.51 313.9,215.9 314.5,214.18 315.1,218.79 315.7,217.88 316.3,219.53 316.9,221.37 317.5,221.99 318.1,222.22 318.7,222.96" stroke="#7c7c7c" stroke-width="0.9" fill="none" stroke-linejoin="round"/>
<polyline points="194.5,253.71 195.1,253.08 195.7,251.71 196.3,252.52 196.9,251.46 197.5,251.62 198.1,252.61 198.7,253.04 199.3,251.99 199.9,251.86 200.5,251.99 201.1,251.79 201.7,252.6 202.3,252.64 202.9,251.92 203.5,251.62 204.1,252.44 204.7,251.34 205.3,251.44 205.9,252.37 206.5,252.79 207.1,252.34 207.7,252.16 208.3,252.42 208.9,250.67 209.5,242.97 210.1,244.11 210.7,247.33 211.3,249.31 211.9,251.46 212.5,251.95 213.1,252.44 213.7,253.23 214.3,253.07 214.9,255.25 215.5,254.39 216.1,254.54 216.7,253.69 217.3,253.45 217.9,252.97 218.5,253.57 219.1,252.16 219.7,252.49 220.3,252.3 220.9,253.13 221.5,252.37 222.1,253.93 222.7,254.09 223.3,245.33 223.9,245.86 224.5,248.04 225.1,239.23 225.7,233.97 226.3,241.12 226.9,245.89 227.5,248.92 228.1,250.52 228.7,251.22 229.3,252.46 229.9,252.46 230.5,252 231.1,251.98 231.7,251.6 232.3,252.7 232.9,249.25 233.5,246.91 234.1,247.62 234.7,250.09 235.3,251.03 235.9,251.66 236.5,251.69 237.1,251.04 237.7,251.9 238.3,251.74 238.9,252.94 239.5,251.49 240.1,250.34 240.7,251.29 241.3,252.35 241.9,253.01 242.5,252.78 243.1,253.42 243.7,252.79 244.3,252.46 244.9,253.75 245.5,253.02 246.1,253.3 246.7,254.16 247.3,253.5 247.9,253.76 248.5,253.06 249.1,253.04 249.7,254.48 250.3,254.43 250.9,254.12 251.5,253.76 252.1,252.86 252.7,252.79 253.3,246.75 253.9,247.53 254.5,249.59 255.1,251.23 255.7,252.43 256.3,253.68 256.9,254.26 257.5,255.32 258.1,255.4 258.7,253.88 259.3,253.56 259.9,252.39 260.5,253.63 261.1,251.99 261.7,252.14 262.3,250.99 262.9,252.71 263.5,252.71 264.1,253.07 264.7,251.73 265.3,253.04 265.9,253.43 266.5,252.63 267.1,252.51 267.7,252.99 268.3,253.21 268.9,254 269.5,254.75 270.1,254.37 270.7,253.89 271.3,252.66 271.9,253.47 272.5,253.99 273.1,252.95 273.7,253.76 274.3,253.44 274.9,252.7 275.5,252.76 276.1,253.02 276.7,252.06 277.3,251.86 277.9,251.53 278.5,244.69 279.1,227.61 279.7,235.61 280.3,236.96 280.9,237.83 281.5,242.52 282.1,246.92 282.7,247.5 283.3,249.56 283.9,250.59 284.5,252.78 285.1,253.05 285.7,253.06 286.3,253.57 286.9,251.6 287.5,252.5 288.1,254.63 288.7,252.97 289.3,254.29 289.9,254.2 290.5,253.65 291.1,253.72 291.7,252.72 292.3,254.23 292.9,252.63 293.5,253.29 294.1,253.65 294.7,252.6 295.3,251.73 295.9,250.96 296.5,252.51 297.1,253.18 297.7,253.09 298.3,252.34 298.9,252.3 299.5,252.15 300.1,252.39 300.7,253.82 301.3,253.63 301.9,253.19 302.5,253.46 303.1,253.92 303.7,253.45 304.3,251.62 304.9,253.18 305.5,252.18 306.1,249.2 306.7,250.03 307.3,250.6 307.9,251.95 308.5,252.32 309.1,254.12 309.7,252.45 310.3,251.71 310.9,251.64 311.5,251.59 312.1,251.81 312.7,251.08 313.3,252.08 313.9,253.02 314.5,250.14 315.1,250.82 315.7,252.38 316.3,253.43 316.9,252.92 317.5,254.47 318.1,253.71 318.7,253.03" stroke="#7c7c7c" stroke-width="0.9" fill="none" stroke-linejoin="round"/>
<polyline points="194.5,281.91 195.1,281.64 195.7,282.14 196.3,282.32 196.9,282.23 197.5,281.9 198.1,282.19 198.7,283.1 199.3,281.88 199.9,282.2 200.5,282.58 201.1,281.1 201.7,281.87 202.3,281 202.9,281.13 203.5,281.07 204.1,281.74 204.7,281.5 205.3,281.86 205.9,282.22 206.5,272.64 207.1,269.4 207.7,274.03 208.3,274.9 208.9,278.64 209.5,280.33 210.1,280.32 210.7,281.13 211.3,281.27 211.9,280.84 212.5,281.29 213.1,281.19 213.7,281.02 214.3,281.69 214.9,281.12 215.5,282.07 216.1,282.35 216.7,282.03 217.3,280.48 217.9,280.84 218.5,282.27 219.1,281.29 219.7,281.55 220.3,280.42 220.9,281.44 221.5,281.21 222.1,281.08 222.7,280.69 223.3,281.21 223.9,280.98 224.5,281.54 225.1,281.89 225.7,282.07 226.3,282.24 226.9,281.74 227.5,282.56 228.1,281.19 228.7,280.2 229.3,280.79 229.9,282.23 230.5,282.79 231.1,282.92 231.7,283.5 232.3,282.35 232.9,282.98 233.5,282.97 234.1,283.41 234.7,276.63 235.3,276.96 235.9,279.66 236.5,280.99 237.1,280.34 237.7,280.99 238.3,282.63 238.9,282.41 239.5,282.96 240.1,282.04 240.7,282.23 241.3,281.59 241.9,282.8 242.5,282 243.1,283 243.7,282.72 244.3,282.68 244.9,283.16 245.5,283.32 246.1,282.13 246.7,281.41 247.3,282.24 247.9,282.15 248.5,282.11 249.1,281.8 249.7,282.39 250.3,282.58 250.9,282.03 251.5,282.43 252.1,282.14 252.7,282.12 253.3,281.3 253.9,281.61 254.5,282.54 255.1,281.72 255.7,283.07 256.3,282.7 256.9,282.06 257.5,281.83 258.1,282.59 258.7,282.22 259.3,278.43 259.9,259.76 260.5,260.21 261.1,263.45 261.7,266.61 262.3,269.61 262.9,270.51 263.5,273.23 264.1,274.3 264.7,274.88 265.3,274.73 265.9,276.02 266.5,277.24 267.1,276.89 267.7,277.5 268.3,279.01 268.9,278.86 269.5,279.54 270.1,279.16 270.7,280.41 271.3,279.11 271.9,279.87 272.5,279.21 273.1,279.94 273.7,279.89 274.3,280.21 274.9,280.98 275.5,280.9 276.1,281.39 276.7,281.05 277.3,281.03 277.9,280.87 278.5,281.43 279.1,281.17 279.7,281.14 280.3,271.61 280.9,263.83 281.5,270.79 282.1,274.03 282.7,275.43 283.3,276.78 283.9,279.99 284.5,279.38 285.1,279.34 285.7,280.86 286.3,280.18 286.9,280.52 287.5,281.23 288.1,281.32 288.7,282.02 289.3,281.83 289.9,281.48 290.5,281.74 291.1,282.4 291.7,281.15 292.3,281.64 292.9,280.7 293.5,282.65 294.1,283.11 294.7,282.35 295.3,282.86 295.9,283.59 296.5,282.71 297.1,283.3 297.7,283.36 298.3,283.33 298.9,281.81 299.5,282.44 300.1,282.04 300.7,282.16 301.3,282.11 301.9,283.74 302.5,283.53 303.1,281.66 303.7,280.68 304.3,281.65 304.9,281.1 305.5,280.8 306.1,281.1 306.7,281.15 307.3,280.93 307.9,277.85 308.5,279.61 309.1,278.61 309.7,279.42 310.3,281.45 310.9,283.04 311.5,283.19 312.1,282.74 312.7,283.63 313.3,282.2 313.9,283.07 314.5,282.99 315.1,283.29 315.7,283.19 316.3,282.33 316.9,283.44 317.5,282.98 318.1,281.57 318.7,281.97" stroke="#7c7c7c" stroke-width="0.9" fill="none" stroke-linejoin="round"/>
<polyline points="354.9,199.16 355.5,199.4 356.1,198.94 356.7,199.76 357.3,198.28 357.9,199.48 358.5,200.49 359.1,199.84 359.7,200.75 360.3,197.54 360.9,198.74 361.5,199.21 362.1,199.97 362.7,200.4 363.3,199.65 363.9,198.69 364.5,198.24 365.1,197.28 365.7,198.72 366.3,199.04 366.9,198.36 367.5,195.06 368.1,194.79 368.7,197.56 369.3,199.66 369.9,200.48 370.5,200.68 371.1,201.17 371.7,201.79 372.3,200.92 372.9,201.47 373.5,201.59 374.1,201.78 374.7,199.4 375.3,192.82 375.9,196.02 376.5,198.93 377.1,200.07 377.7,200.6 378.3,200.74 378.9,201.06 379.5,201.37 380.1,192.85 380.7,180.41 381.3,189.87 381.9,193.77 382.5,195.74 383.1,197.74 383.7,199.35 384.3,200.08 384.9,199.71 385.5,199.99 386.1,198.86 386.7,199.68 387.3,199.87 387.9,200.42 388.5,199.04 389.1,201.23 389.7,200.28 390.3,200.33 390.9,201.56 391.5,201.65 392.1,201.45 392.7,199.96 393.3,200.96 393.9,199.86 394.5,197.76 395.1,198.32 395.7,199.12 396.3,199.84 396.9,197.66 397.5,198.39 398.1,198.64 398.7,199.18 399.3,199.52 399.9,198.93 400.5,199.65 401.1,200.74 401.7,199.09 402.3,200.73 402.9,199.74 403.5,200.28 404.1,199.79 404.7,198.63 405.3,198.83 405.9,198.91 406.5,199.79 407.1,199.67 407.7,199.65 408.3,199.38 408.9,199.13 409.5,198.6 410.1,199.89 410.7,200.57 411.3,199.94 411.9,199.6 412.5,199.45 413.1,200.28 413.7,200.62 414.3,200.02 414.9,199.29 415.5,198.3 416.1,199.09 416.7,199.49 417.3,199.37 417.9,199.49 418.5,199.13 419.1,199.18 419.7,199.41 420.3,198.66 420.9,199.59 421.5,198.44 422.1,198.54 422.7,198.83 423.3,198.54 423.9,199.82 424.5,199.38 425.1,199.88 425.7,198.79 426.3,199.56 426.9,199.48 427.5,199.7 428.1,199.66 428.7,199.05 429.3,199.23 429.9,196.77 430.5,198.13 431.1,198.77 431.7,199.54 432.3,198.9 432.9,198.44 433.5,197.02 434.1,196.79 434.7,198.06 435.3,199.27 435.9,199.17 436.5,199.84 437.1,198.89 437.7,197.99 438.3,196.12 438.9,197.04 439.5,198.59 440.1,199.94 440.7,198.37 441.3,199.08 441.9,199.05 442.5,199.92 443.1,199.57 443.7,198.88 444.3,198.63 444.9,200.29 445.5,200.66 446.1,195.44 446.7,196.52 447.3,197.49 447.9,199.33 448.5,198.49 449.1,198.91 449.7,199.04 450.3,199.15 450.9,199.62 451.5,199.49 452.1,197.03 452.7,196.61 453.3,198.68 453.9,199.45 454.5,200.26 455.1,200.25 455.7,198.9 456.3,199.27 456.9,199.87 457.5,199.4 458.1,201.01 458.7,200.6 459.3,200.07 459.9,199.41 460.5,199.39 461.1,199.95 461.7,199.68 462.3,198.63 462.9,198.77 463.5,198.46 464.1,199.57 464.7,200.16 465.3,200.35 465.9,199.58 466.5,199.85 467.1,200.52 467.7,199.55 468.3,196.47 468.9,198.21 469.5,198.49 470.1,199.33 470.7,200.2 471.3,200.58 471.9,200.42 472.5,199.47 473.1,199.51 473.7,198.98 474.3,199.87 474.9,198.63 475.5,199.07 476.1,199.52 476.7,198.94 477.3,199.8 477.9,200.32" stroke="#111" stroke-width="0.85" fill="none" stroke-linejoin="round"/>
<polyline points="355,227.6 355.6,227.32 356.2,228.14 356.8,228.72 357.4,227.3 358,227.01 358.6,228.07 359.2,229 359.8,227.64 360.4,228.61 361,221.82 361.6,218.09 362.2,224.6 362.8,224.63 363.4,228.04 364,229.52 364.6,229.9 365.2,229.13 365.8,228.97 366.4,230.01 367,228.98 367.6,227.93 368.2,227.91 368.8,225.03 369.4,227.45 370,228.06 370.6,227.21 371.2,228.4 371.8,228.23 372.4,227.72 373,229.19 373.6,228.57 374.2,228.84 374.8,228.08 375.4,227.34 376,228.29 376.6,228.57 377.2,228.66 377.8,228.9 378.4,229.1 379,227.63 379.6,226.56 380.2,228.12 380.8,227.5 381.4,226.59 382,228.01 382.6,227.73 383.2,228.17 383.8,228.92 384.4,230.24 385,229.84 385.6,229.78 386.2,228.8 386.8,229.64 387.4,228.37 388,229.15 388.6,228.26 389.2,228.9 389.8,228.88 390.4,227.19 391,227.08 391.6,227.73 392.2,226.72 392.8,228.76 393.4,227.99 394,227.13 394.6,226.16 395.2,227.31 395.8,227.5 396.4,226.64 397,226.96 397.6,227.67 398.2,226.95 398.8,228.43 399.4,228.63 400,229.19 400.6,228.43 401.2,228.47 401.8,228.34 402.4,228.52 403,227.86 403.6,228.81 404.2,227.88 404.8,227.54 405.4,227.18 406,227.64 406.6,228.13 407.2,222.11 407.8,207.71 408.4,219.3 409,224 409.6,225.74 410.2,227.58 410.8,226.56 411.4,226.52 412,227.79 412.6,228.9 413.2,227.44 413.8,228.32 414.4,226.81 415,220.06 415.6,209.82 416.2,222.23 416.8,225.49 417.4,226.54 418,228.19 418.6,227.88 419.2,227.87 419.8,227.78 420.4,227.98 421,228.45 421.6,228.13 422.2,227.86 422.8,228.57 423.4,228.44 424,228.1 424.6,229.18 425.2,228.56 425.8,228.56 426.4,228.32 427,228.29 427.6,226.19 428.2,225.89 428.8,227.53 429.4,228.19 430,229.51 430.6,229.2 431.2,229.47 431.8,227.86 432.4,226.37 433,228.98 433.6,229 434.2,229.28 434.8,230.07 435.4,229.46 436,229.51 436.6,229.01 437.2,230.13 437.8,228.85 438.4,228.01 439,226.32 439.6,225.29 440.2,226.28 440.8,227.01 441.4,226.82 442,227.71 442.6,227.99 443.2,228.97 443.8,228.45 444.4,224.97 445,226.23 445.6,227.59 446.2,228.12 446.8,228.58 447.4,229.49 448,227.32 448.6,228.67 449.2,228.79 449.8,229.76 450.4,223.75 451,222.81 451.6,225.42 452.2,227.03 452.8,225.96 453.4,227.83 454,228.3 454.6,228.98 455.2,227.23 455.8,228.08 456.4,227.39 457,226.52 457.6,226.61 458.2,227.14 458.8,228.02 459.4,227.37 460,227.86 460.6,227.64 461.2,228.25 461.8,228.52 462.4,229.02 463,229.55 463.6,228.58 464.2,227.88 464.8,227.47 465.4,227.95 466,228.14 466.6,227.62 467.2,228.32 467.8,228.47 468.4,228.12 469,228.16 469.6,228.43 470.2,227.81 470.8,227.42 471.4,227.41 472,228.42 472.6,228.47 473.2,229.07 473.8,229.16 474.4,228.66 475,223.81 475.6,222.75 476.2,225.91 476.8,227.45 477.4,227.69 478,227.06" stroke="#111" stroke-width="0.85" fill="none" stroke-linejoin="round"/>
<polyline points="355,253.32 355.6,252.06 356.2,252.96 356.8,253.11 357.4,252.76 358,252.63 358.6,252.91 359.2,252.57 359.8,253.23 360.4,254.07 361,253.18 361.6,253.37 362.2,254.06 362.8,254.52 363.4,253.17 364,252.61 364.6,252.75 365.2,252.66 365.8,252.38 366.4,253.38 367,252.59 367.6,253.48 368.2,252.95 368.8,253.36 369.4,253.32 370,252.5 370.6,253.27 371.2,253.23 371.8,253.38 372.4,253.73 373,253.66 373.6,252.63 374.2,252.07 374.8,252.02 375.4,252.7 376,252.71 376.6,252.71 377.2,253.84 377.8,253.15 378.4,254.07 379,252.6 379.6,253.42 380.2,252.38 380.8,252.65 381.4,252.44 382,253.04 382.6,253.03 383.2,253.55 383.8,252.72 384.4,253.31 385,253.19 385.6,254.33 386.2,254.42 386.8,254.32 387.4,254.23 388,253.81 388.6,253.62 389.2,252.53 389.8,252.15 390.4,251.96 391,252.81 391.6,252.76 392.2,252.28 392.8,252.35 393.4,252.42 394,253 394.6,253.2 395.2,253.38 395.8,254.02 396.4,253.55 397,253.28 397.6,252.95 398.2,252.97 398.8,252.67 399.4,252.67 400,252.73 400.6,253.08 401.2,253.03 401.8,252.98 402.4,252.91 403,253.94 403.6,254.49 404.2,254.09 404.8,253.18 405.4,253.44 406,253.34 406.6,253.04 407.2,253.07 407.8,253.27 408.4,251.79 409,251.61 409.6,251.64 410.2,240.14 410.8,234.44 411.4,243.71 412,247.68 412.6,250.75 413.2,251.34 413.8,247.63 414.4,247.36 415,249.51 415.6,251.33 416.2,250.96 416.8,251.71 417.4,252.92 418,253.07 418.6,253.37 419.2,253.77 419.8,253.17 420.4,253.43 421,253.49 421.6,253.48 422.2,252.88 422.8,253.67 423.4,253.28 424,252.59 424.6,252.25 425.2,252.36 425.8,252.81 426.4,253.31 427,253.33 427.6,252.75 428.2,252.97 428.8,252.39 429.4,253.17 430,252.25 430.6,252.64 431.2,252.71 431.8,252.81 432.4,253.46 433,253.4 433.6,252.93 434.2,253.28 434.8,253.32 435.4,252.97 436,253.29 436.6,252.72 437.2,253.25 437.8,254.42 438.4,254.18 439,253.97 439.6,253.54 440.2,253.4 440.8,254.15 441.4,253.45 442,252.76 442.6,252.39 443.2,252.56 443.8,252.64 444.4,252.48 445,252.9 445.6,253.24 446.2,252.27 446.8,252.46 447.4,253.28 448,252.79 448.6,251.96 449.2,252.58 449.8,251.82 450.4,252.51 451,252.91 451.6,253.2 452.2,253.43 452.8,252.92 453.4,252.89 454,253.15 454.6,253.47 455.2,253.48 455.8,253.83 456.4,253.92 457,252.73 457.6,252.26 458.2,252 458.8,252.57 459.4,253.36 460,252.68 460.6,252.62 461.2,252.42 461.8,252.62 462.4,252.89 463,251.62 463.6,252.41 464.2,252.81 464.8,253.51 465.4,253.21 466,253.08 466.6,253.28 467.2,252.99 467.8,252.42 468.4,252.55 469,252.74 469.6,251.31 470.2,250.7 470.8,252.68 471.4,252.64 472,252.97 472.6,253.4 473.2,253.51 473.8,253.29 474.4,253.24 475,252.72 475.6,251.83 476.2,250.54 476.8,251.59 477.4,252.05 478,251.78 478.6,250.61 479.2,251.55 479.8,252.26" stroke="#111" stroke-width="0.85" fill="none" stroke-linejoin="round"/>
<polyline points="355,282.59 355.6,280.41 356.2,281.62 356.8,280.58 357.4,281.67 358,280.85 358.6,281.1 359.2,281.17 359.8,282.18 360.4,281 361,280.28 361.6,281.66 362.2,281.81 362.8,281.99 363.4,282.25 364,282.7 364.6,281.06 365.2,281.3 365.8,280.51 366.4,280.66 367,279.29 367.6,281.34 368.2,282.29 368.8,281.39 369.4,281.4 370,281.67 370.6,281.33 371.2,281.28 371.8,280.62 372.4,280.05 373,279.89 373.6,279.87 374.2,279.94 374.8,280.26 375.4,281.52 376,280.68 376.6,282.21 377.2,282.37 377.8,282.4 378.4,282.1 379,282.25 379.6,281.09 380.2,281.89 380.8,282 381.4,282.48 382,283.11 382.6,281.97 383.2,282.01 383.8,282.3 384.4,281.93 385,282.67 385.6,282.15 386.2,281.77 386.8,281.16 387.4,281.99 388,281.03 388.6,281.13 389.2,281.46 389.8,281.09 390.4,279.92 391,281.78 391.6,279.85 392.2,278.23 392.8,280.77 393.4,281.46 394,281.05 394.6,280.96 395.2,281.1 395.8,280.72 396.4,281.1 397,280.69 397.6,280.59 398.2,279.99 398.8,280.79 399.4,279.41 400,279.14 400.6,276.27 401.2,278.83 401.8,280.57 402.4,278.81 403,282.24 403.6,281.5 404.2,281.45 404.8,282.19 405.4,280.73 406,281.67 406.6,281.7 407.2,281.22 407.8,280.52 408.4,281.48 409,281.28 409.6,280.76 410.2,281.31 410.8,282.52 411.4,282.72 412,282.72 412.6,282.39 413.2,281.85 413.8,282.47 414.4,280.2 415,278.92 415.6,279.41 416.2,280.58 416.8,279.02 417.4,277.74 418,279.38 418.6,280.39 419.2,280.7 419.8,281.11 420.4,281.44 421,281.67 421.6,281.37 422.2,283.01 422.8,282.16 423.4,281.08 424,280.47 424.6,280.99 425.2,280.31 425.8,280.68 426.4,280.98 427,280.55 427.6,279.65 428.2,279.98 428.8,279.82 429.4,281.35 430,282.29 430.6,282.39 431.2,281.08 431.8,280.31 432.4,279.91 433,280.09 433.6,280.86 434.2,281.13 434.8,281.5 435.4,279.91 436,280.87 436.6,280.02 437.2,279.05 437.8,277.64 438.4,279.69 439,280.49 439.6,281.38 440.2,275.69 440.8,259.28 441.4,267.56 442,272.46 442.6,274.95 443.2,276.89 443.8,278.17 444.4,281.13 445,281.04 445.6,281.09 446.2,280.37 446.8,280.74 447.4,282.02 448,280.11 448.6,282.04 449.2,282.55 449.8,283.21 450.4,281.02 451,278.24 451.6,278.99 452.2,278.17 452.8,280.55 453.4,282.05 454,282.67 454.6,282.5 455.2,282.39 455.8,282.88 456.4,282.71 457,281.31 457.6,282.02 458.2,282.1 458.8,282.33 459.4,282.39 460,280.01 460.6,279.2 461.2,282.11 461.8,280.3 462.4,280.87 463,280.91 463.6,281.03 464.2,281.84 464.8,281.66 465.4,281.71 466,278.09 466.6,274.75 467.2,278.53 467.8,281.8 468.4,282.28 469,281.72 469.6,281.78 470.2,280.78 470.8,280.69 471.4,282.15 472,281.18 472.6,279.16 473.2,281.16 473.8,278.48 474.4,278.93 475,279.69 475.6,280.8 476.2,280.9 476.8,281.15 477.4,280.8 478,281.07 478.6,281.38 479.2,280.67 479.8,280.43" stroke="#111" stroke-width="0.85" fill="none" stroke-linejoin="round"/>
<polyline points="469.1,232.5 486.5,232.5 486.5,226.8" stroke="#1a1a1a" stroke-width="0.8" fill="none"/>
<text x="467" y="243.7" font-size="9.2" fill="#1a1a1a" stroke="#1a1a1a" stroke-width="0.22">1 min</text>
<text x="488.5" y="211.2" font-size="9.2" fill="#1a1a1a" stroke="#1a1a1a" stroke-width="0.22" transform="rotate(90 488.5 211.2)">dF/F0</text>
<line x1="551.4" y1="166.5" x2="551.4" y2="261.7" stroke="#1a1a1a" stroke-width="0.8"/>
<line x1="551" y1="261.3" x2="646.2" y2="261.3" stroke="#1a1a1a" stroke-width="0.8"/>
<line x1="549.2" y1="261.3" x2="551.4" y2="261.3" stroke="#1a1a1a" stroke-width="0.8"/>
<text x="548.4" y="264.6" font-size="9.2" fill="#1a1a1a" stroke="#1a1a1a" stroke-width="0.22" text-anchor="end">0</text>
<line x1="551.4" y1="261.3" x2="551.4" y2="263.5" stroke="#1a1a1a" stroke-width="0.8"/>
<text x="551.4" y="272.9" font-size="9.2" fill="#1a1a1a" stroke="#1a1a1a" stroke-width="0.22" text-anchor="middle">0</text>
<line x1="549.2" y1="242.34" x2="551.4" y2="242.34" stroke="#1a1a1a" stroke-width="0.8"/>
<text x="548.4" y="245.64" font-size="9.2" fill="#1a1a1a" stroke="#1a1a1a" stroke-width="0.22" text-anchor="end">2</text>
<line x1="570.36" y1="261.3" x2="570.36" y2="263.5" stroke="#1a1a1a" stroke-width="0.8"/>
<text x="570.36" y="272.9" font-size="9.2" fill="#1a1a1a" stroke="#1a1a1a" stroke-width="0.22" text-anchor="middle">2</text>
<line x1="549.2" y1="223.38" x2="551.4" y2="223.38" stroke="#1a1a1a" stroke-width="0.8"/>
<text x="548.4" y="226.68" font-size="9.2" fill="#1a1a1a" stroke="#1a1a1a" stroke-width="0.22" text-anchor="end">4</text>
<line x1="589.32" y1="261.3" x2="589.32" y2="263.5" stroke="#1a1a1a" stroke-width="0.8"/>
<text x="589.32" y="272.9" font-size="9.2" fill="#1a1a1a" stroke="#1a1a1a" stroke-width="0.22" text-anchor="middle">4</text>
<line x1="549.2" y1="204.42" x2="551.4" y2="204.42" stroke="#1a1a1a" stroke-width="0.8"/>
<text x="548.4" y="207.72" font-size="9.2" fill="#1a1a1a" stroke="#1a1a1a" stroke-width="0.22" text-anchor="end">6</text>
<line x1="608.28" y1="261.3" x2="608.28" y2="263.5" stroke="#1a1a1a" stroke-width="0.8"/>
<text x="608.28" y="272.9" font-size="9.2" fill="#1a1a1a" stroke="#1a1a1a" stroke-width="0.22" text-anchor="middle">6</text>
<line x1="549.2" y1="185.46" x2="551.4" y2="185.46" stroke="#1a1a1a" stroke-width="0.8"/>
<text x="548.4" y="188.76" font-size="9.2" fill="#1a1a1a" stroke="#1a1a1a" stroke-width="0.22" text-anchor="end">8</text>
<line x1="627.24" y1="261.3" x2="627.24" y2="263.5" stroke="#1a1a1a" stroke-width="0.8"/>
<text x="627.24" y="272.9" font-size="9.2" fill="#1a1a1a" stroke="#1a1a1a" stroke-width="0.22" text-anchor="middle">8</text>
<line x1="549.2" y1="166.5" x2="551.4" y2="166.5" stroke="#1a1a1a" stroke-width="0.8"/>
<text x="548.4" y="169.8" font-size="9.2" fill="#1a1a1a" stroke="#1a1a1a" stroke-width="0.22" text-anchor="end">10</text>
<line x1="646.2" y1="261.3" x2="646.2" y2="263.5" stroke="#1a1a1a" stroke-width="0.8"/>
<text x="646.2" y="272.9" font-size="9.2" fill="#1a1a1a" stroke="#1a1a1a" stroke-width="0.22" text-anchor="middle">10</text>
<text x="566" y="283.7" font-size="8.3" fill="#1a1a1a" stroke="#1a1a1a" stroke-width="0.22">Post (Events/min/cell)</text>
<text x="530.6" y="250.8" font-size="8.7" fill="#1a1a1a" stroke="#1a1a1a" stroke-width="0.22" transform="rotate(-90 530.6 250.8)">Pre (Events/min/cell)</text>
<line x1="551.4" y1="261.3" x2="635.3" y2="177.4" stroke="#1a1a1a" stroke-width="0.8"/>
<circle cx="586.4" cy="186" r="1.75" fill="none" stroke="#1a1a1a" stroke-width="0.75"/>
<circle cx="611.8" cy="184.3" r="1.75" fill="none" stroke="#1a1a1a" stroke-width="0.75"/>
<circle cx="585.2" cy="193.9" r="1.75" fill="none" stroke="#1a1a1a" stroke-width="0.75"/>
<circle cx="576.4" cy="201.7" r="1.75" fill="none" stroke="#1a1a1a" stroke-width="0.75"/>
<circle cx="571.4" cy="208.4" r="1.75" fill="none" stroke="#1a1a1a" stroke-width="0.75"/>
<circle cx="582.7" cy="208.4" r="1.75" fill="none" stroke="#1a1a1a" stroke-width="0.75"/>
<circle cx="586.1" cy="213.2" r="1.75" fill="none" stroke="#1a1a1a" stroke-width="0.75"/>
<circle cx="586.9" cy="213.5" r="1.75" fill="none" stroke="#1a1a1a" stroke-width="0.75"/>
<circle cx="602.9" cy="208.4" r="1.75" fill="none" stroke="#1a1a1a" stroke-width="0.75"/>
<circle cx="562" cy="222.8" r="1.75" fill="none" stroke="#1a1a1a" stroke-width="0.75"/>
<circle cx="573.4" cy="222.8" r="1.75" fill="none" stroke="#1a1a1a" stroke-width="0.75"/>
<circle cx="589.2" cy="221.5" r="1.75" fill="none" stroke="#1a1a1a" stroke-width="0.75"/>
<circle cx="585.9" cy="225.9" r="1.75" fill="none" stroke="#1a1a1a" stroke-width="0.75"/>
<circle cx="586.9" cy="229.5" r="1.75" fill="none" stroke="#1a1a1a" stroke-width="0.75"/>
<circle cx="562" cy="227.9" r="1.75" fill="none" stroke="#1a1a1a" stroke-width="0.75"/>
<circle cx="562" cy="229.5" r="1.75" fill="none" stroke="#1a1a1a" stroke-width="0.75"/>
<circle cx="589.1" cy="234.6" r="1.75" fill="none" stroke="#1a1a1a" stroke-width="0.75"/>
<circle cx="565.4" cy="238.5" r="1.75" fill="none" stroke="#1a1a1a" stroke-width="0.75"/>
<circle cx="562" cy="241.8" r="1.75" fill="none" stroke="#1a1a1a" stroke-width="0.75"/>
<circle cx="565.4" cy="241.8" r="1.75" fill="none" stroke="#1a1a1a" stroke-width="0.75"/>
<circle cx="562" cy="246.9" r="1.75" fill="none" stroke="#1a1a1a" stroke-width="0.75"/>
<circle cx="578.5" cy="241.8" r="1.75" fill="none" stroke="#1a1a1a" stroke-width="0.75"/>
<circle cx="583.2" cy="241.8" r="1.75" fill="none" stroke="#1a1a1a" stroke-width="0.75"/>
<circle cx="585.9" cy="241.8" r="1.75" fill="none" stroke="#1a1a1a" stroke-width="0.75"/>
<circle cx="581.2" cy="251.6" r="1.75" fill="none" stroke="#1a1a1a" stroke-width="0.75"/>
<line x1="636.4" y1="196.8" x2="636.4" y2="249.6" stroke="#1a1a1a" stroke-width="0.8"/>
<line x1="636.4" y1="249.6" x2="671" y2="249.6" stroke="#1a1a1a" stroke-width="0.8"/>
<line x1="634.6" y1="249.6" x2="636.4" y2="249.6" stroke="#1a1a1a" stroke-width="0.7"/>
<text x="633.8" y="252.2" font-size="7.2" fill="#1a1a1a" stroke="#1a1a1a" stroke-width="0.22" text-anchor="end">0</text>
<line x1="634.6" y1="239.04" x2="636.4" y2="239.04" stroke="#1a1a1a" stroke-width="0.7"/>
<text x="633.8" y="241.64" font-size="7.2" fill="#1a1a1a" stroke="#1a1a1a" stroke-width="0.22" text-anchor="end">2</text>
<line x1="634.6" y1="228.48" x2="636.4" y2="228.48" stroke="#1a1a1a" stroke-width="0.7"/>
<text x="633.8" y="231.08" font-size="7.2" fill="#1a1a1a" stroke="#1a1a1a" stroke-width="0.22" text-anchor="end">4</text>
<line x1="634.6" y1="217.92" x2="636.4" y2="217.92" stroke="#1a1a1a" stroke-width="0.7"/>
<text x="633.8" y="220.52" font-size="7.2" fill="#1a1a1a" stroke="#1a1a1a" stroke-width="0.22" text-anchor="end">6</text>
<line x1="634.6" y1="207.36" x2="636.4" y2="207.36" stroke="#1a1a1a" stroke-width="0.7"/>
<text x="633.8" y="209.96" font-size="7.2" fill="#1a1a1a" stroke="#1a1a1a" stroke-width="0.22" text-anchor="end">8</text>
<line x1="634.6" y1="196.8" x2="636.4" y2="196.8" stroke="#1a1a1a" stroke-width="0.7"/>
<text x="633.8" y="199.4" font-size="7.2" fill="#1a1a1a" stroke="#1a1a1a" stroke-width="0.22" text-anchor="end">10</text>
<line x1="646.1" y1="249.6" x2="646.1" y2="251.4" stroke="#1a1a1a" stroke-width="0.7"/>
<line x1="661.5" y1="249.6" x2="661.5" y2="251.4" stroke="#1a1a1a" stroke-width="0.7"/>
<text x="645.6" y="257.5" font-size="7.9" fill="#1a1a1a" stroke="#1a1a1a" stroke-width="0.22" text-anchor="middle">pre</text>
<text x="661.4" y="257.5" font-size="7.9" fill="#1a1a1a" stroke="#1a1a1a" stroke-width="0.22" text-anchor="middle">post</text>
<line x1="645.1" y1="199.1" x2="662.1" y2="199.1" stroke="#1a1a1a" stroke-width="0.8"/>
<text x="653.5" y="197.4" font-size="8.5" fill="#1a1a1a" stroke="#1a1a1a" stroke-width="0.22" text-anchor="middle">**</text>
<line x1="646.1" y1="207.36" x2="661.5" y2="217.39" stroke="#333" stroke-width="0.45"/>
<line x1="646.1" y1="212.64" x2="661.5" y2="229.54" stroke="#333" stroke-width="0.45"/>
<line x1="646.1" y1="216.86" x2="661.5" y2="221.62" stroke="#333" stroke-width="0.45"/>
<line x1="646.1" y1="220.56" x2="661.5" y2="230.06" stroke="#333" stroke-width="0.45"/>
<line x1="646.1" y1="221.09" x2="661.5" y2="243.79" stroke="#333" stroke-width="0.45"/>
<line x1="646.1" y1="223.2" x2="661.5" y2="229.01" stroke="#333" stroke-width="0.45"/>
<line x1="646.1" y1="227.95" x2="661.5" y2="231.12" stroke="#333" stroke-width="0.45"/>
<line x1="646.1" y1="229.01" x2="661.5" y2="243.26" stroke="#333" stroke-width="0.45"/>
<line x1="646.1" y1="229.54" x2="661.5" y2="230.59" stroke="#333" stroke-width="0.45"/>
<line x1="646.1" y1="230.59" x2="661.5" y2="238.51" stroke="#333" stroke-width="0.45"/>
<line x1="646.1" y1="231.12" x2="661.5" y2="229.54" stroke="#333" stroke-width="0.45"/>
<line x1="646.1" y1="231.65" x2="661.5" y2="242.74" stroke="#333" stroke-width="0.45"/>
<line x1="646.1" y1="232.7" x2="661.5" y2="231.65" stroke="#333" stroke-width="0.45"/>
<line x1="646.1" y1="233.76" x2="661.5" y2="229.01" stroke="#333" stroke-width="0.45"/>
<line x1="646.1" y1="234.82" x2="661.5" y2="239.04" stroke="#333" stroke-width="0.45"/>
<line x1="646.1" y1="235.87" x2="661.5" y2="232.7" stroke="#333" stroke-width="0.45"/>
<line x1="646.1" y1="237.46" x2="661.5" y2="243.79" stroke="#333" stroke-width="0.45"/>
<line x1="646.1" y1="238.51" x2="661.5" y2="230.59" stroke="#333" stroke-width="0.45"/>
<line x1="646.1" y1="239.04" x2="661.5" y2="236.4" stroke="#333" stroke-width="0.45"/>
<line x1="646.1" y1="240.1" x2="661.5" y2="242.21" stroke="#333" stroke-width="0.45"/>
<line x1="646.1" y1="241.68" x2="661.5" y2="233.23" stroke="#333" stroke-width="0.45"/>
<line x1="646.1" y1="243.26" x2="661.5" y2="230.06" stroke="#333" stroke-width="0.45"/>
<line x1="646.1" y1="244.32" x2="661.5" y2="244.32" stroke="#333" stroke-width="0.45"/>
<line x1="646.1" y1="225.31" x2="661.5" y2="234.82" stroke="#333" stroke-width="0.45"/>
<line x1="646.1" y1="234.29" x2="661.5" y2="232.18" stroke="#333" stroke-width="0.45"/>
<circle cx="646.1" cy="207.36" r="0.95" fill="#111"/>
<circle cx="661.5" cy="217.39" r="0.95" fill="#111"/>
<circle cx="646.1" cy="212.64" r="0.95" fill="#111"/>
<circle cx="661.5" cy="229.54" r="0.95" fill="#111"/>
<circle cx="646.1" cy="216.86" r="0.95" fill="#111"/>
<circle cx="661.5" cy="221.62" r="0.95" fill="#111"/>
<circle cx="646.1" cy="220.56" r="0.95" fill="#111"/>
<circle cx="661.5" cy="230.06" r="0.95" fill="#111"/>
<circle cx="646.1" cy="221.09" r="0.95" fill="#111"/>
<circle cx="661.5" cy="243.79" r="0.95" fill="#111"/>
<circle cx="646.1" cy="223.2" r="0.95" fill="#111"/>
<circle cx="661.5" cy="229.01" r="0.95" fill="#111"/>
<circle cx="646.1" cy="227.95" r="0.95" fill="#111"/>
<circle cx="661.5" cy="231.12" r="0.95" fill="#111"/>
<circle cx="646.1" cy="229.01" r="0.95" fill="#111"/>
<circle cx="661.5" cy="243.26" r="0.95" fill="#111"/>
<circle cx="646.1" cy="229.54" r="0.95" fill="#111"/>
<circle cx="661.5" cy="230.59" r="0.95" fill="#111"/>
<circle cx="646.1" cy="230.59" r="0.95" fill="#111"/>
<circle cx="661.5" cy="238.51" r="0.95" fill="#111"/>
<circle cx="646.1" cy="231.12" r="0.95" fill="#111"/>
<circle cx="661.5" cy="229.54" r="0.95" fill="#111"/>
<circle cx="646.1" cy="231.65" r="0.95" fill="#111"/>
<circle cx="661.5" cy="242.74" r="0.95" fill="#111"/>
<circle cx="646.1" cy="232.7" r="0.95" fill="#111"/>
<circle cx="661.5" cy="231.65" r="0.95" fill="#111"/>
<circle cx="646.1" cy="233.76" r="0.95" fill="#111"/>
<circle cx="661.5" cy="229.01" r="0.95" fill="#111"/>
<circle cx="646.1" cy="234.82" r="0.95" fill="#111"/>
<circle cx="661.5" cy="239.04" r="0.95" fill="#111"/>
<circle cx="646.1" cy="235.87" r="0.95" fill="#111"/>
<circle cx="661.5" cy="232.7" r="0.95" fill="#111"/>
<circle cx="646.1" cy="237.46" r="0.95" fill="#111"/>
<circle cx="661.5" cy="243.79" r="0.95" fill="#111"/>
<circle cx="646.1" cy="238.51" r="0.95" fill="#111"/>
<circle cx="661.5" cy="230.59" r="0.95" fill="#111"/>
<circle cx="646.1" cy="239.04" r="0.95" fill="#111"/>
<circle cx="661.5" cy="236.4" r="0.95" fill="#111"/>
<circle cx="646.1" cy="240.1" r="0.95" fill="#111"/>
<circle cx="661.5" cy="242.21" r="0.95" fill="#111"/>
<circle cx="646.1" cy="241.68" r="0.95" fill="#111"/>
<circle cx="661.5" cy="233.23" r="0.95" fill="#111"/>
<circle cx="646.1" cy="243.26" r="0.95" fill="#111"/>
<circle cx="661.5" cy="230.06" r="0.95" fill="#111"/>
<circle cx="646.1" cy="244.32" r="0.95" fill="#111"/>
<circle cx="661.5" cy="244.32" r="0.95" fill="#111"/>
<circle cx="646.1" cy="225.31" r="0.95" fill="#111"/>
<circle cx="661.5" cy="234.82" r="0.95" fill="#111"/>
<circle cx="646.1" cy="234.29" r="0.95" fill="#111"/>
<circle cx="661.5" cy="232.18" r="0.95" fill="#111"/>
<line x1="203.8" y1="321.85" x2="203.8" y2="419.1" stroke="#1a1a1a" stroke-width="0.8"/>
<line x1="203.8" y1="419.1" x2="327.5" y2="419.1" stroke="#1a1a1a" stroke-width="0.8"/>
<line x1="201.6" y1="419.1" x2="203.8" y2="419.1" stroke="#1a1a1a" stroke-width="0.8"/>
<text x="201" y="422.4" font-size="8.9" fill="#1a1a1a" stroke="#1a1a1a" stroke-width="0.22" text-anchor="end">0</text>
<line x1="201.6" y1="399.65" x2="203.8" y2="399.65" stroke="#1a1a1a" stroke-width="0.8"/>
<text x="201" y="402.95" font-size="8.9" fill="#1a1a1a" stroke="#1a1a1a" stroke-width="0.22" text-anchor="end">20</text>
<line x1="201.6" y1="380.2" x2="203.8" y2="380.2" stroke="#1a1a1a" stroke-width="0.8"/>
<text x="201" y="383.5" font-size="8.9" fill="#1a1a1a" stroke="#1a1a1a" stroke-width="0.22" text-anchor="end">40</text>
<line x1="201.6" y1="360.75" x2="203.8" y2="360.75" stroke="#1a1a1a" stroke-width="0.8"/>
<text x="201" y="364.05" font-size="8.9" fill="#1a1a1a" stroke="#1a1a1a" stroke-width="0.22" text-anchor="end">60</text>
<line x1="201.6" y1="341.3" x2="203.8" y2="341.3" stroke="#1a1a1a" stroke-width="0.8"/>
<text x="201" y="344.6" font-size="8.9" fill="#1a1a1a" stroke="#1a1a1a" stroke-width="0.22" text-anchor="end">80</text>
<line x1="201.6" y1="321.85" x2="203.8" y2="321.85" stroke="#1a1a1a" stroke-width="0.8"/>
<text x="201" y="325.15" font-size="8.9" fill="#1a1a1a" stroke="#1a1a1a" stroke-width="0.22" text-anchor="end">100</text>
<line x1="218.5" y1="419.1" x2="218.5" y2="421.1" stroke="#1a1a1a" stroke-width="0.8"/>
<text x="218.5" y="431.2" font-size="9.2" fill="#1a1a1a" stroke="#1a1a1a" stroke-width="0.22" text-anchor="middle">BL</text>
<line x1="239.9" y1="419.1" x2="239.9" y2="421.1" stroke="#1a1a1a" stroke-width="0.8"/>
<text x="239.9" y="431.2" font-size="9.2" fill="#1a1a1a" stroke="#1a1a1a" stroke-width="0.22" text-anchor="middle">2</text>
<line x1="261.2" y1="419.1" x2="261.2" y2="421.1" stroke="#1a1a1a" stroke-width="0.8"/>
<text x="261.2" y="431.2" font-size="9.2" fill="#1a1a1a" stroke="#1a1a1a" stroke-width="0.22" text-anchor="middle">4</text>
<line x1="282.6" y1="419.1" x2="282.6" y2="421.1" stroke="#1a1a1a" stroke-width="0.8"/>
<text x="282.6" y="431.2" font-size="9.2" fill="#1a1a1a" stroke="#1a1a1a" stroke-width="0.22" text-anchor="middle">6</text>
<line x1="303.9" y1="419.1" x2="303.9" y2="421.1" stroke="#1a1a1a" stroke-width="0.8"/>
<text x="303.9" y="431.2" font-size="9.2" fill="#1a1a1a" stroke="#1a1a1a" stroke-width="0.22" text-anchor="middle">8</text>
<line x1="325.8" y1="419.1" x2="325.8" y2="421.1" stroke="#1a1a1a" stroke-width="0.8"/>
<text x="325.8" y="431.2" font-size="9.2" fill="#1a1a1a" stroke="#1a1a1a" stroke-width="0.22" text-anchor="middle">10</text>
<line x1="224" y1="433.7" x2="328.4" y2="433.7" stroke="#1a1a1a" stroke-width="0.8"/>
<text x="197.7" y="442.1" font-size="9.2" fill="#1a1a1a" stroke="#1a1a1a" stroke-width="0.22">Time post morphine injection (h)</text>
<text x="184.9" y="424.2" font-size="9.3" fill="#1a1a1a" stroke="#1a1a1a" stroke-width="0.22" transform="rotate(-90 184.9 424.2)">Weight of fecal pellets (g)</text>
<line x1="217.7" y1="324.2" x2="228.3" y2="324.2" stroke="#6e6e6e" stroke-width="0.8"/>
<circle cx="222.8" cy="324.2" r="2.1" fill="#fff" stroke="#6e6e6e" stroke-width="0.8"/>
<text x="231.5" y="327.4" font-size="9.2" fill="#1a1a1a" stroke="#1a1a1a" stroke-width="0.22">ACSF</text>
<line x1="261.3" y1="324.2" x2="272" y2="324.2" stroke="#f5a000" stroke-width="0.9"/>
<circle cx="266.7" cy="324.2" r="2.1" fill="#fff" stroke="#f5a000" stroke-width="0.9"/>
<text x="274.8" y="327.4" font-size="9.2" fill="#1a1a1a" stroke="#1a1a1a" stroke-width="0.22">Morphine</text>
<line x1="218.5" y1="337.41" x2="218.5" y2="349.08" stroke="#6e6e6e" stroke-width="0.8"/>
<line x1="216.5" y1="337.41" x2="220.5" y2="337.41" stroke="#6e6e6e" stroke-width="0.8"/>
<line x1="216.5" y1="349.08" x2="220.5" y2="349.08" stroke="#6e6e6e" stroke-width="0.8"/>
<line x1="239.9" y1="356.37" x2="239.9" y2="365.13" stroke="#6e6e6e" stroke-width="0.8"/>
<line x1="237.9" y1="356.37" x2="241.9" y2="356.37" stroke="#6e6e6e" stroke-width="0.8"/>
<line x1="237.9" y1="365.13" x2="241.9" y2="365.13" stroke="#6e6e6e" stroke-width="0.8"/>
<line x1="261.2" y1="355.4" x2="261.2" y2="368.04" stroke="#6e6e6e" stroke-width="0.8"/>
<line x1="259.2" y1="355.4" x2="263.2" y2="355.4" stroke="#6e6e6e" stroke-width="0.8"/>
<line x1="259.2" y1="368.04" x2="263.2" y2="368.04" stroke="#6e6e6e" stroke-width="0.8"/>
<line x1="282.6" y1="362.7" x2="282.6" y2="374.37" stroke="#6e6e6e" stroke-width="0.8"/>
<line x1="280.6" y1="362.7" x2="284.6" y2="362.7" stroke="#6e6e6e" stroke-width="0.8"/>
<line x1="280.6" y1="374.37" x2="284.6" y2="374.37" stroke="#6e6e6e" stroke-width="0.8"/>
<line x1="303.9" y1="369.02" x2="303.9" y2="381.66" stroke="#6e6e6e" stroke-width="0.8"/>
<line x1="301.9" y1="369.02" x2="305.9" y2="369.02" stroke="#6e6e6e" stroke-width="0.8"/>
<line x1="301.9" y1="381.66" x2="305.9" y2="381.66" stroke="#6e6e6e" stroke-width="0.8"/>
<line x1="325.8" y1="355.4" x2="325.8" y2="364.15" stroke="#6e6e6e" stroke-width="0.8"/>
<line x1="323.8" y1="355.4" x2="327.8" y2="355.4" stroke="#6e6e6e" stroke-width="0.8"/>
<line x1="323.8" y1="364.15" x2="327.8" y2="364.15" stroke="#6e6e6e" stroke-width="0.8"/>
<line x1="218.5" y1="343.25" x2="218.5" y2="354.92" stroke="#f5a000" stroke-width="0.8"/>
<line x1="216.5" y1="343.25" x2="220.5" y2="343.25" stroke="#f5a000" stroke-width="0.8"/>
<line x1="216.5" y1="354.92" x2="220.5" y2="354.92" stroke="#f5a000" stroke-width="0.8"/>
<line x1="282.6" y1="361.72" x2="282.6" y2="381.17" stroke="#f5a000" stroke-width="0.8"/>
<line x1="280.6" y1="361.72" x2="284.6" y2="361.72" stroke="#f5a000" stroke-width="0.8"/>
<line x1="280.6" y1="381.17" x2="284.6" y2="381.17" stroke="#f5a000" stroke-width="0.8"/>
<line x1="303.9" y1="336.44" x2="303.9" y2="350.05" stroke="#f5a000" stroke-width="0.8"/>
<line x1="301.9" y1="336.44" x2="305.9" y2="336.44" stroke="#f5a000" stroke-width="0.8"/>
<line x1="301.9" y1="350.05" x2="305.9" y2="350.05" stroke="#f5a000" stroke-width="0.8"/>
<line x1="325.8" y1="344.22" x2="325.8" y2="363.67" stroke="#f5a000" stroke-width="0.8"/>
<line x1="323.8" y1="344.22" x2="327.8" y2="344.22" stroke="#f5a000" stroke-width="0.8"/>
<line x1="323.8" y1="363.67" x2="327.8" y2="363.67" stroke="#f5a000" stroke-width="0.8"/>
<polyline points="218.5,343.25 239.9,360.75 261.2,361.72 282.6,368.53 303.9,375.34 325.8,359.78" stroke="#6e6e6e" stroke-width="0.9" fill="none"/>
<polyline points="218.5,349.08 239.9,419.1 261.2,416.18 282.6,371.45 303.9,343.25 325.8,353.94" stroke="#f5a000" stroke-width="1.0" fill="none"/>
<circle cx="218.5" cy="343.25" r="2.2" fill="#fff" stroke="#6e6e6e" stroke-width="0.85"/>
<circle cx="239.9" cy="360.75" r="2.2" fill="#fff" stroke="#6e6e6e" stroke-width="0.85"/>
<circle cx="261.2" cy="361.72" r="2.2" fill="#fff" stroke="#6e6e6e" stroke-width="0.85"/>
<circle cx="282.6" cy="368.53" r="2.2" fill="#fff" stroke="#6e6e6e" stroke-width="0.85"/>
<circle cx="303.9" cy="375.34" r="2.2" fill="#fff" stroke="#6e6e6e" stroke-width="0.85"/>
<circle cx="325.8" cy="359.78" r="2.2" fill="#fff" stroke="#6e6e6e" stroke-width="0.85"/>
<circle cx="218.5" cy="349.08" r="2.2" fill="#fff" stroke="#f5a000" stroke-width="0.9"/>
<circle cx="239.9" cy="419.1" r="2.2" fill="#fff" stroke="#f5a000" stroke-width="0.9"/>
<circle cx="261.2" cy="416.18" r="2.2" fill="#fff" stroke="#f5a000" stroke-width="0.9"/>
<circle cx="282.6" cy="371.45" r="2.2" fill="#fff" stroke="#f5a000" stroke-width="0.9"/>
<circle cx="303.9" cy="343.25" r="2.2" fill="#fff" stroke="#f5a000" stroke-width="0.9"/>
<circle cx="325.8" cy="353.94" r="2.2" fill="#fff" stroke="#f5a000" stroke-width="0.9"/>
<text x="240.4" y="355.3" font-size="8.5" fill="#1a1a1a" stroke="#1a1a1a" stroke-width="0.22" text-anchor="middle">***</text>
<text x="261.8" y="354.3" font-size="8.5" fill="#1a1a1a" stroke="#1a1a1a" stroke-width="0.22" text-anchor="middle">**</text>
<text x="303.9" y="336.1" font-size="8.5" fill="#1a1a1a" stroke="#1a1a1a" stroke-width="0.22" text-anchor="middle">*</text>
<line x1="220.2" y1="375.2" x2="220.2" y2="370.9" stroke="#e8141e" stroke-width="1.3"/>
<path d="M217.9,371.4 L222.5,371.4 L220.2,366.8Z" fill="#e8141e"/>
<text x="347.8" y="322.6" font-size="9.2" fill="#1a1a1a" stroke="#1a1a1a" stroke-width="0.22">ACSF</text>
<line x1="351.2" y1="335.2" x2="470.8" y2="335.2" stroke="#b0b0b0" stroke-width="0.7" stroke-dasharray="2.2,1.6"/>
<line x1="351.2" y1="355.3" x2="470.8" y2="355.3" stroke="#b0b0b0" stroke-width="0.7" stroke-dasharray="2.2,1.6"/>
<polyline points="351.2,332.88 351.7,332.48 352.2,332.53 352.7,332.88 353.2,334.74 353.7,335.72 354.2,336.77 354.7,337.17 355.2,336.52 355.7,335.97 356.2,334.27 356.7,332.02 357.2,331.27 357.7,331.83 358.2,332.78 358.7,333.65 359.2,336.06 359.7,336.82 360.2,337.69 360.7,337.67 361.2,335.51 361.7,334.23 362.2,331.8 362.7,331.23 363.2,332.13 363.7,331.65 364.2,334.69 364.7,335.11 365.2,337.04 365.7,337.5 366.2,337.46 366.7,336.64 367.2,335.64 367.7,333.35 368.2,331.68 368.7,330.72 369.2,332.65 369.7,334.11 370.2,335.98 370.7,336.93 371.2,338.27 371.7,337.68 372.2,335.52 372.7,333.91 373.2,332.93 373.7,333.42 374.2,332.37 374.7,333.38 375.2,333.86 375.7,335.03 376.2,335.67 376.7,336.76 377.2,336.62 377.7,335.4 378.2,333.76 378.7,333.45 379.2,333.16 379.7,333 380.2,333.14 380.7,334.68 381.2,335.99 381.7,336.37 382.2,336.08 382.7,336.13 383.2,334.97 383.7,334.33 384.2,332.32 384.7,331.61 385.2,331.81 385.7,332.99 386.2,334.65 386.7,336.32 387.2,337.21 387.7,337.76 388.2,336.96 388.7,335.2 389.2,334.03 389.7,332.21 390.2,332.15 390.7,332.72 391.2,333.31 391.7,335.34 392.2,335.98 392.7,337.21 393.2,337.19 393.7,336.84 394.2,334.67 394.7,333.88 395.2,333.81 395.7,332.18 396.2,333.12 396.7,333.41 397.2,334.15 397.7,335.13 398.2,336.23 398.7,336.52 399.2,336.03 399.7,335.19 400.2,334.9 400.7,330.93 401.2,329.44 401.7,329.74 402.2,331.47 402.7,334.1 403.2,336.79 403.7,339.06 404.2,339.87 404.7,338.59 405.2,336.67 405.7,333.81 406.2,331.5 406.7,329.68 407.2,329.55 407.7,330.72 408.2,332.85 408.7,336 409.2,339.06 409.7,339.95 410.2,339.09 410.7,335.27 411.2,332.3 411.7,332.26 412.2,331.34 412.7,332.09 413.2,333.11 413.7,335.25 414.2,337.27 414.7,337.99 415.2,337.04 415.7,336.71 416.2,334.36 416.7,333.27 417.2,331.42 417.7,331.26 418.2,332.04 418.7,333.41 419.2,335.19 419.7,336.37 420.2,337.6 420.7,338.26 421.2,336.85 421.7,335.24 422.2,333.94 422.7,332.74 423.2,332.75 423.7,333.17 424.2,334.43 424.7,335.7 425.2,336.58 425.7,336.66 426.2,336.89 426.7,335.02 427.2,335.08 427.7,333.52 428.2,330.3 428.7,329.7 429.2,331.6 429.7,334.63 430.2,337.55 430.7,339.27 431.2,338.77 431.7,337.76 432.2,335.43 432.7,333.17 433.2,330.91 433.7,330.02 434.2,330.25 434.7,332.09 435.2,334.23 435.7,336.51 436.2,337.77 436.7,338.95 437.2,338.43 437.7,336.93 438.2,334.15 438.7,332.57 439.2,331.46 439.7,332 440.2,332.45 440.7,333.92 441.2,335.71 441.7,337.24 442.2,338.08 442.7,337.92 443.2,335.56 443.7,334.83 444.2,332.67 444.7,330.12 445.2,329.88 445.7,330.67 446.2,333.38 446.7,335.45 447.2,338.08 447.7,339.77 448.2,338.94 448.7,336.91 449.2,334.64 449.7,331.48 450.2,330.67 450.7,330.62 451.2,331.58 451.7,334.84 452.2,337.26 452.7,339.2 453.2,339.2 453.7,337.36 454.2,334.52 454.7,332.17 455.2,330.5 455.7,329.26 456.2,330.57 456.7,332.67 457.2,335.86 457.7,338 458.2,339.48 458.7,339.36 459.2,337.66 459.7,335.73 460.2,332.6 460.7,330.59 461.2,332.05 461.7,332.16 462.2,333.1 462.7,335.06 463.2,335.75 463.7,336.64 464.2,337.42 464.7,336.53 465.2,335.1 465.7,333.31 466.2,332.55 466.7,330.83 467.2,331.36 467.7,333.44 468.2,335.31 468.7,336.67 469.2,338.22 469.7,338.06 470.2,336.65 470.7,334.18" stroke="#828282" stroke-width="0.9" fill="none" stroke-linejoin="round"/>
<polyline points="351.2,353.61 351.7,353.13 352.2,353.57 352.7,353.42 353.2,354.62 353.7,356.04 354.2,357.06 354.7,357.67 355.2,356.66 355.7,355.41 356.2,354.47 356.7,351.38 357.2,351.01 357.7,351.33 358.2,353.79 358.7,355.38 359.2,356.82 359.7,359.06 360.2,359.06 360.7,357.9 361.2,356.47 361.7,354.42 362.2,352.63 362.7,351.47 363.2,351.44 363.7,352.84 364.2,354.8 364.7,356.94 365.2,358.02 365.7,359 366.2,357.87 366.7,355.54 367.2,353.41 367.7,352.82 368.2,352.91 368.7,353.42 369.2,354.62 369.7,354.95 370.2,356.17 370.7,357.68 371.2,357.35 371.7,356.33 372.2,355.53 372.7,354.42 373.2,353.04 373.7,352.6 374.2,353.17 374.7,354.06 375.2,356.25 375.7,357.05 376.2,357.59 376.7,356.98 377.2,355.95 377.7,354.21 378.2,353.45 378.7,351.74 379.2,351.4 379.7,352.82 380.2,354.86 380.7,356.82 381.2,357.91 381.7,358.55 382.2,357.83 382.7,356.62 383.2,354.78 383.7,352.68 384.2,351.26 384.7,350.77 385.2,352.02 385.7,354.52 386.2,357.07 386.7,358.05 387.2,359.29 387.7,358.39 388.2,357.06 388.7,354.5 389.2,353.08 389.7,351.54 390.2,351.51 390.7,351.77 391.2,352.97 391.7,355.51 392.2,357.13 392.7,358.56 393.2,359.7 393.7,357.52 394.2,356.09 394.7,354 395.2,352.16 395.7,351.06 396.2,351.92 396.7,352.63 397.2,355.06 397.7,356.98 398.2,358.7 398.7,358.48 399.2,357.79 399.7,355.01 400.2,353.57 400.7,352.47 401.2,352.03 401.7,352.64 402.2,353.45 402.7,354.85 403.2,355.83 403.7,357.24 404.2,358.42 404.7,357.84 405.2,356.53 405.7,354.7 406.2,354.2 406.7,353.56 407.2,352.55 407.7,353.33 408.2,354.38 408.7,355.89 409.2,356.21 409.7,356.82 410.2,356.39 410.7,356.63 411.2,355.19 411.7,354.02 412.2,353.54 412.7,352.68 413.2,352.59 413.7,353.43 414.2,354.39 414.7,356.44 415.2,357.42 415.7,357.6 416.2,356.38 416.7,355.79 417.2,353.1 417.7,352.65 418.2,351.77 418.7,352.91 419.2,355.09 419.7,355.92 420.2,357.53 420.7,358.02 421.2,357.25 421.7,356.62 422.2,355.94 422.7,354.28 423.2,352.67 423.7,351.6 424.2,351.39 424.7,352.49 425.2,354.69 425.7,356.63 426.2,357.8 426.7,358.08 427.2,357.94 427.7,356.77 428.2,354.69 428.7,353.43 429.2,353.16 429.7,353.07 430.2,354.28 430.7,354.4 431.2,355.76 431.7,356.64 432.2,357.26 432.7,356.32 433.2,355.58 433.7,355.59 434.2,353.28 434.7,353.09 435.2,353.29 435.7,353.95 436.2,354.92 436.7,355.75 437.2,356.88 437.7,356.51 438.2,357.21 438.7,355.83 439.2,355.15 439.7,353.24 440.2,352.52 440.7,351.86 441.2,353.32 441.7,354.57 442.2,356.41 442.7,357.31 443.2,358.55 443.7,357.32 444.2,356.18 444.7,354.68 445.2,352.1 445.7,351.29 446.2,351.91 446.7,351.64 447.2,354.4 447.7,355.85 448.2,357.46 448.7,358.55 449.2,358.55 449.7,358.33 450.2,355.45 450.7,353.95 451.2,352.54 451.7,352.61 452.2,352.48 452.7,352.47 453.2,354.09 453.7,355.58 454.2,357.63 454.7,358.04 455.2,357.31 455.7,356.34 456.2,354.91 456.7,353.34 457.2,352.78 457.7,352.52 458.2,353.19 458.7,353.92 459.2,356 459.7,357.37 460.2,358.2 460.7,358.1 461.2,357.24 461.7,355.95 462.2,352.65 462.7,352.49 463.2,351.39 463.7,352.27 464.2,352.79 464.7,355.32 465.2,357.06 465.7,357.95 466.2,358.07 466.7,356.44 467.2,355.68 467.7,354.36 468.2,353.37 468.7,352.68 469.2,353.2 469.7,354.11 470.2,355.94 470.7,356.32" stroke="#828282" stroke-width="0.9" fill="none" stroke-linejoin="round"/>
<text x="347.8" y="387.9" font-size="9.2" fill="#1a1a1a" stroke="#1a1a1a" stroke-width="0.22">Morphine</text>
<polyline points="437.7,381 457.5,381 457.5,376.2" stroke="#1a1a1a" stroke-width="0.8" fill="none"/>
<text x="435" y="391.2" font-size="9.2" fill="#1a1a1a" stroke="#1a1a1a" stroke-width="0.22">10 s</text>
<text x="470.4" y="389.1" font-size="9.2" fill="#1a1a1a" stroke="#1a1a1a" stroke-width="0.22" transform="rotate(-90 470.4 389.1)">20 μV</text>
<line x1="351.2" y1="402.2" x2="470.8" y2="402.2" stroke="#9a9a9a" stroke-width="0.7" stroke-dasharray="2.2,1.6"/>
<line x1="351.2" y1="427.3" x2="470.8" y2="427.3" stroke="#9a9a9a" stroke-width="0.7" stroke-dasharray="2.2,1.6"/>
<path d="M351.24,401.79 C351.75,401.28 353.11,398.55 354.31,398.72 C355.5,398.89 357.03,401.62 358.39,402.81 C359.76,404 360.61,404.85 362.48,405.87 C364.35,406.9 367.59,408.6 369.63,408.94 C371.68,409.28 373.21,409.11 374.74,407.92 C376.28,406.73 377.3,403.83 378.83,401.79 C380.36,399.74 382.24,396 383.94,395.66 C385.64,395.32 387.69,397.87 389.05,399.74 C390.41,401.62 391.26,406.05 392.12,406.9 C392.97,407.75 393.48,404.68 394.16,404.85 C394.84,405.02 395.35,409.11 396.2,407.92 C397.05,406.73 398.42,400.25 399.27,397.7 C400.12,395.15 400.29,392.59 401.31,392.59 C402.33,392.59 403.87,395.49 405.4,397.7 C406.93,399.91 408.81,404.34 410.51,405.87 C412.21,407.41 414.09,407.92 415.62,406.9 C417.15,405.87 418,401.45 419.71,399.74 C421.41,398.04 424.3,395.66 425.84,396.68 C427.37,397.7 428.05,404.85 428.9,405.87 C429.75,406.9 430.09,402.81 430.95,402.81 C431.8,402.81 432.82,406.05 434.01,405.87 C435.2,405.7 436.74,402.81 438.1,401.79 C439.46,400.77 440.82,398.72 442.19,399.74 C443.55,400.77 444.74,408.09 446.27,407.92 C447.81,407.75 450.02,399.91 451.38,398.72 C452.75,397.53 453.26,400.6 454.45,400.77 C455.64,400.94 457.17,398.89 458.54,399.74 C459.9,400.6 461.43,403.83 462.62,405.87 C463.82,407.92 464.33,412.52 465.69,412.01 C467.05,411.49 469.95,404.34 470.8,402.81" fill="none" stroke="#111" stroke-width="0.85"/>
<path d="M351.24,424.27 C351.41,425.63 351.58,432.1 352.26,432.44 C352.94,432.78 354.14,428.7 355.33,426.31 C356.52,423.93 358.22,418.14 359.42,418.14 C360.61,418.14 361.63,425.29 362.48,426.31 C363.33,427.33 363.67,425.29 364.52,424.27 C365.38,423.25 366.57,418.82 367.59,420.18 C368.61,421.54 369.63,431.25 370.66,432.44 C371.68,433.64 372.7,428.7 373.72,427.33 C374.74,425.97 375.94,424.44 376.79,424.27 C377.64,424.1 377.98,426.65 378.83,426.31 C379.68,425.97 380.87,423.42 381.9,422.22 C382.92,421.03 383.77,419.5 384.96,419.16 C386.15,418.82 387.86,417.97 389.05,420.18 C390.24,422.39 391.09,431.25 392.12,432.44 C393.14,433.64 393.99,428.87 395.18,427.33 C396.37,425.8 398.25,424.1 399.27,423.25 C400.29,422.39 400.29,421.54 401.31,422.22 C402.33,422.91 404.04,426.99 405.4,427.33 C406.76,427.67 408.29,423.59 409.49,424.27 C410.68,424.95 411.53,430.91 412.55,431.42 C413.57,431.93 414.6,428.53 415.62,427.33 C416.64,426.14 417.66,423.25 418.68,424.27 C419.71,425.29 420.56,433.29 421.75,433.47 C422.94,433.64 424.47,427.67 425.84,425.29 C427.2,422.91 428.56,418.65 429.92,419.16 C431.29,419.67 432.65,427.16 434.01,428.36 C435.37,429.55 436.74,427.16 438.1,426.31 C439.46,425.46 440.82,423.59 442.19,423.25 C443.55,422.91 444.91,423.59 446.27,424.27 C447.64,424.95 449,426.99 450.36,427.33 C451.72,427.67 453.09,426.99 454.45,426.31 C455.81,425.63 457.17,423.76 458.54,423.25 C459.9,422.74 461.43,421.71 462.62,423.25 C463.82,424.78 464.84,430.23 465.69,432.44 C466.54,434.66 466.88,436.7 467.73,436.53 C468.59,436.36 470.29,432.27 470.8,431.42" fill="none" stroke="#111" stroke-width="0.85"/>
<rect x="525.5" y="372.15" width="19" height="55.85" fill="#d3d3d6" stroke="#1a1a1a" stroke-width="0.8"/>
<rect x="555.4" y="387.28" width="19.4" height="40.72" fill="#f59a00" stroke="#1a1a1a" stroke-width="0.8"/>
<line x1="515.5" y1="323.6" x2="515.5" y2="428" stroke="#1a1a1a" stroke-width="0.8"/>
<line x1="515.5" y1="428" x2="585.8" y2="428" stroke="#1a1a1a" stroke-width="0.8"/>
<line x1="513.3" y1="428" x2="515.5" y2="428" stroke="#1a1a1a" stroke-width="0.8"/>
<text x="512.3" y="431.3" font-size="9.2" fill="#1a1a1a" stroke="#1a1a1a" stroke-width="0.22" text-anchor="end">0.0</text>
<line x1="513.3" y1="401.9" x2="515.5" y2="401.9" stroke="#1a1a1a" stroke-width="0.8"/>
<text x="512.3" y="405.2" font-size="9.2" fill="#1a1a1a" stroke="#1a1a1a" stroke-width="0.22" text-anchor="end">0.1</text>
<line x1="513.3" y1="375.8" x2="515.5" y2="375.8" stroke="#1a1a1a" stroke-width="0.8"/>
<text x="512.3" y="379.1" font-size="9.2" fill="#1a1a1a" stroke="#1a1a1a" stroke-width="0.22" text-anchor="end">0.2</text>
<line x1="513.3" y1="349.7" x2="515.5" y2="349.7" stroke="#1a1a1a" stroke-width="0.8"/>
<text x="512.3" y="353" font-size="9.2" fill="#1a1a1a" stroke="#1a1a1a" stroke-width="0.22" text-anchor="end">0.3</text>
<line x1="513.3" y1="323.6" x2="515.5" y2="323.6" stroke="#1a1a1a" stroke-width="0.8"/>
<text x="512.3" y="326.9" font-size="9.2" fill="#1a1a1a" stroke="#1a1a1a" stroke-width="0.22" text-anchor="end">0.4</text>
<line x1="535" y1="369.01" x2="535" y2="372.15" stroke="#1a1a1a" stroke-width="0.8"/>
<line x1="532.5" y1="369.01" x2="537.5" y2="369.01" stroke="#1a1a1a" stroke-width="0.8"/>
<line x1="565.1" y1="385.2" x2="565.1" y2="387.28" stroke="#1a1a1a" stroke-width="0.8"/>
<line x1="562.6" y1="385.2" x2="567.6" y2="385.2" stroke="#1a1a1a" stroke-width="0.8"/>
<line x1="534.8" y1="335" x2="566.8" y2="335" stroke="#1a1a1a" stroke-width="0.8"/>
<text x="550.8" y="332.5" font-size="8.5" fill="#1a1a1a" stroke="#1a1a1a" stroke-width="0.22" text-anchor="middle">**</text>
<text x="494.2" y="412.7" font-size="9.2" fill="#1a1a1a" stroke="#1a1a1a" stroke-width="0.22" transform="rotate(-90 494.2 412.7)">Frequency (Hz)</text>
<circle cx="534.5" cy="357.6" r="2.2" fill="#fff" stroke="#1a1a1a" stroke-width="0.75"/>
<circle cx="537.2" cy="356.6" r="2.2" fill="#fff" stroke="#1a1a1a" stroke-width="0.75"/>
<circle cx="533" cy="360" r="2.2" fill="#fff" stroke="#1a1a1a" stroke-width="0.75"/>
<circle cx="536.8" cy="364.2" r="2.2" fill="#fff" stroke="#1a1a1a" stroke-width="0.75"/>
<circle cx="536.7" cy="367.8" r="2.2" fill="#fff" stroke="#1a1a1a" stroke-width="0.75"/>
<circle cx="528.5" cy="376.3" r="2.2" fill="#fff" stroke="#1a1a1a" stroke-width="0.75"/>
<circle cx="528.5" cy="380.4" r="2.2" fill="#fff" stroke="#1a1a1a" stroke-width="0.75"/>
<circle cx="532.6" cy="380.4" r="2.2" fill="#fff" stroke="#1a1a1a" stroke-width="0.75"/>
<circle cx="537.6" cy="377.5" r="2.2" fill="#fff" stroke="#1a1a1a" stroke-width="0.75"/>
<circle cx="540.8" cy="380" r="2.2" fill="#fff" stroke="#1a1a1a" stroke-width="0.75"/>
<circle cx="543.5" cy="382" r="2.2" fill="#fff" stroke="#1a1a1a" stroke-width="0.75"/>
<circle cx="535.5" cy="381.5" r="2.2" fill="#fff" stroke="#1a1a1a" stroke-width="0.75"/>
<circle cx="563.4" cy="373.2" r="2.2" fill="#fff" stroke="#1a1a1a" stroke-width="0.75"/>
<circle cx="568.3" cy="378.7" r="2.2" fill="#fff" stroke="#1a1a1a" stroke-width="0.75"/>
<circle cx="565.1" cy="382.9" r="2.2" fill="#fff" stroke="#1a1a1a" stroke-width="0.75"/>
<circle cx="572.9" cy="386" r="2.2" fill="#fff" stroke="#1a1a1a" stroke-width="0.75"/>
<circle cx="559" cy="389.2" r="2.2" fill="#fff" stroke="#1a1a1a" stroke-width="0.75"/>
<circle cx="563.5" cy="388.5" r="2.2" fill="#fff" stroke="#1a1a1a" stroke-width="0.75"/>
<circle cx="567.5" cy="388" r="2.2" fill="#fff" stroke="#1a1a1a" stroke-width="0.75"/>
<circle cx="561.5" cy="393.3" r="2.2" fill="#fff" stroke="#1a1a1a" stroke-width="0.75"/>
<circle cx="565.5" cy="394" r="2.2" fill="#fff" stroke="#1a1a1a" stroke-width="0.75"/>
<circle cx="570" cy="396.5" r="2.2" fill="#fff" stroke="#1a1a1a" stroke-width="0.75"/>
<circle cx="558.5" cy="391.5" r="2.2" fill="#fff" stroke="#1a1a1a" stroke-width="0.75"/>
<rect x="620.1" y="400.82" width="20.1" height="26.28" fill="#d3d3d6" stroke="#1a1a1a" stroke-width="0.8"/>
<rect x="650.7" y="356.16" width="19" height="70.94" fill="#f59a00" stroke="#1a1a1a" stroke-width="0.8"/>
<line x1="610.6" y1="323.3" x2="610.6" y2="427.1" stroke="#1a1a1a" stroke-width="0.8"/>
<line x1="610.6" y1="427.1" x2="680.3" y2="427.1" stroke="#1a1a1a" stroke-width="0.8"/>
<line x1="608.4" y1="427.1" x2="610.6" y2="427.1" stroke="#1a1a1a" stroke-width="0.8"/>
<text x="607.4" y="430.4" font-size="9.2" fill="#1a1a1a" stroke="#1a1a1a" stroke-width="0.22" text-anchor="end">0</text>
<line x1="608.4" y1="401.21" x2="610.6" y2="401.21" stroke="#1a1a1a" stroke-width="0.8"/>
<text x="607.4" y="404.51" font-size="9.2" fill="#1a1a1a" stroke="#1a1a1a" stroke-width="0.22" text-anchor="end">20</text>
<line x1="608.4" y1="375.32" x2="610.6" y2="375.32" stroke="#1a1a1a" stroke-width="0.8"/>
<text x="607.4" y="378.62" font-size="9.2" fill="#1a1a1a" stroke="#1a1a1a" stroke-width="0.22" text-anchor="end">40</text>
<line x1="608.4" y1="349.43" x2="610.6" y2="349.43" stroke="#1a1a1a" stroke-width="0.8"/>
<text x="607.4" y="352.73" font-size="9.2" fill="#1a1a1a" stroke="#1a1a1a" stroke-width="0.22" text-anchor="end">60</text>
<line x1="608.4" y1="323.54" x2="610.6" y2="323.54" stroke="#1a1a1a" stroke-width="0.8"/>
<text x="607.4" y="326.84" font-size="9.2" fill="#1a1a1a" stroke="#1a1a1a" stroke-width="0.22" text-anchor="end">80</text>
<line x1="630.15" y1="398.23" x2="630.15" y2="400.82" stroke="#1a1a1a" stroke-width="0.8"/>
<line x1="627.65" y1="398.23" x2="632.65" y2="398.23" stroke="#1a1a1a" stroke-width="0.8"/>
<line x1="660.2" y1="351.89" x2="660.2" y2="356.16" stroke="#1a1a1a" stroke-width="0.8"/>
<line x1="657.7" y1="351.89" x2="662.7" y2="351.89" stroke="#1a1a1a" stroke-width="0.8"/>
<line x1="630.1" y1="334.6" x2="659.7" y2="334.6" stroke="#1a1a1a" stroke-width="0.8"/>
<text x="644.9" y="332.1" font-size="8.5" fill="#1a1a1a" stroke="#1a1a1a" stroke-width="0.22" text-anchor="middle">***</text>
<text x="591.9" y="409" font-size="9.2" fill="#1a1a1a" stroke="#1a1a1a" stroke-width="0.22" transform="rotate(-90 591.9 409)">Amplitude (μV)</text>
<circle cx="630.9" cy="388.5" r="2.2" fill="#fff" stroke="#1a1a1a" stroke-width="0.75"/>
<circle cx="623.8" cy="398.3" r="2.2" fill="#fff" stroke="#1a1a1a" stroke-width="0.75"/>
<circle cx="627.6" cy="396.5" r="2.2" fill="#fff" stroke="#1a1a1a" stroke-width="0.75"/>
<circle cx="631.4" cy="396.5" r="2.2" fill="#fff" stroke="#1a1a1a" stroke-width="0.75"/>
<circle cx="634.6" cy="397.8" r="2.2" fill="#fff" stroke="#1a1a1a" stroke-width="0.75"/>
<circle cx="638.1" cy="397.8" r="2.2" fill="#fff" stroke="#1a1a1a" stroke-width="0.75"/>
<circle cx="629" cy="401.3" r="2.2" fill="#fff" stroke="#1a1a1a" stroke-width="0.75"/>
<circle cx="633.2" cy="403" r="2.2" fill="#fff" stroke="#1a1a1a" stroke-width="0.75"/>
<circle cx="625.1" cy="408.8" r="2.2" fill="#fff" stroke="#1a1a1a" stroke-width="0.75"/>
<circle cx="630.1" cy="410" r="2.2" fill="#fff" stroke="#1a1a1a" stroke-width="0.75"/>
<circle cx="635.1" cy="410" r="2.2" fill="#fff" stroke="#1a1a1a" stroke-width="0.75"/>
<circle cx="627" cy="402" r="2.2" fill="#fff" stroke="#1a1a1a" stroke-width="0.75"/>
<circle cx="660.2" cy="339.4" r="2.2" fill="#fff" stroke="#1a1a1a" stroke-width="0.75"/>
<circle cx="660.7" cy="345.1" r="2.2" fill="#fff" stroke="#1a1a1a" stroke-width="0.75"/>
<circle cx="657.2" cy="348.9" r="2.2" fill="#fff" stroke="#1a1a1a" stroke-width="0.75"/>
<circle cx="662.2" cy="348.9" r="2.2" fill="#fff" stroke="#1a1a1a" stroke-width="0.75"/>
<circle cx="652.7" cy="360.7" r="2.2" fill="#fff" stroke="#1a1a1a" stroke-width="0.75"/>
<circle cx="657.7" cy="361.4" r="2.2" fill="#fff" stroke="#1a1a1a" stroke-width="0.75"/>
<circle cx="663.9" cy="360.7" r="2.2" fill="#fff" stroke="#1a1a1a" stroke-width="0.75"/>
<circle cx="667.7" cy="360.7" r="2.2" fill="#fff" stroke="#1a1a1a" stroke-width="0.75"/>
<circle cx="666.5" cy="363.9" r="2.2" fill="#fff" stroke="#1a1a1a" stroke-width="0.75"/>
<circle cx="659" cy="368.9" r="2.2" fill="#fff" stroke="#1a1a1a" stroke-width="0.75"/>
<circle cx="663.5" cy="369.7" r="2.2" fill="#fff" stroke="#1a1a1a" stroke-width="0.75"/>
<circle cx="558" cy="439" r="1.8" fill="#fff" stroke="#1a1a1a" stroke-width="0.8"/>
<text x="563.6" y="441.9" font-size="9.2" fill="#1a1a1a" stroke="#1a1a1a" stroke-width="0.22">ACSF</text>
<circle cx="600.3" cy="439.0" r="2.1" fill="#f59a00" stroke="#1a1a1a" stroke-width="0.6"/>
<text x="606.2" y="441.9" font-size="9.2" fill="#1a1a1a" stroke="#1a1a1a" stroke-width="0.22">Morphine</text>
<line x1="205.5" y1="480.2" x2="205.5" y2="572" stroke="#1a1a1a" stroke-width="0.8"/>
<line x1="205.5" y1="572" x2="329.5" y2="572" stroke="#1a1a1a" stroke-width="0.8"/>
<line x1="203.3" y1="572" x2="205.5" y2="572" stroke="#1a1a1a" stroke-width="0.8"/>
<text x="202.7" y="575.3" font-size="8.9" fill="#1a1a1a" stroke="#1a1a1a" stroke-width="0.22" text-anchor="end">0</text>
<line x1="203.3" y1="541.4" x2="205.5" y2="541.4" stroke="#1a1a1a" stroke-width="0.8"/>
<text x="202.7" y="544.7" font-size="8.9" fill="#1a1a1a" stroke="#1a1a1a" stroke-width="0.22" text-anchor="end">50</text>
<line x1="203.3" y1="510.8" x2="205.5" y2="510.8" stroke="#1a1a1a" stroke-width="0.8"/>
<text x="202.7" y="514.1" font-size="8.9" fill="#1a1a1a" stroke="#1a1a1a" stroke-width="0.22" text-anchor="end">100</text>
<line x1="203.3" y1="480.2" x2="205.5" y2="480.2" stroke="#1a1a1a" stroke-width="0.8"/>
<text x="202.7" y="483.5" font-size="8.9" fill="#1a1a1a" stroke="#1a1a1a" stroke-width="0.22" text-anchor="end">150</text>
<line x1="219.4" y1="572" x2="219.4" y2="574" stroke="#1a1a1a" stroke-width="0.8"/>
<text x="219.4" y="581.6" font-size="9.2" fill="#1a1a1a" stroke="#1a1a1a" stroke-width="0.22" text-anchor="middle">BL</text>
<line x1="241.8" y1="572" x2="241.8" y2="574" stroke="#1a1a1a" stroke-width="0.8"/>
<text x="241.8" y="581.6" font-size="9.2" fill="#1a1a1a" stroke="#1a1a1a" stroke-width="0.22" text-anchor="middle">2</text>
<line x1="263.2" y1="572" x2="263.2" y2="574" stroke="#1a1a1a" stroke-width="0.8"/>
<text x="263.2" y="581.6" font-size="9.2" fill="#1a1a1a" stroke="#1a1a1a" stroke-width="0.22" text-anchor="middle">4</text>
<line x1="284.8" y1="572" x2="284.8" y2="574" stroke="#1a1a1a" stroke-width="0.8"/>
<text x="284.8" y="581.6" font-size="9.2" fill="#1a1a1a" stroke="#1a1a1a" stroke-width="0.22" text-anchor="middle">6</text>
<line x1="306.6" y1="572" x2="306.6" y2="574" stroke="#1a1a1a" stroke-width="0.8"/>
<text x="306.6" y="581.6" font-size="9.2" fill="#1a1a1a" stroke="#1a1a1a" stroke-width="0.22" text-anchor="middle">8</text>
<line x1="328.2" y1="572" x2="328.2" y2="574" stroke="#1a1a1a" stroke-width="0.8"/>
<text x="328.2" y="581.6" font-size="9.2" fill="#1a1a1a" stroke="#1a1a1a" stroke-width="0.22" text-anchor="middle">10</text>
<line x1="226.2" y1="585.4" x2="330.7" y2="585.4" stroke="#1a1a1a" stroke-width="0.8"/>
<text x="200.5" y="595.7" font-size="9.2" fill="#1a1a1a" stroke="#1a1a1a" stroke-width="0.22">Time post morphine injection (h)</text>
<text x="184.9" y="584.9" font-size="9.3" fill="#1a1a1a" stroke="#1a1a1a" stroke-width="0.22" transform="rotate(-90 184.9 584.9)">Weight of fecal pellets (g)</text>
<line x1="224.2" y1="482.4" x2="235.2" y2="482.4" stroke="#6e6e6e" stroke-width="0.8"/>
<circle cx="229.8" cy="482.4" r="2.1" fill="#fff" stroke="#6e6e6e" stroke-width="0.8"/>
<text x="238.1" y="485.6" font-size="9.2" fill="#1a1a1a" stroke="#1a1a1a" stroke-width="0.22">Morphine + ACSF</text>
<line x1="224.2" y1="497" x2="235.2" y2="497" stroke="#2ecc2e" stroke-width="0.9"/>
<circle cx="229.8" cy="497" r="2.1" fill="#fff" stroke="#2ecc2e" stroke-width="0.9"/>
<text x="238.1" y="500.2" font-size="9.2" fill="#1a1a1a" stroke="#1a1a1a" stroke-width="0.22">Morphine + Naloxone</text>
<line x1="219.4" y1="517.53" x2="219.4" y2="524.88" stroke="#6e6e6e" stroke-width="0.8"/>
<line x1="217.4" y1="517.53" x2="221.4" y2="517.53" stroke="#6e6e6e" stroke-width="0.8"/>
<line x1="217.4" y1="524.88" x2="221.4" y2="524.88" stroke="#6e6e6e" stroke-width="0.8"/>
<line x1="263.2" y1="568.33" x2="263.2" y2="570.78" stroke="#6e6e6e" stroke-width="0.8"/>
<line x1="261.2" y1="568.33" x2="265.2" y2="568.33" stroke="#6e6e6e" stroke-width="0.8"/>
<line x1="261.2" y1="570.78" x2="265.2" y2="570.78" stroke="#6e6e6e" stroke-width="0.8"/>
<line x1="284.8" y1="559.76" x2="284.8" y2="565.88" stroke="#6e6e6e" stroke-width="0.8"/>
<line x1="282.8" y1="559.76" x2="286.8" y2="559.76" stroke="#6e6e6e" stroke-width="0.8"/>
<line x1="282.8" y1="565.88" x2="286.8" y2="565.88" stroke="#6e6e6e" stroke-width="0.8"/>
<line x1="306.6" y1="521.2" x2="306.6" y2="529.77" stroke="#6e6e6e" stroke-width="0.8"/>
<line x1="304.6" y1="521.2" x2="308.6" y2="521.2" stroke="#6e6e6e" stroke-width="0.8"/>
<line x1="304.6" y1="529.77" x2="308.6" y2="529.77" stroke="#6e6e6e" stroke-width="0.8"/>
<line x1="328.2" y1="531.61" x2="328.2" y2="538.95" stroke="#6e6e6e" stroke-width="0.8"/>
<line x1="326.2" y1="531.61" x2="330.2" y2="531.61" stroke="#6e6e6e" stroke-width="0.8"/>
<line x1="326.2" y1="538.95" x2="330.2" y2="538.95" stroke="#6e6e6e" stroke-width="0.8"/>
<line x1="219.4" y1="505.9" x2="219.4" y2="518.14" stroke="#2ecc2e" stroke-width="0.8"/>
<line x1="217.4" y1="505.9" x2="221.4" y2="505.9" stroke="#2ecc2e" stroke-width="0.8"/>
<line x1="217.4" y1="518.14" x2="221.4" y2="518.14" stroke="#2ecc2e" stroke-width="0.8"/>
<line x1="263.2" y1="534.06" x2="263.2" y2="547.52" stroke="#2ecc2e" stroke-width="0.8"/>
<line x1="261.2" y1="534.06" x2="265.2" y2="534.06" stroke="#2ecc2e" stroke-width="0.8"/>
<line x1="261.2" y1="547.52" x2="265.2" y2="547.52" stroke="#2ecc2e" stroke-width="0.8"/>
<line x1="284.8" y1="547.52" x2="284.8" y2="554.86" stroke="#2ecc2e" stroke-width="0.8"/>
<line x1="282.8" y1="547.52" x2="286.8" y2="547.52" stroke="#2ecc2e" stroke-width="0.8"/>
<line x1="282.8" y1="554.86" x2="286.8" y2="554.86" stroke="#2ecc2e" stroke-width="0.8"/>
<line x1="306.6" y1="524.26" x2="306.6" y2="535.28" stroke="#2ecc2e" stroke-width="0.8"/>
<line x1="304.6" y1="524.26" x2="308.6" y2="524.26" stroke="#2ecc2e" stroke-width="0.8"/>
<line x1="304.6" y1="535.28" x2="308.6" y2="535.28" stroke="#2ecc2e" stroke-width="0.8"/>
<line x1="328.2" y1="540.18" x2="328.2" y2="547.52" stroke="#2ecc2e" stroke-width="0.8"/>
<line x1="326.2" y1="540.18" x2="330.2" y2="540.18" stroke="#2ecc2e" stroke-width="0.8"/>
<line x1="326.2" y1="547.52" x2="330.2" y2="547.52" stroke="#2ecc2e" stroke-width="0.8"/>
<polyline points="219.4,521.2 241.8,568.94 263.2,569.55 284.8,562.82 306.6,525.49 328.2,535.28" stroke="#6e6e6e" stroke-width="0.9" fill="none"/>
<polyline points="219.4,512.02 241.8,568.33 263.2,540.79 284.8,551.19 306.6,529.77 328.2,543.85" stroke="#2ecc2e" stroke-width="1.0" fill="none"/>
<circle cx="219.4" cy="521.2" r="2.2" fill="#fff" stroke="#6e6e6e" stroke-width="0.85"/>
<circle cx="241.8" cy="568.94" r="2.2" fill="#fff" stroke="#6e6e6e" stroke-width="0.85"/>
<circle cx="263.2" cy="569.55" r="2.2" fill="#fff" stroke="#6e6e6e" stroke-width="0.85"/>
<circle cx="284.8" cy="562.82" r="2.2" fill="#fff" stroke="#6e6e6e" stroke-width="0.85"/>
<circle cx="306.6" cy="525.49" r="2.2" fill="#fff" stroke="#6e6e6e" stroke-width="0.85"/>
<circle cx="328.2" cy="535.28" r="2.2" fill="#fff" stroke="#6e6e6e" stroke-width="0.85"/>
<circle cx="219.4" cy="512.02" r="2.2" fill="#fff" stroke="#2ecc2e" stroke-width="0.9"/>
<circle cx="241.8" cy="568.33" r="2.2" fill="#fff" stroke="#2ecc2e" stroke-width="0.9"/>
<circle cx="263.2" cy="540.79" r="2.2" fill="#fff" stroke="#2ecc2e" stroke-width="0.9"/>
<circle cx="284.8" cy="551.19" r="2.2" fill="#fff" stroke="#2ecc2e" stroke-width="0.9"/>
<circle cx="306.6" cy="529.77" r="2.2" fill="#fff" stroke="#2ecc2e" stroke-width="0.9"/>
<circle cx="328.2" cy="543.85" r="2.2" fill="#fff" stroke="#2ecc2e" stroke-width="0.9"/>
<text x="263.2" y="532.2" font-size="8.5" fill="#1a1a1a" stroke="#1a1a1a" stroke-width="0.22" text-anchor="middle">*</text>
<line x1="221.6" y1="538" x2="221.6" y2="534.1" stroke="#e8141e" stroke-width="1.3"/>
<path d="M219.3,534.6 L223.9,534.6 L221.6,530Z" fill="#e8141e"/>
<line x1="245.9" y1="553.8" x2="245.9" y2="557.1" stroke="#0a8a3a" stroke-width="1.3"/>
<path d="M243.6,556.6 L248.2,556.6 L245.9,561.2Z" fill="#0a8a3a"/>
<text x="347.8" y="480.7" font-size="9.2" fill="#1a1a1a" stroke="#1a1a1a" stroke-width="0.22">Morphine + ACSF</text>
<line x1="350.2" y1="496.6" x2="470.8" y2="496.6" stroke="#a8a8a8" stroke-width="0.7" stroke-dasharray="2.2,1.6"/>
<line x1="350.2" y1="518.9" x2="470.8" y2="518.9" stroke="#a8a8a8" stroke-width="0.7" stroke-dasharray="2.2,1.6"/>
<path d="M350.22,496.6 C350.73,496.49 352.26,496.67 353.28,495.98 C354.31,495.3 355.33,492.92 356.35,492.51 C357.37,492.1 358.39,492.78 359.42,493.53 C360.44,494.28 361.46,495.75 362.48,497.01 C363.5,498.27 364.52,500 365.55,501.09 C366.57,502.18 367.59,502.93 368.61,503.55 C369.63,504.16 370.66,505.35 371.68,504.77 C372.7,504.19 373.89,501.88 374.74,500.07 C375.6,498.27 376.11,495.64 376.79,493.94 C377.47,492.24 378.15,489.85 378.83,489.85 C379.51,489.85 380.02,491.9 380.87,493.94 C381.73,495.98 382.92,500.07 383.94,502.12 C384.96,504.16 385.98,506.2 387.01,506.2 C388.03,506.2 389.05,504.67 390.07,502.12 C391.09,499.56 392.29,493.26 393.14,490.87 C393.99,488.49 394.5,487.3 395.18,487.81 C395.86,488.32 396.37,492.24 397.22,493.94 C398.08,495.64 399.44,497.69 400.29,498.03 C401.14,498.37 401.48,497.18 402.33,495.98 C403.19,494.79 404.38,491.39 405.4,490.87 C406.42,490.36 407.44,492.75 408.47,492.92 C409.49,493.09 410.51,492.24 411.53,491.9 C412.55,491.56 413.57,490.19 414.6,490.87 C415.62,491.56 416.64,493.94 417.66,495.98 C418.68,498.03 419.71,501.09 420.73,503.14 C421.75,505.18 422.77,508.25 423.79,508.25 C424.82,508.25 425.84,504.06 426.86,503.14 C427.88,502.22 428.9,502.66 429.92,502.73 C430.95,502.8 431.97,503.14 432.99,503.55 C434.01,503.95 435.2,505.59 436.06,505.18 C436.91,504.77 437.42,503.14 438.1,501.09 C438.78,499.05 439.46,495.64 440.14,492.92 C440.82,490.19 441.51,486.51 442.19,484.74 C442.87,482.97 443.55,482.29 444.23,482.29 C444.91,482.29 445.59,482.97 446.27,484.74 C446.96,486.51 447.64,490.19 448.32,492.92 C449,495.64 449.51,498.98 450.36,501.09 C451.21,503.21 452.41,505.59 453.43,505.59 C454.45,505.59 455.47,502.86 456.49,501.09 C457.51,499.32 458.54,496.15 459.56,494.96 C460.58,493.77 461.43,494.21 462.62,493.94 C463.82,493.67 465.52,492.82 466.71,493.33 C467.9,493.84 469.1,496.32 469.78,497.01 C470.46,497.69 470.63,497.35 470.8,497.41" fill="none" stroke="#7a7a7a" stroke-width="0.85"/>
<path d="M350.22,518.9 C350.56,517.94 351.58,514.74 352.26,513.17 C352.94,511.61 353.62,509.33 354.31,509.5 C354.99,509.67 355.67,512.63 356.35,514.2 C357.03,515.76 357.71,517.98 358.39,518.9 C359.07,519.82 359.76,519.82 360.44,519.71 C361.12,519.61 361.63,518.01 362.48,518.28 C363.33,518.56 364.52,519.82 365.55,521.35 C366.57,522.88 367.59,525.27 368.61,527.48 C369.63,529.7 370.66,533.61 371.68,534.63 C372.7,535.66 373.89,534.8 374.74,533.61 C375.6,532.42 375.94,530.04 376.79,527.48 C377.64,524.93 378.83,520.33 379.85,518.28 C380.87,516.24 381.9,515.9 382.92,515.22 C383.94,514.54 384.96,514.61 385.98,514.2 C387.01,513.79 388.03,512.6 389.05,512.77 C390.07,512.94 391.26,515.32 392.12,515.22 C392.97,515.12 393.31,512.77 394.16,512.15 C395.01,511.54 396.2,511.44 397.22,511.54 C398.25,511.64 399.27,512.22 400.29,512.77 C401.31,513.31 402.33,514.13 403.36,514.81 C404.38,515.49 405.4,516.1 406.42,516.85 C407.44,517.6 408.47,518.83 409.49,519.31 C410.51,519.78 411.53,519.78 412.55,519.71 C413.57,519.65 414.6,518.9 415.62,518.9 C416.64,518.9 417.83,518.97 418.68,519.71 C419.54,520.46 420.05,521.76 420.73,523.39 C421.41,525.03 422.19,527.99 422.77,529.52 C423.35,531.06 423.52,532.76 424.2,532.59 C424.88,532.42 425.91,529.87 426.86,528.5 C427.81,527.14 428.9,526.12 429.92,524.42 C430.95,522.71 431.97,519.65 432.99,518.28 C434.01,516.92 434.86,516.24 436.06,516.24 C437.25,516.24 438.95,518.28 440.14,518.28 C441.34,518.28 442.19,516.92 443.21,516.24 C444.23,515.56 445.42,514.71 446.27,514.2 C447.13,513.69 447.64,512.66 448.32,513.17 C449,513.69 449.68,515.39 450.36,517.26 C451.04,519.14 451.55,522.03 452.41,524.42 C453.26,526.8 454.62,530.1 455.47,531.57 C456.32,533.03 456.83,533.88 457.51,533.2 C458.2,532.52 458.88,530.14 459.56,527.48 C460.24,524.82 460.82,520.16 461.6,517.26 C462.39,514.37 463.41,510.96 464.26,510.11 C465.11,509.26 465.89,510.79 466.71,512.15 C467.53,513.52 468.48,517.09 469.16,518.28 C469.85,519.48 470.53,519.14 470.8,519.31" fill="none" stroke="#7a7a7a" stroke-width="0.85"/>
<polyline points="445.2,543.8 464.3,543.8 464.3,539.3" stroke="#1a1a1a" stroke-width="0.8" fill="none"/>
<text x="442.2" y="555.1" font-size="9.2" fill="#1a1a1a" stroke="#1a1a1a" stroke-width="0.22">10 s</text>
<text x="477.6" y="553" font-size="9.2" fill="#1a1a1a" stroke="#1a1a1a" stroke-width="0.22" transform="rotate(-90 477.6 553)">20 μV</text>
<text x="347.8" y="556.7" font-size="9.2" fill="#1a1a1a" stroke="#1a1a1a" stroke-width="0.22">Morphine + Naloxone</text>
<line x1="350.2" y1="568.4" x2="470.8" y2="568.4" stroke="#a8a8a8" stroke-width="0.7" stroke-dasharray="2.2,1.6"/>
<line x1="350.2" y1="587.8" x2="470.8" y2="587.8" stroke="#a8a8a8" stroke-width="0.7" stroke-dasharray="2.2,1.6"/>
<polyline points="350.2,569.7 350.7,569.77 351.2,569.58 351.7,569.2 352.2,568.78 352.7,568.45 353.2,568.25 353.7,568.19 354.2,568.17 354.7,568.1 355.2,567.9 355.7,567.57 356.2,567.19 356.7,566.88 357.2,566.76 357.7,566.91 358.2,567.32 358.7,567.89 359.2,568.49 359.7,568.97 360.2,569.25 360.7,569.33 361.2,569.28 361.7,569.23 362.2,569.27 362.7,569.43 363.2,569.66 363.7,569.83 364.2,569.79 364.7,569.43 365.2,568.75 365.7,567.89 366.2,567.06 366.7,566.5 367.2,566.4 367.7,566.83 368.2,567.65 368.7,568.63 369.2,569.43 369.7,569.79 370.2,569.56 370.7,568.79 371.2,567.71 371.7,566.67 372.2,566.02 372.7,565.99 373.2,566.62 373.7,567.75 374.2,569.08 374.7,570.25 375.2,570.97 375.7,571.1 376.2,570.69 376.7,569.93 377.2,569.1 377.7,568.45 378.2,568.12 378.7,568.11 379.2,568.27 379.7,568.42 380.2,568.37 380.7,568.05 381.2,567.52 381.7,566.92 382.2,566.49 382.7,566.39 383.2,566.71 383.7,567.38 384.2,568.25 384.7,569.06 385.2,569.62 385.7,569.8 386.2,569.61 386.7,569.15 387.2,568.62 387.7,568.21 388.2,568.04 388.7,568.13 389.2,568.41 389.7,568.75 390.2,569.04 390.7,569.19 391.2,569.18 391.7,569.07 392.2,568.93 392.7,568.8 393.2,568.7 393.7,568.59 394.2,568.38 394.7,568.04 395.2,567.57 395.7,567.04 396.2,566.6 396.7,566.42 397.2,566.6 397.7,567.17 398.2,568.01 398.7,568.93 399.2,569.68 399.7,570.06 400.2,569.98 400.7,569.5 401.2,568.82 401.7,568.19 402.2,567.85 402.7,567.93 403.2,568.41 403.7,569.1 404.2,569.72 404.7,570.02 405.2,569.84 405.7,569.18 406.2,568.21 406.7,567.23 407.2,566.52 407.7,566.32 408.2,566.67 408.7,567.45 409.2,568.38 409.7,569.16 410.2,569.53 410.7,569.4 411.2,568.84 411.7,568.08 412.2,567.4 412.7,567.05 413.2,567.17 413.7,567.71 414.2,568.49 414.7,569.26 415.2,569.77 415.7,569.88 416.2,569.6 416.7,569.07 417.2,568.51 417.7,568.13 418.2,568.06 418.7,568.29 419.2,568.7 419.7,569.1 420.2,569.29 420.7,569.16 421.2,568.71 421.7,568.06 422.2,567.38 422.7,566.87 423.2,566.66 423.7,566.78 424.2,567.16 424.7,567.68 425.2,568.2 425.7,568.62 426.2,568.89 426.7,569.05 427.2,569.15 427.7,569.23 428.2,569.31 428.7,569.35 429.2,569.27 429.7,569.03 430.2,568.62 430.7,568.13 431.2,567.69 431.7,567.47 432.2,567.58 432.7,568.04 433.2,568.74 433.7,569.49 434.2,570.02 434.7,570.12 435.2,569.71 435.7,568.83 436.2,567.71 436.7,566.65 437.2,565.94 437.7,565.77 438.2,566.17 438.7,567 439.2,568 439.7,568.88 440.2,569.42 440.7,569.52 441.2,569.28 441.7,568.89 442.2,568.59 442.7,568.58 443.2,568.89 443.7,569.43 444.2,569.99 444.7,570.29 445.2,570.17 445.7,569.56 446.2,568.58 446.7,567.5 447.2,566.62 447.7,566.19 448.2,566.34 448.7,567 449.2,567.93 449.7,568.84 450.2,569.42 450.7,569.51 451.2,569.09 451.7,568.33 452.2,567.49 452.7,566.85 453.2,566.62 453.7,566.87 454.2,567.52 454.7,568.38 455.2,569.22 455.7,569.84 456.2,570.15 456.7,570.16 457.2,569.96 457.7,569.68 458.2,569.4 458.7,569.18 459.2,568.98 459.7,568.75 460.2,568.42 460.7,568 461.2,567.52 461.7,567.1 462.2,566.84 462.7,566.81 463.2,567.02 463.7,567.4 464.2,567.8 464.7,568.11 465.2,568.24 465.7,568.19 466.2,568.07 466.7,568 467.2,568.13 467.7,568.52 468.2,569.13 468.7,569.82 469.2,570.36 469.7,570.58 470.2,570.37 470.7,569.74" stroke="#111" stroke-width="0.85" fill="none" stroke-linejoin="round"/>
<polyline points="350.2,586.99 350.7,586.82 351.2,586.58 351.7,586.32 352.2,586.17 352.7,586.21 353.2,586.49 353.7,586.96 354.2,587.48 354.7,587.9 355.2,588.11 355.7,588.1 356.2,587.98 356.7,587.92 357.2,588.09 357.7,588.57 358.2,589.28 358.7,589.99 359.2,590.42 359.7,590.32 360.2,589.6 360.7,588.36 361.2,586.9 361.7,585.59 362.2,584.8 362.7,584.71 363.2,585.3 363.7,586.35 364.2,587.5 364.7,588.4 365.2,588.83 365.7,588.72 366.2,588.18 366.7,587.43 367.2,586.71 367.7,586.2 368.2,585.99 368.7,586.07 369.2,586.39 369.7,586.87 370.2,587.43 370.7,588.02 371.2,588.6 371.7,589.08 372.2,589.38 372.7,589.43 373.2,589.21 373.7,588.75 374.2,588.19 374.7,587.71 375.2,587.47 375.7,587.53 376.2,587.82 376.7,588.17 377.2,588.33 377.7,588.1 378.2,587.45 378.7,586.48 379.2,585.5 379.7,584.85 380.2,584.82 380.7,585.51 381.2,586.76 381.7,588.24 382.2,589.5 382.7,590.14 383.2,589.98 383.7,589.08 384.2,587.72 384.7,586.35 385.2,585.38 385.7,585.09 386.2,585.53 386.7,586.55 387.2,587.83 387.7,589.04 388.2,589.9 388.7,590.26 389.2,590.12 389.7,589.58 390.2,588.79 390.7,587.92 391.2,587.11 391.7,586.47 392.2,586.1 392.7,586.02 393.2,586.26 393.7,586.74 394.2,587.34 394.7,587.87 395.2,588.16 395.7,588.09 396.2,587.66 396.7,587.02 397.2,586.42 397.7,586.14 398.2,586.36 398.7,587.1 399.2,588.16 399.7,589.2 400.2,589.85 400.7,589.81 401.2,589.03 401.7,587.71 402.2,586.26 402.7,585.16 403.2,584.8 403.7,585.35 404.2,586.67 404.7,588.37 405.2,589.94 405.7,590.93 406.2,591.06 406.7,590.3 407.2,588.92 407.7,587.3 408.2,585.87 408.7,584.97 409.2,584.73 409.7,585.12 410.2,585.96 410.7,587.01 411.2,588.02 411.7,588.79 412.2,589.21 412.7,589.23 413.2,588.89 413.7,588.26 414.2,587.5 414.7,586.77 415.2,586.27 415.7,586.16 416.2,586.48 416.7,587.16 417.2,588 417.7,588.72 418.2,589.04 418.7,588.81 419.2,588.07 419.7,587.05 420.2,586.14 420.7,585.69 421.2,585.96 421.7,586.94 422.2,588.36 422.7,589.79 423.2,590.72 423.7,590.8 424.2,589.94 424.7,588.35 425.2,586.49 425.7,584.91 426.2,584.06 426.7,584.19 427.2,585.21 427.7,586.8 428.2,588.48 428.7,589.8 429.2,590.44 429.7,590.29 430.2,589.47 430.7,588.27 431.2,586.99 431.7,585.95 432.2,585.32 432.7,585.2 433.2,585.54 433.7,586.26 434.2,587.19 434.7,588.14 435.2,588.93 435.7,589.39 436.2,589.42 436.7,589.01 437.2,588.3 437.7,587.49 438.2,586.86 438.7,586.65 439.2,586.96 439.7,587.71 440.2,588.64 440.7,589.39 441.2,589.63 441.7,589.16 442.2,588.05 442.7,586.59 443.2,585.25 443.7,584.46 444.2,584.54 444.7,585.51 445.2,587.08 445.7,588.78 446.2,590.07 446.7,590.55 447.2,590.08 447.7,588.8 448.2,587.12 448.7,585.55 449.2,584.54 449.7,584.33 450.2,584.96 450.7,586.2 451.2,587.71 451.7,589.12 452.2,590.15 452.7,590.63 453.2,590.56 453.7,590.02 454.2,589.17 454.7,588.2 455.2,587.28 455.7,586.58 456.2,586.2 456.7,586.22 457.2,586.6 457.7,587.21 458.2,587.85 458.7,588.28 459.2,588.33 459.7,587.9 460.2,587.11 460.7,586.2 461.2,585.49 461.7,585.29 462.2,585.73 462.7,586.73 463.2,588.01 463.7,589.16 464.2,589.77 464.7,589.62 465.2,588.75 465.7,587.44 466.2,586.15 466.7,585.35 467.2,585.36 467.7,586.22 468.2,587.72 468.7,589.41 469.2,590.81 469.7,591.53 470.2,591.38 470.7,590.46" stroke="#111" stroke-width="0.85" fill="none" stroke-linejoin="round"/>
<rect x="527.1" y="541.18" width="19.8" height="34.02" fill="#d3d3d6" stroke="#1a1a1a" stroke-width="0.8"/>
<rect x="557.5" y="504.22" width="19.8" height="70.98" fill="#6fcf7a" stroke="#1a1a1a" stroke-width="0.8"/>
<line x1="516.9" y1="470.3" x2="516.9" y2="575.2" stroke="#1a1a1a" stroke-width="0.8"/>
<line x1="516.9" y1="575.2" x2="587.8" y2="575.2" stroke="#1a1a1a" stroke-width="0.8"/>
<line x1="514.7" y1="575.2" x2="516.9" y2="575.2" stroke="#1a1a1a" stroke-width="0.8"/>
<text x="513.7" y="578.5" font-size="9.2" fill="#1a1a1a" stroke="#1a1a1a" stroke-width="0.22" text-anchor="end">0.00</text>
<line x1="514.7" y1="554.2" x2="516.9" y2="554.2" stroke="#1a1a1a" stroke-width="0.8"/>
<text x="513.7" y="557.5" font-size="9.2" fill="#1a1a1a" stroke="#1a1a1a" stroke-width="0.22" text-anchor="end">0.05</text>
<line x1="514.7" y1="533.2" x2="516.9" y2="533.2" stroke="#1a1a1a" stroke-width="0.8"/>
<text x="513.7" y="536.5" font-size="9.2" fill="#1a1a1a" stroke="#1a1a1a" stroke-width="0.22" text-anchor="end">0.10</text>
<line x1="514.7" y1="512.2" x2="516.9" y2="512.2" stroke="#1a1a1a" stroke-width="0.8"/>
<text x="513.7" y="515.5" font-size="9.2" fill="#1a1a1a" stroke="#1a1a1a" stroke-width="0.22" text-anchor="end">0.15</text>
<line x1="514.7" y1="491.2" x2="516.9" y2="491.2" stroke="#1a1a1a" stroke-width="0.8"/>
<text x="513.7" y="494.5" font-size="9.2" fill="#1a1a1a" stroke="#1a1a1a" stroke-width="0.22" text-anchor="end">0.20</text>
<line x1="514.7" y1="470.2" x2="516.9" y2="470.2" stroke="#1a1a1a" stroke-width="0.8"/>
<text x="513.7" y="473.5" font-size="9.2" fill="#1a1a1a" stroke="#1a1a1a" stroke-width="0.22" text-anchor="end">0.25</text>
<line x1="537" y1="538.66" x2="537" y2="541.18" stroke="#1a1a1a" stroke-width="0.8"/>
<line x1="534.5" y1="538.66" x2="539.5" y2="538.66" stroke="#1a1a1a" stroke-width="0.8"/>
<line x1="567.4" y1="502.12" x2="567.4" y2="504.22" stroke="#1a1a1a" stroke-width="0.8"/>
<line x1="564.9" y1="502.12" x2="569.9" y2="502.12" stroke="#1a1a1a" stroke-width="0.8"/>
<line x1="534.5" y1="477.2" x2="566.2" y2="477.2" stroke="#1a1a1a" stroke-width="0.8"/>
<text x="550.35" y="474.7" font-size="8.5" fill="#1a1a1a" stroke="#1a1a1a" stroke-width="0.22" text-anchor="middle">***</text>
<text x="492.1" y="558.9" font-size="9.2" fill="#1a1a1a" stroke="#1a1a1a" stroke-width="0.22" transform="rotate(-90 492.1 558.9)">Frequency (Hz)</text>
<circle cx="529" cy="530.4" r="2.2" fill="#fff" stroke="#1a1a1a" stroke-width="0.75"/>
<circle cx="533.5" cy="532.5" r="2.2" fill="#fff" stroke="#1a1a1a" stroke-width="0.75"/>
<circle cx="537.2" cy="534.7" r="2.2" fill="#fff" stroke="#1a1a1a" stroke-width="0.75"/>
<circle cx="542.2" cy="534" r="2.2" fill="#fff" stroke="#1a1a1a" stroke-width="0.75"/>
<circle cx="544.5" cy="535.4" r="2.2" fill="#fff" stroke="#1a1a1a" stroke-width="0.75"/>
<circle cx="528.3" cy="544" r="2.2" fill="#fff" stroke="#1a1a1a" stroke-width="0.75"/>
<circle cx="533.3" cy="542.8" r="2.2" fill="#fff" stroke="#1a1a1a" stroke-width="0.75"/>
<circle cx="539" cy="542.3" r="2.2" fill="#fff" stroke="#1a1a1a" stroke-width="0.75"/>
<circle cx="545" cy="542" r="2.2" fill="#fff" stroke="#1a1a1a" stroke-width="0.75"/>
<circle cx="537" cy="549" r="2.2" fill="#fff" stroke="#1a1a1a" stroke-width="0.75"/>
<circle cx="537.5" cy="557" r="2.2" fill="#fff" stroke="#1a1a1a" stroke-width="0.75"/>
<circle cx="567.4" cy="489.1" r="2.2" fill="#fff" stroke="#1a1a1a" stroke-width="0.75"/>
<circle cx="559.3" cy="500.7" r="2.2" fill="#fff" stroke="#1a1a1a" stroke-width="0.75"/>
<circle cx="563.7" cy="499.5" r="2.2" fill="#fff" stroke="#1a1a1a" stroke-width="0.75"/>
<circle cx="567.9" cy="499.5" r="2.2" fill="#fff" stroke="#1a1a1a" stroke-width="0.75"/>
<circle cx="572.1" cy="500.7" r="2.2" fill="#fff" stroke="#1a1a1a" stroke-width="0.75"/>
<circle cx="575.3" cy="501.5" r="2.2" fill="#fff" stroke="#1a1a1a" stroke-width="0.75"/>
<circle cx="559.3" cy="509.4" r="2.2" fill="#fff" stroke="#1a1a1a" stroke-width="0.75"/>
<circle cx="563.7" cy="509.9" r="2.2" fill="#fff" stroke="#1a1a1a" stroke-width="0.75"/>
<circle cx="567.9" cy="509.4" r="2.2" fill="#fff" stroke="#1a1a1a" stroke-width="0.75"/>
<circle cx="571.6" cy="510.6" r="2.2" fill="#fff" stroke="#1a1a1a" stroke-width="0.75"/>
<circle cx="572.9" cy="514.8" r="2.2" fill="#fff" stroke="#1a1a1a" stroke-width="0.75"/>
<rect x="624.6" y="516.17" width="20.4" height="58.93" fill="#d3d3d6" stroke="#1a1a1a" stroke-width="0.8"/>
<rect x="654.3" y="550.14" width="20.5" height="24.96" fill="#6fcf7a" stroke="#1a1a1a" stroke-width="0.8"/>
<line x1="614.1" y1="470.7" x2="614.1" y2="575.1" stroke="#1a1a1a" stroke-width="0.8"/>
<line x1="614.1" y1="575.1" x2="685" y2="575.1" stroke="#1a1a1a" stroke-width="0.8"/>
<line x1="611.9" y1="575.1" x2="614.1" y2="575.1" stroke="#1a1a1a" stroke-width="0.8"/>
<text x="610.9" y="578.4" font-size="9.2" fill="#1a1a1a" stroke="#1a1a1a" stroke-width="0.22" text-anchor="end">0</text>
<line x1="611.9" y1="540.44" x2="614.1" y2="540.44" stroke="#1a1a1a" stroke-width="0.8"/>
<text x="610.9" y="543.74" font-size="9.2" fill="#1a1a1a" stroke="#1a1a1a" stroke-width="0.22" text-anchor="end">50</text>
<line x1="611.9" y1="505.77" x2="614.1" y2="505.77" stroke="#1a1a1a" stroke-width="0.8"/>
<text x="610.9" y="509.07" font-size="9.2" fill="#1a1a1a" stroke="#1a1a1a" stroke-width="0.22" text-anchor="end">100</text>
<line x1="611.9" y1="471.11" x2="614.1" y2="471.11" stroke="#1a1a1a" stroke-width="0.8"/>
<text x="610.9" y="474.41" font-size="9.2" fill="#1a1a1a" stroke="#1a1a1a" stroke-width="0.22" text-anchor="end">150</text>
<line x1="634.8" y1="512.01" x2="634.8" y2="516.17" stroke="#1a1a1a" stroke-width="0.8"/>
<line x1="632.3" y1="512.01" x2="637.3" y2="512.01" stroke="#1a1a1a" stroke-width="0.8"/>
<line x1="664.55" y1="547.37" x2="664.55" y2="550.14" stroke="#1a1a1a" stroke-width="0.8"/>
<line x1="662.05" y1="547.37" x2="667.05" y2="547.37" stroke="#1a1a1a" stroke-width="0.8"/>
<line x1="634.5" y1="477.1" x2="664.6" y2="477.1" stroke="#1a1a1a" stroke-width="0.8"/>
<text x="649.55" y="474.6" font-size="8.5" fill="#1a1a1a" stroke="#1a1a1a" stroke-width="0.22" text-anchor="middle">***</text>
<text x="592.6" y="560.8" font-size="9.2" fill="#1a1a1a" stroke="#1a1a1a" stroke-width="0.22" transform="rotate(-90 592.6 560.8)">Amplitude (μV)</text>
<circle cx="633.9" cy="482.1" r="2.2" fill="#fff" stroke="#1a1a1a" stroke-width="0.75"/>
<circle cx="634.5" cy="501.4" r="2.2" fill="#fff" stroke="#1a1a1a" stroke-width="0.75"/>
<circle cx="628.1" cy="513.6" r="2.2" fill="#fff" stroke="#1a1a1a" stroke-width="0.75"/>
<circle cx="633.9" cy="515.1" r="2.2" fill="#fff" stroke="#1a1a1a" stroke-width="0.75"/>
<circle cx="636.9" cy="518" r="2.2" fill="#fff" stroke="#1a1a1a" stroke-width="0.75"/>
<circle cx="631" cy="521.5" r="2.2" fill="#fff" stroke="#1a1a1a" stroke-width="0.75"/>
<circle cx="628.1" cy="526.8" r="2.2" fill="#fff" stroke="#1a1a1a" stroke-width="0.75"/>
<circle cx="633.9" cy="528.2" r="2.2" fill="#fff" stroke="#1a1a1a" stroke-width="0.75"/>
<circle cx="636.9" cy="527.7" r="2.2" fill="#fff" stroke="#1a1a1a" stroke-width="0.75"/>
<circle cx="642.7" cy="529.7" r="2.2" fill="#fff" stroke="#1a1a1a" stroke-width="0.75"/>
<circle cx="635" cy="524" r="2.2" fill="#fff" stroke="#1a1a1a" stroke-width="0.75"/>
<circle cx="660.2" cy="529.7" r="2.2" fill="#fff" stroke="#1a1a1a" stroke-width="0.75"/>
<circle cx="667.5" cy="531.7" r="2.2" fill="#fff" stroke="#1a1a1a" stroke-width="0.75"/>
<circle cx="657.3" cy="547" r="2.2" fill="#fff" stroke="#1a1a1a" stroke-width="0.75"/>
<circle cx="663.1" cy="547.6" r="2.2" fill="#fff" stroke="#1a1a1a" stroke-width="0.75"/>
<circle cx="666" cy="549.4" r="2.2" fill="#fff" stroke="#1a1a1a" stroke-width="0.75"/>
<circle cx="669" cy="550" r="2.2" fill="#fff" stroke="#1a1a1a" stroke-width="0.75"/>
<circle cx="660.2" cy="554.3" r="2.2" fill="#fff" stroke="#1a1a1a" stroke-width="0.75"/>
<circle cx="666" cy="555.8" r="2.2" fill="#fff" stroke="#1a1a1a" stroke-width="0.75"/>
<circle cx="655.8" cy="562" r="2.2" fill="#fff" stroke="#1a1a1a" stroke-width="0.75"/>
<circle cx="668.9" cy="562.9" r="2.2" fill="#fff" stroke="#1a1a1a" stroke-width="0.75"/>
<circle cx="662" cy="557" r="2.2" fill="#fff" stroke="#1a1a1a" stroke-width="0.75"/>
<circle cx="497" cy="587.8" r="1.8" fill="#fff" stroke="#1a1a1a" stroke-width="0.8"/>
<text x="503.2" y="590.6" font-size="9.35" fill="#1a1a1a" stroke="#1a1a1a" stroke-width="0.22">Morphine + ACSF</text>
<circle cx="586.6" cy="587.7" r="2.1" fill="#6fcf7a" stroke="#1a1a1a" stroke-width="0.6"/>
<text x="593.6" y="590.6" font-size="9.35" fill="#1a1a1a" stroke="#1a1a1a" stroke-width="0.22">Morphine + Naloxone</text>
</svg>
</body></html>
